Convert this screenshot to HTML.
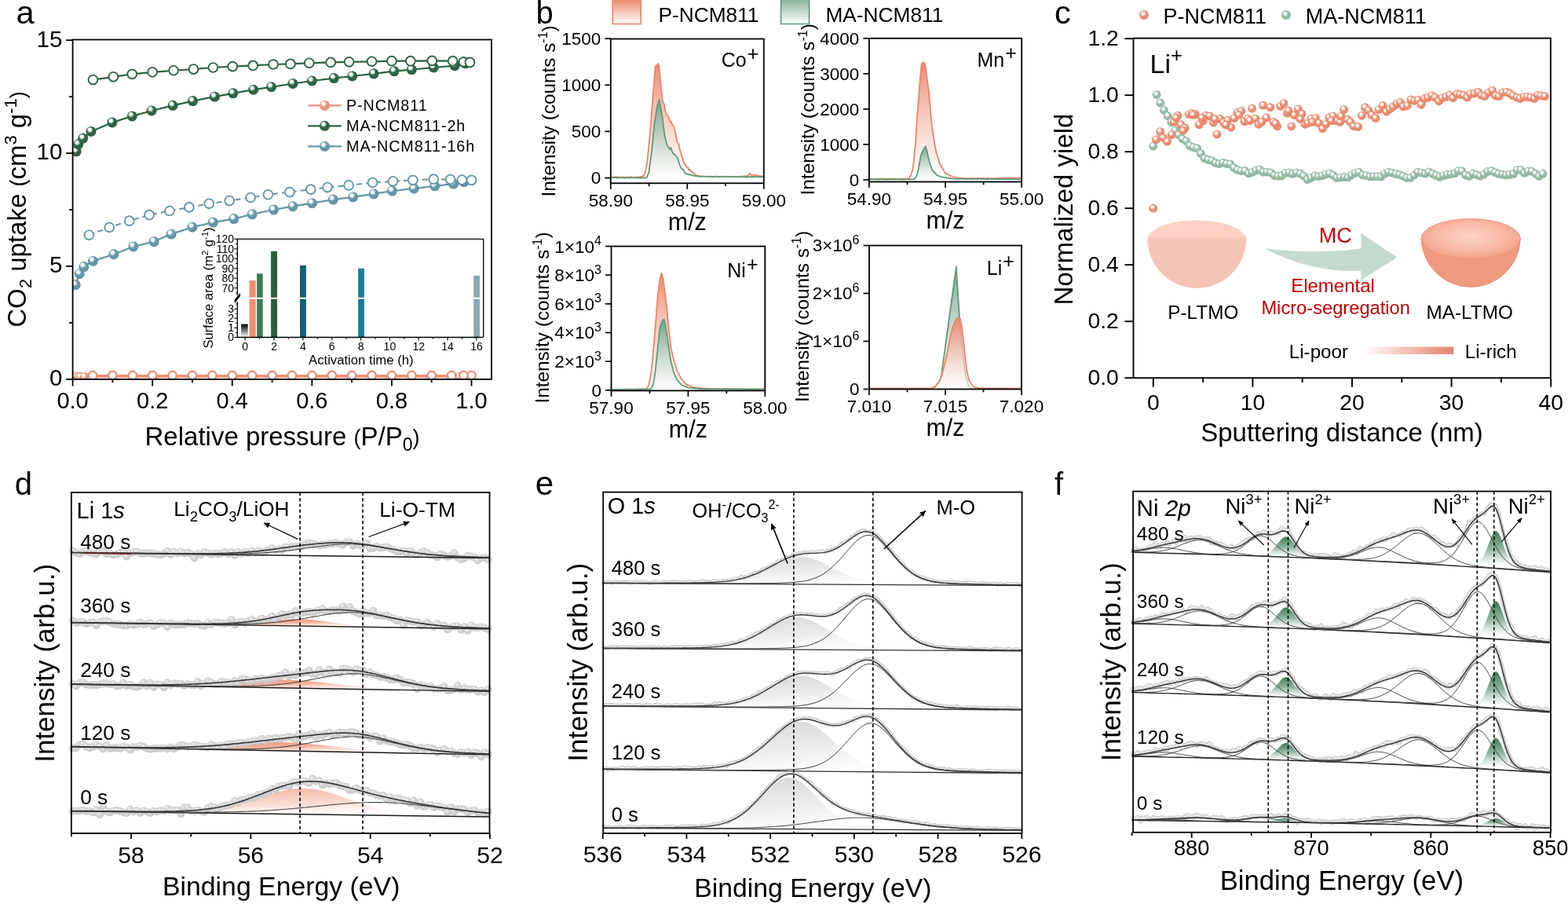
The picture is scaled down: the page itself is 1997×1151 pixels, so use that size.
<!DOCTYPE html>
<html><head><meta charset="utf-8"><title>Figure</title>
<style>html,body{margin:0;padding:0;background:#fff;}svg{display:block;}</style></head>
<body><svg width="1997" height="1151" viewBox="0 0 1997 1151" font-family="'Liberation Sans', Arial, sans-serif">
<defs><radialGradient id="bS" cx="0.42" cy="0.4" r="0.62" fx="0.36" fy="0.3"><stop offset="0" stop-color="#fff"/><stop offset="0.22" stop-color="#fff" stop-opacity="0.95"/><stop offset="0.5" stop-color="#EC9276"/><stop offset="0.85" stop-color="#EC9276"/><stop offset="1" stop-color="#E5866A"/></radialGradient><radialGradient id="bG" cx="0.42" cy="0.4" r="0.62" fx="0.36" fy="0.3"><stop offset="0" stop-color="#fff"/><stop offset="0.22" stop-color="#fff" stop-opacity="0.95"/><stop offset="0.5" stop-color="#2B6444"/><stop offset="0.85" stop-color="#2B6444"/><stop offset="1" stop-color="#265A3C"/></radialGradient><radialGradient id="bT" cx="0.42" cy="0.4" r="0.62" fx="0.36" fy="0.3"><stop offset="0" stop-color="#fff"/><stop offset="0.22" stop-color="#fff" stop-opacity="0.95"/><stop offset="0.5" stop-color="#6396A8"/><stop offset="0.85" stop-color="#6396A8"/><stop offset="1" stop-color="#5A8C9E"/></radialGradient><linearGradient id="gBlk" x1="0" y1="0" x2="0" y2="1"><stop offset="0" stop-color="#000"/><stop offset="1" stop-color="#fff"/></linearGradient><clipPath id="clipA"><rect x="92.6" y="50.5" width="533.40" height="432.40"/></clipPath><linearGradient id="gSal" x1="0" y1="0" x2="0" y2="1"><stop offset="0" stop-color="#EB8467" stop-opacity="0.95"/><stop offset="1" stop-color="#fff" stop-opacity="0.6"/></linearGradient><linearGradient id="gGrn" x1="0" y1="0" x2="0" y2="1"><stop offset="0" stop-color="#6FA286" stop-opacity="0.95"/><stop offset="1" stop-color="#fff" stop-opacity="0.6"/></linearGradient><linearGradient id="gSalL" x1="0" y1="0" x2="0" y2="1"><stop offset="0" stop-color="#EB8467"/><stop offset="1" stop-color="#fff"/></linearGradient><linearGradient id="gGrnL" x1="0" y1="0" x2="0" y2="1"><stop offset="0" stop-color="#86B096"/><stop offset="1" stop-color="#fff"/></linearGradient><radialGradient id="cS" cx="0.45" cy="0.42" r="0.6" fx="0.38" fy="0.32"><stop offset="0" stop-color="#fff"/><stop offset="0.2" stop-color="#fff" stop-opacity="0.9"/><stop offset="0.52" stop-color="#EC8D70"/><stop offset="1" stop-color="#E88469"/></radialGradient><radialGradient id="cG" cx="0.45" cy="0.42" r="0.6" fx="0.38" fy="0.32"><stop offset="0" stop-color="#fff"/><stop offset="0.2" stop-color="#fff" stop-opacity="0.9"/><stop offset="0.52" stop-color="#97BCA7"/><stop offset="1" stop-color="#8CB39D"/></radialGradient><radialGradient id="bowlTop" cx="0.5" cy="0.45" r="0.6"><stop offset="0" stop-color="#FDD3C6"/><stop offset="0.6" stop-color="#F8B8A4"/><stop offset="1" stop-color="#F39A80"/></radialGradient><linearGradient id="liGrad" x1="0" y1="0" x2="1" y2="0"><stop offset="0" stop-color="#fff"/><stop offset="1" stop-color="#E8826A"/></linearGradient><radialGradient id="gBall" cx="0.45" cy="0.42" r="0.6" fx="0.4" fy="0.35"><stop offset="0" stop-color="#f4f4f4"/><stop offset="0.45" stop-color="#d6d6d6"/><stop offset="1" stop-color="#c6c6c6"/></radialGradient><linearGradient id="dSal" x1="0.15" y1="0" x2="0.85" y2="0.9"><stop offset="0" stop-color="#EC876A"/><stop offset="0.45" stop-color="#F2A58E" stop-opacity="0.85"/><stop offset="1" stop-color="#fff" stop-opacity="0"/></linearGradient><linearGradient id="dSal0" x1="0.3" y1="0" x2="0.6" y2="1"><stop offset="0" stop-color="#F3B4A1"/><stop offset="0.6" stop-color="#F8D6CB" stop-opacity="0.8"/><stop offset="1" stop-color="#fff" stop-opacity="0"/></linearGradient><marker id="ah" viewBox="0 0 10 10" refX="9" refY="5" markerWidth="8" markerHeight="8" markerUnits="userSpaceOnUse" orient="auto"><path d="M0,0.5 L10,5 L0,9.5 Z" fill="#000"/></marker><linearGradient id="eGray" x1="0.2" y1="0" x2="0.75" y2="1"><stop offset="0" stop-color="#d6d6d6"/><stop offset="0.55" stop-color="#eeeeee"/><stop offset="1" stop-color="#fff" stop-opacity="0.3"/></linearGradient><marker id="ah2" viewBox="0 0 10 10" refX="9" refY="5" markerWidth="7" markerHeight="7" markerUnits="userSpaceOnUse" orient="auto"><path d="M0,1 L10,5 L0,9 Z" fill="#000"/></marker><linearGradient id="fGrn" x1="0" y1="0" x2="0" y2="1"><stop offset="0" stop-color="#3D7C59"/><stop offset="0.45" stop-color="#8FB7A0"/><stop offset="0.85" stop-color="#fff" stop-opacity="0.6"/><stop offset="1" stop-color="#fff" stop-opacity="0.3"/></linearGradient></defs>
<rect width="1997" height="1151" fill="#fff"/>
<g clip-path="url(#clipA)">
<path d="M95.1,480 97.7,480 100.2,480 102.8,480 107.8,480 118,480 143.4,480 168.8,480 194.2,480 219.6,480 245,480 270.4,480 295.8,480 321.2,480 346.5,480 371.9,480 397.3,480 422.7,480 448.1,480 473.5,480 498.9,480 524.3,480 549.7,480 575.1,480 585.3,480 592.9,480 598,480" fill="none" stroke="#EC9276" stroke-width="2.2" stroke-linejoin="round" />
<path d="M118,478 143.4,478 168.8,478 194.2,478 219.6,478 245,478 270.4,478 295.8,478 321.2,478 346.5,478 371.9,478 397.3,478 422.7,478 448.1,478 473.5,478 498.9,478 524.3,478 549.7,478 575.1,478 590.3,478 600.5,478" fill="none" stroke="#EC9276" stroke-width="2.2" stroke-linejoin="round" />
<circle cx="95.14" cy="480.02" r="6" fill="url(#bS)"/>
<circle cx="97.68" cy="480.02" r="6" fill="url(#bS)"/>
<circle cx="100.22" cy="480.02" r="6" fill="url(#bS)"/>
<circle cx="102.76" cy="480.02" r="6" fill="url(#bS)"/>
<circle cx="107.84" cy="480.02" r="6" fill="url(#bS)"/>
<circle cx="117.99" cy="480.02" r="6" fill="url(#bS)"/>
<circle cx="143.39" cy="480.02" r="6" fill="url(#bS)"/>
<circle cx="168.78" cy="480.02" r="6" fill="url(#bS)"/>
<circle cx="194.18" cy="480.02" r="6" fill="url(#bS)"/>
<circle cx="219.57" cy="480.02" r="6" fill="url(#bS)"/>
<circle cx="244.97" cy="480.02" r="6" fill="url(#bS)"/>
<circle cx="270.37" cy="480.02" r="6" fill="url(#bS)"/>
<circle cx="295.76" cy="480.02" r="6" fill="url(#bS)"/>
<circle cx="321.15" cy="480.02" r="6" fill="url(#bS)"/>
<circle cx="346.55" cy="480.02" r="6" fill="url(#bS)"/>
<circle cx="371.95" cy="480.02" r="6" fill="url(#bS)"/>
<circle cx="397.34" cy="480.02" r="6" fill="url(#bS)"/>
<circle cx="422.74" cy="480.02" r="6" fill="url(#bS)"/>
<circle cx="448.13" cy="480.02" r="6" fill="url(#bS)"/>
<circle cx="473.52" cy="480.02" r="6" fill="url(#bS)"/>
<circle cx="498.92" cy="480.02" r="6" fill="url(#bS)"/>
<circle cx="524.31" cy="480.02" r="6" fill="url(#bS)"/>
<circle cx="549.71" cy="480.02" r="6" fill="url(#bS)"/>
<circle cx="575.1" cy="480.02" r="6" fill="url(#bS)"/>
<circle cx="585.26" cy="480.02" r="6" fill="url(#bS)"/>
<circle cx="592.88" cy="480.02" r="6" fill="url(#bS)"/>
<circle cx="597.96" cy="480.02" r="6" fill="url(#bS)"/>
<circle cx="117.99" cy="478.01" r="5.2" fill="#fff" stroke="#EC9276" stroke-width="2.4"/>
<circle cx="143.39" cy="478.01" r="5.2" fill="#fff" stroke="#EC9276" stroke-width="2.4"/>
<circle cx="168.78" cy="478.01" r="5.2" fill="#fff" stroke="#EC9276" stroke-width="2.4"/>
<circle cx="194.18" cy="478.01" r="5.2" fill="#fff" stroke="#EC9276" stroke-width="2.4"/>
<circle cx="219.57" cy="478.01" r="5.2" fill="#fff" stroke="#EC9276" stroke-width="2.4"/>
<circle cx="244.97" cy="478.01" r="5.2" fill="#fff" stroke="#EC9276" stroke-width="2.4"/>
<circle cx="270.37" cy="478.01" r="5.2" fill="#fff" stroke="#EC9276" stroke-width="2.4"/>
<circle cx="295.76" cy="478.01" r="5.2" fill="#fff" stroke="#EC9276" stroke-width="2.4"/>
<circle cx="321.15" cy="478.01" r="5.2" fill="#fff" stroke="#EC9276" stroke-width="2.4"/>
<circle cx="346.55" cy="478.01" r="5.2" fill="#fff" stroke="#EC9276" stroke-width="2.4"/>
<circle cx="371.95" cy="478.01" r="5.2" fill="#fff" stroke="#EC9276" stroke-width="2.4"/>
<circle cx="397.34" cy="478.01" r="5.2" fill="#fff" stroke="#EC9276" stroke-width="2.4"/>
<circle cx="422.74" cy="478.01" r="5.2" fill="#fff" stroke="#EC9276" stroke-width="2.4"/>
<circle cx="448.13" cy="478.01" r="5.2" fill="#fff" stroke="#EC9276" stroke-width="2.4"/>
<circle cx="473.52" cy="478.01" r="5.2" fill="#fff" stroke="#EC9276" stroke-width="2.4"/>
<circle cx="498.92" cy="478.01" r="5.2" fill="#fff" stroke="#EC9276" stroke-width="2.4"/>
<circle cx="524.31" cy="478.01" r="5.2" fill="#fff" stroke="#EC9276" stroke-width="2.4"/>
<circle cx="549.71" cy="478.01" r="5.2" fill="#fff" stroke="#EC9276" stroke-width="2.4"/>
<circle cx="575.1" cy="478.01" r="5.2" fill="#fff" stroke="#EC9276" stroke-width="2.4"/>
<circle cx="590.34" cy="478.01" r="5.2" fill="#fff" stroke="#EC9276" stroke-width="2.4"/>
<circle cx="600.5" cy="478.01" r="5.2" fill="#fff" stroke="#EC9276" stroke-width="2.4"/>
<path d="M96.2,362.6 101.2,348.5 106.8,339.6 118.5,332.4 144.9,323.7 169.8,314 196.2,307.6 218.1,298.1 245,289.2 271.4,283.2 297.8,278.6 321.2,272.8 348.6,267 373,262.7 397.3,258.7 424.3,254.1 449.7,250.9 476.1,246.9 499.4,243.2 527.4,240 553.8,236.8 577.6,234.2 590.8,231.7 600.5,229.3" fill="none" stroke="#6396A8" stroke-width="2.2" stroke-linejoin="round" />
<circle cx="96.16" cy="362.6" r="6.5" fill="url(#bT)"/>
<circle cx="101.23" cy="348.5" r="6.5" fill="url(#bT)"/>
<circle cx="106.82" cy="339.58" r="6.5" fill="url(#bT)"/>
<circle cx="118.5" cy="332.38" r="6.5" fill="url(#bT)"/>
<circle cx="144.91" cy="323.75" r="6.5" fill="url(#bT)"/>
<circle cx="169.8" cy="313.96" r="6.5" fill="url(#bT)"/>
<circle cx="196.21" cy="307.63" r="6.5" fill="url(#bT)"/>
<circle cx="218.05" cy="298.13" r="6.5" fill="url(#bT)"/>
<circle cx="244.97" cy="289.21" r="6.5" fill="url(#bT)"/>
<circle cx="271.38" cy="283.17" r="6.5" fill="url(#bT)"/>
<circle cx="297.79" cy="278.56" r="6.5" fill="url(#bT)"/>
<circle cx="321.15" cy="272.81" r="6.5" fill="url(#bT)"/>
<circle cx="348.58" cy="267.05" r="6.5" fill="url(#bT)"/>
<circle cx="372.96" cy="262.73" r="6.5" fill="url(#bT)"/>
<circle cx="397.34" cy="258.7" r="6.5" fill="url(#bT)"/>
<circle cx="424.26" cy="254.1" r="6.5" fill="url(#bT)"/>
<circle cx="449.65" cy="250.93" r="6.5" fill="url(#bT)"/>
<circle cx="476.06" cy="246.9" r="6.5" fill="url(#bT)"/>
<circle cx="499.43" cy="243.16" r="6.5" fill="url(#bT)"/>
<circle cx="527.36" cy="240" r="6.5" fill="url(#bT)"/>
<circle cx="553.77" cy="236.83" r="6.5" fill="url(#bT)"/>
<circle cx="577.64" cy="234.24" r="6.5" fill="url(#bT)"/>
<circle cx="590.85" cy="231.65" r="6.5" fill="url(#bT)"/>
<circle cx="600.5" cy="229.35" r="6.5" fill="url(#bT)"/>
<path d="M113.4,299.3 139.3,289.5 164.7,281.2 190.1,273.7 216,268.5 240.9,263.9 266.3,259.3 292.2,255.5 319.1,251.5 341.5,247.8 368.9,244.6 395.8,241.1 417.1,238.6 444.1,236 474.5,232.5 500.4,230.8 525.8,229.3 552.2,228.2 573.6,228.5 588.3,229.1 600.5,229.3" fill="none" stroke="#6396A8" stroke-width="2.0" stroke-linejoin="round" stroke-dasharray="7 5"/>
<circle cx="113.42" cy="299.28" r="5.9" fill="#fff" stroke="#6396A8" stroke-width="1.9"/>
<circle cx="139.33" cy="289.5" r="5.9" fill="#fff" stroke="#6396A8" stroke-width="1.9"/>
<circle cx="164.72" cy="281.15" r="5.9" fill="#fff" stroke="#6396A8" stroke-width="1.9"/>
<circle cx="190.12" cy="273.67" r="5.9" fill="#fff" stroke="#6396A8" stroke-width="1.9"/>
<circle cx="216.02" cy="268.49" r="5.9" fill="#fff" stroke="#6396A8" stroke-width="1.9"/>
<circle cx="240.91" cy="263.88" r="5.9" fill="#fff" stroke="#6396A8" stroke-width="1.9"/>
<circle cx="266.3" cy="259.28" r="5.9" fill="#fff" stroke="#6396A8" stroke-width="1.9"/>
<circle cx="292.2" cy="255.54" r="5.9" fill="#fff" stroke="#6396A8" stroke-width="1.9"/>
<circle cx="319.12" cy="251.51" r="5.9" fill="#fff" stroke="#6396A8" stroke-width="1.9"/>
<circle cx="341.47" cy="247.77" r="5.9" fill="#fff" stroke="#6396A8" stroke-width="1.9"/>
<circle cx="368.9" cy="244.6" r="5.9" fill="#fff" stroke="#6396A8" stroke-width="1.9"/>
<circle cx="395.82" cy="241.15" r="5.9" fill="#fff" stroke="#6396A8" stroke-width="1.9"/>
<circle cx="417.15" cy="238.56" r="5.9" fill="#fff" stroke="#6396A8" stroke-width="1.9"/>
<circle cx="444.07" cy="235.97" r="5.9" fill="#fff" stroke="#6396A8" stroke-width="1.9"/>
<circle cx="474.54" cy="232.51" r="5.9" fill="#fff" stroke="#6396A8" stroke-width="1.9"/>
<circle cx="500.44" cy="230.79" r="5.9" fill="#fff" stroke="#6396A8" stroke-width="1.9"/>
<circle cx="525.84" cy="229.35" r="5.9" fill="#fff" stroke="#6396A8" stroke-width="1.9"/>
<circle cx="552.25" cy="228.2" r="5.9" fill="#fff" stroke="#6396A8" stroke-width="1.9"/>
<circle cx="573.58" cy="228.48" r="5.9" fill="#fff" stroke="#6396A8" stroke-width="1.9"/>
<circle cx="588.31" cy="229.06" r="5.9" fill="#fff" stroke="#6396A8" stroke-width="1.9"/>
<circle cx="600.5" cy="229.35" r="5.9" fill="#fff" stroke="#6396A8" stroke-width="1.9"/>
<path d="M97.2,192.8 99.7,183.6 105.8,176.1 116,167.5 142.9,156 168.3,147.9 193.2,141 220.1,134.4 245.5,128.6 273.4,123.1 296.8,118.8 322.7,114.2 345.5,110.8 373,106.5 397.3,103 425.3,99.6 448.6,97 476.1,93.8 502,90.6 524.3,88.6 552.2,86 579.2,83.7 592.9,80.8 598.5,79.4" fill="none" stroke="#2B6444" stroke-width="2.2" stroke-linejoin="round" />
<circle cx="97.17" cy="192.8" r="6.5" fill="url(#bG)"/>
<circle cx="99.71" cy="183.59" r="6.5" fill="url(#bG)"/>
<circle cx="105.81" cy="176.11" r="6.5" fill="url(#bG)"/>
<circle cx="115.96" cy="167.47" r="6.5" fill="url(#bG)"/>
<circle cx="142.88" cy="155.96" r="6.5" fill="url(#bG)"/>
<circle cx="168.28" cy="147.9" r="6.5" fill="url(#bG)"/>
<circle cx="193.16" cy="140.99" r="6.5" fill="url(#bG)"/>
<circle cx="220.08" cy="134.37" r="6.5" fill="url(#bG)"/>
<circle cx="245.48" cy="128.62" r="6.5" fill="url(#bG)"/>
<circle cx="273.41" cy="123.15" r="6.5" fill="url(#bG)"/>
<circle cx="296.78" cy="118.83" r="6.5" fill="url(#bG)"/>
<circle cx="322.68" cy="114.23" r="6.5" fill="url(#bG)"/>
<circle cx="345.53" cy="110.77" r="6.5" fill="url(#bG)"/>
<circle cx="372.96" cy="106.46" r="6.5" fill="url(#bG)"/>
<circle cx="397.34" cy="103" r="6.5" fill="url(#bG)"/>
<circle cx="425.27" cy="99.55" r="6.5" fill="url(#bG)"/>
<circle cx="448.64" cy="96.96" r="6.5" fill="url(#bG)"/>
<circle cx="476.06" cy="93.79" r="6.5" fill="url(#bG)"/>
<circle cx="501.97" cy="90.63" r="6.5" fill="url(#bG)"/>
<circle cx="524.31" cy="88.61" r="6.5" fill="url(#bG)"/>
<circle cx="552.25" cy="86.02" r="6.5" fill="url(#bG)"/>
<circle cx="579.17" cy="83.72" r="6.5" fill="url(#bG)"/>
<circle cx="592.88" cy="80.84" r="6.5" fill="url(#bG)"/>
<circle cx="598.47" cy="79.4" r="6.5" fill="url(#bG)"/>
<path d="M118.5,101.6 144.4,97.8 168.3,94.4 194.2,91.8 221.1,89.8 246.5,88 271.4,86 296.3,84.6 322.2,83.4 348.1,82 369.9,81.4 393.8,80.3 421.2,79.4 444.6,78.8 473.5,78.3 498.9,77.7 522.8,77.7 550.2,77.4 576.6,77.7 590.3,78.8 598.5,79.4" fill="none" stroke="#2B6444" stroke-width="2.2" stroke-linejoin="round" />
<circle cx="118.5" cy="101.56" r="5.9" fill="#fff" stroke="#2B6444" stroke-width="1.9"/>
<circle cx="144.41" cy="97.82" r="5.9" fill="#fff" stroke="#2B6444" stroke-width="1.9"/>
<circle cx="168.28" cy="94.37" r="5.9" fill="#fff" stroke="#2B6444" stroke-width="1.9"/>
<circle cx="194.18" cy="91.78" r="5.9" fill="#fff" stroke="#2B6444" stroke-width="1.9"/>
<circle cx="221.1" cy="89.77" r="5.9" fill="#fff" stroke="#2B6444" stroke-width="1.9"/>
<circle cx="246.49" cy="88.04" r="5.9" fill="#fff" stroke="#2B6444" stroke-width="1.9"/>
<circle cx="271.38" cy="86.02" r="5.9" fill="#fff" stroke="#2B6444" stroke-width="1.9"/>
<circle cx="296.27" cy="84.58" r="5.9" fill="#fff" stroke="#2B6444" stroke-width="1.9"/>
<circle cx="322.17" cy="83.43" r="5.9" fill="#fff" stroke="#2B6444" stroke-width="1.9"/>
<circle cx="348.07" cy="81.99" r="5.9" fill="#fff" stroke="#2B6444" stroke-width="1.9"/>
<circle cx="369.91" cy="81.42" r="5.9" fill="#fff" stroke="#2B6444" stroke-width="1.9"/>
<circle cx="393.78" cy="80.27" r="5.9" fill="#fff" stroke="#2B6444" stroke-width="1.9"/>
<circle cx="421.21" cy="79.4" r="5.9" fill="#fff" stroke="#2B6444" stroke-width="1.9"/>
<circle cx="444.57" cy="78.83" r="5.9" fill="#fff" stroke="#2B6444" stroke-width="1.9"/>
<circle cx="473.52" cy="78.25" r="5.9" fill="#fff" stroke="#2B6444" stroke-width="1.9"/>
<circle cx="498.92" cy="77.68" r="5.9" fill="#fff" stroke="#2B6444" stroke-width="1.9"/>
<circle cx="522.79" cy="77.68" r="5.9" fill="#fff" stroke="#2B6444" stroke-width="1.9"/>
<circle cx="550.22" cy="77.39" r="5.9" fill="#fff" stroke="#2B6444" stroke-width="1.9"/>
<circle cx="576.63" cy="77.68" r="5.9" fill="#fff" stroke="#2B6444" stroke-width="1.9"/>
<circle cx="590.34" cy="78.83" r="5.9" fill="#fff" stroke="#2B6444" stroke-width="1.9"/>
<circle cx="598.47" cy="79.4" r="5.9" fill="#fff" stroke="#2B6444" stroke-width="1.9"/>
</g>
<rect x="92.6" y="50.5" width="533.4" height="432.4" fill="none" stroke="#000" stroke-width="1.8"/>
<line x1="84.1" y1="482.9" x2="92.6" y2="482.9" stroke="#000" stroke-width="1.8" />
<text x="79.3" y="491.2" font-size="29.5" text-anchor="end" fill="#000" >0</text>
<line x1="84.1" y1="339" x2="92.6" y2="339" stroke="#000" stroke-width="1.8" />
<text x="79.3" y="347.3" font-size="29.5" text-anchor="end" fill="#000" >5</text>
<line x1="84.1" y1="195.1" x2="92.6" y2="195.1" stroke="#000" stroke-width="1.8" />
<text x="79.3" y="203.4" font-size="29.5" text-anchor="end" fill="#000" >10</text>
<line x1="84.1" y1="51.2" x2="92.6" y2="51.2" stroke="#000" stroke-width="1.8" />
<text x="79.3" y="59.5" font-size="29.5" text-anchor="end" fill="#000" >15</text>
<line x1="88.1" y1="410.95" x2="92.6" y2="410.95" stroke="#000" stroke-width="1.8" />
<line x1="88.1" y1="267.05" x2="92.6" y2="267.05" stroke="#000" stroke-width="1.8" />
<line x1="88.1" y1="123.15" x2="92.6" y2="123.15" stroke="#000" stroke-width="1.8" />
<line x1="92.6" y1="482.9" x2="92.6" y2="491.5" stroke="#000" stroke-width="1.8" />
<text x="92.6" y="520.2" font-size="29" text-anchor="middle" fill="#000" >0.0</text>
<line x1="143.39" y1="482.9" x2="143.39" y2="487.2" stroke="#000" stroke-width="1.8" />
<line x1="194.18" y1="482.9" x2="194.18" y2="491.5" stroke="#000" stroke-width="1.8" />
<text x="194.18" y="520.2" font-size="29" text-anchor="middle" fill="#000" >0.2</text>
<line x1="244.97" y1="482.9" x2="244.97" y2="487.2" stroke="#000" stroke-width="1.8" />
<line x1="295.76" y1="482.9" x2="295.76" y2="491.5" stroke="#000" stroke-width="1.8" />
<text x="295.76" y="520.2" font-size="29" text-anchor="middle" fill="#000" >0.4</text>
<line x1="346.55" y1="482.9" x2="346.55" y2="487.2" stroke="#000" stroke-width="1.8" />
<line x1="397.34" y1="482.9" x2="397.34" y2="491.5" stroke="#000" stroke-width="1.8" />
<text x="397.34" y="520.2" font-size="29" text-anchor="middle" fill="#000" >0.6</text>
<line x1="448.13" y1="482.9" x2="448.13" y2="487.2" stroke="#000" stroke-width="1.8" />
<line x1="498.92" y1="482.9" x2="498.92" y2="491.5" stroke="#000" stroke-width="1.8" />
<text x="498.92" y="520.2" font-size="29" text-anchor="middle" fill="#000" >0.8</text>
<line x1="549.71" y1="482.9" x2="549.71" y2="487.2" stroke="#000" stroke-width="1.8" />
<line x1="600.5" y1="482.9" x2="600.5" y2="491.5" stroke="#000" stroke-width="1.8" />
<text x="600.5" y="520.2" font-size="29" text-anchor="middle" fill="#000" >1.0</text>
<text x="359.5" y="567" font-size="33" text-anchor="middle">Relative pressure <tspan font-size="27" dy="-1.5">(</tspan><tspan dy="1.5">P/P</tspan><tspan font-size="23" dy="7">0</tspan><tspan font-size="27" dy="-8.5">)</tspan></text>
<text transform="translate(33,266.5) rotate(-90)" font-size="33" text-anchor="middle">CO<tspan font-size="22" dy="7">2</tspan><tspan dy="-7"> uptake </tspan><tspan font-size="27" dy="-1.5">(</tspan><tspan dy="1.5">cm</tspan><tspan font-size="22" dy="-12">3</tspan><tspan dy="12"> g</tspan><tspan font-size="22" dy="-12">-1</tspan><tspan font-size="27" dy="10.5">)</tspan></text>
<line x1="392.1" y1="134.3" x2="434.9" y2="134.3" stroke="#EC9276" stroke-width="2.3" />
<circle cx="413.5" cy="134.3" r="6.5" fill="url(#bS)"/>
<text x="441" y="141.3" font-size="19.8" text-anchor="start" fill="#000" letter-spacing="0.9">P-NCM811</text>
<line x1="392.1" y1="160.35" x2="434.9" y2="160.35" stroke="#2B6444" stroke-width="2.3" />
<circle cx="413.5" cy="160.35" r="6.5" fill="url(#bG)"/>
<text x="441" y="167.35" font-size="19.8" text-anchor="start" fill="#000" letter-spacing="0.9">MA-NCM811-2h</text>
<line x1="392.1" y1="186.4" x2="434.9" y2="186.4" stroke="#6396A8" stroke-width="2.3" />
<circle cx="413.5" cy="186.4" r="6.5" fill="url(#bT)"/>
<text x="441" y="193.4" font-size="19.8" text-anchor="start" fill="#000" letter-spacing="0.9">MA-NCM811-16h</text>
<rect x="307.1" y="412.7" width="8.6" height="16.8" fill="url(#gBlk)" stroke="none" stroke-width="1" />
<rect x="317.6" y="357.2" width="8.1" height="72.3" fill="#EE8F72" stroke="none" stroke-width="1" />
<rect x="327.1" y="348.4" width="7.6" height="81.1" fill="#3A7A55" stroke="none" stroke-width="1" />
<rect x="345.1" y="319.9" width="7.9" height="109.6" fill="#2A5E40" stroke="none" stroke-width="1" />
<rect x="382" y="338" width="7.9" height="91.5" fill="#1A5C73" stroke="none" stroke-width="1" />
<rect x="456.1" y="341.8" width="7.8" height="87.7" fill="#1B7C9C" stroke="none" stroke-width="1" />
<rect x="603.2" y="350.9" width="7.8" height="78.6" fill="#85ABB5" stroke="none" stroke-width="1" />
<line x1="302.3" y1="379.8" x2="615.7" y2="379.8" stroke="#fff" stroke-width="2" />
<path d="M302.3,429.5 V384 M302.3,376 V304.3 H615.7 V429.5" fill="none" stroke="#000" stroke-width="1.3"/>
<line x1="302.3" y1="429.5" x2="615.7" y2="429.5" stroke="#000" stroke-width="1.3" />
<line x1="298.8" y1="385" x2="305.8" y2="376" stroke="#000" stroke-width="1.6" />
<line x1="298.8" y1="383" x2="305.8" y2="374" stroke="#000" stroke-width="1.6" />
<line x1="298.3" y1="429.5" x2="302.3" y2="429.5" stroke="#000" stroke-width="1.1" />
<text x="298" y="434.4" font-size="14" text-anchor="end" fill="#000" >0</text>
<line x1="298.3" y1="417.4" x2="302.3" y2="417.4" stroke="#000" stroke-width="1.1" />
<text x="298" y="422.3" font-size="14" text-anchor="end" fill="#000" >1</text>
<line x1="298.3" y1="405.3" x2="302.3" y2="405.3" stroke="#000" stroke-width="1.1" />
<text x="298" y="410.2" font-size="14" text-anchor="end" fill="#000" >2</text>
<line x1="298.3" y1="393.2" x2="302.3" y2="393.2" stroke="#000" stroke-width="1.1" />
<text x="298" y="398.1" font-size="14" text-anchor="end" fill="#000" >3</text>
<line x1="300.1" y1="423.45" x2="302.3" y2="423.45" stroke="#000" stroke-width="1.0" />
<line x1="300.1" y1="411.35" x2="302.3" y2="411.35" stroke="#000" stroke-width="1.0" />
<line x1="300.1" y1="399.25" x2="302.3" y2="399.25" stroke="#000" stroke-width="1.0" />
<line x1="300.1" y1="387.15" x2="302.3" y2="387.15" stroke="#000" stroke-width="1.0" />
<line x1="298.3" y1="366.7" x2="302.3" y2="366.7" stroke="#000" stroke-width="1.1" />
<text x="298" y="371.6" font-size="14" text-anchor="end" fill="#000" >70</text>
<line x1="298.3" y1="354.22" x2="302.3" y2="354.22" stroke="#000" stroke-width="1.1" />
<text x="298" y="359.12" font-size="14" text-anchor="end" fill="#000" >80</text>
<line x1="298.3" y1="341.74" x2="302.3" y2="341.74" stroke="#000" stroke-width="1.1" />
<text x="298" y="346.64" font-size="14" text-anchor="end" fill="#000" >90</text>
<line x1="298.3" y1="329.26" x2="302.3" y2="329.26" stroke="#000" stroke-width="1.1" />
<text x="298" y="334.16" font-size="14" text-anchor="end" fill="#000" >100</text>
<line x1="298.3" y1="316.78" x2="302.3" y2="316.78" stroke="#000" stroke-width="1.1" />
<text x="298" y="321.68" font-size="14" text-anchor="end" fill="#000" >110</text>
<line x1="298.3" y1="304.3" x2="302.3" y2="304.3" stroke="#000" stroke-width="1.1" />
<text x="298" y="309.2" font-size="14" text-anchor="end" fill="#000" >120</text>
<line x1="300.1" y1="372.94" x2="302.3" y2="372.94" stroke="#000" stroke-width="1.0" />
<line x1="300.1" y1="360.46" x2="302.3" y2="360.46" stroke="#000" stroke-width="1.0" />
<line x1="300.1" y1="347.98" x2="302.3" y2="347.98" stroke="#000" stroke-width="1.0" />
<line x1="300.1" y1="335.5" x2="302.3" y2="335.5" stroke="#000" stroke-width="1.0" />
<line x1="300.1" y1="323.02" x2="302.3" y2="323.02" stroke="#000" stroke-width="1.0" />
<line x1="300.1" y1="310.54" x2="302.3" y2="310.54" stroke="#000" stroke-width="1.0" />
<line x1="312.2" y1="429.5" x2="312.2" y2="433.5" stroke="#000" stroke-width="1.1" />
<text x="312.2" y="446.3" font-size="14" text-anchor="middle" fill="#000" >0</text>
<line x1="330.62" y1="429.5" x2="330.62" y2="431.7" stroke="#000" stroke-width="1.1" />
<line x1="349.04" y1="429.5" x2="349.04" y2="433.5" stroke="#000" stroke-width="1.1" />
<text x="349.04" y="446.3" font-size="14" text-anchor="middle" fill="#000" >2</text>
<line x1="367.46" y1="429.5" x2="367.46" y2="431.7" stroke="#000" stroke-width="1.1" />
<line x1="385.88" y1="429.5" x2="385.88" y2="433.5" stroke="#000" stroke-width="1.1" />
<text x="385.88" y="446.3" font-size="14" text-anchor="middle" fill="#000" >4</text>
<line x1="404.3" y1="429.5" x2="404.3" y2="431.7" stroke="#000" stroke-width="1.1" />
<line x1="422.72" y1="429.5" x2="422.72" y2="433.5" stroke="#000" stroke-width="1.1" />
<text x="422.72" y="446.3" font-size="14" text-anchor="middle" fill="#000" >6</text>
<line x1="441.14" y1="429.5" x2="441.14" y2="431.7" stroke="#000" stroke-width="1.1" />
<line x1="459.56" y1="429.5" x2="459.56" y2="433.5" stroke="#000" stroke-width="1.1" />
<text x="459.56" y="446.3" font-size="14" text-anchor="middle" fill="#000" >8</text>
<line x1="477.98" y1="429.5" x2="477.98" y2="431.7" stroke="#000" stroke-width="1.1" />
<line x1="496.4" y1="429.5" x2="496.4" y2="433.5" stroke="#000" stroke-width="1.1" />
<text x="496.4" y="446.3" font-size="14" text-anchor="middle" fill="#000" >10</text>
<line x1="514.82" y1="429.5" x2="514.82" y2="431.7" stroke="#000" stroke-width="1.1" />
<line x1="533.24" y1="429.5" x2="533.24" y2="433.5" stroke="#000" stroke-width="1.1" />
<text x="533.24" y="446.3" font-size="14" text-anchor="middle" fill="#000" >12</text>
<line x1="551.66" y1="429.5" x2="551.66" y2="431.7" stroke="#000" stroke-width="1.1" />
<line x1="570.08" y1="429.5" x2="570.08" y2="433.5" stroke="#000" stroke-width="1.1" />
<text x="570.08" y="446.3" font-size="14" text-anchor="middle" fill="#000" >14</text>
<line x1="588.5" y1="429.5" x2="588.5" y2="431.7" stroke="#000" stroke-width="1.1" />
<line x1="606.92" y1="429.5" x2="606.92" y2="433.5" stroke="#000" stroke-width="1.1" />
<text x="606.92" y="446.3" font-size="14" text-anchor="middle" fill="#000" >16</text>
<text x="459.8" y="464.4" font-size="16.7" text-anchor="middle" fill="#000" >Activation time (h)</text>
<text transform="translate(271,366.5) rotate(-90)" font-size="16.5" text-anchor="middle">Surface area (m<tspan font-size="11.5" dy="-6.5">2</tspan><tspan dy="6.5"> g</tspan><tspan font-size="11.5" dy="-6.5">-1</tspan><tspan dy="6.5">)</tspan></text>
<text x="20.5" y="29.7" font-size="41.5" text-anchor="start" fill="#000" >a</text>
<rect x="780.2" y="-2" width="36" height="32.5" fill="url(#gSalL)" stroke="#EE8466" stroke-width="1.6" />
<text x="838.4" y="28.2" font-size="26.3" text-anchor="start" fill="#000" >P-NCM811</text>
<rect x="994.6" y="-2" width="36" height="32.5" fill="url(#gGrnL)" stroke="#5E9A7A" stroke-width="1.6" />
<text x="1051.4" y="28.2" font-size="26.3" text-anchor="start" fill="#000" >MA-NCM811</text>
<text x="682.5" y="29.7" font-size="40" text-anchor="start" fill="#000" >b</text>
<path d="M778.8,225.36 L779.81,225.64 L780.81,225.48 L781.82,225.69 L782.83,225.71 L783.83,225.2 L784.84,225.16 L785.85,225.91 L786.85,225.38 L787.86,225.36 L788.86,226.05 L789.87,225.57 L790.88,225.91 L791.88,225.58 L792.89,225.73 L793.9,225.28 L794.9,225.72 L795.91,225.93 L796.92,225.62 L797.92,225.82 L798.93,225.76 L799.94,225.2 L800.94,225.83 L801.95,225.68 L802.95,225.42 L803.96,225.17 L804.97,225.93 L805.97,225.58 L806.98,225.8 L807.99,225.94 L808.99,225.79 L810,225.98 L811.08,225.4 L812.15,225.67 L813.23,225.25 L814.3,225.6 L815.38,225.44 L816.45,224.63 L817.52,224.57 L818.6,224.54 L820.05,223.07 L821.5,220.33 L822.9,213.68 L824.3,205.68 L825.5,194.29 L826.7,182.04 L827.9,170.01 L829,156.25 L830.1,141.89 L831.2,128.35 L832.9,107.77 L834.4,85.42 L835.8,82.93 L837.2,84.18 L838.3,80.95 L839.4,84.92 L840.45,96.74 L841.5,107.01 L842.6,117.6 L843.7,127.48 L844.75,130.76 L845.8,132.35 L847.25,139.71 L848.7,144.79 L850.15,146.89 L851.6,149.16 L852.67,153.02 L853.75,155.17 L854.83,154.63 L855.9,158.28 L857.3,160.12 L858.7,162.29 L860.15,169.11 L861.6,176.8 L863.05,181.37 L864.5,183.51 L865.9,190.75 L867.3,195.02 L868.38,199.62 L869.45,201.46 L870.52,205.74 L871.6,208.85 L872.76,209.33 L873.92,212.34 L875.08,212.27 L876.24,213.38 L877.4,216.46 L878.43,215.81 L879.46,217.07 L880.49,218.45 L881.51,219.8 L882.54,219.45 L883.57,219.98 L884.6,222.33 L885.68,222.25 L886.76,223.26 L887.84,223.62 L888.92,223.57 L890,224.06 L891,224.21 L892,224.41 L893,224.46 L894,224.51 L895,224.66 L896,225.04 L897,224.74 L898,224.76 L899,225.11 L900,224.76 L901,224.82 L902,225.44 L903,225.03 L904,225.06 L905,224.58 L906,224.95 L907,225.11 L908,224.6 L909,225.15 L910,225.17 L911,224.65 L912,225.18 L913,225.03 L914,225.23 L915,224.94 L916,225.27 L917,225.3 L918,224.66 L919,224.7 L920,225.26 L921,225.53 L922,224.88 L923,225.08 L924,225.2 L925,224.96 L926,225.01 L927,224.96 L928,225.02 L929,225.23 L930,224.97 L931,225.04 L932,225.41 L933,224.73 L934,225.23 L935,225.39 L936,225.01 L937,224.93 L938,225.47 L939,224.96 L940,224.92 L941,225.04 L942,225.18 L943,224.54 L944,224.64 L945,224.55 L946,224.9 L947,224.44 L948,224.72 L949,224 L950,224.05 L951,224.24 L952,224.35 L953,223.12 L954,222.08 L955,220.51 L956,222.19 L957,222.55 L958,223.78 L959,223.56 L960,222.71 L961,222.55 L962,222.78 L963,223 L964,223.53 L965,223.48 L966,223.66 L967.16,223.91 L968.32,224.47 L969.48,224.09 L970.64,224.26 L971.8,224.5 L971.8,226.5 L778.8,226.5 Z" fill="url(#gSal)" stroke="none"/>
<path d="M778.8,225.4 779.8,225.6 780.8,225.5 781.8,225.7 782.8,225.7 783.8,225.2 784.8,225.2 785.8,225.9 786.9,225.4 787.9,225.4 788.9,226.1 789.9,225.6 790.9,225.9 791.9,225.6 792.9,225.7 793.9,225.3 794.9,225.7 795.9,225.9 796.9,225.6 797.9,225.8 798.9,225.8 799.9,225.2 800.9,225.8 801.9,225.7 803,225.4 804,225.2 805,225.9 806,225.6 807,225.8 808,225.9 809,225.8 810,226 811.1,225.4 812.1,225.7 813.2,225.2 814.3,225.6 815.4,225.4 816.5,224.6 817.5,224.6 818.6,224.5 820,223.1 821.5,220.3 822.9,213.7 824.3,205.7 825.5,194.3 826.7,182 827.9,170 829,156.3 830.1,141.9 831.2,128.4 832.9,107.8 834.4,85.4 835.8,82.9 837.2,84.2 838.3,80.9 839.4,84.9 840.5,96.7 841.5,107 842.6,117.6 843.7,127.5 844.8,130.8 845.8,132.3 847.2,139.7 848.7,144.8 850.2,146.9 851.6,149.2 852.7,153 853.8,155.2 854.8,154.6 855.9,158.3 857.3,160.1 858.7,162.3 860.2,169.1 861.6,176.8 863,181.4 864.5,183.5 865.9,190.7 867.3,195 868.4,199.6 869.5,201.5 870.5,205.7 871.6,208.8 872.8,209.3 873.9,212.3 875.1,212.3 876.2,213.4 877.4,216.5 878.4,215.8 879.5,217.1 880.5,218.4 881.5,219.8 882.5,219.4 883.6,220 884.6,222.3 885.7,222.3 886.8,223.3 887.8,223.6 888.9,223.6 890,224.1 891,224.2 892,224.4 893,224.5 894,224.5 895,224.7 896,225 897,224.7 898,224.8 899,225.1 900,224.8 901,224.8 902,225.4 903,225 904,225.1 905,224.6 906,225 907,225.1 908,224.6 909,225.2 910,225.2 911,224.7 912,225.2 913,225 914,225.2 915,224.9 916,225.3 917,225.3 918,224.7 919,224.7 920,225.3 921,225.5 922,224.9 923,225.1 924,225.2 925,225 926,225 927,225 928,225 929,225.2 930,225 931,225 932,225.4 933,224.7 934,225.2 935,225.4 936,225 937,224.9 938,225.5 939,225 940,224.9 941,225 942,225.2 943,224.5 944,224.6 945,224.5 946,224.9 947,224.4 948,224.7 949,224 950,224.1 951,224.2 952,224.4 953,223.1 954,222.1 955,220.5 956,222.2 957,222.6 958,223.8 959,223.6 960,222.7 961,222.5 962,222.8 963,223 964,223.5 965,223.5 966,223.7 967.2,223.9 968.3,224.5 969.5,224.1 970.6,224.3 971.8,224.5" fill="none" stroke="#EE8466" stroke-width="1.8" stroke-linejoin="round" />
<path d="M778.8,226.13 L779.82,226.05 L780.84,226.23 L781.85,226.08 L782.87,226.03 L783.89,226.24 L784.91,226.56 L785.93,226.49 L786.95,226.47 L787.96,226.12 L788.98,226.32 L790,226.16 L791.02,226.09 L792.04,226.05 L793.05,226.12 L794.07,226.57 L795.09,226.51 L796.11,226.49 L797.13,226.49 L798.15,226.11 L799.16,226.18 L800.18,226.38 L801.2,226.45 L802.22,226.52 L803.24,226.54 L804.25,226.04 L805.27,226.37 L806.29,226.41 L807.31,226.3 L808.33,226.1 L809.35,226.28 L810.36,226.04 L811.38,226.57 L812.4,226.53 L813.42,226.33 L814.44,226.17 L815.45,226.56 L816.47,226.35 L817.49,226.54 L818.51,226.52 L819.53,226.31 L820.55,226.25 L821.56,226.36 L822.58,226.26 L823.6,226.09 L825.05,222.58 L826.5,219.66 L827.7,209.21 L828.9,200.15 L830.1,192.13 L831.3,179.54 L832.5,168.03 L833.7,155.95 L834.75,148.57 L835.8,142.6 L836.9,136.1 L838,131.44 L839.4,126.76 L840.8,133.34 L842.25,141.3 L843.7,150.04 L845.15,162.19 L846.6,172.88 L847.77,177.61 L848.93,182.53 L850.1,185.38 L851.55,187.46 L853,189.91 L854.4,188.08 L855.85,192.11 L857.3,195.73 L858.75,196.6 L860.2,197.02 L861.6,199.68 L863,201.08 L864.08,205.13 L865.15,208.36 L866.22,211.34 L867.3,213.82 L868.46,215.65 L869.62,215.37 L870.78,217.28 L871.94,219.92 L873.1,221 L874.18,220.7 L875.25,222.02 L876.33,221.8 L877.4,222.52 L878.48,222.18 L879.55,222.48 L880.62,223 L881.7,223.17 L882.74,223.5 L883.78,224.04 L884.81,223.82 L885.85,223.79 L886.89,223.99 L887.92,224.24 L888.96,224.8 L890,224.71 L891.01,224.67 L892.02,224.56 L893.03,225.12 L894.04,224.77 L895.05,224.64 L896.06,224.55 L897.07,224.55 L898.08,224.63 L899.09,224.96 L900.1,224.63 L901.11,224.57 L902.12,224.85 L903.13,224.71 L904.14,225.18 L905.15,224.64 L906.16,224.9 L907.17,225.06 L908.18,224.83 L909.19,225.2 L910.2,224.88 L911.21,224.74 L912.22,224.85 L913.23,224.62 L914.24,224.87 L915.25,224.77 L916.26,225.17 L917.27,225.14 L918.28,224.94 L919.29,224.65 L920.3,224.79 L921.31,224.79 L922.32,224.77 L923.33,224.79 L924.34,225.2 L925.35,224.75 L926.36,224.7 L927.37,225.25 L928.38,225.03 L929.39,225.3 L930.4,224.94 L931.4,225.26 L932.41,225.1 L933.42,225.2 L934.43,225.17 L935.44,225.02 L936.45,224.77 L937.46,224.85 L938.47,225.27 L939.48,225.29 L940.49,225.31 L941.5,224.95 L942.51,225.16 L943.52,225.25 L944.53,225.16 L945.54,225.27 L946.55,225.09 L947.56,225.18 L948.57,225.2 L949.58,224.95 L950.59,225.36 L951.6,225.39 L952.61,224.84 L953.62,225.41 L954.63,225.41 L955.64,225.23 L956.65,224.84 L957.66,225.38 L958.67,224.9 L959.68,225.44 L960.69,225.25 L961.7,224.87 L962.71,224.95 L963.72,225.25 L964.73,225.21 L965.74,225.33 L966.75,225.44 L967.76,225 L968.77,224.87 L969.78,225.46 L970.79,224.89 L971.8,225.2 L971.8,226.8 L778.8,226.8 Z" fill="url(#gGrn)" stroke="none"/>
<path d="M778.8,226.1 779.8,226 780.8,226.2 781.9,226.1 782.9,226 783.9,226.2 784.9,226.6 785.9,226.5 786.9,226.5 788,226.1 789,226.3 790,226.2 791,226.1 792,226.1 793.1,226.1 794.1,226.6 795.1,226.5 796.1,226.5 797.1,226.5 798.1,226.1 799.2,226.2 800.2,226.4 801.2,226.4 802.2,226.5 803.2,226.5 804.3,226 805.3,226.4 806.3,226.4 807.3,226.3 808.3,226.1 809.3,226.3 810.4,226 811.4,226.6 812.4,226.5 813.4,226.3 814.4,226.2 815.5,226.6 816.5,226.3 817.5,226.5 818.5,226.5 819.5,226.3 820.5,226.2 821.6,226.4 822.6,226.3 823.6,226.1 825,222.6 826.5,219.7 827.7,209.2 828.9,200.2 830.1,192.1 831.3,179.5 832.5,168 833.7,155.9 834.8,148.6 835.8,142.6 836.9,136.1 838,131.4 839.4,126.8 840.8,133.3 842.2,141.3 843.7,150 845.2,162.2 846.6,172.9 847.8,177.6 848.9,182.5 850.1,185.4 851.5,187.5 853,189.9 854.4,188.1 855.8,192.1 857.3,195.7 858.8,196.6 860.2,197 861.6,199.7 863,201.1 864.1,205.1 865.1,208.4 866.2,211.3 867.3,213.8 868.5,215.6 869.6,215.4 870.8,217.3 871.9,219.9 873.1,221 874.2,220.7 875.2,222 876.3,221.8 877.4,222.5 878.5,222.2 879.6,222.5 880.6,223 881.7,223.2 882.7,223.5 883.8,224 884.8,223.8 885.9,223.8 886.9,224 887.9,224.2 889,224.8 890,224.7 891,224.7 892,224.6 893,225.1 894,224.8 895,224.6 896.1,224.6 897.1,224.6 898.1,224.6 899.1,225 900.1,224.6 901.1,224.6 902.1,224.9 903.1,224.7 904.1,225.2 905.1,224.6 906.2,224.9 907.2,225.1 908.2,224.8 909.2,225.2 910.2,224.9 911.2,224.7 912.2,224.9 913.2,224.6 914.2,224.9 915.2,224.8 916.3,225.2 917.3,225.1 918.3,224.9 919.3,224.6 920.3,224.8 921.3,224.8 922.3,224.8 923.3,224.8 924.3,225.2 925.3,224.7 926.4,224.7 927.4,225.3 928.4,225 929.4,225.3 930.4,224.9 931.4,225.3 932.4,225.1 933.4,225.2 934.4,225.2 935.4,225 936.5,224.8 937.5,224.8 938.5,225.3 939.5,225.3 940.5,225.3 941.5,224.9 942.5,225.2 943.5,225.3 944.5,225.2 945.5,225.3 946.6,225.1 947.6,225.2 948.6,225.2 949.6,224.9 950.6,225.4 951.6,225.4 952.6,224.8 953.6,225.4 954.6,225.4 955.6,225.2 956.7,224.8 957.7,225.4 958.7,224.9 959.7,225.4 960.7,225.3 961.7,224.9 962.7,224.9 963.7,225.2 964.7,225.2 965.7,225.3 966.8,225.4 967.8,225 968.8,224.9 969.8,225.5 970.8,224.9 971.8,225.2" fill="none" stroke="#5E9A7A" stroke-width="1.8" stroke-linejoin="round" />
<rect x="777.8" y="49.5" width="195" height="183.8" fill="none" stroke="#000" stroke-width="1.8"/>
<line x1="770.3" y1="226.5" x2="777.8" y2="226.5" stroke="#000" stroke-width="1.7" />
<text x="765.2" y="234.4" font-size="22.5" text-anchor="end">0</text>
<line x1="770.3" y1="167.4" x2="777.8" y2="167.4" stroke="#000" stroke-width="1.7" />
<text x="765.2" y="175.3" font-size="22.5" text-anchor="end">500</text>
<line x1="770.3" y1="108.3" x2="777.8" y2="108.3" stroke="#000" stroke-width="1.7" />
<text x="765.2" y="116.2" font-size="22.5" text-anchor="end">1000</text>
<line x1="770.3" y1="49.2" x2="777.8" y2="49.2" stroke="#000" stroke-width="1.7" />
<text x="765.2" y="57.1" font-size="22.5" text-anchor="end">1500</text>
<line x1="777.8" y1="233.3" x2="777.8" y2="240.8" stroke="#000" stroke-width="1.7" />
<text x="777.8" y="263.1" font-size="22.5" text-anchor="middle" fill="#000" >58.90</text>
<line x1="875.3" y1="233.3" x2="875.3" y2="240.8" stroke="#000" stroke-width="1.7" />
<text x="875.3" y="263.1" font-size="22.5" text-anchor="middle" fill="#000" >58.95</text>
<line x1="972.8" y1="233.3" x2="972.8" y2="240.8" stroke="#000" stroke-width="1.7" />
<text x="972.8" y="263.1" font-size="22.5" text-anchor="middle" fill="#000" >59.00</text>
<line x1="826.55" y1="233.3" x2="826.55" y2="237.1" stroke="#000" stroke-width="1.7" />
<line x1="924.05" y1="233.3" x2="924.05" y2="237.1" stroke="#000" stroke-width="1.7" />
<text x="918.8" y="85.3" font-size="25">Co<tspan dx="1" dy="-8.6">+</tspan></text>
<text x="875.3" y="292.5" font-size="30.5" text-anchor="middle" fill="#000" >m/z</text>
<text transform="translate(706.8,141.4) rotate(-90)" font-size="24.3" text-anchor="middle">Intensity <tspan font-size="24.3">(</tspan>counts s<tspan font-size="16" dy="-9.5">-1</tspan><tspan font-size="24.3" dy="9.5">)</tspan></text>
<path d="M1107.9,227.74 L1108.91,227.78 L1109.91,227.8 L1110.92,227.85 L1111.92,227.78 L1112.93,227.85 L1113.94,227.54 L1114.94,227.69 L1115.95,227.86 L1116.96,227.75 L1117.96,227.84 L1118.97,227.56 L1119.97,227.69 L1120.98,227.61 L1121.99,227.72 L1122.99,227.73 L1124,227.53 L1125,227.6 L1126.01,227.62 L1127.02,227.85 L1128.02,227.79 L1129.03,227.58 L1130.03,227.8 L1131.04,227.57 L1132.05,227.74 L1133.05,227.57 L1134.06,227.53 L1135.07,227.83 L1136.07,227.6 L1137.08,227.6 L1138.08,227.87 L1139.09,227.83 L1140.1,227.63 L1141.1,227.86 L1142.11,227.71 L1143.11,227.76 L1144.12,227.6 L1145.13,227.85 L1146.13,227.77 L1147.14,227.86 L1148.14,227.84 L1149.15,227.63 L1150.16,227.65 L1151.16,227.58 L1152.17,227.58 L1153.18,227.55 L1154.18,227.63 L1155.19,227.74 L1156.19,227.53 L1157.2,227.76 L1158.6,225.49 L1160,223.21 L1161.45,218.72 L1162.9,213.38 L1164.35,198.87 L1165.8,184.68 L1167.2,163.4 L1168.6,141.26 L1170.05,124.23 L1171.5,105.32 L1172.6,93.9 L1173.7,81.84 L1175,79.32 L1176.5,79.59 L1177.6,80.87 L1178.7,84.38 L1179.75,92.41 L1180.8,101.05 L1181.9,109.08 L1183,117.76 L1184.05,129.2 L1185.1,141.96 L1186.2,152.88 L1187.3,163.64 L1188.7,172.34 L1190.1,181.65 L1191.55,189.02 L1193,196.48 L1194.08,199.03 L1195.15,202.9 L1196.22,206.17 L1197.3,209.46 L1198.44,210.64 L1199.58,213.55 L1200.72,214.69 L1201.86,216.94 L1203,219.21 L1204.03,220.23 L1205.06,220.37 L1206.09,221.67 L1207.11,222 L1208.14,222.48 L1209.17,223.2 L1210.2,223.99 L1211.28,224.23 L1212.35,224.53 L1213.42,224.99 L1214.5,225.37 L1215.58,225.36 L1216.65,225.59 L1217.72,226.2 L1218.8,226.31 L1219.82,226.35 L1220.84,226.37 L1221.85,226.58 L1222.87,226.74 L1223.89,226.69 L1224.91,226.76 L1225.93,226.72 L1226.95,227.1 L1227.96,226.87 L1228.98,227.12 L1230,227.32 L1231,227.07 L1232,227.27 L1233,227.34 L1234,227.23 L1235,227.28 L1236,227.03 L1237,227.14 L1238,227.04 L1239,227.28 L1240,227.08 L1241,227.13 L1242,227.31 L1243,227.26 L1244,227.3 L1245,227.11 L1246,227.12 L1247,227.2 L1248,227.1 L1249,227.03 L1250,227.07 L1251,226.97 L1252,227.05 L1253,227.26 L1254,227.24 L1255,227.12 L1256,227.07 L1257,227.01 L1258,226.92 L1259,226.98 L1260,227.15 L1261,227.17 L1262,226.99 L1263,227.14 L1264,227.13 L1265,227.09 L1266,227.08 L1267,227.11 L1268,226.96 L1269,227.08 L1270,226.92 L1271.01,226.97 L1272.01,227.05 L1273.02,227 L1274.03,226.83 L1275.03,227.04 L1276.04,226.91 L1277.05,226.86 L1278.05,226.64 L1279.06,226.81 L1280.07,226.68 L1281.07,226.8 L1282.08,226.71 L1283.09,226.81 L1284.09,226.72 L1285.1,226.75 L1286.11,226.57 L1287.11,226.65 L1288.12,226.66 L1289.13,226.67 L1290.13,226.48 L1291.14,226.63 L1292.15,226.62 L1293.15,226.53 L1294.16,226.61 L1295.17,226.58 L1296.17,226.4 L1297.18,226.38 L1298.19,226.23 L1299.19,226.44 L1300.2,226.3 L1300.2,228.5 L1107.9,228.5 Z" fill="url(#gSal)" stroke="none"/>
<path d="M1107.9,227.7 1108.9,227.8 1109.9,227.8 1110.9,227.9 1111.9,227.8 1112.9,227.8 1113.9,227.5 1114.9,227.7 1115.9,227.9 1117,227.8 1118,227.8 1119,227.6 1120,227.7 1121,227.6 1122,227.7 1123,227.7 1124,227.5 1125,227.6 1126,227.6 1127,227.8 1128,227.8 1129,227.6 1130,227.8 1131,227.6 1132,227.7 1133.1,227.6 1134.1,227.5 1135.1,227.8 1136.1,227.6 1137.1,227.6 1138.1,227.9 1139.1,227.8 1140.1,227.6 1141.1,227.9 1142.1,227.7 1143.1,227.8 1144.1,227.6 1145.1,227.9 1146.1,227.8 1147.1,227.9 1148.1,227.8 1149.2,227.6 1150.2,227.7 1151.2,227.6 1152.2,227.6 1153.2,227.5 1154.2,227.6 1155.2,227.7 1156.2,227.5 1157.2,227.8 1158.6,225.5 1160,223.2 1161.5,218.7 1162.9,213.4 1164.3,198.9 1165.8,184.7 1167.2,163.4 1168.6,141.3 1170,124.2 1171.5,105.3 1172.6,93.9 1173.7,81.8 1175,79.3 1176.5,79.6 1177.6,80.9 1178.7,84.4 1179.8,92.4 1180.8,101 1181.9,109.1 1183,117.8 1184,129.2 1185.1,142 1186.2,152.9 1187.3,163.6 1188.7,172.3 1190.1,181.7 1191.5,189 1193,196.5 1194.1,199 1195.2,202.9 1196.2,206.2 1197.3,209.5 1198.4,210.6 1199.6,213.5 1200.7,214.7 1201.9,216.9 1203,219.2 1204,220.2 1205.1,220.4 1206.1,221.7 1207.1,222 1208.1,222.5 1209.2,223.2 1210.2,224 1211.3,224.2 1212.3,224.5 1213.4,225 1214.5,225.4 1215.6,225.4 1216.7,225.6 1217.7,226.2 1218.8,226.3 1219.8,226.3 1220.8,226.4 1221.9,226.6 1222.9,226.7 1223.9,226.7 1224.9,226.8 1225.9,226.7 1226.9,227.1 1228,226.9 1229,227.1 1230,227.3 1231,227.1 1232,227.3 1233,227.3 1234,227.2 1235,227.3 1236,227 1237,227.1 1238,227 1239,227.3 1240,227.1 1241,227.1 1242,227.3 1243,227.3 1244,227.3 1245,227.1 1246,227.1 1247,227.2 1248,227.1 1249,227 1250,227.1 1251,227 1252,227 1253,227.3 1254,227.2 1255,227.1 1256,227.1 1257,227 1258,226.9 1259,227 1260,227.1 1261,227.2 1262,227 1263,227.1 1264,227.1 1265,227.1 1266,227.1 1267,227.1 1268,227 1269,227.1 1270,226.9 1271,227 1272,227 1273,227 1274,226.8 1275,227 1276,226.9 1277,226.9 1278.1,226.6 1279.1,226.8 1280.1,226.7 1281.1,226.8 1282.1,226.7 1283.1,226.8 1284.1,226.7 1285.1,226.8 1286.1,226.6 1287.1,226.7 1288.1,226.7 1289.1,226.7 1290.1,226.5 1291.1,226.6 1292.1,226.6 1293.2,226.5 1294.2,226.6 1295.2,226.6 1296.2,226.4 1297.2,226.4 1298.2,226.2 1299.2,226.4 1300.2,226.3" fill="none" stroke="#EE8466" stroke-width="1.8" stroke-linejoin="round" />
<path d="M1107.9,228.48 L1108.91,228.49 L1109.91,228.4 L1110.92,228.33 L1111.93,228.26 L1112.94,228.45 L1113.94,228.39 L1114.95,228.47 L1115.96,228.36 L1116.96,228.48 L1117.97,228.34 L1118.98,228.48 L1119.99,228.46 L1120.99,228.38 L1122,228.41 L1123.01,228.45 L1124.01,228.31 L1125.02,228.42 L1126.03,228.49 L1127.04,228.33 L1128.04,228.48 L1129.05,228.45 L1130.06,228.5 L1131.06,228.35 L1132.07,228.29 L1133.08,228.48 L1134.09,228.49 L1135.09,228.38 L1136.1,228.29 L1137.11,228.32 L1138.11,228.44 L1139.12,228.34 L1140.13,228.53 L1141.14,228.42 L1142.14,228.32 L1143.15,228.44 L1144.16,228.36 L1145.16,228.52 L1146.17,228.51 L1147.18,228.4 L1148.19,228.44 L1149.19,228.46 L1150.2,228.49 L1151.21,228.53 L1152.21,228.27 L1153.22,228.36 L1154.23,228.43 L1155.24,228.35 L1156.24,228.42 L1157.25,228.29 L1158.26,228.51 L1159.26,228.41 L1160.27,228.29 L1161.28,228.45 L1162.29,228.35 L1163.29,228.31 L1164.3,228.4 L1165.75,226.5 L1167.2,224.72 L1168.65,219.39 L1170.1,213.56 L1171.5,205.11 L1172.9,197.82 L1174.35,193.96 L1175.8,190.97 L1177.25,188.92 L1178.7,186.2 L1179.75,189.54 L1180.8,193.2 L1182.25,199.66 L1183.7,205.9 L1184.9,209.93 L1186.1,212.51 L1187.3,216.14 L1188.44,217.7 L1189.58,218.72 L1190.72,220.48 L1191.86,221.2 L1193,223.08 L1194.03,223.43 L1195.06,223.66 L1196.09,224.25 L1197.11,224.31 L1198.14,224.86 L1199.17,225.27 L1200.2,225.6 L1201.22,225.74 L1202.24,225.96 L1203.26,226.02 L1204.29,226.08 L1205.31,226.42 L1206.33,226.43 L1207.35,226.65 L1208.37,226.88 L1209.39,226.86 L1210.41,226.97 L1211.44,227.14 L1212.46,227.43 L1213.48,227.51 L1214.5,227.63 L1215.51,227.69 L1216.52,227.83 L1217.52,227.65 L1218.53,227.7 L1219.54,227.84 L1220.55,227.77 L1221.56,227.68 L1222.57,227.74 L1223.57,227.75 L1224.58,227.66 L1225.59,227.73 L1226.6,227.72 L1227.61,227.86 L1228.62,227.73 L1229.62,227.83 L1230.63,227.93 L1231.64,227.92 L1232.65,227.77 L1233.66,227.84 L1234.66,227.77 L1235.67,227.8 L1236.68,227.83 L1237.69,227.92 L1238.7,227.96 L1239.71,227.79 L1240.71,227.71 L1241.72,227.84 L1242.73,227.74 L1243.74,227.74 L1244.75,227.95 L1245.76,227.77 L1246.76,227.95 L1247.77,227.86 L1248.78,228.02 L1249.79,228 L1250.8,227.79 L1251.8,227.83 L1252.81,228.05 L1253.82,227.96 L1254.83,227.91 L1255.84,228.02 L1256.85,228.03 L1257.85,227.95 L1258.86,227.95 L1259.87,227.85 L1260.88,227.93 L1261.89,227.88 L1262.9,228.02 L1263.9,228.02 L1264.91,227.89 L1265.92,228.04 L1266.93,227.89 L1267.94,227.9 L1268.94,228.06 L1269.95,228.01 L1270.96,228.14 L1271.97,228.07 L1272.98,228.1 L1273.99,227.94 L1274.99,228.15 L1276,227.94 L1277.01,228.1 L1278.02,228.19 L1279.03,228.19 L1280.04,228.19 L1281.04,228.07 L1282.05,228.15 L1283.06,228.18 L1284.07,228 L1285.08,228.24 L1286.08,228.23 L1287.09,228.11 L1288.1,228.21 L1289.11,228.12 L1290.12,228.08 L1291.13,228.21 L1292.13,228.03 L1293.14,228.24 L1294.15,228.3 L1295.16,228.11 L1296.17,228.3 L1297.18,228.07 L1298.18,228.29 L1299.19,228.13 L1300.2,228.2 L1300.2,228.6 L1107.9,228.6 Z" fill="url(#gGrn)" stroke="none"/>
<path d="M1107.9,228.5 1108.9,228.5 1109.9,228.4 1110.9,228.3 1111.9,228.3 1112.9,228.4 1113.9,228.4 1115,228.5 1116,228.4 1117,228.5 1118,228.3 1119,228.5 1120,228.5 1121,228.4 1122,228.4 1123,228.5 1124,228.3 1125,228.4 1126,228.5 1127,228.3 1128,228.5 1129,228.5 1130.1,228.5 1131.1,228.4 1132.1,228.3 1133.1,228.5 1134.1,228.5 1135.1,228.4 1136.1,228.3 1137.1,228.3 1138.1,228.4 1139.1,228.3 1140.1,228.5 1141.1,228.4 1142.1,228.3 1143.2,228.4 1144.2,228.4 1145.2,228.5 1146.2,228.5 1147.2,228.4 1148.2,228.4 1149.2,228.5 1150.2,228.5 1151.2,228.5 1152.2,228.3 1153.2,228.4 1154.2,228.4 1155.2,228.3 1156.2,228.4 1157.2,228.3 1158.3,228.5 1159.3,228.4 1160.3,228.3 1161.3,228.4 1162.3,228.3 1163.3,228.3 1164.3,228.4 1165.8,226.5 1167.2,224.7 1168.7,219.4 1170.1,213.6 1171.5,205.1 1172.9,197.8 1174.3,194 1175.8,191 1177.2,188.9 1178.7,186.2 1179.8,189.5 1180.8,193.2 1182.2,199.7 1183.7,205.9 1184.9,209.9 1186.1,212.5 1187.3,216.1 1188.4,217.7 1189.6,218.7 1190.7,220.5 1191.9,221.2 1193,223.1 1194,223.4 1195.1,223.7 1196.1,224.3 1197.1,224.3 1198.1,224.9 1199.2,225.3 1200.2,225.6 1201.2,225.7 1202.2,226 1203.3,226 1204.3,226.1 1205.3,226.4 1206.3,226.4 1207.3,226.6 1208.4,226.9 1209.4,226.9 1210.4,227 1211.4,227.1 1212.5,227.4 1213.5,227.5 1214.5,227.6 1215.5,227.7 1216.5,227.8 1217.5,227.6 1218.5,227.7 1219.5,227.8 1220.5,227.8 1221.6,227.7 1222.6,227.7 1223.6,227.7 1224.6,227.7 1225.6,227.7 1226.6,227.7 1227.6,227.9 1228.6,227.7 1229.6,227.8 1230.6,227.9 1231.6,227.9 1232.6,227.8 1233.7,227.8 1234.7,227.8 1235.7,227.8 1236.7,227.8 1237.7,227.9 1238.7,228 1239.7,227.8 1240.7,227.7 1241.7,227.8 1242.7,227.7 1243.7,227.7 1244.7,228 1245.8,227.8 1246.8,227.9 1247.8,227.9 1248.8,228 1249.8,228 1250.8,227.8 1251.8,227.8 1252.8,228 1253.8,228 1254.8,227.9 1255.8,228 1256.8,228 1257.9,228 1258.9,228 1259.9,227.9 1260.9,227.9 1261.9,227.9 1262.9,228 1263.9,228 1264.9,227.9 1265.9,228 1266.9,227.9 1267.9,227.9 1268.9,228.1 1270,228 1271,228.1 1272,228.1 1273,228.1 1274,227.9 1275,228.1 1276,227.9 1277,228.1 1278,228.2 1279,228.2 1280,228.2 1281,228.1 1282.1,228.1 1283.1,228.2 1284.1,228 1285.1,228.2 1286.1,228.2 1287.1,228.1 1288.1,228.2 1289.1,228.1 1290.1,228.1 1291.1,228.2 1292.1,228 1293.1,228.2 1294.2,228.3 1295.2,228.1 1296.2,228.3 1297.2,228.1 1298.2,228.3 1299.2,228.1 1300.2,228.2" fill="none" stroke="#5E9A7A" stroke-width="1.8" stroke-linejoin="round" />
<rect x="1106.9" y="48.8" width="194.3" height="182.7" fill="none" stroke="#000" stroke-width="1.8"/>
<line x1="1099.4" y1="228.9" x2="1106.9" y2="228.9" stroke="#000" stroke-width="1.7" />
<text x="1094.3" y="236.8" font-size="22.5" text-anchor="end">0</text>
<line x1="1099.4" y1="183.88" x2="1106.9" y2="183.88" stroke="#000" stroke-width="1.7" />
<text x="1094.3" y="191.78" font-size="22.5" text-anchor="end">1000</text>
<line x1="1099.4" y1="138.86" x2="1106.9" y2="138.86" stroke="#000" stroke-width="1.7" />
<text x="1094.3" y="146.76" font-size="22.5" text-anchor="end">2000</text>
<line x1="1099.4" y1="93.84" x2="1106.9" y2="93.84" stroke="#000" stroke-width="1.7" />
<text x="1094.3" y="101.74" font-size="22.5" text-anchor="end">3000</text>
<line x1="1099.4" y1="48.82" x2="1106.9" y2="48.82" stroke="#000" stroke-width="1.7" />
<text x="1094.3" y="56.72" font-size="22.5" text-anchor="end">4000</text>
<line x1="1106.9" y1="231.5" x2="1106.9" y2="239" stroke="#000" stroke-width="1.7" />
<text x="1106.9" y="261.3" font-size="22.5" text-anchor="middle" fill="#000" >54.90</text>
<line x1="1204.05" y1="231.5" x2="1204.05" y2="239" stroke="#000" stroke-width="1.7" />
<text x="1204.05" y="261.3" font-size="22.5" text-anchor="middle" fill="#000" >54.95</text>
<line x1="1301.2" y1="231.5" x2="1301.2" y2="239" stroke="#000" stroke-width="1.7" />
<text x="1301.2" y="261.3" font-size="22.5" text-anchor="middle" fill="#000" >55.00</text>
<line x1="1155.48" y1="231.5" x2="1155.48" y2="235.3" stroke="#000" stroke-width="1.7" />
<line x1="1252.62" y1="231.5" x2="1252.62" y2="235.3" stroke="#000" stroke-width="1.7" />
<text x="1244.5" y="84.8" font-size="25">Mn<tspan dx="1" dy="-8.6">+</tspan></text>
<text x="1204.05" y="290.7" font-size="30.5" text-anchor="middle" fill="#000" >m/z</text>
<text transform="translate(1037.2,139.3) rotate(-90)" font-size="24.3" text-anchor="middle">Intensity <tspan font-size="24.3">(</tspan>counts s<tspan font-size="16" dy="-9.5">-1</tspan><tspan font-size="24.3" dy="9.5">)</tspan></text>
<path d="M779.5,495.98 L780.51,495.95 L781.53,496.02 L782.54,495.94 L783.56,496.01 L784.57,495.98 L785.59,495.94 L786.6,496 L787.61,495.94 L788.63,495.99 L789.64,495.94 L790.66,495.94 L791.67,495.99 L792.69,496.05 L793.7,495.95 L794.71,495.96 L795.73,496.02 L796.74,496.06 L797.76,496.01 L798.77,495.99 L799.79,496.07 L800.8,495.94 L801.81,496.05 L802.83,495.97 L803.84,495.95 L804.86,495.95 L805.87,495.97 L806.89,496.04 L807.9,495.96 L808.91,496.01 L809.93,496.02 L810.94,495.98 L811.96,496.01 L812.97,495.94 L813.99,495.94 L815,495.96 L816.01,495.94 L817.02,495.81 L818.04,495.71 L819.05,495.66 L820.06,495.56 L821.08,495.45 L822.09,495.43 L823.1,495.33 L824.1,493.8 L825.1,492.38 L826.1,490.91 L827.55,484.4 L829,477.69 L830,467.68 L831,458.13 L832,447.95 L833.45,430.37 L834.9,412.8 L835.9,399.76 L836.9,387.1 L837.9,374.12 L839.35,364.02 L840.8,353.71 L842.6,347.73 L844.5,355.25 L845.6,363.13 L846.7,371.38 L847.7,379.7 L848.7,388.07 L849.7,396.38 L850.8,409.09 L851.9,421.68 L852.9,429.36 L853.9,437.3 L854.9,444.92 L856.35,451.08 L857.8,456.96 L858.9,460.8 L860,464.43 L861.1,467.91 L862.2,471.65 L863.38,474.13 L864.56,476.23 L865.74,478.76 L866.92,481.01 L868.1,483.35 L869.28,484.5 L870.46,485.97 L871.64,486.89 L872.82,488.12 L874,489.36 L875.11,490.01 L876.23,490.16 L877.34,490.77 L878.45,491.27 L879.56,491.87 L880.67,492.22 L881.79,492.69 L882.9,493.07 L883.91,493.21 L884.92,493.33 L885.92,493.53 L886.93,493.66 L887.94,493.68 L888.95,493.8 L889.96,493.94 L890.97,494.06 L891.98,494.22 L892.98,494.36 L893.99,494.44 L895,494.53 L896,494.61 L897,494.62 L898,494.66 L899,494.73 L900,494.71 L901,494.71 L902,494.74 L903,494.76 L904,494.69 L905,494.83 L906,494.83 L907,494.86 L908,494.86 L909,494.82 L910,494.84 L911,494.82 L912,494.91 L913,494.85 L914,494.87 L915,494.9 L916,494.91 L917,494.95 L918,494.93 L919,494.94 L920,494.98 L921,494.99 L922,495.04 L923,495.01 L924,495.15 L925,495.13 L926,495.08 L927,495.11 L928,495.14 L929,495.16 L930,495.15 L931.01,495.25 L932.01,495.28 L933.02,495.21 L934.03,495.22 L935.03,495.17 L936.04,495.17 L937.05,495.21 L938.06,495.2 L939.06,495.29 L940.07,495.2 L941.08,495.18 L942.08,495.32 L943.09,495.26 L944.1,495.22 L945.1,495.28 L946.11,495.21 L947.12,495.28 L948.13,495.35 L949.13,495.34 L950.14,495.32 L951.15,495.26 L952.15,495.28 L953.16,495.26 L954.17,495.35 L955.17,495.32 L956.18,495.36 L957.19,495.3 L958.2,495.29 L959.2,495.38 L960.21,495.41 L961.22,495.39 L962.22,495.39 L963.23,495.4 L964.24,495.39 L965.24,495.32 L966.25,495.37 L967.26,495.35 L968.27,495.31 L969.27,495.32 L970.28,495.36 L971.29,495.36 L972.29,495.42 L973.3,495.4 L973.3,496 L779.5,496 Z" fill="url(#gSal)" stroke="none"/>
<path d="M779.5,496 780.5,496 781.5,496 782.5,495.9 783.6,496 784.6,496 785.6,495.9 786.6,496 787.6,495.9 788.6,496 789.6,495.9 790.7,495.9 791.7,496 792.7,496 793.7,495.9 794.7,496 795.7,496 796.7,496.1 797.8,496 798.8,496 799.8,496.1 800.8,495.9 801.8,496.1 802.8,496 803.8,496 804.9,495.9 805.9,496 806.9,496 807.9,496 808.9,496 809.9,496 810.9,496 812,496 813,495.9 814,495.9 815,496 816,495.9 817,495.8 818,495.7 819,495.7 820.1,495.6 821.1,495.4 822.1,495.4 823.1,495.3 824.1,493.8 825.1,492.4 826.1,490.9 827.5,484.4 829,477.7 830,467.7 831,458.1 832,447.9 833.5,430.4 834.9,412.8 835.9,399.8 836.9,387.1 837.9,374.1 839.3,364 840.8,353.7 842.6,347.7 844.5,355.3 845.6,363.1 846.7,371.4 847.7,379.7 848.7,388.1 849.7,396.4 850.8,409.1 851.9,421.7 852.9,429.4 853.9,437.3 854.9,444.9 856.3,451.1 857.8,457 858.9,460.8 860,464.4 861.1,467.9 862.2,471.7 863.4,474.1 864.6,476.2 865.7,478.8 866.9,481 868.1,483.3 869.3,484.5 870.5,486 871.6,486.9 872.8,488.1 874,489.4 875.1,490 876.2,490.2 877.3,490.8 878.5,491.3 879.6,491.9 880.7,492.2 881.8,492.7 882.9,493.1 883.9,493.2 884.9,493.3 885.9,493.5 886.9,493.7 887.9,493.7 889,493.8 890,493.9 891,494.1 892,494.2 893,494.4 894,494.4 895,494.5 896,494.6 897,494.6 898,494.7 899,494.7 900,494.7 901,494.7 902,494.7 903,494.8 904,494.7 905,494.8 906,494.8 907,494.9 908,494.9 909,494.8 910,494.8 911,494.8 912,494.9 913,494.8 914,494.9 915,494.9 916,494.9 917,495 918,494.9 919,494.9 920,495 921,495 922,495 923,495 924,495.1 925,495.1 926,495.1 927,495.1 928,495.1 929,495.2 930,495.1 931,495.3 932,495.3 933,495.2 934,495.2 935,495.2 936,495.2 937,495.2 938.1,495.2 939.1,495.3 940.1,495.2 941.1,495.2 942.1,495.3 943.1,495.3 944.1,495.2 945.1,495.3 946.1,495.2 947.1,495.3 948.1,495.4 949.1,495.3 950.1,495.3 951.1,495.3 952.2,495.3 953.2,495.3 954.2,495.3 955.2,495.3 956.2,495.4 957.2,495.3 958.2,495.3 959.2,495.4 960.2,495.4 961.2,495.4 962.2,495.4 963.2,495.4 964.2,495.4 965.2,495.3 966.3,495.4 967.3,495.4 968.3,495.3 969.3,495.3 970.3,495.4 971.3,495.4 972.3,495.4 973.3,495.4" fill="none" stroke="#EE8466" stroke-width="1.8" stroke-linejoin="round" />
<path d="M779.5,495.96 L780.51,496.05 L781.52,495.92 L782.53,495.99 L783.54,495.88 L784.55,495.89 L785.56,495.98 L786.57,495.86 L787.58,495.91 L788.59,495.87 L789.6,495.85 L790.61,495.84 L791.62,495.79 L792.63,495.86 L793.64,495.74 L794.65,495.75 L795.66,495.7 L796.67,495.72 L797.68,495.73 L798.69,495.78 L799.7,495.7 L800.71,495.65 L801.72,495.65 L802.73,495.74 L803.74,495.6 L804.76,495.66 L805.77,495.61 L806.78,495.64 L807.79,495.58 L808.8,495.61 L809.81,495.57 L810.82,495.58 L811.83,495.6 L812.84,495.54 L813.85,495.46 L814.86,495.44 L815.87,495.55 L816.88,495.47 L817.89,495.41 L818.9,495.51 L819.91,495.44 L820.92,495.45 L821.93,495.45 L822.94,495.36 L823.95,495.35 L824.96,495.41 L825.97,495.29 L826.98,495.37 L827.99,495.26 L829,495.33 L830,493.36 L831,491.55 L832,489.54 L833.45,479.8 L834.9,470.08 L835.9,460.23 L836.9,450.54 L837.9,440.7 L839.35,427.98 L840.8,415.76 L841.8,413.14 L842.8,410.75 L843.8,408.09 L845.7,406.7 L846.95,412.5 L848.2,418.54 L849.2,425.37 L850.2,432.3 L851.2,439.15 L852.65,448.93 L854.1,458.56 L855.33,463.2 L856.57,468.23 L857.8,473.07 L858.9,475.84 L860,478.54 L861.1,480.81 L862.2,483.61 L863.38,484.74 L864.56,485.95 L865.74,487.57 L866.92,488.72 L868.1,489.97 L869.21,490.54 L870.33,490.92 L871.44,491.45 L872.55,491.93 L873.66,492.4 L874.77,492.89 L875.89,493.31 L877,493.74 L878,493.83 L879,493.91 L880,494.05 L881,494.11 L882,494.26 L883,494.3 L884,494.41 L885,494.53 L886,494.49 L887,494.57 L888,494.67 L889,494.78 L890,494.89 L891,495 L892,495.03 L893,495.2 L894,495.15 L895,495.35 L896,495.26 L897.01,495.36 L898.01,495.25 L899.02,495.38 L900.02,495.36 L901.02,495.39 L902.03,495.34 L903.03,495.29 L904.03,495.4 L905.04,495.33 L906.04,495.28 L907.05,495.36 L908.05,495.35 L909.05,495.35 L910.06,495.31 L911.06,495.31 L912.07,495.38 L913.07,495.36 L914.07,495.32 L915.08,495.37 L916.08,495.41 L917.08,495.41 L918.09,495.38 L919.09,495.38 L920.1,495.38 L921.1,495.36 L922.1,495.36 L923.11,495.4 L924.11,495.36 L925.12,495.45 L926.12,495.45 L927.12,495.44 L928.13,495.36 L929.13,495.41 L930.13,495.43 L931.14,495.38 L932.14,495.51 L933.15,495.48 L934.15,495.45 L935.15,495.48 L936.16,495.42 L937.16,495.42 L938.17,495.47 L939.17,495.5 L940.17,495.49 L941.18,495.41 L942.18,495.5 L943.18,495.54 L944.19,495.52 L945.19,495.55 L946.2,495.56 L947.2,495.46 L948.2,495.48 L949.21,495.51 L950.21,495.58 L951.22,495.5 L952.22,495.58 L953.22,495.57 L954.23,495.53 L955.23,495.55 L956.23,495.6 L957.24,495.58 L958.24,495.51 L959.25,495.59 L960.25,495.51 L961.25,495.54 L962.26,495.62 L963.26,495.61 L964.27,495.54 L965.27,495.54 L966.27,495.59 L967.28,495.62 L968.28,495.61 L969.28,495.65 L970.29,495.62 L971.29,495.64 L972.3,495.61 L973.3,495.6 L973.3,496 L779.5,496 Z" fill="url(#gGrn)" stroke="none"/>
<path d="M779.5,496 780.5,496.1 781.5,495.9 782.5,496 783.5,495.9 784.6,495.9 785.6,496 786.6,495.9 787.6,495.9 788.6,495.9 789.6,495.9 790.6,495.8 791.6,495.8 792.6,495.9 793.6,495.7 794.7,495.7 795.7,495.7 796.7,495.7 797.7,495.7 798.7,495.8 799.7,495.7 800.7,495.6 801.7,495.7 802.7,495.7 803.7,495.6 804.8,495.7 805.8,495.6 806.8,495.6 807.8,495.6 808.8,495.6 809.8,495.6 810.8,495.6 811.8,495.6 812.8,495.5 813.8,495.5 814.9,495.4 815.9,495.5 816.9,495.5 817.9,495.4 818.9,495.5 819.9,495.4 820.9,495.4 821.9,495.5 822.9,495.4 823.9,495.4 825,495.4 826,495.3 827,495.4 828,495.3 829,495.3 830,493.4 831,491.5 832,489.5 833.5,479.8 834.9,470.1 835.9,460.2 836.9,450.5 837.9,440.7 839.3,428 840.8,415.8 841.8,413.1 842.8,410.7 843.8,408.1 845.7,406.7 847,412.5 848.2,418.5 849.2,425.4 850.2,432.3 851.2,439.2 852.7,448.9 854.1,458.6 855.3,463.2 856.6,468.2 857.8,473.1 858.9,475.8 860,478.5 861.1,480.8 862.2,483.6 863.4,484.7 864.6,485.9 865.7,487.6 866.9,488.7 868.1,490 869.2,490.5 870.3,490.9 871.4,491.5 872.5,491.9 873.7,492.4 874.8,492.9 875.9,493.3 877,493.7 878,493.8 879,493.9 880,494.1 881,494.1 882,494.3 883,494.3 884,494.4 885,494.5 886,494.5 887,494.6 888,494.7 889,494.8 890,494.9 891,495 892,495 893,495.2 894,495.1 895,495.3 896,495.3 897,495.4 898,495.2 899,495.4 900,495.4 901,495.4 902,495.3 903,495.3 904,495.4 905,495.3 906,495.3 907,495.4 908,495.3 909.1,495.4 910.1,495.3 911.1,495.3 912.1,495.4 913.1,495.4 914.1,495.3 915.1,495.4 916.1,495.4 917.1,495.4 918.1,495.4 919.1,495.4 920.1,495.4 921.1,495.4 922.1,495.4 923.1,495.4 924.1,495.4 925.1,495.4 926.1,495.4 927.1,495.4 928.1,495.4 929.1,495.4 930.1,495.4 931.1,495.4 932.1,495.5 933.1,495.5 934.1,495.5 935.2,495.5 936.2,495.4 937.2,495.4 938.2,495.5 939.2,495.5 940.2,495.5 941.2,495.4 942.2,495.5 943.2,495.5 944.2,495.5 945.2,495.6 946.2,495.6 947.2,495.5 948.2,495.5 949.2,495.5 950.2,495.6 951.2,495.5 952.2,495.6 953.2,495.6 954.2,495.5 955.2,495.5 956.2,495.6 957.2,495.6 958.2,495.5 959.2,495.6 960.2,495.5 961.3,495.5 962.3,495.6 963.3,495.6 964.3,495.5 965.3,495.5 966.3,495.6 967.3,495.6 968.3,495.6 969.3,495.6 970.3,495.6 971.3,495.6 972.3,495.6 973.3,495.6" fill="none" stroke="#5E9A7A" stroke-width="1.8" stroke-linejoin="round" />
<rect x="778.5" y="313.6" width="195.8" height="183.8" fill="none" stroke="#000" stroke-width="1.8"/>
<line x1="771" y1="496.8" x2="778.5" y2="496.8" stroke="#000" stroke-width="1.7" />
<text x="765.9" y="504.7" font-size="22.5" text-anchor="end">0</text>
<line x1="771" y1="460.16" x2="778.5" y2="460.16" stroke="#000" stroke-width="1.7" />
<text x="765.9" y="468.06" font-size="22.5" text-anchor="end">2×10<tspan font-size="16" dy="-9.5">3</tspan></text>
<line x1="771" y1="423.52" x2="778.5" y2="423.52" stroke="#000" stroke-width="1.7" />
<text x="765.9" y="431.42" font-size="22.5" text-anchor="end">4×10<tspan font-size="16" dy="-9.5">3</tspan></text>
<line x1="771" y1="386.88" x2="778.5" y2="386.88" stroke="#000" stroke-width="1.7" />
<text x="765.9" y="394.78" font-size="22.5" text-anchor="end">6×10<tspan font-size="16" dy="-9.5">3</tspan></text>
<line x1="771" y1="350.24" x2="778.5" y2="350.24" stroke="#000" stroke-width="1.7" />
<text x="765.9" y="358.14" font-size="22.5" text-anchor="end">8×10<tspan font-size="16" dy="-9.5">3</tspan></text>
<line x1="771" y1="313.6" x2="778.5" y2="313.6" stroke="#000" stroke-width="1.7" />
<text x="765.9" y="321.5" font-size="22.5" text-anchor="end">1×10<tspan font-size="16" dy="-9.5">4</tspan></text>
<line x1="778.5" y1="497.4" x2="778.5" y2="504.9" stroke="#000" stroke-width="1.7" />
<text x="778.5" y="527.2" font-size="22.5" text-anchor="middle" fill="#000" >57.90</text>
<line x1="876.4" y1="497.4" x2="876.4" y2="504.9" stroke="#000" stroke-width="1.7" />
<text x="876.4" y="527.2" font-size="22.5" text-anchor="middle" fill="#000" >57.95</text>
<line x1="974.3" y1="497.4" x2="974.3" y2="504.9" stroke="#000" stroke-width="1.7" />
<text x="974.3" y="527.2" font-size="22.5" text-anchor="middle" fill="#000" >58.00</text>
<line x1="827.45" y1="497.4" x2="827.45" y2="501.2" stroke="#000" stroke-width="1.7" />
<line x1="925.35" y1="497.4" x2="925.35" y2="501.2" stroke="#000" stroke-width="1.7" />
<text x="926.3" y="353.2" font-size="25">Ni<tspan dx="1" dy="-8.6">+</tspan></text>
<text x="876.4" y="556.6" font-size="30.5" text-anchor="middle" fill="#000" >m/z</text>
<text transform="translate(699.3,404.5) rotate(-90)" font-size="24.3" text-anchor="middle">Intensity <tspan font-size="24.3">(</tspan>counts s<tspan font-size="16" dy="-9.5">-1</tspan><tspan font-size="24.3" dy="9.5">)</tspan></text>
<path d="M1108,494.7 L1109,494.7 L1110,494.7 L1111,494.7 L1112,494.7 L1113,494.7 L1114,494.7 L1115,494.7 L1116,494.7 L1117,494.7 L1118,494.7 L1119,494.7 L1120,494.7 L1121,494.7 L1122,494.7 L1123,494.7 L1124,494.7 L1125,494.7 L1126,494.7 L1127,494.7 L1128,494.7 L1129,494.7 L1130,494.7 L1131,494.7 L1132,494.7 L1133,494.7 L1134,494.7 L1135,494.7 L1136,494.7 L1137,494.7 L1138,494.7 L1139,494.7 L1140,494.7 L1141,494.7 L1142,494.7 L1143,494.7 L1144,494.7 L1145,494.7 L1146,494.7 L1147,494.7 L1148,494.7 L1149,494.7 L1150,494.7 L1151,494.7 L1152,494.7 L1153,494.7 L1154,494.7 L1155,494.7 L1156,494.7 L1157,494.7 L1158,494.7 L1159,494.7 L1160,494.7 L1161,494.7 L1162,494.7 L1163,494.7 L1164,494.7 L1165,494.7 L1166,494.7 L1167,494.7 L1168,494.7 L1169,494.7 L1170,494.7 L1171,494.7 L1172,494.7 L1173,494.7 L1174,494.7 L1175,494.7 L1176,494.7 L1177,494.7 L1178,494.7 L1179,494.7 L1180,494.7 L1181,494.7 L1182,494.7 L1183,494.7 L1184,494.7 L1185,494.7 L1186.18,494.26 L1187.36,493.82 L1188.54,493.38 L1189.72,492.94 L1190.9,492.5 L1192.08,491.02 L1193.26,489.54 L1194.44,488.06 L1195.62,486.58 L1196.8,485.1 L1197.9,481.4 L1199,477.7 L1200.04,470.03 L1201.09,462.36 L1202.13,454.68 L1203.18,447.01 L1204.22,439.34 L1205.27,431.67 L1206.31,423.99 L1207.36,416.32 L1208.4,408.65 L1209.44,400.98 L1210.49,393.31 L1211.53,385.63 L1212.58,377.96 L1213.62,370.29 L1214.67,362.62 L1215.71,354.94 L1216.76,347.27 L1217.8,339.6 L1218.83,355.65 L1219.85,371.7 L1220.88,387.75 L1221.9,403.8 L1223.5,420 L1224.75,435 L1226,450 L1227.1,458.67 L1228.2,467.33 L1229.3,476 L1230.53,480.67 L1231.77,485.33 L1233,490 L1234,491.3 L1235,492.6 L1236,493.9 L1237,495.2 L1238,495.2 L1239,495.2 L1240,495.2 L1241,495.2 L1242,495.2 L1243,495.2 L1244,495.2 L1245,495.2 L1246,495.2 L1247,495.2 L1248,495.2 L1249,495.2 L1250,495.2 L1251,495.2 L1252,495.2 L1253,495.2 L1254,495.2 L1255,495.2 L1256,495.2 L1257,495.2 L1258,495.2 L1259,495.2 L1260,495.2 L1261,495.2 L1262,495.2 L1263,495.2 L1264,495.2 L1265,495.2 L1266,495.2 L1267,495.2 L1268,495.2 L1269,495.2 L1270,495.2 L1271,495.2 L1272,495.2 L1273,495.2 L1274,495.2 L1275,495.2 L1276,495.2 L1277,495.2 L1278,495.2 L1279,495.2 L1280,495.2 L1281,495.2 L1282,495.2 L1283,495.2 L1284,495.2 L1285,495.2 L1286,495.2 L1287,495.2 L1288,495.2 L1289,495.2 L1290,495.2 L1291,495.2 L1292,495.2 L1293,495.2 L1294,495.2 L1295,495.2 L1296,495.2 L1297,495.2 L1298,495.2 L1299,495.2 L1300,495.2 L1300,494.7 L1108,494.7 Z" fill="url(#gGrn)" stroke="none"/>
<path d="M1108,494.7 1109,494.7 1110,494.7 1111,494.7 1112,494.7 1113,494.7 1114,494.7 1115,494.7 1116,494.7 1117,494.7 1118,494.7 1119,494.7 1120,494.7 1121,494.7 1122,494.7 1123,494.7 1124,494.7 1125,494.7 1126,494.7 1127,494.7 1128,494.7 1129,494.7 1130,494.7 1131,494.7 1132,494.7 1133,494.7 1134,494.7 1135,494.7 1136,494.7 1137,494.7 1138,494.7 1139,494.7 1140,494.7 1141,494.7 1142,494.7 1143,494.7 1144,494.7 1145,494.7 1146,494.7 1147,494.7 1148,494.7 1149,494.7 1150,494.7 1151,494.7 1152,494.7 1153,494.7 1154,494.7 1155,494.7 1156,494.7 1157,494.7 1158,494.7 1159,494.7 1160,494.7 1161,494.7 1162,494.7 1163,494.7 1164,494.7 1165,494.7 1166,494.7 1167,494.7 1168,494.7 1169,494.7 1170,494.7 1171,494.7 1172,494.7 1173,494.7 1174,494.7 1175,494.7 1176,494.7 1177,494.7 1178,494.7 1179,494.7 1180,494.7 1181,494.7 1182,494.7 1183,494.7 1184,494.7 1185,494.7 1186.2,494.3 1187.4,493.8 1188.5,493.4 1189.7,492.9 1190.9,492.5 1192.1,491 1193.3,489.5 1194.4,488.1 1195.6,486.6 1196.8,485.1 1197.9,481.4 1199,477.7 1200,470 1201.1,462.4 1202.1,454.7 1203.2,447 1204.2,439.3 1205.3,431.7 1206.3,424 1207.4,416.3 1208.4,408.6 1209.4,401 1210.5,393.3 1211.5,385.6 1212.6,378 1213.6,370.3 1214.7,362.6 1215.7,354.9 1216.8,347.3 1217.8,339.6 1218.8,355.7 1219.8,371.7 1220.9,387.8 1221.9,403.8 1223.5,420 1224.8,435 1226,450 1227.1,458.7 1228.2,467.3 1229.3,476 1230.5,480.7 1231.8,485.3 1233,490 1234,491.3 1235,492.6 1236,493.9 1237,495.2 1238,495.2 1239,495.2 1240,495.2 1241,495.2 1242,495.2 1243,495.2 1244,495.2 1245,495.2 1246,495.2 1247,495.2 1248,495.2 1249,495.2 1250,495.2 1251,495.2 1252,495.2 1253,495.2 1254,495.2 1255,495.2 1256,495.2 1257,495.2 1258,495.2 1259,495.2 1260,495.2 1261,495.2 1262,495.2 1263,495.2 1264,495.2 1265,495.2 1266,495.2 1267,495.2 1268,495.2 1269,495.2 1270,495.2 1271,495.2 1272,495.2 1273,495.2 1274,495.2 1275,495.2 1276,495.2 1277,495.2 1278,495.2 1279,495.2 1280,495.2 1281,495.2 1282,495.2 1283,495.2 1284,495.2 1285,495.2 1286,495.2 1287,495.2 1288,495.2 1289,495.2 1290,495.2 1291,495.2 1292,495.2 1293,495.2 1294,495.2 1295,495.2 1296,495.2 1297,495.2 1298,495.2 1299,495.2 1300,495.2" fill="none" stroke="#5E9A7A" stroke-width="1.8" stroke-linejoin="round" />
<path d="M1108,494.7 L1109,494.7 L1110,494.7 L1111,494.7 L1112,494.7 L1113,494.7 L1114,494.7 L1115,494.7 L1116,494.7 L1117,494.7 L1118,494.7 L1119,494.7 L1120,494.7 L1121,494.7 L1122,494.7 L1123,494.7 L1124,494.7 L1125,494.7 L1126,494.7 L1127,494.7 L1128,494.7 L1129,494.7 L1130,494.7 L1131,494.7 L1132,494.7 L1133,494.7 L1134,494.7 L1135,494.7 L1136,494.7 L1137,494.7 L1138,494.7 L1139,494.7 L1140,494.7 L1141,494.7 L1142,494.7 L1143,494.7 L1144,494.7 L1145,494.7 L1146,494.7 L1147,494.7 L1148,494.7 L1149,494.7 L1150,494.7 L1151,494.7 L1152,494.7 L1153,494.7 L1154,494.7 L1155,494.7 L1156,494.7 L1157,494.7 L1158,494.7 L1159,494.7 L1160,494.7 L1161,494.7 L1162,494.7 L1163,494.7 L1164,494.7 L1165,494.7 L1166,494.7 L1167,494.7 L1168,494.7 L1169,494.7 L1170,494.7 L1171,494.7 L1172,494.7 L1173,494.7 L1174,494.7 L1175,494.7 L1176,494.7 L1177,494.7 L1178,494.7 L1179,494.7 L1180,494.7 L1181,494.7 L1182,494.7 L1183,494.7 L1184,494.7 L1185,494.7 L1186.18,494.26 L1187.36,493.82 L1188.54,493.38 L1189.72,492.94 L1190.9,492.5 L1192.08,491.02 L1193.26,489.54 L1194.44,488.06 L1195.62,486.58 L1196.8,485.1 L1197.9,481.78 L1199,478.45 L1200.1,475.12 L1201.2,471.8 L1202.33,467 L1203.45,462.2 L1204.58,457.4 L1205.7,452.6 L1206.93,446.2 L1208.17,439.8 L1209.4,433.4 L1210.63,427.97 L1211.87,422.53 L1213.1,417.1 L1214.33,414.17 L1215.57,411.23 L1216.8,408.3 L1218.25,406.45 L1219.7,404.6 L1220.7,404.83 L1221.7,405.07 L1222.7,405.3 L1223.8,410.5 L1224.9,415.7 L1226,424.55 L1227.1,433.4 L1228.2,444.45 L1229.3,455.5 L1230.4,464.4 L1231.5,473.3 L1232.5,477.23 L1233.5,481.17 L1234.5,485.1 L1235.52,486.58 L1236.54,488.06 L1237.56,489.54 L1238.58,491.02 L1239.6,492.5 L1240.66,492.74 L1241.71,492.99 L1242.77,493.23 L1243.83,493.47 L1244.89,493.71 L1245.94,493.96 L1247,494.2 L1248,494.21 L1249,494.22 L1250,494.23 L1251,494.24 L1252,494.25 L1253,494.26 L1254,494.27 L1255,494.28 L1256,494.28 L1257,494.29 L1258,494.3 L1259,494.31 L1260,494.32 L1261,494.33 L1262,494.34 L1263,494.35 L1264,494.36 L1265,494.37 L1266,494.38 L1267,494.39 L1268,494.4 L1269,494.41 L1270,494.42 L1271,494.43 L1272,494.44 L1273,494.45 L1274,494.45 L1275,494.46 L1276,494.47 L1277,494.48 L1278,494.49 L1279,494.5 L1280,494.51 L1281,494.52 L1282,494.53 L1283,494.54 L1284,494.55 L1285,494.56 L1286,494.57 L1287,494.58 L1288,494.59 L1289,494.6 L1290,494.61 L1291,494.62 L1292,494.62 L1293,494.63 L1294,494.64 L1295,494.65 L1296,494.66 L1297,494.67 L1298,494.68 L1299,494.69 L1300,494.7 L1300,494.7 L1108,494.7 Z" fill="url(#gSal)" stroke="none"/>
<path d="M1108,494.7 1109,494.7 1110,494.7 1111,494.7 1112,494.7 1113,494.7 1114,494.7 1115,494.7 1116,494.7 1117,494.7 1118,494.7 1119,494.7 1120,494.7 1121,494.7 1122,494.7 1123,494.7 1124,494.7 1125,494.7 1126,494.7 1127,494.7 1128,494.7 1129,494.7 1130,494.7 1131,494.7 1132,494.7 1133,494.7 1134,494.7 1135,494.7 1136,494.7 1137,494.7 1138,494.7 1139,494.7 1140,494.7 1141,494.7 1142,494.7 1143,494.7 1144,494.7 1145,494.7 1146,494.7 1147,494.7 1148,494.7 1149,494.7 1150,494.7 1151,494.7 1152,494.7 1153,494.7 1154,494.7 1155,494.7 1156,494.7 1157,494.7 1158,494.7 1159,494.7 1160,494.7 1161,494.7 1162,494.7 1163,494.7 1164,494.7 1165,494.7 1166,494.7 1167,494.7 1168,494.7 1169,494.7 1170,494.7 1171,494.7 1172,494.7 1173,494.7 1174,494.7 1175,494.7 1176,494.7 1177,494.7 1178,494.7 1179,494.7 1180,494.7 1181,494.7 1182,494.7 1183,494.7 1184,494.7 1185,494.7 1186.2,494.3 1187.4,493.8 1188.5,493.4 1189.7,492.9 1190.9,492.5 1192.1,491 1193.3,489.5 1194.4,488.1 1195.6,486.6 1196.8,485.1 1197.9,481.8 1199,478.5 1200.1,475.1 1201.2,471.8 1202.3,467 1203.5,462.2 1204.6,457.4 1205.7,452.6 1206.9,446.2 1208.2,439.8 1209.4,433.4 1210.6,428 1211.9,422.5 1213.1,417.1 1214.3,414.2 1215.6,411.2 1216.8,408.3 1218.2,406.5 1219.7,404.6 1220.7,404.8 1221.7,405.1 1222.7,405.3 1223.8,410.5 1224.9,415.7 1226,424.5 1227.1,433.4 1228.2,444.4 1229.3,455.5 1230.4,464.4 1231.5,473.3 1232.5,477.2 1233.5,481.2 1234.5,485.1 1235.5,486.6 1236.5,488.1 1237.6,489.5 1238.6,491 1239.6,492.5 1240.7,492.7 1241.7,493 1242.8,493.2 1243.8,493.5 1244.9,493.7 1245.9,494 1247,494.2 1248,494.2 1249,494.2 1250,494.2 1251,494.2 1252,494.2 1253,494.3 1254,494.3 1255,494.3 1256,494.3 1257,494.3 1258,494.3 1259,494.3 1260,494.3 1261,494.3 1262,494.3 1263,494.4 1264,494.4 1265,494.4 1266,494.4 1267,494.4 1268,494.4 1269,494.4 1270,494.4 1271,494.4 1272,494.4 1273,494.4 1274,494.5 1275,494.5 1276,494.5 1277,494.5 1278,494.5 1279,494.5 1280,494.5 1281,494.5 1282,494.5 1283,494.5 1284,494.5 1285,494.6 1286,494.6 1287,494.6 1288,494.6 1289,494.6 1290,494.6 1291,494.6 1292,494.6 1293,494.6 1294,494.6 1295,494.7 1296,494.7 1297,494.7 1298,494.7 1299,494.7 1300,494.7" fill="none" stroke="#EE8466" stroke-width="1.8" stroke-linejoin="round" />
<rect x="1107" y="312.6" width="194" height="182.9" fill="none" stroke="#000" stroke-width="1.8"/>
<line x1="1099.5" y1="495.5" x2="1107" y2="495.5" stroke="#000" stroke-width="1.7" />
<text x="1094.4" y="503.4" font-size="22.5" text-anchor="end">0</text>
<line x1="1099.5" y1="434.53" x2="1107" y2="434.53" stroke="#000" stroke-width="1.7" />
<text x="1094.4" y="442.43" font-size="22.5" text-anchor="end">1×10<tspan font-size="16" dy="-9.5">6</tspan></text>
<line x1="1099.5" y1="373.56" x2="1107" y2="373.56" stroke="#000" stroke-width="1.7" />
<text x="1094.4" y="381.46" font-size="22.5" text-anchor="end">2×10<tspan font-size="16" dy="-9.5">6</tspan></text>
<line x1="1099.5" y1="312.59" x2="1107" y2="312.59" stroke="#000" stroke-width="1.7" />
<text x="1094.4" y="320.49" font-size="22.5" text-anchor="end">3×10<tspan font-size="16" dy="-9.5">6</tspan></text>
<line x1="1107" y1="495.5" x2="1107" y2="503" stroke="#000" stroke-width="1.7" />
<text x="1107" y="525.3" font-size="22.5" text-anchor="middle" fill="#000" >7.010</text>
<line x1="1204" y1="495.5" x2="1204" y2="503" stroke="#000" stroke-width="1.7" />
<text x="1204" y="525.3" font-size="22.5" text-anchor="middle" fill="#000" >7.015</text>
<line x1="1301" y1="495.5" x2="1301" y2="503" stroke="#000" stroke-width="1.7" />
<text x="1301" y="525.3" font-size="22.5" text-anchor="middle" fill="#000" >7.020</text>
<line x1="1155.5" y1="495.5" x2="1155.5" y2="499.3" stroke="#000" stroke-width="1.7" />
<line x1="1252.5" y1="495.5" x2="1252.5" y2="499.3" stroke="#000" stroke-width="1.7" />
<text x="1256.8" y="350" font-size="25">Li<tspan dx="1" dy="-8.6">+</tspan></text>
<text x="1204" y="554.7" font-size="30.5" text-anchor="middle" fill="#000" >m/z</text>
<text transform="translate(1029.9,402.9) rotate(-90)" font-size="24.3" text-anchor="middle">Intensity <tspan font-size="24.3">(</tspan>counts s<tspan font-size="16" dy="-9.5">-1</tspan><tspan font-size="24.3" dy="9.5">)</tspan></text>
<path d="M1461.2,302.9 A63,64 0 0 0 1587.3,302.9 Z" fill="#F6C4B7"/>
<path d="M1461.2,302.9 C1466,290 1490,280.5 1524.3,280.5 C1558,280.5 1582,290 1587.3,302.9 Z" fill="#FDD1C5"/>
<path d="M1461.2,302.9 L1587.3,301.5" stroke="#F9CABD" stroke-width="1"/>
<path d="M1610.7,316.2 C1650,322 1700,321 1733.4,316.6 L1733.4,297.1 L1779.6,327.4 L1733.4,356.7 L1733.4,345 C1690,346 1650,337 1610.7,316.2 Z" fill="#C4DACD"/>
<path d="M1810,304 A63.2,64 0 0 0 1936.3,304 Z" fill="#EF9A80" stroke="#F08C72" stroke-width="1"/>
<ellipse cx="1873.1" cy="304" rx="63.2" ry="25.4" fill="url(#bowlTop)" stroke="#F3937A" stroke-width="1"/>
<text x="1700.8" y="308.8" font-size="27" text-anchor="middle" fill="#C00000" >MC</text>
<text x="1697.5" y="372" font-size="24" text-anchor="middle" fill="#C00000" >Elemental</text>
<text x="1701.2" y="400" font-size="23.7" text-anchor="middle" fill="#C00000" >Micro-segregation</text>
<text x="1532.3" y="405.8" font-size="24.3" text-anchor="middle" fill="#000" >P-LTMO</text>
<text x="1871.7" y="406" font-size="24.3" text-anchor="middle" fill="#000" >MA-LTMO</text>
<text x="1679.4" y="455.8" font-size="24.2" text-anchor="middle" fill="#000" >Li-poor</text>
<rect x="1734.7" y="441.6" width="116.6" height="9.4" fill="url(#liGrad)" stroke="none" stroke-width="1" />
<text x="1865.8" y="455.8" font-size="24.2" text-anchor="start" fill="#000" >Li-rich</text>
<circle cx="1468.8" cy="186" r="5.4" fill="url(#cG)"/>
<circle cx="1473.1" cy="120.48" r="5.4" fill="url(#cG)"/>
<circle cx="1477.79" cy="130.95" r="5.4" fill="url(#cG)"/>
<circle cx="1482.47" cy="140.38" r="5.4" fill="url(#cG)"/>
<circle cx="1487.16" cy="147.53" r="5.4" fill="url(#cG)"/>
<circle cx="1491.84" cy="155.77" r="5.4" fill="url(#cG)"/>
<circle cx="1496.53" cy="166.19" r="5.4" fill="url(#cG)"/>
<circle cx="1501.21" cy="171.64" r="5.4" fill="url(#cG)"/>
<circle cx="1505.89" cy="176.68" r="5.4" fill="url(#cG)"/>
<circle cx="1510.58" cy="179.61" r="5.4" fill="url(#cG)"/>
<circle cx="1515.26" cy="185.58" r="5.4" fill="url(#cG)"/>
<circle cx="1519.95" cy="187.6" r="5.4" fill="url(#cG)"/>
<circle cx="1524.63" cy="188.76" r="5.4" fill="url(#cG)"/>
<circle cx="1529.31" cy="195.43" r="5.4" fill="url(#cG)"/>
<circle cx="1534" cy="201.54" r="5.4" fill="url(#cG)"/>
<circle cx="1538.68" cy="203.44" r="5.4" fill="url(#cG)"/>
<circle cx="1543.37" cy="204.5" r="5.4" fill="url(#cG)"/>
<circle cx="1548.05" cy="207.52" r="5.4" fill="url(#cG)"/>
<circle cx="1552.74" cy="208.6" r="5.4" fill="url(#cG)"/>
<circle cx="1557.42" cy="207.18" r="5.4" fill="url(#cG)"/>
<circle cx="1562.1" cy="208.42" r="5.4" fill="url(#cG)"/>
<circle cx="1566.79" cy="208.88" r="5.4" fill="url(#cG)"/>
<circle cx="1571.47" cy="213.62" r="5.4" fill="url(#cG)"/>
<circle cx="1576.16" cy="216.46" r="5.4" fill="url(#cG)"/>
<circle cx="1580.84" cy="217.54" r="5.4" fill="url(#cG)"/>
<circle cx="1585.53" cy="217.48" r="5.4" fill="url(#cG)"/>
<circle cx="1590.21" cy="220.82" r="5.4" fill="url(#cG)"/>
<circle cx="1594.89" cy="219.4" r="5.4" fill="url(#cG)"/>
<circle cx="1599.58" cy="216.83" r="5.4" fill="url(#cG)"/>
<circle cx="1604.26" cy="215.8" r="5.4" fill="url(#cG)"/>
<circle cx="1608.95" cy="219.09" r="5.4" fill="url(#cG)"/>
<circle cx="1613.63" cy="219.09" r="5.4" fill="url(#cG)"/>
<circle cx="1618.31" cy="219.93" r="5.4" fill="url(#cG)"/>
<circle cx="1623" cy="223.48" r="5.4" fill="url(#cG)"/>
<circle cx="1627.68" cy="224.19" r="5.4" fill="url(#cG)"/>
<circle cx="1632.37" cy="223.74" r="5.4" fill="url(#cG)"/>
<circle cx="1637.05" cy="220.41" r="5.4" fill="url(#cG)"/>
<circle cx="1641.74" cy="219.83" r="5.4" fill="url(#cG)"/>
<circle cx="1646.42" cy="221.37" r="5.4" fill="url(#cG)"/>
<circle cx="1651.1" cy="219.84" r="5.4" fill="url(#cG)"/>
<circle cx="1655.79" cy="221.01" r="5.4" fill="url(#cG)"/>
<circle cx="1660.47" cy="224.11" r="5.4" fill="url(#cG)"/>
<circle cx="1665.16" cy="228.48" r="5.4" fill="url(#cG)"/>
<circle cx="1669.84" cy="226.39" r="5.4" fill="url(#cG)"/>
<circle cx="1674.52" cy="223.99" r="5.4" fill="url(#cG)"/>
<circle cx="1679.21" cy="224.64" r="5.4" fill="url(#cG)"/>
<circle cx="1683.89" cy="223.81" r="5.4" fill="url(#cG)"/>
<circle cx="1688.58" cy="221.84" r="5.4" fill="url(#cG)"/>
<circle cx="1693.26" cy="220.89" r="5.4" fill="url(#cG)"/>
<circle cx="1697.95" cy="223.16" r="5.4" fill="url(#cG)"/>
<circle cx="1702.63" cy="226.59" r="5.4" fill="url(#cG)"/>
<circle cx="1707.31" cy="225.81" r="5.4" fill="url(#cG)"/>
<circle cx="1712" cy="225.33" r="5.4" fill="url(#cG)"/>
<circle cx="1716.68" cy="225.86" r="5.4" fill="url(#cG)"/>
<circle cx="1721.37" cy="222.98" r="5.4" fill="url(#cG)"/>
<circle cx="1726.05" cy="220.39" r="5.4" fill="url(#cG)"/>
<circle cx="1730.74" cy="219.2" r="5.4" fill="url(#cG)"/>
<circle cx="1735.42" cy="223.01" r="5.4" fill="url(#cG)"/>
<circle cx="1740.1" cy="223.55" r="5.4" fill="url(#cG)"/>
<circle cx="1744.79" cy="224.85" r="5.4" fill="url(#cG)"/>
<circle cx="1749.47" cy="224.64" r="5.4" fill="url(#cG)"/>
<circle cx="1754.16" cy="224.7" r="5.4" fill="url(#cG)"/>
<circle cx="1758.84" cy="224.93" r="5.4" fill="url(#cG)"/>
<circle cx="1763.52" cy="221.38" r="5.4" fill="url(#cG)"/>
<circle cx="1768.21" cy="219.1" r="5.4" fill="url(#cG)"/>
<circle cx="1772.89" cy="220.14" r="5.4" fill="url(#cG)"/>
<circle cx="1777.58" cy="221.33" r="5.4" fill="url(#cG)"/>
<circle cx="1782.26" cy="222.38" r="5.4" fill="url(#cG)"/>
<circle cx="1786.95" cy="224.3" r="5.4" fill="url(#cG)"/>
<circle cx="1791.63" cy="226.43" r="5.4" fill="url(#cG)"/>
<circle cx="1796.31" cy="226.48" r="5.4" fill="url(#cG)"/>
<circle cx="1801" cy="223.26" r="5.4" fill="url(#cG)"/>
<circle cx="1805.68" cy="219.26" r="5.4" fill="url(#cG)"/>
<circle cx="1810.37" cy="220.05" r="5.4" fill="url(#cG)"/>
<circle cx="1815.05" cy="221.21" r="5.4" fill="url(#cG)"/>
<circle cx="1819.74" cy="218.9" r="5.4" fill="url(#cG)"/>
<circle cx="1824.42" cy="221.26" r="5.4" fill="url(#cG)"/>
<circle cx="1829.1" cy="223.39" r="5.4" fill="url(#cG)"/>
<circle cx="1833.79" cy="225.37" r="5.4" fill="url(#cG)"/>
<circle cx="1838.47" cy="223.55" r="5.4" fill="url(#cG)"/>
<circle cx="1843.16" cy="222.46" r="5.4" fill="url(#cG)"/>
<circle cx="1847.84" cy="221.78" r="5.4" fill="url(#cG)"/>
<circle cx="1852.52" cy="220.89" r="5.4" fill="url(#cG)"/>
<circle cx="1857.21" cy="217.56" r="5.4" fill="url(#cG)"/>
<circle cx="1861.89" cy="217.86" r="5.4" fill="url(#cG)"/>
<circle cx="1866.58" cy="222.85" r="5.4" fill="url(#cG)"/>
<circle cx="1871.26" cy="224.42" r="5.4" fill="url(#cG)"/>
<circle cx="1875.95" cy="220.96" r="5.4" fill="url(#cG)"/>
<circle cx="1880.63" cy="222.53" r="5.4" fill="url(#cG)"/>
<circle cx="1885.31" cy="224.26" r="5.4" fill="url(#cG)"/>
<circle cx="1890" cy="221.92" r="5.4" fill="url(#cG)"/>
<circle cx="1894.68" cy="218.44" r="5.4" fill="url(#cG)"/>
<circle cx="1899.37" cy="217.36" r="5.4" fill="url(#cG)"/>
<circle cx="1904.05" cy="219.65" r="5.4" fill="url(#cG)"/>
<circle cx="1908.74" cy="221.49" r="5.4" fill="url(#cG)"/>
<circle cx="1913.42" cy="222.16" r="5.4" fill="url(#cG)"/>
<circle cx="1918.1" cy="222.83" r="5.4" fill="url(#cG)"/>
<circle cx="1922.79" cy="222.41" r="5.4" fill="url(#cG)"/>
<circle cx="1927.47" cy="221.31" r="5.4" fill="url(#cG)"/>
<circle cx="1932.16" cy="216.43" r="5.4" fill="url(#cG)"/>
<circle cx="1936.84" cy="216.46" r="5.4" fill="url(#cG)"/>
<circle cx="1941.52" cy="220.43" r="5.4" fill="url(#cG)"/>
<circle cx="1946.21" cy="218.2" r="5.4" fill="url(#cG)"/>
<circle cx="1950.89" cy="218.2" r="5.4" fill="url(#cG)"/>
<circle cx="1955.58" cy="221.27" r="5.4" fill="url(#cG)"/>
<circle cx="1960.26" cy="224.34" r="5.4" fill="url(#cG)"/>
<circle cx="1964.95" cy="221.46" r="5.4" fill="url(#cG)"/>
<circle cx="1468.8" cy="265.2" r="5.4" fill="url(#cS)"/>
<circle cx="1472.34" cy="177.72" r="5.4" fill="url(#cS)"/>
<circle cx="1477.66" cy="167.64" r="5.4" fill="url(#cS)"/>
<circle cx="1481.33" cy="175.2" r="5.4" fill="url(#cS)"/>
<circle cx="1486.52" cy="180.24" r="5.4" fill="url(#cS)"/>
<circle cx="1492.22" cy="171.6" r="5.4" fill="url(#cS)"/>
<circle cx="1495.39" cy="155.4" r="5.4" fill="url(#cS)"/>
<circle cx="1500.2" cy="147.12" r="5.4" fill="url(#cS)"/>
<circle cx="1504.25" cy="159" r="5.4" fill="url(#cS)"/>
<circle cx="1509.19" cy="162.96" r="5.4" fill="url(#cS)"/>
<circle cx="1514.12" cy="145.32" r="5.4" fill="url(#cS)"/>
<circle cx="1518.17" cy="144.6" r="5.4" fill="url(#cS)"/>
<circle cx="1522.35" cy="145.68" r="5.4" fill="url(#cS)"/>
<circle cx="1527.29" cy="158.64" r="5.4" fill="url(#cS)"/>
<circle cx="1532.1" cy="153.96" r="5.4" fill="url(#cS)"/>
<circle cx="1535.64" cy="147.12" r="5.4" fill="url(#cS)"/>
<circle cx="1540.46" cy="147.84" r="5.4" fill="url(#cS)"/>
<circle cx="1545.39" cy="156.12" r="5.4" fill="url(#cS)"/>
<circle cx="1549.95" cy="170.88" r="5.4" fill="url(#cS)"/>
<circle cx="1553.75" cy="151.08" r="5.4" fill="url(#cS)"/>
<circle cx="1558.56" cy="156.12" r="5.4" fill="url(#cS)"/>
<circle cx="1563.5" cy="153.24" r="5.4" fill="url(#cS)"/>
<circle cx="1567.67" cy="162.24" r="5.4" fill="url(#cS)"/>
<circle cx="1571.85" cy="150.36" r="5.4" fill="url(#cS)"/>
<circle cx="1576.03" cy="143.52" r="5.4" fill="url(#cS)"/>
<circle cx="1580.84" cy="141.36" r="5.4" fill="url(#cS)"/>
<circle cx="1585.02" cy="154.68" r="5.4" fill="url(#cS)"/>
<circle cx="1589.2" cy="151.08" r="5.4" fill="url(#cS)"/>
<circle cx="1594.77" cy="138.12" r="5.4" fill="url(#cS)"/>
<circle cx="1598.94" cy="151.08" r="5.4" fill="url(#cS)"/>
<circle cx="1603.12" cy="158.28" r="5.4" fill="url(#cS)"/>
<circle cx="1608.69" cy="134.16" r="5.4" fill="url(#cS)"/>
<circle cx="1612.74" cy="150" r="5.4" fill="url(#cS)"/>
<circle cx="1617.68" cy="136.68" r="5.4" fill="url(#cS)"/>
<circle cx="1621.86" cy="155.4" r="5.4" fill="url(#cS)"/>
<circle cx="1626.67" cy="160.8" r="5.4" fill="url(#cS)"/>
<circle cx="1630.85" cy="135.24" r="5.4" fill="url(#cS)"/>
<circle cx="1635.03" cy="131.64" r="5.4" fill="url(#cS)"/>
<circle cx="1639.33" cy="144.24" r="5.4" fill="url(#cS)"/>
<circle cx="1644.77" cy="160.8" r="5.4" fill="url(#cS)"/>
<circle cx="1648.32" cy="146.76" r="5.4" fill="url(#cS)"/>
<circle cx="1653.26" cy="138.84" r="5.4" fill="url(#cS)"/>
<circle cx="1658.07" cy="144.96" r="5.4" fill="url(#cS)"/>
<circle cx="1662.24" cy="158.28" r="5.4" fill="url(#cS)"/>
<circle cx="1665.66" cy="156.84" r="5.4" fill="url(#cS)"/>
<circle cx="1669.84" cy="151.08" r="5.4" fill="url(#cS)"/>
<circle cx="1675.41" cy="150.36" r="5.4" fill="url(#cS)"/>
<circle cx="1679.59" cy="156.84" r="5.4" fill="url(#cS)"/>
<circle cx="1684.4" cy="163.68" r="5.4" fill="url(#cS)"/>
<circle cx="1688.58" cy="158.28" r="5.4" fill="url(#cS)"/>
<circle cx="1692.76" cy="149.64" r="5.4" fill="url(#cS)"/>
<circle cx="1697.69" cy="147.84" r="5.4" fill="url(#cS)"/>
<circle cx="1701.74" cy="153.96" r="5.4" fill="url(#cS)"/>
<circle cx="1706.68" cy="155.4" r="5.4" fill="url(#cS)"/>
<circle cx="1711.62" cy="139.56" r="5.4" fill="url(#cS)"/>
<circle cx="1715.67" cy="151.8" r="5.4" fill="url(#cS)"/>
<circle cx="1719.85" cy="155.4" r="5.4" fill="url(#cS)"/>
<circle cx="1724.03" cy="160.8" r="5.4" fill="url(#cS)"/>
<circle cx="1729.6" cy="161.52" r="5.4" fill="url(#cS)"/>
<circle cx="1734.41" cy="147.12" r="5.4" fill="url(#cS)"/>
<circle cx="1738.58" cy="136.68" r="5.4" fill="url(#cS)"/>
<circle cx="1742.89" cy="140.64" r="5.4" fill="url(#cS)"/>
<circle cx="1747.07" cy="146.4" r="5.4" fill="url(#cS)"/>
<circle cx="1751.88" cy="150.36" r="5.4" fill="url(#cS)"/>
<circle cx="1756.06" cy="139.56" r="5.4" fill="url(#cS)"/>
<circle cx="1760.99" cy="134.52" r="5.4" fill="url(#cS)"/>
<circle cx="1765.8" cy="142.08" r="5.4" fill="url(#cS)"/>
<circle cx="1769.98" cy="138.84" r="5.4" fill="url(#cS)"/>
<circle cx="1774.16" cy="135.96" r="5.4" fill="url(#cS)"/>
<circle cx="1778.97" cy="132.36" r="5.4" fill="url(#cS)"/>
<circle cx="1783.15" cy="130.2" r="5.4" fill="url(#cS)"/>
<circle cx="1787.33" cy="135.96" r="5.4" fill="url(#cS)"/>
<circle cx="1792.26" cy="134.52" r="5.4" fill="url(#cS)"/>
<circle cx="1797.07" cy="126.96" r="5.4" fill="url(#cS)"/>
<circle cx="1801.25" cy="128.4" r="5.4" fill="url(#cS)"/>
<circle cx="1806.06" cy="127.32" r="5.4" fill="url(#cS)"/>
<circle cx="1810.24" cy="133.08" r="5.4" fill="url(#cS)"/>
<circle cx="1814.42" cy="125.52" r="5.4" fill="url(#cS)"/>
<circle cx="1818.6" cy="124.08" r="5.4" fill="url(#cS)"/>
<circle cx="1823.53" cy="121.56" r="5.4" fill="url(#cS)"/>
<circle cx="1827.58" cy="124.08" r="5.4" fill="url(#cS)"/>
<circle cx="1832.52" cy="128.76" r="5.4" fill="url(#cS)"/>
<circle cx="1836.7" cy="124.8" r="5.4" fill="url(#cS)"/>
<circle cx="1841.51" cy="123.36" r="5.4" fill="url(#cS)"/>
<circle cx="1846.32" cy="121.2" r="5.4" fill="url(#cS)"/>
<circle cx="1850.63" cy="124.8" r="5.4" fill="url(#cS)"/>
<circle cx="1855.44" cy="119.76" r="5.4" fill="url(#cS)"/>
<circle cx="1859.61" cy="120.48" r="5.4" fill="url(#cS)"/>
<circle cx="1863.79" cy="121.2" r="5.4" fill="url(#cS)"/>
<circle cx="1868.6" cy="124.08" r="5.4" fill="url(#cS)"/>
<circle cx="1872.78" cy="119.76" r="5.4" fill="url(#cS)"/>
<circle cx="1877.72" cy="119.04" r="5.4" fill="url(#cS)"/>
<circle cx="1882.53" cy="117.24" r="5.4" fill="url(#cS)"/>
<circle cx="1886.71" cy="121.2" r="5.4" fill="url(#cS)"/>
<circle cx="1890.88" cy="122.64" r="5.4" fill="url(#cS)"/>
<circle cx="1895.82" cy="117.96" r="5.4" fill="url(#cS)"/>
<circle cx="1900.63" cy="115.08" r="5.4" fill="url(#cS)"/>
<circle cx="1904.81" cy="121.92" r="5.4" fill="url(#cS)"/>
<circle cx="1908.99" cy="122.64" r="5.4" fill="url(#cS)"/>
<circle cx="1913.8" cy="117.96" r="5.4" fill="url(#cS)"/>
<circle cx="1918.74" cy="117.24" r="5.4" fill="url(#cS)"/>
<circle cx="1922.91" cy="119.04" r="5.4" fill="url(#cS)"/>
<circle cx="1926.97" cy="121.92" r="5.4" fill="url(#cS)"/>
<circle cx="1931.9" cy="124.08" r="5.4" fill="url(#cS)"/>
<circle cx="1936.08" cy="125.52" r="5.4" fill="url(#cS)"/>
<circle cx="1941.02" cy="123.36" r="5.4" fill="url(#cS)"/>
<circle cx="1945.2" cy="123.36" r="5.4" fill="url(#cS)"/>
<circle cx="1949.25" cy="124.08" r="5.4" fill="url(#cS)"/>
<circle cx="1954.18" cy="125.52" r="5.4" fill="url(#cS)"/>
<circle cx="1958.36" cy="121.2" r="5.4" fill="url(#cS)"/>
<circle cx="1962.54" cy="121.92" r="5.4" fill="url(#cS)"/>
<circle cx="1967.35" cy="122.64" r="5.4" fill="url(#cS)"/>
<circle cx="1497.92" cy="150" r="5.4" fill="url(#cS)"/>
<circle cx="1506.78" cy="166.2" r="5.4" fill="url(#cS)"/>
<circle cx="1519.44" cy="146.4" r="5.4" fill="url(#cS)"/>
<circle cx="1530.83" cy="150" r="5.4" fill="url(#cS)"/>
<circle cx="1547.29" cy="151.8" r="5.4" fill="url(#cS)"/>
<circle cx="1561.22" cy="159" r="5.4" fill="url(#cS)"/>
<circle cx="1577.68" cy="146.4" r="5.4" fill="url(#cS)"/>
<circle cx="1591.6" cy="153.6" r="5.4" fill="url(#cS)"/>
<circle cx="1606.79" cy="155.4" r="5.4" fill="url(#cS)"/>
<circle cx="1624.52" cy="157.2" r="5.4" fill="url(#cS)"/>
<circle cx="1640.98" cy="141" r="5.4" fill="url(#cS)"/>
<circle cx="1656.17" cy="151.8" r="5.4" fill="url(#cS)"/>
<circle cx="1671.36" cy="155.4" r="5.4" fill="url(#cS)"/>
<circle cx="1695.41" cy="153.6" r="5.4" fill="url(#cS)"/>
<circle cx="1708.07" cy="148.2" r="5.4" fill="url(#cS)"/>
<rect x="1443.5" y="48.7" width="531.4" height="432.5" fill="none" stroke="#000" stroke-width="1.9"/>
<line x1="1432.5" y1="481.2" x2="1443.5" y2="481.2" stroke="#000" stroke-width="1.9" />
<text x="1424.8" y="489.7" font-size="28.3" text-anchor="end" fill="#000" >0.0</text>
<line x1="1432.5" y1="409.2" x2="1443.5" y2="409.2" stroke="#000" stroke-width="1.9" />
<text x="1424.8" y="417.7" font-size="28.3" text-anchor="end" fill="#000" >0.2</text>
<line x1="1432.5" y1="337.2" x2="1443.5" y2="337.2" stroke="#000" stroke-width="1.9" />
<text x="1424.8" y="345.7" font-size="28.3" text-anchor="end" fill="#000" >0.4</text>
<line x1="1432.5" y1="265.2" x2="1443.5" y2="265.2" stroke="#000" stroke-width="1.9" />
<text x="1424.8" y="273.7" font-size="28.3" text-anchor="end" fill="#000" >0.6</text>
<line x1="1432.5" y1="193.2" x2="1443.5" y2="193.2" stroke="#000" stroke-width="1.9" />
<text x="1424.8" y="201.7" font-size="28.3" text-anchor="end" fill="#000" >0.8</text>
<line x1="1432.5" y1="121.2" x2="1443.5" y2="121.2" stroke="#000" stroke-width="1.9" />
<text x="1424.8" y="129.7" font-size="28.3" text-anchor="end" fill="#000" >1.0</text>
<line x1="1432.5" y1="49.2" x2="1443.5" y2="49.2" stroke="#000" stroke-width="1.9" />
<text x="1424.8" y="57.7" font-size="28.3" text-anchor="end" fill="#000" >1.2</text>
<line x1="1468.8" y1="481.2" x2="1468.8" y2="492.7" stroke="#000" stroke-width="1.9" />
<text x="1468.8" y="522" font-size="28.3" text-anchor="middle" fill="#000" >0</text>
<line x1="1595.4" y1="481.2" x2="1595.4" y2="492.7" stroke="#000" stroke-width="1.9" />
<text x="1595.4" y="522" font-size="28.3" text-anchor="middle" fill="#000" >10</text>
<line x1="1722" y1="481.2" x2="1722" y2="492.7" stroke="#000" stroke-width="1.9" />
<text x="1722" y="522" font-size="28.3" text-anchor="middle" fill="#000" >20</text>
<line x1="1848.6" y1="481.2" x2="1848.6" y2="492.7" stroke="#000" stroke-width="1.9" />
<text x="1848.6" y="522" font-size="28.3" text-anchor="middle" fill="#000" >30</text>
<line x1="1975.2" y1="481.2" x2="1975.2" y2="492.7" stroke="#000" stroke-width="1.9" />
<text x="1975.2" y="522" font-size="28.3" text-anchor="middle" fill="#000" >40</text>
<line x1="1532.1" y1="481.2" x2="1532.1" y2="487" stroke="#000" stroke-width="1.9" />
<line x1="1658.7" y1="481.2" x2="1658.7" y2="487" stroke="#000" stroke-width="1.9" />
<line x1="1785.3" y1="481.2" x2="1785.3" y2="487" stroke="#000" stroke-width="1.9" />
<line x1="1911.9" y1="481.2" x2="1911.9" y2="487" stroke="#000" stroke-width="1.9" />
<text x="1709" y="561.6" font-size="33" text-anchor="middle" fill="#000" >Sputtering distance (nm)</text>
<text transform="translate(1366,266.6) rotate(-90)" font-size="33" text-anchor="middle">Normalized yield</text>
<text x="1464.5" y="93" font-size="34">Li<tspan font-size="25.8" dy="-14.5">+</tspan></text>
<circle cx="1457" cy="19" r="5.9" fill="url(#cS)"/>
<text x="1481.5" y="29.6" font-size="27" text-anchor="start" fill="#000" >P-NCM811</text>
<circle cx="1638" cy="19" r="5.9" fill="url(#cG)"/>
<text x="1662.8" y="29.6" font-size="27" text-anchor="start" fill="#000" >MA-NCM811</text>
<text x="1343" y="30.2" font-size="41.5" text-anchor="start" fill="#000" >c</text>
<circle cx="92.62" cy="701.35" r="4.9" fill="url(#gBall)"/><circle cx="96.92" cy="704.12" r="4.9" fill="url(#gBall)"/><circle cx="101.22" cy="705.22" r="4.9" fill="url(#gBall)"/><circle cx="105.52" cy="702.71" r="4.9" fill="url(#gBall)"/><circle cx="109.82" cy="701.37" r="4.9" fill="url(#gBall)"/><circle cx="114.12" cy="703.57" r="4.9" fill="url(#gBall)"/><circle cx="118.42" cy="704.55" r="4.9" fill="url(#gBall)"/><circle cx="122.72" cy="705.65" r="4.9" fill="url(#gBall)"/><circle cx="127.02" cy="701.77" r="4.9" fill="url(#gBall)"/><circle cx="131.32" cy="701.68" r="4.9" fill="url(#gBall)"/><circle cx="135.62" cy="705.13" r="4.9" fill="url(#gBall)"/><circle cx="139.92" cy="704.79" r="4.9" fill="url(#gBall)"/><circle cx="144.22" cy="706.64" r="4.9" fill="url(#gBall)"/><circle cx="148.52" cy="705.75" r="4.9" fill="url(#gBall)"/><circle cx="152.82" cy="703.95" r="4.9" fill="url(#gBall)"/><circle cx="157.12" cy="703.7" r="4.9" fill="url(#gBall)"/><circle cx="161.42" cy="708.59" r="4.9" fill="url(#gBall)"/><circle cx="165.72" cy="703.77" r="4.9" fill="url(#gBall)"/><circle cx="170.02" cy="702.98" r="4.9" fill="url(#gBall)"/><circle cx="174.32" cy="702.42" r="4.9" fill="url(#gBall)"/><circle cx="178.62" cy="704.56" r="4.9" fill="url(#gBall)"/><circle cx="182.92" cy="704.69" r="4.9" fill="url(#gBall)"/><circle cx="187.22" cy="703.9" r="4.9" fill="url(#gBall)"/><circle cx="191.52" cy="704.43" r="4.9" fill="url(#gBall)"/><circle cx="195.82" cy="705.04" r="4.9" fill="url(#gBall)"/><circle cx="200.12" cy="705.79" r="4.9" fill="url(#gBall)"/><circle cx="204.42" cy="706.52" r="4.9" fill="url(#gBall)"/><circle cx="208.72" cy="705.05" r="4.9" fill="url(#gBall)"/><circle cx="213.02" cy="701.69" r="4.9" fill="url(#gBall)"/><circle cx="217.32" cy="705.96" r="4.9" fill="url(#gBall)"/><circle cx="221.62" cy="702.39" r="4.9" fill="url(#gBall)"/><circle cx="225.92" cy="704.54" r="4.9" fill="url(#gBall)"/><circle cx="230.22" cy="702.36" r="4.9" fill="url(#gBall)"/><circle cx="234.52" cy="704.89" r="4.9" fill="url(#gBall)"/><circle cx="238.82" cy="703.58" r="4.9" fill="url(#gBall)"/><circle cx="243.12" cy="705.29" r="4.9" fill="url(#gBall)"/><circle cx="247.42" cy="710.54" r="4.9" fill="url(#gBall)"/><circle cx="251.72" cy="704.85" r="4.9" fill="url(#gBall)"/><circle cx="256.02" cy="706.36" r="4.9" fill="url(#gBall)"/><circle cx="260.32" cy="702.66" r="4.9" fill="url(#gBall)"/><circle cx="264.62" cy="704.4" r="4.9" fill="url(#gBall)"/><circle cx="268.92" cy="705.97" r="4.9" fill="url(#gBall)"/><circle cx="273.22" cy="704.63" r="4.9" fill="url(#gBall)"/><circle cx="277.52" cy="705.34" r="4.9" fill="url(#gBall)"/><circle cx="281.82" cy="704.79" r="4.9" fill="url(#gBall)"/><circle cx="286.12" cy="702.79" r="4.9" fill="url(#gBall)"/><circle cx="290.42" cy="705.31" r="4.9" fill="url(#gBall)"/><circle cx="294.72" cy="702.8" r="4.9" fill="url(#gBall)"/><circle cx="299.02" cy="707.16" r="4.9" fill="url(#gBall)"/><circle cx="303.32" cy="702.89" r="4.9" fill="url(#gBall)"/><circle cx="307.62" cy="704.65" r="4.9" fill="url(#gBall)"/><circle cx="311.92" cy="703.18" r="4.9" fill="url(#gBall)"/><circle cx="316.22" cy="704.46" r="4.9" fill="url(#gBall)"/><circle cx="320.52" cy="701.44" r="4.9" fill="url(#gBall)"/><circle cx="324.82" cy="703.75" r="4.9" fill="url(#gBall)"/><circle cx="329.12" cy="701.4" r="4.9" fill="url(#gBall)"/><circle cx="333.42" cy="703.28" r="4.9" fill="url(#gBall)"/><circle cx="337.72" cy="701.68" r="4.9" fill="url(#gBall)"/><circle cx="342.02" cy="700.32" r="4.9" fill="url(#gBall)"/><circle cx="346.32" cy="698.18" r="4.9" fill="url(#gBall)"/><circle cx="350.62" cy="700.23" r="4.9" fill="url(#gBall)"/><circle cx="354.92" cy="699.12" r="4.9" fill="url(#gBall)"/><circle cx="359.22" cy="700.51" r="4.9" fill="url(#gBall)"/><circle cx="363.52" cy="696.47" r="4.9" fill="url(#gBall)"/><circle cx="367.82" cy="697.45" r="4.9" fill="url(#gBall)"/><circle cx="372.12" cy="696.77" r="4.9" fill="url(#gBall)"/><circle cx="376.42" cy="695.81" r="4.9" fill="url(#gBall)"/><circle cx="380.72" cy="695.13" r="4.9" fill="url(#gBall)"/><circle cx="385.02" cy="694.55" r="4.9" fill="url(#gBall)"/><circle cx="389.32" cy="692.71" r="4.9" fill="url(#gBall)"/><circle cx="393.62" cy="691.53" r="4.9" fill="url(#gBall)"/><circle cx="397.92" cy="692.13" r="4.9" fill="url(#gBall)"/><circle cx="402.22" cy="693.4" r="4.9" fill="url(#gBall)"/><circle cx="406.52" cy="694.59" r="4.9" fill="url(#gBall)"/><circle cx="410.82" cy="693.34" r="4.9" fill="url(#gBall)"/><circle cx="415.12" cy="693.19" r="4.9" fill="url(#gBall)"/><circle cx="419.42" cy="692.48" r="4.9" fill="url(#gBall)"/><circle cx="423.72" cy="692.17" r="4.9" fill="url(#gBall)"/><circle cx="428.02" cy="691.19" r="4.9" fill="url(#gBall)"/><circle cx="432.32" cy="692.15" r="4.9" fill="url(#gBall)"/><circle cx="436.62" cy="693.9" r="4.9" fill="url(#gBall)"/><circle cx="440.92" cy="690.45" r="4.9" fill="url(#gBall)"/><circle cx="445.22" cy="690.03" r="4.9" fill="url(#gBall)"/><circle cx="449.52" cy="694.84" r="4.9" fill="url(#gBall)"/><circle cx="453.82" cy="692.3" r="4.9" fill="url(#gBall)"/><circle cx="458.12" cy="693.99" r="4.9" fill="url(#gBall)"/><circle cx="462.42" cy="694.35" r="4.9" fill="url(#gBall)"/><circle cx="466.72" cy="691.53" r="4.9" fill="url(#gBall)"/><circle cx="471.02" cy="698.24" r="4.9" fill="url(#gBall)"/><circle cx="475.32" cy="697.81" r="4.9" fill="url(#gBall)"/><circle cx="479.62" cy="695.81" r="4.9" fill="url(#gBall)"/><circle cx="483.92" cy="697.54" r="4.9" fill="url(#gBall)"/><circle cx="488.22" cy="697.24" r="4.9" fill="url(#gBall)"/><circle cx="492.52" cy="696.3" r="4.9" fill="url(#gBall)"/><circle cx="496.82" cy="698.38" r="4.9" fill="url(#gBall)"/><circle cx="501.12" cy="699.97" r="4.9" fill="url(#gBall)"/><circle cx="505.42" cy="701.98" r="4.9" fill="url(#gBall)"/><circle cx="509.72" cy="702.02" r="4.9" fill="url(#gBall)"/><circle cx="514.02" cy="701.62" r="4.9" fill="url(#gBall)"/><circle cx="518.32" cy="704.51" r="4.9" fill="url(#gBall)"/><circle cx="522.62" cy="701.56" r="4.9" fill="url(#gBall)"/><circle cx="526.92" cy="704.82" r="4.9" fill="url(#gBall)"/><circle cx="531.22" cy="705.95" r="4.9" fill="url(#gBall)"/><circle cx="535.52" cy="704.11" r="4.9" fill="url(#gBall)"/><circle cx="539.82" cy="702.07" r="4.9" fill="url(#gBall)"/><circle cx="544.12" cy="704.05" r="4.9" fill="url(#gBall)"/><circle cx="548.42" cy="706.44" r="4.9" fill="url(#gBall)"/><circle cx="552.72" cy="707.34" r="4.9" fill="url(#gBall)"/><circle cx="557.02" cy="709.45" r="4.9" fill="url(#gBall)"/><circle cx="561.32" cy="705.45" r="4.9" fill="url(#gBall)"/><circle cx="565.62" cy="707.48" r="4.9" fill="url(#gBall)"/><circle cx="569.92" cy="708.86" r="4.9" fill="url(#gBall)"/><circle cx="574.22" cy="707.75" r="4.9" fill="url(#gBall)"/><circle cx="578.52" cy="704.23" r="4.9" fill="url(#gBall)"/><circle cx="582.82" cy="709.84" r="4.9" fill="url(#gBall)"/><circle cx="587.12" cy="712.6" r="4.9" fill="url(#gBall)"/><circle cx="591.42" cy="710.55" r="4.9" fill="url(#gBall)"/><circle cx="595.72" cy="707.45" r="4.9" fill="url(#gBall)"/><circle cx="600.02" cy="708.46" r="4.9" fill="url(#gBall)"/><circle cx="604.32" cy="709.68" r="4.9" fill="url(#gBall)"/><circle cx="608.62" cy="713.66" r="4.9" fill="url(#gBall)"/><circle cx="612.92" cy="710.6" r="4.9" fill="url(#gBall)"/><circle cx="617.22" cy="709.85" r="4.9" fill="url(#gBall)"/><circle cx="621.52" cy="712.41" r="4.9" fill="url(#gBall)"/>
<path d="M90.9,703.6 624,710.5" fill="none" stroke="#1a1a1a" stroke-width="1.4" stroke-linejoin="round" />
<path d="M165,704.3 167.1,704.3 169.1,704.4 171.1,704.4 173.1,704.4 175.1,704.4 177.1,704.4 179.1,704.5 181.1,704.5 183.1,704.5 185.1,704.5 187.1,704.6 189.1,704.6 191.1,704.6 193.1,704.6 195.1,704.6 197.1,704.7 199.1,704.7 201.1,704.7 203.1,704.7 205.1,704.7 207.1,704.8 209.1,704.8 211.1,704.8 213.1,704.8 215.1,704.8 217.1,704.9 219.2,704.9 221.2,704.9 223.2,704.9 225.2,704.9 227.2,705 229.2,705 231.2,705 233.2,705 235.2,705 237.2,705 239.2,705.1 241.2,705.1 243.2,705.1 245.2,705.1 247.2,705.1 249.2,705.1 251.2,705.2 253.2,705.2 255.2,705.2 257.2,705.2 259.2,705.2 261.2,705.2 263.2,705.2 265.2,705.2 267.2,705.2 269.3,705.2 271.3,705.2 273.3,705.2 275.3,705.2 277.3,705.2 279.3,705.2 281.3,705.2 283.3,705.2 285.3,705.2 287.3,705.2 289.3,705.2 291.3,705.2 293.3,705.2 295.3,705.1 297.3,705.1 299.3,705.1 301.3,705.1 303.3,705 305.3,705 307.3,705 309.3,704.9 311.3,704.9 313.3,704.8 315.3,704.7 317.3,704.7 319.4,704.6 321.4,704.5 323.4,704.5 325.4,704.4 327.4,704.3 329.4,704.2 331.4,704.1 333.4,704 335.4,703.8 337.4,703.7 339.4,703.6 341.4,703.5 343.4,703.3 345.4,703.2 347.4,703 349.4,702.8 351.4,702.6 353.4,702.5 355.4,702.3 357.4,702.1 359.4,701.9 361.4,701.6 363.4,701.4 365.4,701.2 367.4,701 369.4,700.7 371.5,700.5 373.5,700.2 375.5,700 377.5,699.7 379.5,699.4 381.5,699.1 383.5,698.9 385.5,698.6 387.5,698.3 389.5,698 391.5,697.7 393.5,697.4 395.5,697.1 397.5,696.9 399.5,696.6 401.5,696.3 403.5,696 405.5,695.7 407.5,695.5 409.5,695.2 411.5,694.9 413.5,694.7 415.5,694.4 417.5,694.2 419.5,694 421.6,693.8 423.6,693.6 425.6,693.4 427.6,693.3 429.6,693.1 431.6,693 433.6,692.9 435.6,692.8 437.6,692.7 439.6,692.7 441.6,692.7 443.6,692.7 445.6,692.7 447.6,692.7 449.6,692.8 451.6,692.9 453.6,693 455.6,693.1 457.6,693.3 459.6,693.4 461.6,693.6 463.6,693.8 465.6,694.1 467.6,694.3 469.6,694.5 471.7,694.8 473.7,695.1 475.7,695.4 477.7,695.7 479.7,696 481.7,696.3 483.7,696.6 485.7,696.9 487.7,697.3 489.7,697.6 491.7,697.9 493.7,698.3 495.7,698.6 497.7,699 499.7,699.3 501.7,699.7 503.7,700 505.7,700.3 507.7,700.7 509.7,701 511.7,701.3 513.7,701.6 515.7,701.9 517.7,702.3 519.7,702.6 521.7,702.9 523.8,703.1 525.8,703.4 527.8,703.7 529.8,704 531.8,704.2 533.8,704.5 535.8,704.7 537.8,705 539.8,705.2 541.8,705.4 543.8,705.6 545.8,705.9 547.8,706.1 549.8,706.2 551.8,706.4 553.8,706.6 555.8,706.8 557.8,707 559.8,707.1 561.8,707.3 563.8,707.4 565.8,707.6 567.8,707.7 569.8,707.8 571.8,707.9 573.9,708.1 575.9,708.2 577.9,708.3 579.9,708.4 581.9,708.5 583.9,708.6 585.9,708.7 587.9,708.8 589.9,708.8 591.9,708.9 593.9,709 595.9,709.1 597.9,709.1 599.9,709.2 601.9,709.3 603.9,709.3 605.9,709.4 607.9,709.5 609.9,709.5 611.9,709.6 613.9,709.6 615.9,709.7 617.9,709.7 619.9,709.8 621.9,709.8 624,709.9" fill="none" stroke="#4a4a4a" stroke-width="1.1" stroke-linejoin="round" />
<path d="M90.9,703.4 92.9,703.4 94.9,703.5 96.9,703.5 98.9,703.5 100.9,703.5 102.9,703.6 104.9,703.6 106.9,703.6 108.9,703.6 110.9,703.6 112.9,703.7 114.9,703.7 117,703.7 119,703.7 121,703.8 123,703.8 125,703.8 127,703.8 129,703.9 131,703.9 133,703.9 135,703.9 137,703.9 139,704 141,704 143,704 145,704 147,704.1 149,704.1 151,704.1 153,704.1 155,704.1 157,704.2 159,704.2 161,704.2 163,704.2 165,704.3 167.1,704.3 169.1,704.3 171.1,704.3 173.1,704.3 175.1,704.4 177.1,704.4 179.1,704.4 181.1,704.4 183.1,704.4 185.1,704.5 187.1,704.5 189.1,704.5 191.1,704.5 193.1,704.5 195.1,704.6 197.1,704.6 199.1,704.6 201.1,704.6 203.1,704.6 205.1,704.7 207.1,704.7 209.1,704.7 211.1,704.7 213.1,704.7 215.1,704.8 217.1,704.8 219.2,704.8 221.2,704.8 223.2,704.8 225.2,704.8 227.2,704.8 229.2,704.9 231.2,704.9 233.2,704.9 235.2,704.9 237.2,704.9 239.2,704.9 241.2,704.9 243.2,704.9 245.2,704.9 247.2,704.9 249.2,704.9 251.2,704.9 253.2,704.9 255.2,704.9 257.2,704.9 259.2,704.9 261.2,704.9 263.2,704.9 265.2,704.9 267.2,704.9 269.3,704.8 271.3,704.8 273.3,704.8 275.3,704.8 277.3,704.7 279.3,704.7 281.3,704.6 283.3,704.6 285.3,704.5 287.3,704.5 289.3,704.4 291.3,704.3 293.3,704.2 295.3,704.2 297.3,704.1 299.3,704 301.3,703.9 303.3,703.7 305.3,703.6 307.3,703.5 309.3,703.4 311.3,703.2 313.3,703.1 315.3,702.9 317.3,702.7 319.4,702.6 321.4,702.4 323.4,702.2 325.4,702 327.4,701.8 329.4,701.6 331.4,701.4 333.4,701.1 335.4,700.9 337.4,700.7 339.4,700.4 341.4,700.2 343.4,699.9 345.4,699.6 347.4,699.4 349.4,699.1 351.4,698.8 353.4,698.5 355.4,698.3 357.4,698 359.4,697.7 361.4,697.4 363.4,697.1 365.4,696.8 367.4,696.6 369.4,696.3 371.5,696 373.5,695.7 375.5,695.5 377.5,695.2 379.5,694.9 381.5,694.7 383.5,694.4 385.5,694.2 387.5,693.9 389.5,693.7 391.5,693.5 393.5,693.3 395.5,693.1 397.5,692.8 399.5,692.6 401.5,692.5 403.5,692.3 405.5,692.1 407.5,691.9 409.5,691.8 411.5,691.6 413.5,691.5 415.5,691.4 417.5,691.3 419.5,691.2 421.6,691.1 423.6,691 425.6,690.9 427.6,690.9 429.6,690.9 431.6,690.8 433.6,690.8 435.6,690.9 437.6,690.9 439.6,691 441.6,691 443.6,691.1 445.6,691.2 447.6,691.4 449.6,691.5 451.6,691.7 453.6,691.9 455.6,692.1 457.6,692.3 459.6,692.5 461.6,692.8 463.6,693 465.6,693.3 467.6,693.6 469.6,693.9 471.7,694.2 473.7,694.5 475.7,694.8 477.7,695.2 479.7,695.5 481.7,695.9 483.7,696.2 485.7,696.6 487.7,696.9 489.7,697.3 491.7,697.6 493.7,698 495.7,698.4 497.7,698.7 499.7,699.1 501.7,699.4 503.7,699.8 505.7,700.1 507.7,700.5 509.7,700.8 511.7,701.1 513.7,701.5 515.7,701.8 517.7,702.1 519.7,702.4 521.7,702.7 523.8,703 525.8,703.3 527.8,703.6 529.8,703.9 531.8,704.1 533.8,704.4 535.8,704.6 537.8,704.9 539.8,705.1 541.8,705.3 543.8,705.6 545.8,705.8 547.8,706 549.8,706.2 551.8,706.4 553.8,706.5 555.8,706.7 557.8,706.9 559.8,707 561.8,707.2 563.8,707.3 565.8,707.5 567.8,707.6 569.8,707.8 571.8,707.9 573.9,708 575.9,708.1 577.9,708.2 579.9,708.3 581.9,708.4 583.9,708.5 585.9,708.6 587.9,708.7 589.9,708.8 591.9,708.9 593.9,708.9 595.9,709 597.9,709.1 599.9,709.2 601.9,709.2 603.9,709.3 605.9,709.3 607.9,709.4 609.9,709.5 611.9,709.5 613.9,709.6 615.9,709.6 617.9,709.7 619.9,709.7 621.9,709.8 624,709.8" fill="none" stroke="#3a3a3a" stroke-width="1.7" stroke-linejoin="round" />
<text x="102.2" y="699.4" font-size="26.2" text-anchor="start" fill="#000" >480 s</text>
<path d="M185.1,794 187.1,794 189.1,794.1 191.1,794.1 193.1,794.1 195.1,794.2 197.1,794.2 199.1,794.2 201.1,794.2 203.1,794.3 205.1,794.3 207.1,794.3 209.1,794.3 211.1,794.4 213.1,794.4 215.1,794.4 217.1,794.5 219.2,794.5 221.2,794.5 223.2,794.5 225.2,794.6 227.2,794.6 229.2,794.6 231.2,794.6 233.2,794.7 235.2,794.7 237.2,794.7 239.2,794.7 241.2,794.7 243.2,794.8 245.2,794.8 247.2,794.8 249.2,794.8 251.2,794.8 253.2,794.9 255.2,794.9 257.2,794.9 259.2,794.9 261.2,794.9 263.2,794.9 265.2,794.9 267.2,794.9 269.3,794.9 271.3,794.9 273.3,794.9 275.3,794.9 277.3,794.9 279.3,794.9 281.3,794.9 283.3,794.8 285.3,794.8 287.3,794.8 289.3,794.7 291.3,794.7 293.3,794.6 295.3,794.5 297.3,794.5 299.3,794.4 301.3,794.3 303.3,794.2 305.3,794.1 307.3,794 309.3,793.9 311.3,793.7 313.3,793.6 315.3,793.5 317.3,793.3 319.4,793.1 321.4,793 323.4,792.8 325.4,792.6 327.4,792.4 329.4,792.2 331.4,792 333.4,791.8 335.4,791.5 337.4,791.3 339.4,791.1 341.4,790.8 343.4,790.6 345.4,790.4 347.4,790.2 349.4,789.9 351.4,789.7 353.4,789.5 355.4,789.3 357.4,789.1 359.4,788.9 361.4,788.7 363.4,788.6 365.4,788.4 367.4,788.3 369.4,788.2 371.5,788.1 373.5,788.1 375.5,788 377.5,788 379.5,788 381.5,788.1 383.5,788.1 385.5,788.2 387.5,788.3 389.5,788.4 391.5,788.6 393.5,788.7 395.5,788.9 397.5,789.1 399.5,789.4 401.5,789.6 403.5,789.8 405.5,790.1 407.5,790.4 409.5,790.6 411.5,790.9 413.5,791.2 415.5,791.5 417.5,791.8 419.5,792.1 421.6,792.4 423.6,792.6 425.6,792.9 427.6,793.2 429.6,793.5 431.6,793.8 433.6,794 435.6,794.3 437.6,794.5 439.6,794.8 441.6,795 443.6,795.2 445.6,795.4 447.6,795.7 449.6,795.9 451.6,796 453.6,796.2 455.6,796.4 457.6,796.6 459.6,796.7 461.6,796.9 463.6,797 465.6,797.1 467.6,797.2 469.6,797.4 471.7,797.5 473.7,797.6 475.7,797.7 477.7,797.8 479.7,797.8 481.7,797.9 483.7,798 485.7,798.1 487.7,798.1 489.7,798.2 491.7,798.3 493.7,798.3 495.7,798.4 497.7,798.4 499.7,798.5 501.7,798.5 503.7,798.6 505.7,798.6 507.7,798.7 509.7,798.7 511.7,798.8 513.7,798.8 515.7,798.9 517.7,798.9 519.7,798.9 521.7,799 523.8,799 525.8,799 527.8,799.1 529.8,799.1 531.8,799.1 533.8,799.2 535.8,799.2 537.8,799.3 539.8,799.3 541.8,799.3 543.8,799.4 545.8,799.4 547.8,799.4 549.8,799.5 551.8,799.5 553.8,799.5 555.8,799.6 557.8,799.6 559.8,799.6 561.8,799.7 563.8,799.7 565.8,799.7 567.8,799.7 569.8,799.8 571.8,799.8 573.9,799.8 575.9,799.9 575.9,800 185.1,794.1Z" fill="url(#dSal)"/>
<circle cx="92.62" cy="790.04" r="4.9" fill="url(#gBall)"/><circle cx="96.92" cy="792.96" r="4.9" fill="url(#gBall)"/><circle cx="101.22" cy="792.15" r="4.9" fill="url(#gBall)"/><circle cx="105.52" cy="791.86" r="4.9" fill="url(#gBall)"/><circle cx="109.82" cy="794.38" r="4.9" fill="url(#gBall)"/><circle cx="114.12" cy="792.91" r="4.9" fill="url(#gBall)"/><circle cx="118.42" cy="792.38" r="4.9" fill="url(#gBall)"/><circle cx="122.72" cy="795.97" r="4.9" fill="url(#gBall)"/><circle cx="127.02" cy="792.13" r="4.9" fill="url(#gBall)"/><circle cx="131.32" cy="790.88" r="4.9" fill="url(#gBall)"/><circle cx="135.62" cy="790.74" r="4.9" fill="url(#gBall)"/><circle cx="139.92" cy="792.24" r="4.9" fill="url(#gBall)"/><circle cx="144.22" cy="794.31" r="4.9" fill="url(#gBall)"/><circle cx="148.52" cy="794.7" r="4.9" fill="url(#gBall)"/><circle cx="152.82" cy="795.24" r="4.9" fill="url(#gBall)"/><circle cx="157.12" cy="796.51" r="4.9" fill="url(#gBall)"/><circle cx="161.42" cy="796.34" r="4.9" fill="url(#gBall)"/><circle cx="165.72" cy="794.6" r="4.9" fill="url(#gBall)"/><circle cx="170.02" cy="795.83" r="4.9" fill="url(#gBall)"/><circle cx="174.32" cy="794.74" r="4.9" fill="url(#gBall)"/><circle cx="178.62" cy="792.72" r="4.9" fill="url(#gBall)"/><circle cx="182.92" cy="795.15" r="4.9" fill="url(#gBall)"/><circle cx="187.22" cy="793.9" r="4.9" fill="url(#gBall)"/><circle cx="191.52" cy="793.5" r="4.9" fill="url(#gBall)"/><circle cx="195.82" cy="797.33" r="4.9" fill="url(#gBall)"/><circle cx="200.12" cy="795.28" r="4.9" fill="url(#gBall)"/><circle cx="204.42" cy="793.18" r="4.9" fill="url(#gBall)"/><circle cx="208.72" cy="793.92" r="4.9" fill="url(#gBall)"/><circle cx="213.02" cy="798.11" r="4.9" fill="url(#gBall)"/><circle cx="217.32" cy="793.72" r="4.9" fill="url(#gBall)"/><circle cx="221.62" cy="795.45" r="4.9" fill="url(#gBall)"/><circle cx="225.92" cy="795.29" r="4.9" fill="url(#gBall)"/><circle cx="230.22" cy="795.14" r="4.9" fill="url(#gBall)"/><circle cx="234.52" cy="795.31" r="4.9" fill="url(#gBall)"/><circle cx="238.82" cy="793.5" r="4.9" fill="url(#gBall)"/><circle cx="243.12" cy="793.56" r="4.9" fill="url(#gBall)"/><circle cx="247.42" cy="794.1" r="4.9" fill="url(#gBall)"/><circle cx="251.72" cy="793.77" r="4.9" fill="url(#gBall)"/><circle cx="256.02" cy="795.78" r="4.9" fill="url(#gBall)"/><circle cx="260.32" cy="797.04" r="4.9" fill="url(#gBall)"/><circle cx="264.62" cy="792.84" r="4.9" fill="url(#gBall)"/><circle cx="268.92" cy="795.27" r="4.9" fill="url(#gBall)"/><circle cx="273.22" cy="792.59" r="4.9" fill="url(#gBall)"/><circle cx="277.52" cy="793.01" r="4.9" fill="url(#gBall)"/><circle cx="281.82" cy="793.69" r="4.9" fill="url(#gBall)"/><circle cx="286.12" cy="794.15" r="4.9" fill="url(#gBall)"/><circle cx="290.42" cy="793.04" r="4.9" fill="url(#gBall)"/><circle cx="294.72" cy="789.08" r="4.9" fill="url(#gBall)"/><circle cx="299.02" cy="795.71" r="4.9" fill="url(#gBall)"/><circle cx="303.32" cy="792.54" r="4.9" fill="url(#gBall)"/><circle cx="307.62" cy="791.54" r="4.9" fill="url(#gBall)"/><circle cx="311.92" cy="793.38" r="4.9" fill="url(#gBall)"/><circle cx="316.22" cy="790.69" r="4.9" fill="url(#gBall)"/><circle cx="320.52" cy="788.7" r="4.9" fill="url(#gBall)"/><circle cx="324.82" cy="791.38" r="4.9" fill="url(#gBall)"/><circle cx="329.12" cy="790.57" r="4.9" fill="url(#gBall)"/><circle cx="333.42" cy="787.67" r="4.9" fill="url(#gBall)"/><circle cx="337.72" cy="789.74" r="4.9" fill="url(#gBall)"/><circle cx="342.02" cy="788.08" r="4.9" fill="url(#gBall)"/><circle cx="346.32" cy="784.58" r="4.9" fill="url(#gBall)"/><circle cx="350.62" cy="788.63" r="4.9" fill="url(#gBall)"/><circle cx="354.92" cy="785.13" r="4.9" fill="url(#gBall)"/><circle cx="359.22" cy="781.77" r="4.9" fill="url(#gBall)"/><circle cx="363.52" cy="783.57" r="4.9" fill="url(#gBall)"/><circle cx="367.82" cy="782.11" r="4.9" fill="url(#gBall)"/><circle cx="372.12" cy="782.72" r="4.9" fill="url(#gBall)"/><circle cx="376.42" cy="777.93" r="4.9" fill="url(#gBall)"/><circle cx="380.72" cy="781.34" r="4.9" fill="url(#gBall)"/><circle cx="385.02" cy="780.53" r="4.9" fill="url(#gBall)"/><circle cx="389.32" cy="779.55" r="4.9" fill="url(#gBall)"/><circle cx="393.62" cy="778.92" r="4.9" fill="url(#gBall)"/><circle cx="397.92" cy="779.74" r="4.9" fill="url(#gBall)"/><circle cx="402.22" cy="778.38" r="4.9" fill="url(#gBall)"/><circle cx="406.52" cy="777.09" r="4.9" fill="url(#gBall)"/><circle cx="410.82" cy="775.21" r="4.9" fill="url(#gBall)"/><circle cx="415.12" cy="778.42" r="4.9" fill="url(#gBall)"/><circle cx="419.42" cy="778.1" r="4.9" fill="url(#gBall)"/><circle cx="423.72" cy="776.87" r="4.9" fill="url(#gBall)"/><circle cx="428.02" cy="776.64" r="4.9" fill="url(#gBall)"/><circle cx="432.32" cy="777.7" r="4.9" fill="url(#gBall)"/><circle cx="436.62" cy="772.27" r="4.9" fill="url(#gBall)"/><circle cx="440.92" cy="777.38" r="4.9" fill="url(#gBall)"/><circle cx="445.22" cy="772.84" r="4.9" fill="url(#gBall)"/><circle cx="449.52" cy="777.95" r="4.9" fill="url(#gBall)"/><circle cx="453.82" cy="779.84" r="4.9" fill="url(#gBall)"/><circle cx="458.12" cy="781.85" r="4.9" fill="url(#gBall)"/><circle cx="462.42" cy="778.41" r="4.9" fill="url(#gBall)"/><circle cx="466.72" cy="780.68" r="4.9" fill="url(#gBall)"/><circle cx="471.02" cy="780.59" r="4.9" fill="url(#gBall)"/><circle cx="475.32" cy="777.71" r="4.9" fill="url(#gBall)"/><circle cx="479.62" cy="783.68" r="4.9" fill="url(#gBall)"/><circle cx="483.92" cy="783.3" r="4.9" fill="url(#gBall)"/><circle cx="488.22" cy="784.38" r="4.9" fill="url(#gBall)"/><circle cx="492.52" cy="783.58" r="4.9" fill="url(#gBall)"/><circle cx="496.82" cy="786.08" r="4.9" fill="url(#gBall)"/><circle cx="501.12" cy="787.23" r="4.9" fill="url(#gBall)"/><circle cx="505.42" cy="790.22" r="4.9" fill="url(#gBall)"/><circle cx="509.72" cy="789.42" r="4.9" fill="url(#gBall)"/><circle cx="514.02" cy="795.8" r="4.9" fill="url(#gBall)"/><circle cx="518.32" cy="789.93" r="4.9" fill="url(#gBall)"/><circle cx="522.62" cy="790.98" r="4.9" fill="url(#gBall)"/><circle cx="526.92" cy="792.11" r="4.9" fill="url(#gBall)"/><circle cx="531.22" cy="791.53" r="4.9" fill="url(#gBall)"/><circle cx="535.52" cy="796.21" r="4.9" fill="url(#gBall)"/><circle cx="539.82" cy="795.36" r="4.9" fill="url(#gBall)"/><circle cx="544.12" cy="792.64" r="4.9" fill="url(#gBall)"/><circle cx="548.42" cy="795.57" r="4.9" fill="url(#gBall)"/><circle cx="552.72" cy="797.87" r="4.9" fill="url(#gBall)"/><circle cx="557.02" cy="793.9" r="4.9" fill="url(#gBall)"/><circle cx="561.32" cy="797.02" r="4.9" fill="url(#gBall)"/><circle cx="565.62" cy="796.74" r="4.9" fill="url(#gBall)"/><circle cx="569.92" cy="801.52" r="4.9" fill="url(#gBall)"/><circle cx="574.22" cy="798.53" r="4.9" fill="url(#gBall)"/><circle cx="578.52" cy="797.4" r="4.9" fill="url(#gBall)"/><circle cx="582.82" cy="797.4" r="4.9" fill="url(#gBall)"/><circle cx="587.12" cy="801.86" r="4.9" fill="url(#gBall)"/><circle cx="591.42" cy="798.01" r="4.9" fill="url(#gBall)"/><circle cx="595.72" cy="802.95" r="4.9" fill="url(#gBall)"/><circle cx="600.02" cy="796.5" r="4.9" fill="url(#gBall)"/><circle cx="604.32" cy="799.03" r="4.9" fill="url(#gBall)"/><circle cx="608.62" cy="799.1" r="4.9" fill="url(#gBall)"/><circle cx="612.92" cy="798.44" r="4.9" fill="url(#gBall)"/><circle cx="617.22" cy="799.42" r="4.9" fill="url(#gBall)"/><circle cx="621.52" cy="801.1" r="4.9" fill="url(#gBall)"/>
<path d="M90.9,792.7 624,800.7" fill="none" stroke="#1a1a1a" stroke-width="1.4" stroke-linejoin="round" />
<path d="M151,793.4 153,793.4 155,793.4 157,793.4 159,793.5 161,793.5 163,793.5 165,793.5 167.1,793.6 169.1,793.6 171.1,793.6 173.1,793.6 175.1,793.7 177.1,793.7 179.1,793.7 181.1,793.7 183.1,793.8 185.1,793.8 187.1,793.8 189.1,793.9 191.1,793.9 193.1,793.9 195.1,793.9 197.1,794 199.1,794 201.1,794 203.1,794 205.1,794 207.1,794.1 209.1,794.1 211.1,794.1 213.1,794.1 215.1,794.2 217.1,794.2 219.2,794.2 221.2,794.2 223.2,794.3 225.2,794.3 227.2,794.3 229.2,794.3 231.2,794.4 233.2,794.4 235.2,794.4 237.2,794.4 239.2,794.4 241.2,794.5 243.2,794.5 245.2,794.5 247.2,794.5 249.2,794.5 251.2,794.6 253.2,794.6 255.2,794.6 257.2,794.6 259.2,794.6 261.2,794.6 263.2,794.6 265.2,794.7 267.2,794.7 269.3,794.7 271.3,794.7 273.3,794.7 275.3,794.7 277.3,794.7 279.3,794.7 281.3,794.7 283.3,794.7 285.3,794.7 287.3,794.7 289.3,794.7 291.3,794.7 293.3,794.7 295.3,794.7 297.3,794.7 299.3,794.6 301.3,794.6 303.3,794.6 305.3,794.6 307.3,794.5 309.3,794.5 311.3,794.4 313.3,794.4 315.3,794.3 317.3,794.3 319.4,794.2 321.4,794.2 323.4,794.1 325.4,794 327.4,793.9 329.4,793.8 331.4,793.7 333.4,793.6 335.4,793.5 337.4,793.4 339.4,793.2 341.4,793.1 343.4,792.9 345.4,792.8 347.4,792.6 349.4,792.4 351.4,792.2 353.4,792 355.4,791.8 357.4,791.6 359.4,791.4 361.4,791.2 363.4,790.9 365.4,790.7 367.4,790.4 369.4,790.1 371.5,789.9 373.5,789.6 375.5,789.3 377.5,789 379.5,788.6 381.5,788.3 383.5,788 385.5,787.7 387.5,787.3 389.5,787 391.5,786.6 393.5,786.3 395.5,785.9 397.5,785.6 399.5,785.2 401.5,784.9 403.5,784.5 405.5,784.2 407.5,783.8 409.5,783.5 411.5,783.1 413.5,782.8 415.5,782.5 417.5,782.2 419.5,781.9 421.6,781.6 423.6,781.3 425.6,781.1 427.6,780.8 429.6,780.6 431.6,780.4 433.6,780.2 435.6,780.1 437.6,779.9 439.6,779.8 441.6,779.7 443.6,779.7 445.6,779.7 447.6,779.7 449.6,779.7 451.6,779.7 453.6,779.8 455.6,779.9 457.6,780.1 459.6,780.2 461.6,780.4 463.6,780.6 465.6,780.9 467.6,781.1 469.6,781.4 471.7,781.7 473.7,782 475.7,782.3 477.7,782.7 479.7,783 481.7,783.4 483.7,783.8 485.7,784.2 487.7,784.6 489.7,785 491.7,785.4 493.7,785.8 495.7,786.2 497.7,786.6 499.7,787 501.7,787.4 503.7,787.9 505.7,788.3 507.7,788.7 509.7,789.1 511.7,789.5 513.7,789.9 515.7,790.3 517.7,790.7 519.7,791 521.7,791.4 523.8,791.8 525.8,792.1 527.8,792.4 529.8,792.8 531.8,793.1 533.8,793.4 535.8,793.7 537.8,794 539.8,794.3 541.8,794.6 543.8,794.9 545.8,795.1 547.8,795.4 549.8,795.6 551.8,795.8 553.8,796 555.8,796.3 557.8,796.5 559.8,796.7 561.8,796.8 563.8,797 565.8,797.2 567.8,797.4 569.8,797.5 571.8,797.7 573.9,797.8 575.9,797.9 577.9,798.1 579.9,798.2 581.9,798.3 583.9,798.4 585.9,798.5 587.9,798.7 589.9,798.8 591.9,798.8 593.9,798.9 595.9,799 597.9,799.1 599.9,799.2 601.9,799.3 603.9,799.3 605.9,799.4 607.9,799.5 609.9,799.5 611.9,799.6 613.9,799.7 615.9,799.7 617.9,799.8 619.9,799.8 621.9,799.9 624,800" fill="none" stroke="#4a4a4a" stroke-width="1.1" stroke-linejoin="round" />
<path d="M90.9,792.5 92.9,792.5 94.9,792.5 96.9,792.6 98.9,792.6 100.9,792.6 102.9,792.6 104.9,792.7 106.9,792.7 108.9,792.7 110.9,792.8 112.9,792.8 114.9,792.8 117,792.8 119,792.9 121,792.9 123,792.9 125,792.9 127,793 129,793 131,793 133,793 135,793.1 137,793.1 139,793.1 141,793.1 143,793.2 145,793.2 147,793.2 149,793.3 151,793.3 153,793.3 155,793.3 157,793.4 159,793.4 161,793.4 163,793.4 165,793.5 167.1,793.5 169.1,793.5 171.1,793.5 173.1,793.6 175.1,793.6 177.1,793.6 179.1,793.6 181.1,793.7 183.1,793.7 185.1,793.7 187.1,793.7 189.1,793.7 191.1,793.8 193.1,793.8 195.1,793.8 197.1,793.8 199.1,793.9 201.1,793.9 203.1,793.9 205.1,793.9 207.1,793.9 209.1,794 211.1,794 213.1,794 215.1,794 217.1,794 219.2,794.1 221.2,794.1 223.2,794.1 225.2,794.1 227.2,794.1 229.2,794.2 231.2,794.2 233.2,794.2 235.2,794.2 237.2,794.2 239.2,794.2 241.2,794.2 243.2,794.3 245.2,794.3 247.2,794.3 249.2,794.3 251.2,794.3 253.2,794.3 255.2,794.3 257.2,794.3 259.2,794.3 261.2,794.3 263.2,794.3 265.2,794.3 267.2,794.3 269.3,794.2 271.3,794.2 273.3,794.2 275.3,794.2 277.3,794.1 279.3,794.1 281.3,794 283.3,794 285.3,793.9 287.3,793.8 289.3,793.7 291.3,793.7 293.3,793.6 295.3,793.5 297.3,793.3 299.3,793.2 301.3,793.1 303.3,792.9 305.3,792.7 307.3,792.6 309.3,792.4 311.3,792.2 313.3,792 315.3,791.7 317.3,791.5 319.4,791.2 321.4,791 323.4,790.7 325.4,790.4 327.4,790 329.4,789.7 331.4,789.4 333.4,789 335.4,788.6 337.4,788.3 339.4,787.9 341.4,787.5 343.4,787.1 345.4,786.6 347.4,786.2 349.4,785.8 351.4,785.3 353.4,784.9 355.4,784.5 357.4,784 359.4,783.6 361.4,783.1 363.4,782.7 365.4,782.3 367.4,781.9 369.4,781.5 371.5,781.1 373.5,780.7 375.5,780.3 377.5,780 379.5,779.6 381.5,779.3 383.5,779 385.5,778.7 387.5,778.5 389.5,778.2 391.5,778 393.5,777.8 395.5,777.6 397.5,777.4 399.5,777.2 401.5,777.1 403.5,777 405.5,776.8 407.5,776.7 409.5,776.6 411.5,776.5 413.5,776.5 415.5,776.4 417.5,776.3 419.5,776.3 421.6,776.3 423.6,776.3 425.6,776.3 427.6,776.3 429.6,776.3 431.6,776.3 433.6,776.4 435.6,776.5 437.6,776.6 439.6,776.7 441.6,776.8 443.6,776.9 445.6,777.1 447.6,777.3 449.6,777.5 451.6,777.7 453.6,777.9 455.6,778.2 457.6,778.4 459.6,778.7 461.6,779 463.6,779.3 465.6,779.7 467.6,780 469.6,780.4 471.7,780.7 473.7,781.1 475.7,781.5 477.7,781.9 479.7,782.3 481.7,782.8 483.7,783.2 485.7,783.6 487.7,784.1 489.7,784.5 491.7,784.9 493.7,785.4 495.7,785.8 497.7,786.3 499.7,786.7 501.7,787.1 503.7,787.6 505.7,788 507.7,788.4 509.7,788.8 511.7,789.2 513.7,789.6 515.7,790 517.7,790.4 519.7,790.8 521.7,791.2 523.8,791.6 525.8,791.9 527.8,792.3 529.8,792.6 531.8,792.9 533.8,793.3 535.8,793.6 537.8,793.9 539.8,794.2 541.8,794.4 543.8,794.7 545.8,795 547.8,795.2 549.8,795.5 551.8,795.7 553.8,795.9 555.8,796.1 557.8,796.3 559.8,796.5 561.8,796.7 563.8,796.9 565.8,797.1 567.8,797.3 569.8,797.4 571.8,797.6 573.9,797.7 575.9,797.8 577.9,798 579.9,798.1 581.9,798.2 583.9,798.3 585.9,798.5 587.9,798.6 589.9,798.7 591.9,798.8 593.9,798.9 595.9,798.9 597.9,799 599.9,799.1 601.9,799.2 603.9,799.3 605.9,799.3 607.9,799.4 609.9,799.5 611.9,799.5 613.9,799.6 615.9,799.7 617.9,799.7 619.9,799.8 621.9,799.8 624,799.9" fill="none" stroke="#3a3a3a" stroke-width="1.7" stroke-linejoin="round" />
<text x="102.2" y="780" font-size="26.2" text-anchor="start" fill="#000" >360 s</text>
<path d="M90.9,871 92.9,871.1 94.9,871.1 96.9,871.1 98.9,871.2 100.9,871.2 102.9,871.2 104.9,871.3 106.9,871.3 108.9,871.3 110.9,871.4 112.9,871.4 114.9,871.4 117,871.5 119,871.5 121,871.5 123,871.5 125,871.6 127,871.6 129,871.6 131,871.7 133,871.7 135,871.7 137,871.8 139,871.8 141,871.8 143,871.8 145,871.9 147,871.9 149,871.9 151,872 153,872 155,872 157,872 159,872.1 161,872.1 163,872.1 165,872.1 167.1,872.1 169.1,872.2 171.1,872.2 173.1,872.2 175.1,872.2 177.1,872.2 179.1,872.3 181.1,872.3 183.1,872.3 185.1,872.3 187.1,872.3 189.1,872.3 191.1,872.3 193.1,872.3 195.1,872.3 197.1,872.3 199.1,872.3 201.1,872.3 203.1,872.3 205.1,872.3 207.1,872.3 209.1,872.3 211.1,872.3 213.1,872.3 215.1,872.2 217.1,872.2 219.2,872.2 221.2,872.2 223.2,872.1 225.2,872.1 227.2,872.1 229.2,872 231.2,872 233.2,871.9 235.2,871.9 237.2,871.8 239.2,871.8 241.2,871.7 243.2,871.6 245.2,871.6 247.2,871.5 249.2,871.4 251.2,871.3 253.2,871.2 255.2,871.1 257.2,871 259.2,870.9 261.2,870.8 263.2,870.7 265.2,870.6 267.2,870.5 269.3,870.4 271.3,870.2 273.3,870.1 275.3,870 277.3,869.9 279.3,869.7 281.3,869.6 283.3,869.4 285.3,869.3 287.3,869.1 289.3,869 291.3,868.8 293.3,868.7 295.3,868.5 297.3,868.4 299.3,868.2 301.3,868.1 303.3,867.9 305.3,867.8 307.3,867.6 309.3,867.4 311.3,867.3 313.3,867.1 315.3,867 317.3,866.9 319.4,866.7 321.4,866.6 323.4,866.5 325.4,866.3 327.4,866.2 329.4,866.1 331.4,866 333.4,865.9 335.4,865.8 337.4,865.7 339.4,865.6 341.4,865.5 343.4,865.5 345.4,865.4 347.4,865.4 349.4,865.4 351.4,865.3 353.4,865.3 355.4,865.3 357.4,865.3 359.4,865.3 361.4,865.4 363.4,865.4 365.4,865.5 367.4,865.5 369.4,865.6 371.5,865.7 373.5,865.8 375.5,865.9 377.5,866 379.5,866.1 381.5,866.3 383.5,866.4 385.5,866.5 387.5,866.7 389.5,866.9 391.5,867 393.5,867.2 395.5,867.4 397.5,867.6 399.5,867.8 401.5,868 403.5,868.2 405.5,868.4 407.5,868.6 409.5,868.8 411.5,869.1 413.5,869.3 415.5,869.5 417.5,869.7 419.5,870 421.6,870.2 423.6,870.4 425.6,870.6 427.6,870.9 429.6,871.1 431.6,871.3 433.6,871.5 435.6,871.7 437.6,872 439.6,872.2 441.6,872.4 443.6,872.6 445.6,872.8 447.6,873 449.6,873.2 451.6,873.4 453.6,873.6 455.6,873.8 457.6,874 459.6,874.1 461.6,874.3 463.6,874.5 465.6,874.7 467.6,874.8 469.6,875 471.7,875.1 473.7,875.3 475.7,875.4 477.7,875.6 479.7,875.7 481.7,875.9 483.7,876 485.7,876.1 487.7,876.2 489.7,876.4 491.7,876.5 493.7,876.6 495.7,876.7 497.7,876.8 499.7,876.9 501.7,877 503.7,877.1 505.7,877.2 507.7,877.3 509.7,877.4 511.7,877.5 513.7,877.6 515.7,877.6 517.7,877.7 519.7,877.8 521.7,877.9 523.8,877.9 525.8,878 527.8,878.1 529.8,878.1 531.8,878.2 533.8,878.3 535.8,878.3 537.8,878.4 539.8,878.4 541.8,878.5 543.8,878.5 545.8,878.6 547.8,878.7 549.8,878.7 551.8,878.8 553.8,878.8 555.8,878.9 557.8,878.9 559.8,878.9 561.8,879 563.8,879 565.8,879.1 567.8,879.1 569.8,879.2 571.8,879.2 573.9,879.3 575.9,879.3 577.9,879.3 579.9,879.4 581.9,879.4 583.9,879.5 585.9,879.5 587.9,879.5 589.9,879.6 591.9,879.6 593.9,879.7 595.9,879.7 597.9,879.7 599.9,879.8 601.9,879.8 603.9,879.9 605.9,879.9 607.9,879.9 609.9,880 611.9,880 613.9,880 615.9,880.1 617.9,880.1 619.9,880.2 621.9,880.2 624,880.2 624,880.4 90.9,871.2Z" fill="url(#dSal)"/>
<circle cx="92.62" cy="870.75" r="4.9" fill="url(#gBall)"/><circle cx="96.92" cy="873.54" r="4.9" fill="url(#gBall)"/><circle cx="101.22" cy="869.7" r="4.9" fill="url(#gBall)"/><circle cx="105.52" cy="868.06" r="4.9" fill="url(#gBall)"/><circle cx="109.82" cy="871.64" r="4.9" fill="url(#gBall)"/><circle cx="114.12" cy="872.35" r="4.9" fill="url(#gBall)"/><circle cx="118.42" cy="872.01" r="4.9" fill="url(#gBall)"/><circle cx="122.72" cy="872.31" r="4.9" fill="url(#gBall)"/><circle cx="127.02" cy="871.31" r="4.9" fill="url(#gBall)"/><circle cx="131.32" cy="870.56" r="4.9" fill="url(#gBall)"/><circle cx="135.62" cy="870.36" r="4.9" fill="url(#gBall)"/><circle cx="139.92" cy="871.34" r="4.9" fill="url(#gBall)"/><circle cx="144.22" cy="871.13" r="4.9" fill="url(#gBall)"/><circle cx="148.52" cy="873.41" r="4.9" fill="url(#gBall)"/><circle cx="152.82" cy="872.95" r="4.9" fill="url(#gBall)"/><circle cx="157.12" cy="869.79" r="4.9" fill="url(#gBall)"/><circle cx="161.42" cy="873.18" r="4.9" fill="url(#gBall)"/><circle cx="165.72" cy="871.98" r="4.9" fill="url(#gBall)"/><circle cx="170.02" cy="873.98" r="4.9" fill="url(#gBall)"/><circle cx="174.32" cy="874.67" r="4.9" fill="url(#gBall)"/><circle cx="178.62" cy="873.08" r="4.9" fill="url(#gBall)"/><circle cx="182.92" cy="869.11" r="4.9" fill="url(#gBall)"/><circle cx="187.22" cy="873.28" r="4.9" fill="url(#gBall)"/><circle cx="191.52" cy="869.5" r="4.9" fill="url(#gBall)"/><circle cx="195.82" cy="874.86" r="4.9" fill="url(#gBall)"/><circle cx="200.12" cy="871.04" r="4.9" fill="url(#gBall)"/><circle cx="204.42" cy="871.82" r="4.9" fill="url(#gBall)"/><circle cx="208.72" cy="875.24" r="4.9" fill="url(#gBall)"/><circle cx="213.02" cy="869.04" r="4.9" fill="url(#gBall)"/><circle cx="217.32" cy="872.06" r="4.9" fill="url(#gBall)"/><circle cx="221.62" cy="870.09" r="4.9" fill="url(#gBall)"/><circle cx="225.92" cy="870.96" r="4.9" fill="url(#gBall)"/><circle cx="230.22" cy="870.37" r="4.9" fill="url(#gBall)"/><circle cx="234.52" cy="872.79" r="4.9" fill="url(#gBall)"/><circle cx="238.82" cy="870.96" r="4.9" fill="url(#gBall)"/><circle cx="243.12" cy="871.92" r="4.9" fill="url(#gBall)"/><circle cx="247.42" cy="872.24" r="4.9" fill="url(#gBall)"/><circle cx="251.72" cy="868" r="4.9" fill="url(#gBall)"/><circle cx="256.02" cy="873.13" r="4.9" fill="url(#gBall)"/><circle cx="260.32" cy="870.05" r="4.9" fill="url(#gBall)"/><circle cx="264.62" cy="867.36" r="4.9" fill="url(#gBall)"/><circle cx="268.92" cy="868.79" r="4.9" fill="url(#gBall)"/><circle cx="273.22" cy="871.12" r="4.9" fill="url(#gBall)"/><circle cx="277.52" cy="871.02" r="4.9" fill="url(#gBall)"/><circle cx="281.82" cy="867.76" r="4.9" fill="url(#gBall)"/><circle cx="286.12" cy="868.76" r="4.9" fill="url(#gBall)"/><circle cx="290.42" cy="868.61" r="4.9" fill="url(#gBall)"/><circle cx="294.72" cy="869.58" r="4.9" fill="url(#gBall)"/><circle cx="299.02" cy="867.14" r="4.9" fill="url(#gBall)"/><circle cx="303.32" cy="868.64" r="4.9" fill="url(#gBall)"/><circle cx="307.62" cy="864.96" r="4.9" fill="url(#gBall)"/><circle cx="311.92" cy="864.8" r="4.9" fill="url(#gBall)"/><circle cx="316.22" cy="866.73" r="4.9" fill="url(#gBall)"/><circle cx="320.52" cy="866.36" r="4.9" fill="url(#gBall)"/><circle cx="324.82" cy="864.55" r="4.9" fill="url(#gBall)"/><circle cx="329.12" cy="865.19" r="4.9" fill="url(#gBall)"/><circle cx="333.42" cy="864.02" r="4.9" fill="url(#gBall)"/><circle cx="337.72" cy="864.5" r="4.9" fill="url(#gBall)"/><circle cx="342.02" cy="864.7" r="4.9" fill="url(#gBall)"/><circle cx="346.32" cy="863.09" r="4.9" fill="url(#gBall)"/><circle cx="350.62" cy="863.13" r="4.9" fill="url(#gBall)"/><circle cx="354.92" cy="860.54" r="4.9" fill="url(#gBall)"/><circle cx="359.22" cy="859.77" r="4.9" fill="url(#gBall)"/><circle cx="363.52" cy="856.18" r="4.9" fill="url(#gBall)"/><circle cx="367.82" cy="860.48" r="4.9" fill="url(#gBall)"/><circle cx="372.12" cy="859.34" r="4.9" fill="url(#gBall)"/><circle cx="376.42" cy="859.73" r="4.9" fill="url(#gBall)"/><circle cx="380.72" cy="855.08" r="4.9" fill="url(#gBall)"/><circle cx="385.02" cy="856.99" r="4.9" fill="url(#gBall)"/><circle cx="389.32" cy="856.38" r="4.9" fill="url(#gBall)"/><circle cx="393.62" cy="853.74" r="4.9" fill="url(#gBall)"/><circle cx="397.92" cy="857.95" r="4.9" fill="url(#gBall)"/><circle cx="402.22" cy="858.03" r="4.9" fill="url(#gBall)"/><circle cx="406.52" cy="853.24" r="4.9" fill="url(#gBall)"/><circle cx="410.82" cy="855.78" r="4.9" fill="url(#gBall)"/><circle cx="415.12" cy="857.59" r="4.9" fill="url(#gBall)"/><circle cx="419.42" cy="852.13" r="4.9" fill="url(#gBall)"/><circle cx="423.72" cy="855.63" r="4.9" fill="url(#gBall)"/><circle cx="428.02" cy="856.42" r="4.9" fill="url(#gBall)"/><circle cx="432.32" cy="856.73" r="4.9" fill="url(#gBall)"/><circle cx="436.62" cy="851.04" r="4.9" fill="url(#gBall)"/><circle cx="440.92" cy="851.58" r="4.9" fill="url(#gBall)"/><circle cx="445.22" cy="853.93" r="4.9" fill="url(#gBall)"/><circle cx="449.52" cy="855.91" r="4.9" fill="url(#gBall)"/><circle cx="453.82" cy="852.02" r="4.9" fill="url(#gBall)"/><circle cx="458.12" cy="853.41" r="4.9" fill="url(#gBall)"/><circle cx="462.42" cy="853.41" r="4.9" fill="url(#gBall)"/><circle cx="466.72" cy="858.02" r="4.9" fill="url(#gBall)"/><circle cx="471.02" cy="855.98" r="4.9" fill="url(#gBall)"/><circle cx="475.32" cy="858.88" r="4.9" fill="url(#gBall)"/><circle cx="479.62" cy="860.01" r="4.9" fill="url(#gBall)"/><circle cx="483.92" cy="861.97" r="4.9" fill="url(#gBall)"/><circle cx="488.22" cy="861.77" r="4.9" fill="url(#gBall)"/><circle cx="492.52" cy="862.76" r="4.9" fill="url(#gBall)"/><circle cx="496.82" cy="865.32" r="4.9" fill="url(#gBall)"/><circle cx="501.12" cy="865.26" r="4.9" fill="url(#gBall)"/><circle cx="505.42" cy="863.35" r="4.9" fill="url(#gBall)"/><circle cx="509.72" cy="865.7" r="4.9" fill="url(#gBall)"/><circle cx="514.02" cy="869.26" r="4.9" fill="url(#gBall)"/><circle cx="518.32" cy="868.94" r="4.9" fill="url(#gBall)"/><circle cx="522.62" cy="869.06" r="4.9" fill="url(#gBall)"/><circle cx="526.92" cy="871.02" r="4.9" fill="url(#gBall)"/><circle cx="531.22" cy="877.23" r="4.9" fill="url(#gBall)"/><circle cx="535.52" cy="872.18" r="4.9" fill="url(#gBall)"/><circle cx="539.82" cy="873.86" r="4.9" fill="url(#gBall)"/><circle cx="544.12" cy="874.52" r="4.9" fill="url(#gBall)"/><circle cx="548.42" cy="873.89" r="4.9" fill="url(#gBall)"/><circle cx="552.72" cy="877.03" r="4.9" fill="url(#gBall)"/><circle cx="557.02" cy="876.99" r="4.9" fill="url(#gBall)"/><circle cx="561.32" cy="876.68" r="4.9" fill="url(#gBall)"/><circle cx="565.62" cy="874.08" r="4.9" fill="url(#gBall)"/><circle cx="569.92" cy="879.04" r="4.9" fill="url(#gBall)"/><circle cx="574.22" cy="878.54" r="4.9" fill="url(#gBall)"/><circle cx="578.52" cy="877.39" r="4.9" fill="url(#gBall)"/><circle cx="582.82" cy="873.14" r="4.9" fill="url(#gBall)"/><circle cx="587.12" cy="878" r="4.9" fill="url(#gBall)"/><circle cx="591.42" cy="876.23" r="4.9" fill="url(#gBall)"/><circle cx="595.72" cy="878.17" r="4.9" fill="url(#gBall)"/><circle cx="600.02" cy="877.89" r="4.9" fill="url(#gBall)"/><circle cx="604.32" cy="877.52" r="4.9" fill="url(#gBall)"/><circle cx="608.62" cy="880.9" r="4.9" fill="url(#gBall)"/><circle cx="612.92" cy="879.49" r="4.9" fill="url(#gBall)"/><circle cx="617.22" cy="881.6" r="4.9" fill="url(#gBall)"/><circle cx="621.52" cy="877.9" r="4.9" fill="url(#gBall)"/>
<path d="M90.9,871.2 624,880.4" fill="none" stroke="#1a1a1a" stroke-width="1.4" stroke-linejoin="round" />
<path d="M153,872 155,872.1 157,872.1 159,872.1 161,872.1 163,872.2 165,872.2 167.1,872.2 169.1,872.3 171.1,872.3 173.1,872.3 175.1,872.4 177.1,872.4 179.1,872.4 181.1,872.5 183.1,872.5 185.1,872.5 187.1,872.5 189.1,872.6 191.1,872.6 193.1,872.6 195.1,872.7 197.1,872.7 199.1,872.7 201.1,872.8 203.1,872.8 205.1,872.8 207.1,872.8 209.1,872.9 211.1,872.9 213.1,872.9 215.1,873 217.1,873 219.2,873 221.2,873 223.2,873.1 225.2,873.1 227.2,873.1 229.2,873.2 231.2,873.2 233.2,873.2 235.2,873.2 237.2,873.3 239.2,873.3 241.2,873.3 243.2,873.3 245.2,873.4 247.2,873.4 249.2,873.4 251.2,873.4 253.2,873.5 255.2,873.5 257.2,873.5 259.2,873.5 261.2,873.5 263.2,873.6 265.2,873.6 267.2,873.6 269.3,873.6 271.3,873.6 273.3,873.7 275.3,873.7 277.3,873.7 279.3,873.7 281.3,873.7 283.3,873.7 285.3,873.7 287.3,873.7 289.3,873.7 291.3,873.7 293.3,873.7 295.3,873.7 297.3,873.7 299.3,873.7 301.3,873.7 303.3,873.7 305.3,873.7 307.3,873.7 309.3,873.6 311.3,873.6 313.3,873.6 315.3,873.6 317.3,873.5 319.4,873.5 321.4,873.4 323.4,873.4 325.4,873.3 327.4,873.2 329.4,873.2 331.4,873.1 333.4,873 335.4,872.9 337.4,872.8 339.4,872.7 341.4,872.5 343.4,872.4 345.4,872.3 347.4,872.1 349.4,872 351.4,871.8 353.4,871.6 355.4,871.4 357.4,871.2 359.4,871 361.4,870.8 363.4,870.6 365.4,870.3 367.4,870.1 369.4,869.8 371.5,869.5 373.5,869.2 375.5,868.9 377.5,868.6 379.5,868.3 381.5,868 383.5,867.7 385.5,867.3 387.5,867 389.5,866.6 391.5,866.2 393.5,865.9 395.5,865.5 397.5,865.1 399.5,864.7 401.5,864.3 403.5,864 405.5,863.6 407.5,863.2 409.5,862.8 411.5,862.4 413.5,862 415.5,861.7 417.5,861.3 419.5,860.9 421.6,860.6 423.6,860.3 425.6,860 427.6,859.6 429.6,859.4 431.6,859.1 433.6,858.9 435.6,858.6 437.6,858.4 439.6,858.3 441.6,858.1 443.6,858 445.6,857.9 447.6,857.9 449.6,857.8 451.6,857.8 453.6,857.9 455.6,857.9 457.6,858 459.6,858.2 461.6,858.3 463.6,858.5 465.6,858.7 467.6,859 469.6,859.2 471.7,859.5 473.7,859.8 475.7,860.2 477.7,860.5 479.7,860.9 481.7,861.3 483.7,861.7 485.7,862.1 487.7,862.5 489.7,862.9 491.7,863.4 493.7,863.8 495.7,864.3 497.7,864.7 499.7,865.2 501.7,865.7 503.7,866.1 505.7,866.6 507.7,867 509.7,867.5 511.7,867.9 513.7,868.4 515.7,868.8 517.7,869.2 519.7,869.6 521.7,870.1 523.8,870.5 525.8,870.8 527.8,871.2 529.8,871.6 531.8,872 533.8,872.3 535.8,872.7 537.8,873 539.8,873.3 541.8,873.6 543.8,873.9 545.8,874.2 547.8,874.5 549.8,874.8 551.8,875 553.8,875.3 555.8,875.5 557.8,875.7 559.8,876 561.8,876.2 563.8,876.4 565.8,876.6 567.8,876.8 569.8,876.9 571.8,877.1 573.9,877.3 575.9,877.4 577.9,877.5 579.9,877.7 581.9,877.8 583.9,877.9 585.9,878.1 587.9,878.2 589.9,878.3 591.9,878.4 593.9,878.5 595.9,878.6 597.9,878.7 599.9,878.8 601.9,878.9 603.9,878.9 605.9,879 607.9,879.1 609.9,879.2 611.9,879.2 613.9,879.3 615.9,879.4 617.9,879.4 619.9,879.5 621.9,879.6 624,879.6" fill="none" stroke="#4a4a4a" stroke-width="1.1" stroke-linejoin="round" />
<path d="M90.9,870.9 92.9,870.9 94.9,870.9 96.9,871 98.9,871 100.9,871 102.9,871.1 104.9,871.1 106.9,871.1 108.9,871.1 110.9,871.2 112.9,871.2 114.9,871.2 117,871.3 119,871.3 121,871.3 123,871.3 125,871.4 127,871.4 129,871.4 131,871.5 133,871.5 135,871.5 137,871.5 139,871.6 141,871.6 143,871.6 145,871.6 147,871.7 149,871.7 151,871.7 153,871.7 155,871.8 157,871.8 159,871.8 161,871.8 163,871.8 165,871.9 167.1,871.9 169.1,871.9 171.1,871.9 173.1,871.9 175.1,871.9 177.1,871.9 179.1,872 181.1,872 183.1,872 185.1,872 187.1,872 189.1,872 191.1,872 193.1,872 195.1,872 197.1,872 199.1,872 201.1,872 203.1,872 205.1,872 207.1,871.9 209.1,871.9 211.1,871.9 213.1,871.9 215.1,871.9 217.1,871.8 219.2,871.8 221.2,871.8 223.2,871.7 225.2,871.7 227.2,871.6 229.2,871.6 231.2,871.5 233.2,871.5 235.2,871.4 237.2,871.4 239.2,871.3 241.2,871.2 243.2,871.1 245.2,871 247.2,871 249.2,870.9 251.2,870.8 253.2,870.7 255.2,870.6 257.2,870.5 259.2,870.4 261.2,870.2 263.2,870.1 265.2,870 267.2,869.9 269.3,869.7 271.3,869.6 273.3,869.4 275.3,869.3 277.3,869.1 279.3,869 281.3,868.8 283.3,868.6 285.3,868.5 287.3,868.3 289.3,868.1 291.3,867.9 293.3,867.7 295.3,867.5 297.3,867.4 299.3,867.2 301.3,867 303.3,866.8 305.3,866.5 307.3,866.3 309.3,866.1 311.3,865.9 313.3,865.7 315.3,865.5 317.3,865.3 319.4,865 321.4,864.8 323.4,864.6 325.4,864.4 327.4,864.1 329.4,863.9 331.4,863.7 333.4,863.5 335.4,863.2 337.4,863 339.4,862.8 341.4,862.6 343.4,862.3 345.4,862.1 347.4,861.9 349.4,861.6 351.4,861.4 353.4,861.2 355.4,861 357.4,860.7 359.4,860.5 361.4,860.3 363.4,860.1 365.4,859.8 367.4,859.6 369.4,859.4 371.5,859.2 373.5,858.9 375.5,858.7 377.5,858.5 379.5,858.3 381.5,858 383.5,857.8 385.5,857.6 387.5,857.4 389.5,857.1 391.5,856.9 393.5,856.7 395.5,856.5 397.5,856.2 399.5,856 401.5,855.8 403.5,855.6 405.5,855.4 407.5,855.1 409.5,854.9 411.5,854.7 413.5,854.6 415.5,854.4 417.5,854.2 419.5,854 421.6,853.9 423.6,853.7 425.6,853.6 427.6,853.5 429.6,853.4 431.6,853.3 433.6,853.3 435.6,853.2 437.6,853.2 439.6,853.2 441.6,853.2 443.6,853.3 445.6,853.4 447.6,853.5 449.6,853.6 451.6,853.8 453.6,854 455.6,854.2 457.6,854.5 459.6,854.7 461.6,855 463.6,855.4 465.6,855.7 467.6,856.1 469.6,856.5 471.7,856.9 473.7,857.3 475.7,857.8 477.7,858.2 479.7,858.7 481.7,859.2 483.7,859.7 485.7,860.2 487.7,860.7 489.7,861.2 491.7,861.8 493.7,862.3 495.7,862.8 497.7,863.3 499.7,863.9 501.7,864.4 503.7,864.9 505.7,865.4 507.7,865.9 509.7,866.4 511.7,866.9 513.7,867.4 515.7,867.9 517.7,868.4 519.7,868.8 521.7,869.3 523.8,869.7 525.8,870.1 527.8,870.6 529.8,871 531.8,871.4 533.8,871.7 535.8,872.1 537.8,872.5 539.8,872.8 541.8,873.1 543.8,873.5 545.8,873.8 547.8,874.1 549.8,874.4 551.8,874.6 553.8,874.9 555.8,875.2 557.8,875.4 559.8,875.6 561.8,875.8 563.8,876.1 565.8,876.3 567.8,876.4 569.8,876.6 571.8,876.8 573.9,877 575.9,877.1 577.9,877.3 579.9,877.4 581.9,877.6 583.9,877.7 585.9,877.8 587.9,878 589.9,878.1 591.9,878.2 593.9,878.3 595.9,878.4 597.9,878.5 599.9,878.6 601.9,878.7 603.9,878.7 605.9,878.8 607.9,878.9 609.9,879 611.9,879.1 613.9,879.1 615.9,879.2 617.9,879.3 619.9,879.3 621.9,879.4 624,879.5" fill="none" stroke="#3a3a3a" stroke-width="1.7" stroke-linejoin="round" />
<text x="102.2" y="862" font-size="26.2" text-anchor="start" fill="#000" >240 s</text>
<path d="M90.9,950.7 92.9,950.8 94.9,950.8 96.9,950.8 98.9,950.9 100.9,950.9 102.9,950.9 104.9,951 106.9,951 108.9,951.1 110.9,951.1 112.9,951.1 114.9,951.2 117,951.2 119,951.2 121,951.3 123,951.3 125,951.3 127,951.4 129,951.4 131,951.4 133,951.5 135,951.5 137,951.5 139,951.6 141,951.6 143,951.6 145,951.6 147,951.7 149,951.7 151,951.7 153,951.8 155,951.8 157,951.8 159,951.8 161,951.9 163,951.9 165,951.9 167.1,951.9 169.1,952 171.1,952 173.1,952 175.1,952 177.1,952.1 179.1,952.1 181.1,952.1 183.1,952.1 185.1,952.1 187.1,952.1 189.1,952.1 191.1,952.1 193.1,952.2 195.1,952.2 197.1,952.2 199.1,952.2 201.1,952.2 203.1,952.2 205.1,952.2 207.1,952.2 209.1,952.1 211.1,952.1 213.1,952.1 215.1,952.1 217.1,952.1 219.2,952.1 221.2,952 223.2,952 225.2,952 227.2,951.9 229.2,951.9 231.2,951.8 233.2,951.8 235.2,951.7 237.2,951.7 239.2,951.6 241.2,951.6 243.2,951.5 245.2,951.4 247.2,951.3 249.2,951.3 251.2,951.2 253.2,951.1 255.2,951 257.2,950.9 259.2,950.8 261.2,950.7 263.2,950.6 265.2,950.5 267.2,950.3 269.3,950.2 271.3,950.1 273.3,950 275.3,949.8 277.3,949.7 279.3,949.6 281.3,949.4 283.3,949.3 285.3,949.1 287.3,949 289.3,948.8 291.3,948.7 293.3,948.5 295.3,948.4 297.3,948.2 299.3,948 301.3,947.9 303.3,947.7 305.3,947.6 307.3,947.4 309.3,947.3 311.3,947.1 313.3,947 315.3,946.8 317.3,946.7 319.4,946.5 321.4,946.4 323.4,946.3 325.4,946.1 327.4,946 329.4,945.9 331.4,945.8 333.4,945.7 335.4,945.6 337.4,945.5 339.4,945.4 341.4,945.3 343.4,945.3 345.4,945.2 347.4,945.2 349.4,945.1 351.4,945.1 353.4,945.1 355.4,945.1 357.4,945.1 359.4,945.1 361.4,945.2 363.4,945.2 365.4,945.3 367.4,945.3 369.4,945.4 371.5,945.5 373.5,945.6 375.5,945.7 377.5,945.8 379.5,946 381.5,946.1 383.5,946.3 385.5,946.4 387.5,946.6 389.5,946.7 391.5,946.9 393.5,947.1 395.5,947.3 397.5,947.5 399.5,947.7 401.5,947.9 403.5,948.1 405.5,948.4 407.5,948.6 409.5,948.8 411.5,949 413.5,949.3 415.5,949.5 417.5,949.7 419.5,949.9 421.6,950.2 423.6,950.4 425.6,950.6 427.6,950.9 429.6,951.1 431.6,951.3 433.6,951.6 435.6,951.8 437.6,952 439.6,952.2 441.6,952.5 443.6,952.7 445.6,952.9 447.6,953.1 449.6,953.3 451.6,953.5 453.6,953.7 455.6,953.9 457.6,954.1 459.6,954.3 461.6,954.5 463.6,954.7 465.6,954.8 467.6,955 469.6,955.2 471.7,955.3 473.7,955.5 475.7,955.6 477.7,955.8 479.7,955.9 481.7,956.1 483.7,956.2 485.7,956.4 487.7,956.5 489.7,956.6 491.7,956.7 493.7,956.9 495.7,957 497.7,957.1 499.7,957.2 501.7,957.3 503.7,957.4 505.7,957.5 507.7,957.6 509.7,957.7 511.7,957.8 513.7,957.9 515.7,957.9 517.7,958 519.7,958.1 521.7,958.2 523.8,958.3 525.8,958.3 527.8,958.4 529.8,958.5 531.8,958.5 533.8,958.6 535.8,958.7 537.8,958.7 539.8,958.8 541.8,958.9 543.8,958.9 545.8,959 547.8,959 549.8,959.1 551.8,959.1 553.8,959.2 555.8,959.2 557.8,959.3 559.8,959.3 561.8,959.4 563.8,959.4 565.8,959.5 567.8,959.5 569.8,959.6 571.8,959.6 573.9,959.7 575.9,959.7 577.9,959.8 579.9,959.8 581.9,959.9 583.9,959.9 585.9,959.9 587.9,960 589.9,960 591.9,960.1 593.9,960.1 595.9,960.2 597.9,960.2 599.9,960.2 601.9,960.3 603.9,960.3 605.9,960.4 607.9,960.4 609.9,960.4 611.9,960.5 613.9,960.5 615.9,960.6 617.9,960.6 619.9,960.6 621.9,960.7 624,960.7 624,960.9 90.9,950.9Z" fill="url(#dSal)"/>
<circle cx="92.62" cy="952.67" r="4.9" fill="url(#gBall)"/><circle cx="96.92" cy="952.31" r="4.9" fill="url(#gBall)"/><circle cx="101.22" cy="948.41" r="4.9" fill="url(#gBall)"/><circle cx="105.52" cy="947.51" r="4.9" fill="url(#gBall)"/><circle cx="109.82" cy="950.7" r="4.9" fill="url(#gBall)"/><circle cx="114.12" cy="952.24" r="4.9" fill="url(#gBall)"/><circle cx="118.42" cy="950.76" r="4.9" fill="url(#gBall)"/><circle cx="122.72" cy="948.6" r="4.9" fill="url(#gBall)"/><circle cx="127.02" cy="950.3" r="4.9" fill="url(#gBall)"/><circle cx="131.32" cy="953.65" r="4.9" fill="url(#gBall)"/><circle cx="135.62" cy="948.93" r="4.9" fill="url(#gBall)"/><circle cx="139.92" cy="953.12" r="4.9" fill="url(#gBall)"/><circle cx="144.22" cy="952.29" r="4.9" fill="url(#gBall)"/><circle cx="148.52" cy="952.27" r="4.9" fill="url(#gBall)"/><circle cx="152.82" cy="952.81" r="4.9" fill="url(#gBall)"/><circle cx="157.12" cy="950.63" r="4.9" fill="url(#gBall)"/><circle cx="161.42" cy="951.41" r="4.9" fill="url(#gBall)"/><circle cx="165.72" cy="954.72" r="4.9" fill="url(#gBall)"/><circle cx="170.02" cy="951.05" r="4.9" fill="url(#gBall)"/><circle cx="174.32" cy="951.03" r="4.9" fill="url(#gBall)"/><circle cx="178.62" cy="949.39" r="4.9" fill="url(#gBall)"/><circle cx="182.92" cy="951" r="4.9" fill="url(#gBall)"/><circle cx="187.22" cy="953.07" r="4.9" fill="url(#gBall)"/><circle cx="191.52" cy="953.95" r="4.9" fill="url(#gBall)"/><circle cx="195.82" cy="952.93" r="4.9" fill="url(#gBall)"/><circle cx="200.12" cy="952.9" r="4.9" fill="url(#gBall)"/><circle cx="204.42" cy="952.8" r="4.9" fill="url(#gBall)"/><circle cx="208.72" cy="952.35" r="4.9" fill="url(#gBall)"/><circle cx="213.02" cy="953.45" r="4.9" fill="url(#gBall)"/><circle cx="217.32" cy="951.44" r="4.9" fill="url(#gBall)"/><circle cx="221.62" cy="953.43" r="4.9" fill="url(#gBall)"/><circle cx="225.92" cy="951.41" r="4.9" fill="url(#gBall)"/><circle cx="230.22" cy="948.73" r="4.9" fill="url(#gBall)"/><circle cx="234.52" cy="949.14" r="4.9" fill="url(#gBall)"/><circle cx="238.82" cy="950.84" r="4.9" fill="url(#gBall)"/><circle cx="243.12" cy="950.23" r="4.9" fill="url(#gBall)"/><circle cx="247.42" cy="948.77" r="4.9" fill="url(#gBall)"/><circle cx="251.72" cy="949.34" r="4.9" fill="url(#gBall)"/><circle cx="256.02" cy="950.71" r="4.9" fill="url(#gBall)"/><circle cx="260.32" cy="950.83" r="4.9" fill="url(#gBall)"/><circle cx="264.62" cy="951.32" r="4.9" fill="url(#gBall)"/><circle cx="268.92" cy="948.14" r="4.9" fill="url(#gBall)"/><circle cx="273.22" cy="949.92" r="4.9" fill="url(#gBall)"/><circle cx="277.52" cy="950.7" r="4.9" fill="url(#gBall)"/><circle cx="281.82" cy="949.2" r="4.9" fill="url(#gBall)"/><circle cx="286.12" cy="951.2" r="4.9" fill="url(#gBall)"/><circle cx="290.42" cy="947.04" r="4.9" fill="url(#gBall)"/><circle cx="294.72" cy="947.42" r="4.9" fill="url(#gBall)"/><circle cx="299.02" cy="947.31" r="4.9" fill="url(#gBall)"/><circle cx="303.32" cy="945.9" r="4.9" fill="url(#gBall)"/><circle cx="307.62" cy="946.04" r="4.9" fill="url(#gBall)"/><circle cx="311.92" cy="946.05" r="4.9" fill="url(#gBall)"/><circle cx="316.22" cy="945.13" r="4.9" fill="url(#gBall)"/><circle cx="320.52" cy="943.87" r="4.9" fill="url(#gBall)"/><circle cx="324.82" cy="943.48" r="4.9" fill="url(#gBall)"/><circle cx="329.12" cy="943.61" r="4.9" fill="url(#gBall)"/><circle cx="333.42" cy="940.68" r="4.9" fill="url(#gBall)"/><circle cx="337.72" cy="943.07" r="4.9" fill="url(#gBall)"/><circle cx="342.02" cy="940.43" r="4.9" fill="url(#gBall)"/><circle cx="346.32" cy="941.36" r="4.9" fill="url(#gBall)"/><circle cx="350.62" cy="939.47" r="4.9" fill="url(#gBall)"/><circle cx="354.92" cy="940.97" r="4.9" fill="url(#gBall)"/><circle cx="359.22" cy="939.69" r="4.9" fill="url(#gBall)"/><circle cx="363.52" cy="939.41" r="4.9" fill="url(#gBall)"/><circle cx="367.82" cy="938.13" r="4.9" fill="url(#gBall)"/><circle cx="372.12" cy="939.08" r="4.9" fill="url(#gBall)"/><circle cx="376.42" cy="941.07" r="4.9" fill="url(#gBall)"/><circle cx="380.72" cy="934.92" r="4.9" fill="url(#gBall)"/><circle cx="385.02" cy="938.32" r="4.9" fill="url(#gBall)"/><circle cx="389.32" cy="937.36" r="4.9" fill="url(#gBall)"/><circle cx="393.62" cy="935.87" r="4.9" fill="url(#gBall)"/><circle cx="397.92" cy="933.91" r="4.9" fill="url(#gBall)"/><circle cx="402.22" cy="938.21" r="4.9" fill="url(#gBall)"/><circle cx="406.52" cy="935.44" r="4.9" fill="url(#gBall)"/><circle cx="410.82" cy="936.37" r="4.9" fill="url(#gBall)"/><circle cx="415.12" cy="933.69" r="4.9" fill="url(#gBall)"/><circle cx="419.42" cy="932.68" r="4.9" fill="url(#gBall)"/><circle cx="423.72" cy="935.45" r="4.9" fill="url(#gBall)"/><circle cx="428.02" cy="934.64" r="4.9" fill="url(#gBall)"/><circle cx="432.32" cy="932.75" r="4.9" fill="url(#gBall)"/><circle cx="436.62" cy="932.83" r="4.9" fill="url(#gBall)"/><circle cx="440.92" cy="934.26" r="4.9" fill="url(#gBall)"/><circle cx="445.22" cy="932.04" r="4.9" fill="url(#gBall)"/><circle cx="449.52" cy="932.26" r="4.9" fill="url(#gBall)"/><circle cx="453.82" cy="933.98" r="4.9" fill="url(#gBall)"/><circle cx="458.12" cy="936.25" r="4.9" fill="url(#gBall)"/><circle cx="462.42" cy="936.66" r="4.9" fill="url(#gBall)"/><circle cx="466.72" cy="936.3" r="4.9" fill="url(#gBall)"/><circle cx="471.02" cy="939.09" r="4.9" fill="url(#gBall)"/><circle cx="475.32" cy="937.56" r="4.9" fill="url(#gBall)"/><circle cx="479.62" cy="938.01" r="4.9" fill="url(#gBall)"/><circle cx="483.92" cy="943.8" r="4.9" fill="url(#gBall)"/><circle cx="488.22" cy="940.2" r="4.9" fill="url(#gBall)"/><circle cx="492.52" cy="943.16" r="4.9" fill="url(#gBall)"/><circle cx="496.82" cy="944.23" r="4.9" fill="url(#gBall)"/><circle cx="501.12" cy="944.65" r="4.9" fill="url(#gBall)"/><circle cx="505.42" cy="945.96" r="4.9" fill="url(#gBall)"/><circle cx="509.72" cy="947.84" r="4.9" fill="url(#gBall)"/><circle cx="514.02" cy="948.67" r="4.9" fill="url(#gBall)"/><circle cx="518.32" cy="947.82" r="4.9" fill="url(#gBall)"/><circle cx="522.62" cy="949.77" r="4.9" fill="url(#gBall)"/><circle cx="526.92" cy="953" r="4.9" fill="url(#gBall)"/><circle cx="531.22" cy="952.79" r="4.9" fill="url(#gBall)"/><circle cx="535.52" cy="951.68" r="4.9" fill="url(#gBall)"/><circle cx="539.82" cy="953.27" r="4.9" fill="url(#gBall)"/><circle cx="544.12" cy="952.24" r="4.9" fill="url(#gBall)"/><circle cx="548.42" cy="952.4" r="4.9" fill="url(#gBall)"/><circle cx="552.72" cy="954.26" r="4.9" fill="url(#gBall)"/><circle cx="557.02" cy="958.34" r="4.9" fill="url(#gBall)"/><circle cx="561.32" cy="955.15" r="4.9" fill="url(#gBall)"/><circle cx="565.62" cy="953.37" r="4.9" fill="url(#gBall)"/><circle cx="569.92" cy="956.87" r="4.9" fill="url(#gBall)"/><circle cx="574.22" cy="956.29" r="4.9" fill="url(#gBall)"/><circle cx="578.52" cy="959" r="4.9" fill="url(#gBall)"/><circle cx="582.82" cy="960.13" r="4.9" fill="url(#gBall)"/><circle cx="587.12" cy="957.8" r="4.9" fill="url(#gBall)"/><circle cx="591.42" cy="958.81" r="4.9" fill="url(#gBall)"/><circle cx="595.72" cy="957.36" r="4.9" fill="url(#gBall)"/><circle cx="600.02" cy="961.05" r="4.9" fill="url(#gBall)"/><circle cx="604.32" cy="958.04" r="4.9" fill="url(#gBall)"/><circle cx="608.62" cy="959.47" r="4.9" fill="url(#gBall)"/><circle cx="612.92" cy="963.53" r="4.9" fill="url(#gBall)"/><circle cx="617.22" cy="958.21" r="4.9" fill="url(#gBall)"/><circle cx="621.52" cy="960.17" r="4.9" fill="url(#gBall)"/>
<path d="M90.9,950.9 624,960.9" fill="none" stroke="#1a1a1a" stroke-width="1.4" stroke-linejoin="round" />
<path d="M153,951.8 155,951.9 157,951.9 159,951.9 161,952 163,952 165,952 167.1,952.1 169.1,952.1 171.1,952.1 173.1,952.2 175.1,952.2 177.1,952.2 179.1,952.3 181.1,952.3 183.1,952.3 185.1,952.4 187.1,952.4 189.1,952.4 191.1,952.5 193.1,952.5 195.1,952.5 197.1,952.6 199.1,952.6 201.1,952.6 203.1,952.7 205.1,952.7 207.1,952.7 209.1,952.7 211.1,952.8 213.1,952.8 215.1,952.8 217.1,952.9 219.2,952.9 221.2,952.9 223.2,953 225.2,953 227.2,953 229.2,953.1 231.2,953.1 233.2,953.1 235.2,953.1 237.2,953.2 239.2,953.2 241.2,953.2 243.2,953.3 245.2,953.3 247.2,953.3 249.2,953.3 251.2,953.4 253.2,953.4 255.2,953.4 257.2,953.4 259.2,953.5 261.2,953.5 263.2,953.5 265.2,953.5 267.2,953.6 269.3,953.6 271.3,953.6 273.3,953.6 275.3,953.6 277.3,953.7 279.3,953.7 281.3,953.7 283.3,953.7 285.3,953.7 287.3,953.7 289.3,953.7 291.3,953.7 293.3,953.7 295.3,953.7 297.3,953.7 299.3,953.7 301.3,953.7 303.3,953.7 305.3,953.7 307.3,953.7 309.3,953.7 311.3,953.6 313.3,953.6 315.3,953.6 317.3,953.5 319.4,953.5 321.4,953.5 323.4,953.4 325.4,953.3 327.4,953.3 329.4,953.2 331.4,953.1 333.4,953 335.4,952.9 337.4,952.8 339.4,952.7 341.4,952.6 343.4,952.5 345.4,952.3 347.4,952.2 349.4,952 351.4,951.9 353.4,951.7 355.4,951.5 357.4,951.3 359.4,951.1 361.4,950.9 363.4,950.6 365.4,950.4 367.4,950.1 369.4,949.9 371.5,949.6 373.5,949.3 375.5,949 377.5,948.7 379.5,948.4 381.5,948.1 383.5,947.8 385.5,947.4 387.5,947.1 389.5,946.7 391.5,946.3 393.5,946 395.5,945.6 397.5,945.2 399.5,944.8 401.5,944.5 403.5,944.1 405.5,943.7 407.5,943.3 409.5,942.9 411.5,942.5 413.5,942.1 415.5,941.8 417.5,941.4 419.5,941.1 421.6,940.7 423.6,940.4 425.6,940.1 427.6,939.8 429.6,939.5 431.6,939.2 433.6,939 435.6,938.8 437.6,938.6 439.6,938.4 441.6,938.2 443.6,938.1 445.6,938 447.6,938 449.6,938 451.6,938 453.6,938 455.6,938.1 457.6,938.2 459.6,938.3 461.6,938.5 463.6,938.7 465.6,938.9 467.6,939.1 469.6,939.4 471.7,939.7 473.7,940 475.7,940.3 477.7,940.7 479.7,941.1 481.7,941.5 483.7,941.9 485.7,942.3 487.7,942.7 489.7,943.2 491.7,943.6 493.7,944.1 495.7,944.5 497.7,945 499.7,945.4 501.7,945.9 503.7,946.4 505.7,946.8 507.7,947.3 509.7,947.7 511.7,948.2 513.7,948.6 515.7,949.1 517.7,949.5 519.7,949.9 521.7,950.4 523.8,950.8 525.8,951.2 527.8,951.5 529.8,951.9 531.8,952.3 533.8,952.7 535.8,953 537.8,953.3 539.8,953.7 541.8,954 543.8,954.3 545.8,954.6 547.8,954.9 549.8,955.1 551.8,955.4 553.8,955.7 555.8,955.9 557.8,956.1 559.8,956.4 561.8,956.6 563.8,956.8 565.8,957 567.8,957.2 569.8,957.3 571.8,957.5 573.9,957.7 575.9,957.8 577.9,958 579.9,958.1 581.9,958.2 583.9,958.4 585.9,958.5 587.9,958.6 589.9,958.7 591.9,958.8 593.9,958.9 595.9,959 597.9,959.1 599.9,959.2 601.9,959.3 603.9,959.4 605.9,959.5 607.9,959.6 609.9,959.6 611.9,959.7 613.9,959.8 615.9,959.9 617.9,959.9 619.9,960 621.9,960.1 624,960.1" fill="none" stroke="#4a4a4a" stroke-width="1.1" stroke-linejoin="round" />
<path d="M90.9,950.6 92.9,950.6 94.9,950.6 96.9,950.7 98.9,950.7 100.9,950.7 102.9,950.8 104.9,950.8 106.9,950.8 108.9,950.9 110.9,950.9 112.9,950.9 114.9,951 117,951 119,951 121,951.1 123,951.1 125,951.1 127,951.1 129,951.2 131,951.2 133,951.2 135,951.3 137,951.3 139,951.3 141,951.4 143,951.4 145,951.4 147,951.4 149,951.5 151,951.5 153,951.5 155,951.5 157,951.6 159,951.6 161,951.6 163,951.6 165,951.7 167.1,951.7 169.1,951.7 171.1,951.7 173.1,951.7 175.1,951.7 177.1,951.8 179.1,951.8 181.1,951.8 183.1,951.8 185.1,951.8 187.1,951.8 189.1,951.8 191.1,951.8 193.1,951.8 195.1,951.8 197.1,951.8 199.1,951.8 201.1,951.8 203.1,951.8 205.1,951.8 207.1,951.8 209.1,951.8 211.1,951.8 213.1,951.7 215.1,951.7 217.1,951.7 219.2,951.7 221.2,951.6 223.2,951.6 225.2,951.5 227.2,951.5 229.2,951.4 231.2,951.4 233.2,951.3 235.2,951.3 237.2,951.2 239.2,951.1 241.2,951.1 243.2,951 245.2,950.9 247.2,950.8 249.2,950.7 251.2,950.6 253.2,950.5 255.2,950.4 257.2,950.3 259.2,950.2 261.2,950.1 263.2,950 265.2,949.8 267.2,949.7 269.3,949.6 271.3,949.4 273.3,949.3 275.3,949.1 277.3,949 279.3,948.8 281.3,948.6 283.3,948.5 285.3,948.3 287.3,948.1 289.3,947.9 291.3,947.8 293.3,947.6 295.3,947.4 297.3,947.2 299.3,947 301.3,946.8 303.3,946.6 305.3,946.4 307.3,946.1 309.3,945.9 311.3,945.7 313.3,945.5 315.3,945.3 317.3,945.1 319.4,944.8 321.4,944.6 323.4,944.4 325.4,944.2 327.4,943.9 329.4,943.7 331.4,943.5 333.4,943.2 335.4,943 337.4,942.8 339.4,942.6 341.4,942.3 343.4,942.1 345.4,941.9 347.4,941.6 349.4,941.4 351.4,941.2 353.4,941 355.4,940.7 357.4,940.5 359.4,940.3 361.4,940.1 363.4,939.8 365.4,939.6 367.4,939.4 369.4,939.2 371.5,939 373.5,938.7 375.5,938.5 377.5,938.3 379.5,938.1 381.5,937.8 383.5,937.6 385.5,937.4 387.5,937.2 389.5,937 391.5,936.7 393.5,936.5 395.5,936.3 397.5,936.1 399.5,935.9 401.5,935.6 403.5,935.4 405.5,935.2 407.5,935 409.5,934.8 411.5,934.6 413.5,934.4 415.5,934.3 417.5,934.1 419.5,933.9 421.6,933.8 423.6,933.7 425.6,933.5 427.6,933.4 429.6,933.3 431.6,933.3 433.6,933.2 435.6,933.2 437.6,933.2 439.6,933.2 441.6,933.2 443.6,933.3 445.6,933.4 447.6,933.5 449.6,933.6 451.6,933.8 453.6,934 455.6,934.2 457.6,934.5 459.6,934.8 461.6,935.1 463.6,935.4 465.6,935.8 467.6,936.2 469.6,936.6 471.7,937 473.7,937.4 475.7,937.9 477.7,938.3 479.7,938.8 481.7,939.3 483.7,939.8 485.7,940.4 487.7,940.9 489.7,941.4 491.7,941.9 493.7,942.5 495.7,943 497.7,943.5 499.7,944.1 501.7,944.6 503.7,945.1 505.7,945.6 507.7,946.2 509.7,946.7 511.7,947.2 513.7,947.7 515.7,948.2 517.7,948.6 519.7,949.1 521.7,949.6 523.8,950 525.8,950.4 527.8,950.9 529.8,951.3 531.8,951.7 533.8,952.1 535.8,952.4 537.8,952.8 539.8,953.1 541.8,953.5 543.8,953.8 545.8,954.1 547.8,954.4 549.8,954.7 551.8,955 553.8,955.3 555.8,955.5 557.8,955.8 559.8,956 561.8,956.2 563.8,956.4 565.8,956.6 567.8,956.8 569.8,957 571.8,957.2 573.9,957.4 575.9,957.5 577.9,957.7 579.9,957.8 581.9,958 583.9,958.1 585.9,958.3 587.9,958.4 589.9,958.5 591.9,958.6 593.9,958.7 595.9,958.8 597.9,958.9 599.9,959 601.9,959.1 603.9,959.2 605.9,959.3 607.9,959.4 609.9,959.5 611.9,959.5 613.9,959.6 615.9,959.7 617.9,959.8 619.9,959.8 621.9,959.9 624,960" fill="none" stroke="#3a3a3a" stroke-width="1.7" stroke-linejoin="round" />
<text x="102.2" y="942.4" font-size="26.2" text-anchor="start" fill="#000" >120 s</text>
<path d="M90.9,1032.6 92.9,1032.7 94.9,1032.7 96.9,1032.7 98.9,1032.7 100.9,1032.8 102.9,1032.8 104.9,1032.8 106.9,1032.8 108.9,1032.9 110.9,1032.9 112.9,1032.9 114.9,1032.9 117,1033 119,1033 121,1033 123,1033 125,1033 127,1033.1 129,1033.1 131,1033.1 133,1033.1 135,1033.2 137,1033.2 139,1033.2 141,1033.2 143,1033.3 145,1033.3 147,1033.3 149,1033.3 151,1033.3 153,1033.4 155,1033.4 157,1033.4 159,1033.4 161,1033.5 163,1033.5 165,1033.5 167.1,1033.5 169.1,1033.5 171.1,1033.5 173.1,1033.6 175.1,1033.6 177.1,1033.6 179.1,1033.6 181.1,1033.6 183.1,1033.6 185.1,1033.7 187.1,1033.7 189.1,1033.7 191.1,1033.7 193.1,1033.7 195.1,1033.7 197.1,1033.7 199.1,1033.7 201.1,1033.7 203.1,1033.7 205.1,1033.7 207.1,1033.7 209.1,1033.7 211.1,1033.7 213.1,1033.6 215.1,1033.6 217.1,1033.6 219.2,1033.6 221.2,1033.5 223.2,1033.5 225.2,1033.5 227.2,1033.4 229.2,1033.4 231.2,1033.3 233.2,1033.2 235.2,1033.2 237.2,1033.1 239.2,1033 241.2,1032.9 243.2,1032.8 245.2,1032.7 247.2,1032.6 249.2,1032.4 251.2,1032.3 253.2,1032.1 255.2,1032 257.2,1031.8 259.2,1031.6 261.2,1031.4 263.2,1031.2 265.2,1030.9 267.2,1030.7 269.3,1030.4 271.3,1030.2 273.3,1029.9 275.3,1029.6 277.3,1029.3 279.3,1028.9 281.3,1028.6 283.3,1028.2 285.3,1027.8 287.3,1027.4 289.3,1027 291.3,1026.6 293.3,1026.1 295.3,1025.6 297.3,1025.1 299.3,1024.6 301.3,1024.1 303.3,1023.6 305.3,1023.1 307.3,1022.5 309.3,1021.9 311.3,1021.3 313.3,1020.7 315.3,1020.1 317.3,1019.5 319.4,1018.9 321.4,1018.3 323.4,1017.6 325.4,1017 327.4,1016.3 329.4,1015.7 331.4,1015 333.4,1014.4 335.4,1013.7 337.4,1013.1 339.4,1012.5 341.4,1011.8 343.4,1011.2 345.4,1010.6 347.4,1010 349.4,1009.5 351.4,1008.9 353.4,1008.4 355.4,1007.8 357.4,1007.4 359.4,1006.9 361.4,1006.4 363.4,1006 365.4,1005.6 367.4,1005.3 369.4,1005 371.5,1004.7 373.5,1004.5 375.5,1004.2 377.5,1004.1 379.5,1003.9 381.5,1003.8 383.5,1003.8 385.5,1003.8 387.5,1003.8 389.5,1003.9 391.5,1004 393.5,1004.1 395.5,1004.3 397.5,1004.6 399.5,1004.8 401.5,1005.1 403.5,1005.5 405.5,1005.9 407.5,1006.3 409.5,1006.7 411.5,1007.2 413.5,1007.7 415.5,1008.2 417.5,1008.7 419.5,1009.3 421.6,1009.9 423.6,1010.5 425.6,1011.2 427.6,1011.8 429.6,1012.5 431.6,1013.1 433.6,1013.8 435.6,1014.5 437.6,1015.2 439.6,1015.9 441.6,1016.6 443.6,1017.3 445.6,1018 447.6,1018.7 449.6,1019.4 451.6,1020.1 453.6,1020.8 455.6,1021.5 457.6,1022.1 459.6,1022.8 461.6,1023.4 463.6,1024.1 465.6,1024.7 467.6,1025.3 469.6,1025.9 471.7,1026.5 473.7,1027.1 475.7,1027.6 477.7,1028.2 479.7,1028.7 481.7,1029.2 483.7,1029.7 485.7,1030.1 487.7,1030.6 489.7,1031 491.7,1031.5 493.7,1031.9 495.7,1032.2 497.7,1032.6 499.7,1033 501.7,1033.3 503.7,1033.6 505.7,1034 507.7,1034.3 509.7,1034.5 511.7,1034.8 513.7,1035.1 515.7,1035.3 517.7,1035.5 519.7,1035.8 521.7,1036 523.8,1036.2 525.8,1036.3 527.8,1036.5 529.8,1036.7 531.8,1036.8 533.8,1037 535.8,1037.1 537.8,1037.3 539.8,1037.4 541.8,1037.5 543.8,1037.6 545.8,1037.7 547.8,1037.8 549.8,1037.9 551.8,1038 553.8,1038.1 555.8,1038.2 557.8,1038.3 559.8,1038.3 561.8,1038.4 563.8,1038.5 565.8,1038.5 567.8,1038.6 569.8,1038.7 571.8,1038.7 573.9,1038.8 575.9,1038.8 577.9,1038.9 579.9,1038.9 581.9,1039 583.9,1039 585.9,1039.1 587.9,1039.1 589.9,1039.1 591.9,1039.2 593.9,1039.2 595.9,1039.3 597.9,1039.3 599.9,1039.3 601.9,1039.4 603.9,1039.4 605.9,1039.4 607.9,1039.5 609.9,1039.5 611.9,1039.5 613.9,1039.6 615.9,1039.6 617.9,1039.6 619.9,1039.7 621.9,1039.7 624,1039.7 624,1040 90.9,1032.8Z" fill="url(#dSal0)"/>
<circle cx="92.62" cy="1032.71" r="4.9" fill="url(#gBall)"/><circle cx="96.92" cy="1032.45" r="4.9" fill="url(#gBall)"/><circle cx="101.22" cy="1032.46" r="4.9" fill="url(#gBall)"/><circle cx="105.52" cy="1031.61" r="4.9" fill="url(#gBall)"/><circle cx="109.82" cy="1032.96" r="4.9" fill="url(#gBall)"/><circle cx="114.12" cy="1032.67" r="4.9" fill="url(#gBall)"/><circle cx="118.42" cy="1034.61" r="4.9" fill="url(#gBall)"/><circle cx="122.72" cy="1031.02" r="4.9" fill="url(#gBall)"/><circle cx="127.02" cy="1037.24" r="4.9" fill="url(#gBall)"/><circle cx="131.32" cy="1027.37" r="4.9" fill="url(#gBall)"/><circle cx="135.62" cy="1033.02" r="4.9" fill="url(#gBall)"/><circle cx="139.92" cy="1034.51" r="4.9" fill="url(#gBall)"/><circle cx="144.22" cy="1032.65" r="4.9" fill="url(#gBall)"/><circle cx="148.52" cy="1031.72" r="4.9" fill="url(#gBall)"/><circle cx="152.82" cy="1032.98" r="4.9" fill="url(#gBall)"/><circle cx="157.12" cy="1034.35" r="4.9" fill="url(#gBall)"/><circle cx="161.42" cy="1035.33" r="4.9" fill="url(#gBall)"/><circle cx="165.72" cy="1030.5" r="4.9" fill="url(#gBall)"/><circle cx="170.02" cy="1033.58" r="4.9" fill="url(#gBall)"/><circle cx="174.32" cy="1032.1" r="4.9" fill="url(#gBall)"/><circle cx="178.62" cy="1035.09" r="4.9" fill="url(#gBall)"/><circle cx="182.92" cy="1032.37" r="4.9" fill="url(#gBall)"/><circle cx="187.22" cy="1033.53" r="4.9" fill="url(#gBall)"/><circle cx="191.52" cy="1035.17" r="4.9" fill="url(#gBall)"/><circle cx="195.82" cy="1032.71" r="4.9" fill="url(#gBall)"/><circle cx="200.12" cy="1033.63" r="4.9" fill="url(#gBall)"/><circle cx="204.42" cy="1031.8" r="4.9" fill="url(#gBall)"/><circle cx="208.72" cy="1032.6" r="4.9" fill="url(#gBall)"/><circle cx="213.02" cy="1029.63" r="4.9" fill="url(#gBall)"/><circle cx="217.32" cy="1031.45" r="4.9" fill="url(#gBall)"/><circle cx="221.62" cy="1031.96" r="4.9" fill="url(#gBall)"/><circle cx="225.92" cy="1031.53" r="4.9" fill="url(#gBall)"/><circle cx="230.22" cy="1036.39" r="4.9" fill="url(#gBall)"/><circle cx="234.52" cy="1028.38" r="4.9" fill="url(#gBall)"/><circle cx="238.82" cy="1028.27" r="4.9" fill="url(#gBall)"/><circle cx="243.12" cy="1032.35" r="4.9" fill="url(#gBall)"/><circle cx="247.42" cy="1032.72" r="4.9" fill="url(#gBall)"/><circle cx="251.72" cy="1031.55" r="4.9" fill="url(#gBall)"/><circle cx="256.02" cy="1032.91" r="4.9" fill="url(#gBall)"/><circle cx="260.32" cy="1034.09" r="4.9" fill="url(#gBall)"/><circle cx="264.62" cy="1029.02" r="4.9" fill="url(#gBall)"/><circle cx="268.92" cy="1026.87" r="4.9" fill="url(#gBall)"/><circle cx="273.22" cy="1028.25" r="4.9" fill="url(#gBall)"/><circle cx="277.52" cy="1029.86" r="4.9" fill="url(#gBall)"/><circle cx="281.82" cy="1027.66" r="4.9" fill="url(#gBall)"/><circle cx="286.12" cy="1025.62" r="4.9" fill="url(#gBall)"/><circle cx="290.42" cy="1025.49" r="4.9" fill="url(#gBall)"/><circle cx="294.72" cy="1024.33" r="4.9" fill="url(#gBall)"/><circle cx="299.02" cy="1019.58" r="4.9" fill="url(#gBall)"/><circle cx="303.32" cy="1022.12" r="4.9" fill="url(#gBall)"/><circle cx="307.62" cy="1018.5" r="4.9" fill="url(#gBall)"/><circle cx="311.92" cy="1018.09" r="4.9" fill="url(#gBall)"/><circle cx="316.22" cy="1016.09" r="4.9" fill="url(#gBall)"/><circle cx="320.52" cy="1015.58" r="4.9" fill="url(#gBall)"/><circle cx="324.82" cy="1015.48" r="4.9" fill="url(#gBall)"/><circle cx="329.12" cy="1011.82" r="4.9" fill="url(#gBall)"/><circle cx="333.42" cy="1010.79" r="4.9" fill="url(#gBall)"/><circle cx="337.72" cy="1010.45" r="4.9" fill="url(#gBall)"/><circle cx="342.02" cy="1008" r="4.9" fill="url(#gBall)"/><circle cx="346.32" cy="1004.37" r="4.9" fill="url(#gBall)"/><circle cx="350.62" cy="1005.39" r="4.9" fill="url(#gBall)"/><circle cx="354.92" cy="1001.74" r="4.9" fill="url(#gBall)"/><circle cx="359.22" cy="1000.56" r="4.9" fill="url(#gBall)"/><circle cx="363.52" cy="1000.11" r="4.9" fill="url(#gBall)"/><circle cx="367.82" cy="1001.21" r="4.9" fill="url(#gBall)"/><circle cx="372.12" cy="995.96" r="4.9" fill="url(#gBall)"/><circle cx="376.42" cy="995.89" r="4.9" fill="url(#gBall)"/><circle cx="380.72" cy="996.12" r="4.9" fill="url(#gBall)"/><circle cx="385.02" cy="993.78" r="4.9" fill="url(#gBall)"/><circle cx="389.32" cy="995.12" r="4.9" fill="url(#gBall)"/><circle cx="393.62" cy="996.93" r="4.9" fill="url(#gBall)"/><circle cx="397.92" cy="991.52" r="4.9" fill="url(#gBall)"/><circle cx="402.22" cy="994.88" r="4.9" fill="url(#gBall)"/><circle cx="406.52" cy="993.87" r="4.9" fill="url(#gBall)"/><circle cx="410.82" cy="999.21" r="4.9" fill="url(#gBall)"/><circle cx="415.12" cy="997.25" r="4.9" fill="url(#gBall)"/><circle cx="419.42" cy="997.98" r="4.9" fill="url(#gBall)"/><circle cx="423.72" cy="997.52" r="4.9" fill="url(#gBall)"/><circle cx="428.02" cy="996.83" r="4.9" fill="url(#gBall)"/><circle cx="432.32" cy="999.77" r="4.9" fill="url(#gBall)"/><circle cx="436.62" cy="1001.33" r="4.9" fill="url(#gBall)"/><circle cx="440.92" cy="1001.86" r="4.9" fill="url(#gBall)"/><circle cx="445.22" cy="1006.1" r="4.9" fill="url(#gBall)"/><circle cx="449.52" cy="1005.46" r="4.9" fill="url(#gBall)"/><circle cx="453.82" cy="1003.68" r="4.9" fill="url(#gBall)"/><circle cx="458.12" cy="1005.76" r="4.9" fill="url(#gBall)"/><circle cx="462.42" cy="1008.12" r="4.9" fill="url(#gBall)"/><circle cx="466.72" cy="1006.62" r="4.9" fill="url(#gBall)"/><circle cx="471.02" cy="1009.53" r="4.9" fill="url(#gBall)"/><circle cx="475.32" cy="1009.88" r="4.9" fill="url(#gBall)"/><circle cx="479.62" cy="1012.37" r="4.9" fill="url(#gBall)"/><circle cx="483.92" cy="1013.34" r="4.9" fill="url(#gBall)"/><circle cx="488.22" cy="1013.02" r="4.9" fill="url(#gBall)"/><circle cx="492.52" cy="1017.37" r="4.9" fill="url(#gBall)"/><circle cx="496.82" cy="1015.05" r="4.9" fill="url(#gBall)"/><circle cx="501.12" cy="1018.2" r="4.9" fill="url(#gBall)"/><circle cx="505.42" cy="1016.08" r="4.9" fill="url(#gBall)"/><circle cx="509.72" cy="1017.1" r="4.9" fill="url(#gBall)"/><circle cx="514.02" cy="1018.54" r="4.9" fill="url(#gBall)"/><circle cx="518.32" cy="1019.75" r="4.9" fill="url(#gBall)"/><circle cx="522.62" cy="1022.71" r="4.9" fill="url(#gBall)"/><circle cx="526.92" cy="1019.42" r="4.9" fill="url(#gBall)"/><circle cx="531.22" cy="1025.75" r="4.9" fill="url(#gBall)"/><circle cx="535.52" cy="1021.45" r="4.9" fill="url(#gBall)"/><circle cx="539.82" cy="1026.92" r="4.9" fill="url(#gBall)"/><circle cx="544.12" cy="1025.35" r="4.9" fill="url(#gBall)"/><circle cx="548.42" cy="1024.83" r="4.9" fill="url(#gBall)"/><circle cx="552.72" cy="1027.86" r="4.9" fill="url(#gBall)"/><circle cx="557.02" cy="1026.21" r="4.9" fill="url(#gBall)"/><circle cx="561.32" cy="1027.69" r="4.9" fill="url(#gBall)"/><circle cx="565.62" cy="1028.45" r="4.9" fill="url(#gBall)"/><circle cx="569.92" cy="1034.03" r="4.9" fill="url(#gBall)"/><circle cx="574.22" cy="1027.83" r="4.9" fill="url(#gBall)"/><circle cx="578.52" cy="1033.53" r="4.9" fill="url(#gBall)"/><circle cx="582.82" cy="1030.23" r="4.9" fill="url(#gBall)"/><circle cx="587.12" cy="1030.02" r="4.9" fill="url(#gBall)"/><circle cx="591.42" cy="1030.94" r="4.9" fill="url(#gBall)"/><circle cx="595.72" cy="1034.54" r="4.9" fill="url(#gBall)"/><circle cx="600.02" cy="1032.48" r="4.9" fill="url(#gBall)"/><circle cx="604.32" cy="1031.94" r="4.9" fill="url(#gBall)"/><circle cx="608.62" cy="1034.87" r="4.9" fill="url(#gBall)"/><circle cx="612.92" cy="1034.72" r="4.9" fill="url(#gBall)"/><circle cx="617.22" cy="1036.53" r="4.9" fill="url(#gBall)"/><circle cx="621.52" cy="1033.07" r="4.9" fill="url(#gBall)"/>
<path d="M90.9,1032.8 624,1040" fill="none" stroke="#1a1a1a" stroke-width="1.4" stroke-linejoin="round" />
<path d="M135,1033.1 137,1033.2 139,1033.2 141,1033.2 143,1033.2 145,1033.3 147,1033.3 149,1033.3 151,1033.3 153,1033.4 155,1033.4 157,1033.4 159,1033.4 161,1033.5 163,1033.5 165,1033.5 167.1,1033.5 169.1,1033.5 171.1,1033.6 173.1,1033.6 175.1,1033.6 177.1,1033.6 179.1,1033.7 181.1,1033.7 183.1,1033.7 185.1,1033.7 187.1,1033.7 189.1,1033.8 191.1,1033.8 193.1,1033.8 195.1,1033.8 197.1,1033.8 199.1,1033.9 201.1,1033.9 203.1,1033.9 205.1,1033.9 207.1,1033.9 209.1,1034 211.1,1034 213.1,1034 215.1,1034 217.1,1034 219.2,1034 221.2,1034 223.2,1034.1 225.2,1034.1 227.2,1034.1 229.2,1034.1 231.2,1034.1 233.2,1034.1 235.2,1034.1 237.2,1034.1 239.2,1034.1 241.2,1034.1 243.2,1034.2 245.2,1034.2 247.2,1034.2 249.2,1034.2 251.2,1034.2 253.2,1034.2 255.2,1034.2 257.2,1034.2 259.2,1034.2 261.2,1034.1 263.2,1034.1 265.2,1034.1 267.2,1034.1 269.3,1034.1 271.3,1034.1 273.3,1034.1 275.3,1034.1 277.3,1034 279.3,1034 281.3,1034 283.3,1034 285.3,1033.9 287.3,1033.9 289.3,1033.9 291.3,1033.8 293.3,1033.8 295.3,1033.8 297.3,1033.7 299.3,1033.7 301.3,1033.6 303.3,1033.6 305.3,1033.5 307.3,1033.4 309.3,1033.4 311.3,1033.3 313.3,1033.2 315.3,1033.2 317.3,1033.1 319.4,1033 321.4,1032.9 323.4,1032.9 325.4,1032.8 327.4,1032.7 329.4,1032.6 331.4,1032.5 333.4,1032.4 335.4,1032.3 337.4,1032.1 339.4,1032 341.4,1031.9 343.4,1031.8 345.4,1031.7 347.4,1031.5 349.4,1031.4 351.4,1031.3 353.4,1031.1 355.4,1031 357.4,1030.8 359.4,1030.7 361.4,1030.5 363.4,1030.3 365.4,1030.2 367.4,1030 369.4,1029.8 371.5,1029.7 373.5,1029.5 375.5,1029.3 377.5,1029.1 379.5,1028.9 381.5,1028.8 383.5,1028.6 385.5,1028.4 387.5,1028.2 389.5,1028 391.5,1027.8 393.5,1027.6 395.5,1027.4 397.5,1027.2 399.5,1027 401.5,1026.8 403.5,1026.6 405.5,1026.4 407.5,1026.2 409.5,1026 411.5,1025.8 413.5,1025.6 415.5,1025.4 417.5,1025.2 419.5,1025 421.6,1024.8 423.6,1024.6 425.6,1024.4 427.6,1024.2 429.6,1024 431.6,1023.9 433.6,1023.7 435.6,1023.5 437.6,1023.4 439.6,1023.2 441.6,1023 443.6,1022.9 445.6,1022.8 447.6,1022.6 449.6,1022.5 451.6,1022.4 453.6,1022.3 455.6,1022.1 457.6,1022 459.6,1022 461.6,1021.9 463.6,1021.8 465.6,1021.7 467.6,1021.7 469.6,1021.6 471.7,1021.6 473.7,1021.6 475.7,1021.6 477.7,1021.6 479.7,1021.6 481.7,1021.6 483.7,1021.6 485.7,1021.6 487.7,1021.7 489.7,1021.7 491.7,1021.8 493.7,1021.9 495.7,1022 497.7,1022.1 499.7,1022.2 501.7,1022.3 503.7,1022.4 505.7,1022.5 507.7,1022.7 509.7,1022.8 511.7,1023 513.7,1023.1 515.7,1023.3 517.7,1023.5 519.7,1023.7 521.7,1023.9 523.8,1024.1 525.8,1024.3 527.8,1024.5 529.8,1024.7 531.8,1024.9 533.8,1025.2 535.8,1025.4 537.8,1025.6 539.8,1025.9 541.8,1026.1 543.8,1026.3 545.8,1026.6 547.8,1026.8 549.8,1027.1 551.8,1027.3 553.8,1027.6 555.8,1027.9 557.8,1028.1 559.8,1028.4 561.8,1028.6 563.8,1028.9 565.8,1029.1 567.8,1029.4 569.8,1029.7 571.8,1029.9 573.9,1030.2 575.9,1030.4 577.9,1030.7 579.9,1030.9 581.9,1031.2 583.9,1031.4 585.9,1031.6 587.9,1031.9 589.9,1032.1 591.9,1032.4 593.9,1032.6 595.9,1032.8 597.9,1033 599.9,1033.3 601.9,1033.5 603.9,1033.7 605.9,1033.9 607.9,1034.1 609.9,1034.3 611.9,1034.5 613.9,1034.7 615.9,1034.9 617.9,1035.1 619.9,1035.3 621.9,1035.5 624,1035.7" fill="none" stroke="#4a4a4a" stroke-width="1.1" stroke-linejoin="round" />
<path d="M90.9,1032.4 92.9,1032.5 94.9,1032.5 96.9,1032.5 98.9,1032.5 100.9,1032.5 102.9,1032.6 104.9,1032.6 106.9,1032.6 108.9,1032.6 110.9,1032.7 112.9,1032.7 114.9,1032.7 117,1032.7 119,1032.7 121,1032.8 123,1032.8 125,1032.8 127,1032.8 129,1032.9 131,1032.9 133,1032.9 135,1032.9 137,1032.9 139,1033 141,1033 143,1033 145,1033 147,1033 149,1033.1 151,1033.1 153,1033.1 155,1033.1 157,1033.1 159,1033.1 161,1033.2 163,1033.2 165,1033.2 167.1,1033.2 169.1,1033.2 171.1,1033.2 173.1,1033.2 175.1,1033.3 177.1,1033.3 179.1,1033.3 181.1,1033.3 183.1,1033.3 185.1,1033.3 187.1,1033.3 189.1,1033.3 191.1,1033.3 193.1,1033.3 195.1,1033.3 197.1,1033.3 199.1,1033.3 201.1,1033.3 203.1,1033.3 205.1,1033.3 207.1,1033.3 209.1,1033.2 211.1,1033.2 213.1,1033.2 215.1,1033.2 217.1,1033.1 219.2,1033.1 221.2,1033 223.2,1033 225.2,1032.9 227.2,1032.9 229.2,1032.8 231.2,1032.7 233.2,1032.6 235.2,1032.5 237.2,1032.4 239.2,1032.3 241.2,1032.2 243.2,1032.1 245.2,1032 247.2,1031.8 249.2,1031.7 251.2,1031.5 253.2,1031.3 255.2,1031.1 257.2,1030.9 259.2,1030.7 261.2,1030.4 263.2,1030.2 265.2,1029.9 267.2,1029.6 269.3,1029.3 271.3,1029 273.3,1028.7 275.3,1028.3 277.3,1028 279.3,1027.6 281.3,1027.2 283.3,1026.8 285.3,1026.3 287.3,1025.9 289.3,1025.4 291.3,1024.9 293.3,1024.4 295.3,1023.8 297.3,1023.3 299.3,1022.7 301.3,1022.1 303.3,1021.5 305.3,1020.9 307.3,1020.2 309.3,1019.6 311.3,1018.9 313.3,1018.2 315.3,1017.5 317.3,1016.8 319.4,1016 321.4,1015.3 323.4,1014.5 325.4,1013.8 327.4,1013 329.4,1012.2 331.4,1011.5 333.4,1010.7 335.4,1009.9 337.4,1009.1 339.4,1008.3 341.4,1007.6 343.4,1006.8 345.4,1006 347.4,1005.3 349.4,1004.6 351.4,1003.8 353.4,1003.1 355.4,1002.4 357.4,1001.8 359.4,1001.1 361.4,1000.5 363.4,999.9 365.4,999.3 367.4,998.8 369.4,998.3 371.5,997.8 373.5,997.3 375.5,996.9 377.5,996.5 379.5,996.2 381.5,995.9 383.5,995.6 385.5,995.4 387.5,995.2 389.5,995 391.5,994.9 393.5,994.8 395.5,994.8 397.5,994.8 399.5,994.9 401.5,994.9 403.5,995 405.5,995.2 407.5,995.4 409.5,995.6 411.5,995.8 413.5,996.1 415.5,996.4 417.5,996.7 419.5,997.1 421.6,997.4 423.6,997.8 425.6,998.2 427.6,998.7 429.6,999.1 431.6,999.6 433.6,1000.1 435.6,1000.6 437.6,1001.1 439.6,1001.6 441.6,1002.1 443.6,1002.6 445.6,1003.2 447.6,1003.7 449.6,1004.2 451.6,1004.8 453.6,1005.3 455.6,1005.9 457.6,1006.4 459.6,1007 461.6,1007.5 463.6,1008 465.6,1008.6 467.6,1009.1 469.6,1009.6 471.7,1010.2 473.7,1010.7 475.7,1011.2 477.7,1011.7 479.7,1012.2 481.7,1012.7 483.7,1013.2 485.7,1013.6 487.7,1014.1 489.7,1014.6 491.7,1015 493.7,1015.5 495.7,1015.9 497.7,1016.4 499.7,1016.8 501.7,1017.3 503.7,1017.7 505.7,1018.1 507.7,1018.5 509.7,1018.9 511.7,1019.3 513.7,1019.7 515.7,1020.1 517.7,1020.5 519.7,1020.8 521.7,1021.2 523.8,1021.6 525.8,1022 527.8,1022.3 529.8,1022.7 531.8,1023 533.8,1023.4 535.8,1023.7 537.8,1024.1 539.8,1024.4 541.8,1024.7 543.8,1025.1 545.8,1025.4 547.8,1025.7 549.8,1026 551.8,1026.3 553.8,1026.7 555.8,1027 557.8,1027.3 559.8,1027.6 561.8,1027.9 563.8,1028.2 565.8,1028.5 567.8,1028.8 569.8,1029 571.8,1029.3 573.9,1029.6 575.9,1029.9 577.9,1030.2 579.9,1030.4 581.9,1030.7 583.9,1031 585.9,1031.2 587.9,1031.5 589.9,1031.7 591.9,1032 593.9,1032.2 595.9,1032.5 597.9,1032.7 599.9,1032.9 601.9,1033.2 603.9,1033.4 605.9,1033.6 607.9,1033.8 609.9,1034 611.9,1034.2 613.9,1034.4 615.9,1034.6 617.9,1034.8 619.9,1035 621.9,1035.2 624,1035.4" fill="none" stroke="#3a3a3a" stroke-width="1.7" stroke-linejoin="round" />
<text x="102.2" y="1023.8" font-size="26.2" text-anchor="start" fill="#000" >0 s</text>
<path d="M107.7,704.2 136.6,704.9 167.1,705.3" fill="none" stroke="#7a1a1a" stroke-width="1.4" stroke-linejoin="round" />
<rect x="90.9" y="627.0" width="532.6" height="434" fill="none" stroke="#000" stroke-width="1.8"/>
<line x1="167.05" y1="1061" x2="167.05" y2="1068" stroke="#000" stroke-width="1.8" />
<text x="167.05" y="1099" font-size="30" text-anchor="middle" fill="#000" >58</text>
<line x1="319.35" y1="1061" x2="319.35" y2="1068" stroke="#000" stroke-width="1.8" />
<text x="319.35" y="1099" font-size="30" text-anchor="middle" fill="#000" >56</text>
<line x1="471.65" y1="1061" x2="471.65" y2="1068" stroke="#000" stroke-width="1.8" />
<text x="471.65" y="1099" font-size="30" text-anchor="middle" fill="#000" >54</text>
<line x1="623.95" y1="1061" x2="623.95" y2="1068" stroke="#000" stroke-width="1.8" />
<text x="623.95" y="1099" font-size="30" text-anchor="middle" fill="#000" >52</text>
<line x1="90.9" y1="1061" x2="90.9" y2="1065.3" stroke="#000" stroke-width="1.8" />
<line x1="243.2" y1="1061" x2="243.2" y2="1065.3" stroke="#000" stroke-width="1.8" />
<line x1="395.5" y1="1061" x2="395.5" y2="1065.3" stroke="#000" stroke-width="1.8" />
<line x1="547.8" y1="1061" x2="547.8" y2="1065.3" stroke="#000" stroke-width="1.8" />
<line x1="382.1" y1="627" x2="382.1" y2="1061" stroke="#000" stroke-width="1.6" stroke-dasharray="4.2 3"/>
<line x1="462" y1="627" x2="462" y2="1061" stroke="#000" stroke-width="1.6" stroke-dasharray="4.2 3"/>
<text x="97.6" y="659.8" font-size="29">Li 1<tspan font-style="italic">s</tspan></text>
<text x="221.3" y="656.6" font-size="26.2">Li<tspan font-size="18.5" dy="7">2</tspan><tspan dy="-7">CO</tspan><tspan font-size="18.5" dy="7">3</tspan><tspan dy="-7">/LiOH</tspan></text>
<text x="483.2" y="657.5" font-size="26.4" text-anchor="start" fill="#000" >Li-O-TM</text>
<line x1="379.2" y1="686.4" x2="336.2" y2="666" stroke="#000" stroke-width="1.2" marker-end="url(#ah)"/>
<line x1="469.7" y1="683.5" x2="521.1" y2="664.6" stroke="#000" stroke-width="1.2" marker-end="url(#ah)"/>
<text x="358.2" y="1139.5" font-size="33.8" text-anchor="middle" fill="#000" >Binding Energy (eV)</text>
<text transform="translate(69.2,844.4) rotate(-90)" font-size="35" text-anchor="middle">Intensity (arb.u.)</text>
<text x="18.7" y="629.7" font-size="40" text-anchor="start" fill="#000" >d</text>
<path d="M767.7,742.4 770.7,742.4 773.7,742.4 776.7,742.4 779.8,742.4 782.8,742.4 785.8,742.4 788.8,742.4 791.8,742.5 794.8,742.5 797.8,742.5 800.9,742.5 803.9,742.5 806.9,742.5 809.9,742.5 812.9,742.5 815.9,742.5 818.9,742.5 822,742.5 825,742.5 828,742.5 831,742.5 834,742.5 837,742.6 840.1,742.6 843.1,742.6 846.1,742.6 849.1,742.6 852.1,742.6 855.1,742.6 858.1,742.6 861.2,742.6 864.2,742.5 867.2,742.5 870.2,742.5 873.2,742.5 876.2,742.5 879.2,742.5 882.3,742.5 885.3,742.4 888.3,742.4 891.3,742.3 894.3,742.3 897.3,742.2 900.3,742.1 903.4,742 906.4,741.9 909.4,741.8 912.4,741.6 915.4,741.5 918.4,741.2 921.4,741 924.5,740.7 927.5,740.4 930.5,740 933.5,739.5 936.5,739 939.5,738.4 942.6,737.8 945.6,737.1 948.6,736.3 951.6,735.4 954.6,734.5 957.6,733.4 960.6,732.3 963.7,731.1 966.7,729.8 969.7,728.5 972.7,727.1 975.7,725.6 978.7,724.1 981.7,722.6 984.8,721.1 987.8,719.5 990.8,718 993.8,716.5 996.8,715.2 999.8,713.8 1002.8,712.6 1005.9,711.6 1008.9,710.7 1011.9,709.9 1014.9,709.4 1017.9,709.1 1020.9,709 1023.9,709.1 1027,709.4 1030,710 1033,710.7 1036,711.6 1039,712.7 1042,713.9 1045.1,715.2 1048.1,716.6 1051.1,718.1 1054.1,719.7 1057.1,721.2 1060.1,722.8 1063.1,724.3 1066.2,725.9 1069.2,727.4 1072.2,728.8 1075.2,730.2 1078.2,731.5 1081.2,732.8 1084.2,733.9 1087.3,735 1090.3,736 1093.3,736.9 1096.3,737.8 1099.3,738.5 1102.3,739.2 1105.3,739.8 1108.4,740.4 1111.4,740.9 1114.4,741.3 1117.4,741.7 1120.4,742 1123.4,742.3 1126.4,742.6 1129.5,742.8 1132.5,743 1135.5,743.2 1138.5,743.3 1141.5,743.4 1144.5,743.5 1147.6,743.6 1150.6,743.7 1153.6,743.8 1156.6,743.9 1159.6,744 1162.6,744 1165.6,744.1 1168.7,744.1 1171.7,744.2 1174.7,744.2 1177.7,744.2 1180.7,744.3 1183.7,744.3 1186.7,744.4 1189.8,744.4 1192.8,744.4 1195.8,744.5 1198.8,744.5 1201.8,744.5 1204.8,744.6 1207.8,744.6 1210.9,744.6 1213.9,744.6 1216.9,744.7 1219.9,744.7 1222.9,744.7 1225.9,744.7 1228.9,744.8 1232,744.8 1235,744.8 1238,744.8 1241,744.9 1244,744.9 1247,744.9 1250.1,744.9 1253.1,745 1256.1,745 1259.1,745 1262.1,745 1265.1,745.1 1268.1,745.1 1271.2,745.1 1274.2,745.1 1277.2,745.1 1280.2,745.2 1283.2,745.2 1286.2,745.2 1289.2,745.2 1292.3,745.2 1295.3,745.3 1298.3,745.3 1301.3,745.3 1301.3,745.5 767.7,742.6Z" fill="url(#eGray)"/>
<defs><path id="dp21" d="M768.7,741.7 770.7,742 772.7,740.7 774.7,740.7 776.7,741.4 778.7,742.3 780.7,741.5 782.7,740.5 784.7,740.8 786.7,741.2 788.7,741.8 790.7,741.2 792.7,741 794.7,741.1 796.7,741.4 798.7,740.8 800.7,741.3 802.7,741.4 804.7,742.2 806.7,741.2 808.7,741.8 810.7,740.7 812.7,741.8 814.7,741.4 816.7,741 818.7,741.3 820.7,741.8 822.7,741.1 824.7,741.9 826.7,742.2 828.7,742.2 830.7,742.2 832.7,740.5 834.7,741.5 836.7,740.9 838.7,741.8 840.7,741.3 842.7,741.4 844.7,741.5 846.7,740.9 848.7,741.3 850.7,740.8 852.7,742.5 854.7,741 856.7,741.3 858.7,740.2 860.7,740.4 862.7,740.7 864.7,741.7 866.7,741.6 868.7,741.3 870.7,740.8 872.7,742.2 874.7,740.5 876.7,740.6 878.7,741.4 880.7,740.5 882.7,741.2 884.7,741.6 886.7,741 888.7,741.2 890.7,740.9 892.7,740.5 894.7,739 896.7,740.1 898.7,740.7 900.7,739.7 902.7,740.3 904.7,740.6 906.7,741.2 908.7,739.5 910.7,739.9 912.7,740.2 914.7,740.3 916.7,739 918.7,740.8 920.7,739 922.7,739.9 924.7,738.9 926.7,739.1 928.7,739.6 930.7,738.7 932.7,738.1 934.7,737.1 936.7,736.9 938.7,736.1 940.7,737.7 942.7,735.1 944.7,734 946.7,736 948.7,735.2 950.7,733.7 952.7,733.7 954.7,732.1 956.7,731.5 958.7,731.4 960.7,730.6 962.7,729.3 964.7,729.6 966.7,728.2 968.7,727 970.7,725.2 972.7,725.1 974.7,723.8 976.7,722.9 978.7,722.4 980.7,720.5 982.7,720 984.7,719.2 986.7,717.9 988.7,718 990.7,714.5 992.7,714.5 994.7,712.8 996.7,712.5 998.7,713 1000.7,709.6 1002.7,709.6 1004.7,709.3 1006.7,708.2 1008.7,707.9 1010.7,705.8 1012.7,706.7 1014.7,705 1016.7,704.4 1018.7,705.1 1020.7,704.7 1022.7,703.7 1024.7,703.4 1026.7,703.6 1028.7,703.6 1030.7,703.4 1032.7,702.8 1034.7,702 1036.7,704.1 1038.7,703.4 1040.7,702.5 1042.7,702.2 1044.7,702.6 1046.7,702.5 1048.7,701.3 1050.7,703 1052.7,702.1 1054.7,701.1 1056.7,700.9 1058.7,700.2 1060.7,699.9 1062.7,698.5 1064.7,698.2 1066.7,697.3 1068.7,695 1070.7,693.7 1072.7,692.1 1074.7,691.1 1076.7,689.4 1078.7,688.3 1080.7,687 1082.7,685.6 1084.7,683.2 1086.7,683.1 1088.7,680.9 1090.7,679.8 1092.7,678.4 1094.7,676.5 1096.7,677 1098.7,675.2 1100.7,676.5 1102.7,675.7 1104.7,676.7 1106.7,676.5 1108.7,677.1 1110.7,678.4 1112.7,678.6 1114.7,680.9 1116.7,681.5 1118.7,683.4 1120.7,684.8 1122.7,687.5 1124.7,689.8 1126.7,691.4 1128.7,693.3 1130.7,696.4 1132.7,699.1 1134.7,701.2 1136.7,703.2 1138.7,705.7 1140.7,708.4 1142.7,709.3 1144.7,712.8 1146.7,716.1 1148.7,716.6 1150.7,719.2 1152.7,722.3 1154.7,723.5 1156.7,725.3 1158.7,726.3 1160.7,727 1162.7,730.9 1164.7,730.7 1166.7,731.8 1168.7,733.7 1170.7,734.2 1172.7,734.7 1174.7,734.8 1176.7,736.1 1178.7,736.8 1180.7,737.1 1182.7,737.5 1184.7,737.9 1186.7,738.9 1188.7,739 1190.7,739.9 1192.7,740.6 1194.7,740.5 1196.7,740.6 1198.7,741.7 1200.7,741.4 1202.7,740.3 1204.7,740.9 1206.7,741.6 1208.7,741.1 1210.7,742.2 1212.7,740.8 1214.7,740.8 1216.7,742.6 1218.7,742.4 1220.7,741.2 1222.7,742.3 1224.7,743.1 1226.7,741.7 1228.7,741.7 1230.7,741.8 1232.7,742 1234.7,741.6 1236.7,742.4 1238.7,741.9 1240.7,742.8 1242.7,744.2 1244.7,742.2 1246.7,743.4 1248.7,743.6 1250.7,741.6 1252.7,743.1 1254.7,743.1 1256.7,742.9 1258.7,743.6 1260.7,742.9 1262.7,743.4 1264.7,743 1266.7,743.2 1268.7,742.8 1270.7,744.7 1272.7,743.3 1274.7,742.7 1276.7,744.6 1278.7,744.4 1280.7,743.4 1282.7,743.1 1284.7,743.1 1286.7,744.3 1288.7,743.4 1290.7,743.2 1292.7,744.2 1294.7,743.5 1296.7,743.7 1298.7,744.9"/></defs>
<use href="#dp21" fill="none" stroke="#c6c6c6" stroke-width="5.0" stroke-linecap="round" stroke-dasharray="0 3.4"/>
<use href="#dp21" fill="none" stroke="#f2f2f2" stroke-width="2.8" stroke-linecap="round" stroke-dasharray="0 3.4"/>
<path d="M767.7,742.6 1301.3,745.5" fill="none" stroke="#333" stroke-width="1.3" stroke-linejoin="round" />
<path d="M815.9,742.6 818.9,742.6 822,742.6 825,742.6 828,742.7 831,742.7 834,742.7 837,742.7 840.1,742.7 843.1,742.7 846.1,742.7 849.1,742.7 852.1,742.7 855.1,742.7 858.1,742.8 861.2,742.8 864.2,742.8 867.2,742.8 870.2,742.8 873.2,742.8 876.2,742.8 879.2,742.8 882.3,742.8 885.3,742.8 888.3,742.8 891.3,742.8 894.3,742.8 897.3,742.8 900.3,742.8 903.4,742.8 906.4,742.8 909.4,742.8 912.4,742.8 915.4,742.8 918.4,742.8 921.4,742.8 924.5,742.8 927.5,742.8 930.5,742.8 933.5,742.8 936.5,742.8 939.5,742.8 942.6,742.8 945.6,742.8 948.6,742.8 951.6,742.8 954.6,742.7 957.6,742.7 960.6,742.7 963.7,742.7 966.7,742.7 969.7,742.6 972.7,742.6 975.7,742.6 978.7,742.5 981.7,742.5 984.8,742.4 987.8,742.4 990.8,742.3 993.8,742.2 996.8,742.1 999.8,742 1002.8,741.9 1005.9,741.7 1008.9,741.6 1011.9,741.3 1014.9,741.1 1017.9,740.7 1020.9,740.3 1023.9,739.8 1027,739.3 1030,738.6 1033,737.8 1036,736.8 1039,735.7 1042,734.3 1045.1,732.8 1048.1,731.1 1051.1,729.2 1054.1,727 1057.1,724.6 1060.1,721.9 1063.1,719.1 1066.2,716 1069.2,712.8 1072.2,709.4 1075.2,705.9 1078.2,702.4 1081.2,698.9 1084.2,695.6 1087.3,692.3 1090.3,689.4 1093.3,686.8 1096.3,684.6 1099.3,683 1102.3,681.9 1105.3,681.5 1108.4,681.6 1111.4,682.5 1114.4,683.9 1117.4,685.9 1120.4,688.4 1123.4,691.2 1126.4,694.4 1129.5,697.7 1132.5,701.2 1135.5,704.7 1138.5,708.2 1141.5,711.7 1144.5,715 1147.6,718.2 1150.6,721.2 1153.6,723.9 1156.6,726.5 1159.6,728.8 1162.6,730.9 1165.6,732.7 1168.7,734.4 1171.7,735.8 1174.7,737.1 1177.7,738.1 1180.7,739 1183.7,739.8 1186.7,740.5 1189.8,741 1192.8,741.5 1195.8,741.9 1198.8,742.2 1201.8,742.5 1204.8,742.7 1207.8,742.9 1210.9,743.1 1213.9,743.3 1216.9,743.4 1219.9,743.5 1222.9,743.6 1225.9,743.7 1228.9,743.8 1232,743.9 1235,743.9 1238,744 1241,744.1 1244,744.1 1247,744.2 1250.1,744.3 1253.1,744.3 1256.1,744.4 1259.1,744.4 1262.1,744.5 1265.1,744.5 1268.1,744.5 1271.2,744.6 1274.2,744.6 1277.2,744.7 1280.2,744.7 1283.2,744.7 1286.2,744.8 1289.2,744.8 1292.3,744.9 1295.3,744.9 1298.3,744.9 1301.3,745" fill="none" stroke="#444" stroke-width="1.0" stroke-linejoin="round" />
<path d="M767.7,742.2 770.7,742.2 773.7,742.2 776.7,742.2 779.8,742.2 782.8,742.2 785.8,742.2 788.8,742.2 791.8,742.2 794.8,742.2 797.8,742.2 800.9,742.3 803.9,742.3 806.9,742.3 809.9,742.3 812.9,742.3 815.9,742.3 818.9,742.3 822,742.3 825,742.3 828,742.3 831,742.3 834,742.3 837,742.3 840.1,742.3 843.1,742.3 846.1,742.2 849.1,742.2 852.1,742.2 855.1,742.2 858.1,742.2 861.2,742.2 864.2,742.2 867.2,742.2 870.2,742.2 873.2,742.1 876.2,742.1 879.2,742.1 882.3,742 885.3,742 888.3,741.9 891.3,741.9 894.3,741.8 897.3,741.7 900.3,741.7 903.4,741.5 906.4,741.4 909.4,741.3 912.4,741.1 915.4,740.9 918.4,740.7 921.4,740.4 924.5,740.1 927.5,739.7 930.5,739.3 933.5,738.8 936.5,738.3 939.5,737.7 942.6,737 945.6,736.3 948.6,735.5 951.6,734.6 954.6,733.6 957.6,732.5 960.6,731.3 963.7,730.1 966.7,728.8 969.7,727.4 972.7,726 975.7,724.4 978.7,722.9 981.7,721.3 984.8,719.7 987.8,718.1 990.8,716.5 993.8,714.9 996.8,713.4 999.8,712 1002.8,710.7 1005.9,709.4 1008.9,708.3 1011.9,707.3 1014.9,706.5 1017.9,705.8 1020.9,705.3 1023.9,704.9 1027,704.7 1030,704.5 1033,704.4 1036,704.3 1039,704.2 1042,704.1 1045.1,703.9 1048.1,703.6 1051.1,703.1 1054.1,702.5 1057.1,701.6 1060.1,700.5 1063.1,699.2 1066.2,697.6 1069.2,695.9 1072.2,694 1075.2,691.9 1078.2,689.7 1081.2,687.4 1084.2,685.2 1087.3,683 1090.3,681.1 1093.3,679.4 1096.3,678 1099.3,677.1 1102.3,676.7 1105.3,676.9 1108.4,677.6 1111.4,678.9 1114.4,680.8 1117.4,683.1 1120.4,685.9 1123.4,689 1126.4,692.4 1129.5,695.9 1132.5,699.6 1135.5,703.3 1138.5,706.9 1141.5,710.5 1144.5,713.9 1147.6,717.2 1150.6,720.2 1153.6,723.1 1156.6,725.7 1159.6,728 1162.6,730.2 1165.6,732.1 1168.7,733.7 1171.7,735.2 1174.7,736.5 1177.7,737.5 1180.7,738.5 1183.7,739.3 1186.7,740 1189.8,740.5 1192.8,741 1195.8,741.4 1198.8,741.8 1201.8,742.1 1204.8,742.3 1207.8,742.5 1210.9,742.7 1213.9,742.9 1216.9,743 1219.9,743.1 1222.9,743.3 1225.9,743.4 1228.9,743.5 1232,743.5 1235,743.6 1238,743.7 1241,743.8 1244,743.8 1247,743.9 1250.1,744 1253.1,744 1256.1,744.1 1259.1,744.1 1262.1,744.2 1265.1,744.3 1268.1,744.3 1271.2,744.4 1274.2,744.4 1277.2,744.4 1280.2,744.5 1283.2,744.5 1286.2,744.6 1289.2,744.6 1292.3,744.7 1295.3,744.7 1298.3,744.7 1301.3,744.8" fill="none" stroke="#3a3a3a" stroke-width="1.35" stroke-linejoin="round" />
<text x="778.8" y="732.2" font-size="25.5" text-anchor="start" fill="#000" >480 s</text>
<path d="M767.7,825.3 770.7,825.3 773.7,825.3 776.7,825.4 779.8,825.4 782.8,825.4 785.8,825.4 788.8,825.4 791.8,825.4 794.8,825.4 797.8,825.4 800.9,825.4 803.9,825.4 806.9,825.4 809.9,825.5 812.9,825.5 815.9,825.5 818.9,825.5 822,825.5 825,825.5 828,825.5 831,825.5 834,825.5 837,825.5 840.1,825.5 843.1,825.5 846.1,825.5 849.1,825.5 852.1,825.5 855.1,825.5 858.1,825.5 861.2,825.5 864.2,825.4 867.2,825.4 870.2,825.4 873.2,825.4 876.2,825.4 879.2,825.3 882.3,825.3 885.3,825.2 888.3,825.2 891.3,825.1 894.3,825 897.3,824.9 900.3,824.8 903.4,824.6 906.4,824.4 909.4,824.2 912.4,824 915.4,823.7 918.4,823.4 921.4,823 924.5,822.5 927.5,822 930.5,821.4 933.5,820.8 936.5,820.1 939.5,819.2 942.6,818.3 945.6,817.3 948.6,816.2 951.6,815 954.6,813.7 957.6,812.4 960.6,810.9 963.7,809.3 966.7,807.7 969.7,806 972.7,804.2 975.7,802.5 978.7,800.7 981.7,798.9 984.8,797.1 987.8,795.4 990.8,793.7 993.8,792.1 996.8,790.7 999.8,789.4 1002.8,788.3 1005.9,787.4 1008.9,786.7 1011.9,786.3 1014.9,786.1 1017.9,786.2 1020.9,786.5 1023.9,787.1 1027,787.9 1030,788.9 1033,790.1 1036,791.5 1039,793 1042,794.6 1045.1,796.4 1048.1,798.2 1051.1,800 1054.1,801.8 1057.1,803.7 1060.1,805.5 1063.1,807.2 1066.2,808.9 1069.2,810.6 1072.2,812.1 1075.2,813.6 1078.2,815 1081.2,816.3 1084.2,817.5 1087.3,818.6 1090.3,819.6 1093.3,820.5 1096.3,821.3 1099.3,822.1 1102.3,822.7 1105.3,823.3 1108.4,823.8 1111.4,824.3 1114.4,824.7 1117.4,825 1120.4,825.3 1123.4,825.6 1126.4,825.8 1129.5,826 1132.5,826.2 1135.5,826.4 1138.5,826.5 1141.5,826.6 1144.5,826.7 1147.6,826.8 1150.6,826.9 1153.6,827 1156.6,827.1 1159.6,827.1 1162.6,827.2 1165.6,827.2 1168.7,827.3 1171.7,827.3 1174.7,827.4 1177.7,827.4 1180.7,827.5 1183.7,827.5 1186.7,827.5 1189.8,827.6 1192.8,827.6 1195.8,827.6 1198.8,827.7 1201.8,827.7 1204.8,827.7 1207.8,827.8 1210.9,827.8 1213.9,827.8 1216.9,827.9 1219.9,827.9 1222.9,827.9 1225.9,828 1228.9,828 1232,828 1235,828 1238,828.1 1241,828.1 1244,828.1 1247,828.2 1250.1,828.2 1253.1,828.2 1256.1,828.2 1259.1,828.3 1262.1,828.3 1265.1,828.3 1268.1,828.3 1271.2,828.4 1274.2,828.4 1277.2,828.4 1280.2,828.4 1283.2,828.4 1286.2,828.5 1289.2,828.5 1292.3,828.5 1295.3,828.5 1298.3,828.6 1301.3,828.6 1301.3,828.8 767.7,825.6Z" fill="url(#eGray)"/>
<defs><path id="dp22" d="M768.7,824.5 770.7,824.1 772.7,826.3 774.7,824.5 776.7,824.3 778.7,824.4 780.7,823.8 782.7,823.7 784.7,824.5 786.7,823.9 788.7,824.7 790.7,824 792.7,823.1 794.7,823.4 796.7,823.7 798.7,822.9 800.7,824.1 802.7,824 804.7,824.8 806.7,823.7 808.7,824.1 810.7,824.6 812.7,824.7 814.7,823.6 816.7,825.2 818.7,823.8 820.7,825 822.7,824 824.7,823.9 826.7,823.4 828.7,824.1 830.7,825.7 832.7,823.8 834.7,825.2 836.7,825 838.7,823.9 840.7,824.9 842.7,825.1 844.7,824 846.7,823.8 848.7,824.9 850.7,824.4 852.7,825.5 854.7,824.4 856.7,823.4 858.7,824.1 860.7,823.4 862.7,824.6 864.7,824.5 866.7,823.8 868.7,823.5 870.7,824.6 872.7,823.8 874.7,824.7 876.7,823.3 878.7,823.7 880.7,823.5 882.7,823.2 884.7,825.5 886.7,824.8 888.7,823.3 890.7,824.2 892.7,822.5 894.7,824.3 896.7,824.1 898.7,823.1 900.7,823 902.7,823.3 904.7,823.3 906.7,822.7 908.7,822.2 910.7,822.4 912.7,822.1 914.7,822.7 916.7,822 918.7,821.9 920.7,820.4 922.7,820.9 924.7,820.6 926.7,820.2 928.7,820.1 930.7,819.5 932.7,818.3 934.7,819.4 936.7,818.9 938.7,817.4 940.7,817.5 942.7,815.9 944.7,815 946.7,815 948.7,815.3 950.7,813.5 952.7,811.7 954.7,812 956.7,810.5 958.7,809.4 960.7,809.1 962.7,806.7 964.7,805.6 966.7,804.7 968.7,805.2 970.7,803.4 972.7,801.7 974.7,800.5 976.7,800.1 978.7,799.2 980.7,796.7 982.7,796.1 984.7,796.2 986.7,793.9 988.7,792.2 990.7,791.4 992.7,790.2 994.7,789.5 996.7,788.2 998.7,786.7 1000.7,786.1 1002.7,785.6 1004.7,784.2 1006.7,784 1008.7,782.8 1010.7,783.7 1012.7,783.5 1014.7,781.6 1016.7,782.5 1018.7,781.9 1020.7,781.8 1022.7,781.6 1024.7,782 1026.7,782.6 1028.7,781.4 1030.7,783 1032.7,782.4 1034.7,782.2 1036.7,783.1 1038.7,783.7 1040.7,783.5 1042.7,783.8 1044.7,783.5 1046.7,783.4 1048.7,784.4 1050.7,783 1052.7,784 1054.7,783.2 1056.7,782.4 1058.7,781.8 1060.7,781.1 1062.7,780.5 1064.7,779.6 1066.7,778.5 1068.7,776.2 1070.7,774.9 1072.7,775.1 1074.7,773.1 1076.7,771.6 1078.7,770.4 1080.7,768.2 1082.7,768.4 1084.7,765.9 1086.7,764.3 1088.7,762.3 1090.7,762.2 1092.7,760.9 1094.7,760.3 1096.7,759.1 1098.7,757.4 1100.7,756.6 1102.7,758.1 1104.7,756.9 1106.7,757.5 1108.7,758.1 1110.7,759.3 1112.7,760.5 1114.7,760.8 1116.7,762.6 1118.7,763.7 1120.7,767.1 1122.7,768.7 1124.7,770 1126.7,774 1128.7,775.8 1130.7,777.6 1132.7,780.5 1134.7,782.9 1136.7,785.8 1138.7,788.4 1140.7,790.3 1142.7,793.3 1144.7,793.8 1146.7,797.4 1148.7,800.2 1150.7,802.4 1152.7,804.3 1154.7,805 1156.7,806.3 1158.7,808.8 1160.7,812 1162.7,812.1 1164.7,812.8 1166.7,813.5 1168.7,815.7 1170.7,816.4 1172.7,817.9 1174.7,818.5 1176.7,817.7 1178.7,819.8 1180.7,821 1182.7,820.7 1184.7,820.8 1186.7,821.3 1188.7,821.6 1190.7,824.1 1192.7,824 1194.7,823 1196.7,824.5 1198.7,823.2 1200.7,823.8 1202.7,823.8 1204.7,824.3 1206.7,825 1208.7,826 1210.7,825.3 1212.7,824.9 1214.7,825.2 1216.7,825 1218.7,825.5 1220.7,824.8 1222.7,825.6 1224.7,825.8 1226.7,826.2 1228.7,825.1 1230.7,826 1232.7,825.9 1234.7,825.3 1236.7,824.7 1238.7,825.6 1240.7,826.5 1242.7,825.9 1244.7,827.5 1246.7,826.5 1248.7,825.7 1250.7,826.2 1252.7,826.5 1254.7,826.6 1256.7,826.2 1258.7,826.7 1260.7,828.2 1262.7,827 1264.7,826.6 1266.7,826.2 1268.7,825.5 1270.7,826.7 1272.7,826.4 1274.7,826.6 1276.7,826.4 1278.7,827.2 1280.7,827.4 1282.7,826.4 1284.7,826 1286.7,827 1288.7,827.7 1290.7,827.2 1292.7,827.2 1294.7,826.1 1296.7,826.7 1298.7,827.4"/></defs>
<use href="#dp22" fill="none" stroke="#c6c6c6" stroke-width="5.0" stroke-linecap="round" stroke-dasharray="0 3.4"/>
<use href="#dp22" fill="none" stroke="#f2f2f2" stroke-width="2.8" stroke-linecap="round" stroke-dasharray="0 3.4"/>
<path d="M767.7,825.6 1301.3,828.8" fill="none" stroke="#333" stroke-width="1.3" stroke-linejoin="round" />
<path d="M809.9,825.6 812.9,825.6 815.9,825.6 818.9,825.6 822,825.7 825,825.7 828,825.7 831,825.7 834,825.7 837,825.7 840.1,825.7 843.1,825.7 846.1,825.8 849.1,825.8 852.1,825.8 855.1,825.8 858.1,825.8 861.2,825.8 864.2,825.8 867.2,825.8 870.2,825.8 873.2,825.8 876.2,825.8 879.2,825.9 882.3,825.9 885.3,825.9 888.3,825.9 891.3,825.9 894.3,825.9 897.3,825.9 900.3,825.9 903.4,825.9 906.4,825.9 909.4,825.9 912.4,825.9 915.4,825.9 918.4,825.9 921.4,825.9 924.5,825.9 927.5,825.9 930.5,825.9 933.5,825.9 936.5,825.9 939.5,825.9 942.6,825.9 945.6,825.9 948.6,825.8 951.6,825.8 954.6,825.8 957.6,825.8 960.6,825.8 963.7,825.8 966.7,825.7 969.7,825.7 972.7,825.7 975.7,825.6 978.7,825.6 981.7,825.6 984.8,825.5 987.8,825.4 990.8,825.4 993.8,825.3 996.8,825.2 999.8,825.1 1002.8,825 1005.9,824.8 1008.9,824.6 1011.9,824.4 1014.9,824.1 1017.9,823.8 1020.9,823.3 1023.9,822.9 1027,822.3 1030,821.5 1033,820.7 1036,819.7 1039,818.5 1042,817.2 1045.1,815.6 1048.1,813.8 1051.1,811.8 1054.1,809.6 1057.1,807.1 1060.1,804.4 1063.1,801.4 1066.2,798.3 1069.2,794.9 1072.2,791.4 1075.2,787.9 1078.2,784.3 1081.2,780.7 1084.2,777.2 1087.3,773.9 1090.3,770.8 1093.3,768.2 1096.3,765.9 1099.3,764.2 1102.3,763.1 1105.3,762.6 1108.4,762.8 1111.4,763.7 1114.4,765.2 1117.4,767.3 1120.4,769.8 1123.4,772.7 1126.4,776 1129.5,779.4 1132.5,783 1135.5,786.7 1138.5,790.3 1141.5,793.8 1144.5,797.3 1147.6,800.6 1150.6,803.6 1153.6,806.5 1156.6,809.1 1159.6,811.5 1162.6,813.7 1165.6,815.6 1168.7,817.3 1171.7,818.8 1174.7,820 1177.7,821.1 1180.7,822.1 1183.7,822.9 1186.7,823.6 1189.8,824.1 1192.8,824.6 1195.8,825 1198.8,825.4 1201.8,825.7 1204.8,825.9 1207.8,826.1 1210.9,826.3 1213.9,826.5 1216.9,826.6 1219.9,826.7 1222.9,826.8 1225.9,826.9 1228.9,827 1232,827.1 1235,827.2 1238,827.2 1241,827.3 1244,827.4 1247,827.4 1250.1,827.5 1253.1,827.6 1256.1,827.6 1259.1,827.7 1262.1,827.7 1265.1,827.8 1268.1,827.8 1271.2,827.8 1274.2,827.9 1277.2,827.9 1280.2,828 1283.2,828 1286.2,828.1 1289.2,828.1 1292.3,828.1 1295.3,828.2 1298.3,828.2 1301.3,828.2" fill="none" stroke="#444" stroke-width="1.0" stroke-linejoin="round" />
<path d="M767.7,825.1 770.7,825.1 773.7,825.1 776.7,825.2 779.8,825.2 782.8,825.2 785.8,825.2 788.8,825.2 791.8,825.2 794.8,825.2 797.8,825.2 800.9,825.2 803.9,825.2 806.9,825.2 809.9,825.2 812.9,825.2 815.9,825.2 818.9,825.2 822,825.2 825,825.2 828,825.2 831,825.2 834,825.2 837,825.2 840.1,825.2 843.1,825.2 846.1,825.2 849.1,825.2 852.1,825.1 855.1,825.1 858.1,825.1 861.2,825.1 864.2,825.1 867.2,825.1 870.2,825 873.2,825 876.2,825 879.2,824.9 882.3,824.9 885.3,824.8 888.3,824.7 891.3,824.6 894.3,824.5 897.3,824.4 900.3,824.3 903.4,824.1 906.4,823.9 909.4,823.7 912.4,823.4 915.4,823.1 918.4,822.8 921.4,822.4 924.5,821.9 927.5,821.4 930.5,820.8 933.5,820.1 936.5,819.3 939.5,818.5 942.6,817.5 945.6,816.5 948.6,815.4 951.6,814.2 954.6,812.8 957.6,811.4 960.6,809.9 963.7,808.3 966.7,806.6 969.7,804.9 972.7,803.1 975.7,801.3 978.7,799.4 981.7,797.5 984.8,795.7 987.8,793.9 990.8,792.1 993.8,790.5 996.8,788.9 999.8,787.5 1002.8,786.3 1005.9,785.2 1008.9,784.3 1011.9,783.6 1014.9,783.1 1017.9,782.8 1020.9,782.7 1023.9,782.8 1027,783 1030,783.3 1033,783.6 1036,784 1039,784.3 1042,784.6 1045.1,784.7 1048.1,784.7 1051.1,784.5 1054.1,784.1 1057.1,783.4 1060.1,782.5 1063.1,781.3 1066.2,779.8 1069.2,778.1 1072.2,776.2 1075.2,774 1078.2,771.8 1081.2,769.5 1084.2,767.2 1087.3,764.9 1090.3,762.9 1093.3,761.1 1096.3,759.7 1099.3,758.7 1102.3,758.2 1105.3,758.3 1108.4,759 1111.4,760.3 1114.4,762.2 1117.4,764.6 1120.4,767.4 1123.4,770.6 1126.4,774.1 1129.5,777.7 1132.5,781.4 1135.5,785.2 1138.5,789 1141.5,792.6 1144.5,796.2 1147.6,799.5 1150.6,802.7 1153.6,805.6 1156.6,808.3 1159.6,810.7 1162.6,812.9 1165.6,814.8 1168.7,816.6 1171.7,818.1 1174.7,819.4 1177.7,820.5 1180.7,821.5 1183.7,822.3 1186.7,823 1189.8,823.6 1192.8,824.1 1195.8,824.5 1198.8,824.9 1201.8,825.2 1204.8,825.4 1207.8,825.7 1210.9,825.9 1213.9,826 1216.9,826.2 1219.9,826.3 1222.9,826.4 1225.9,826.5 1228.9,826.6 1232,826.7 1235,826.8 1238,826.9 1241,827 1244,827 1247,827.1 1250.1,827.2 1253.1,827.2 1256.1,827.3 1259.1,827.4 1262.1,827.4 1265.1,827.5 1268.1,827.5 1271.2,827.6 1274.2,827.6 1277.2,827.7 1280.2,827.7 1283.2,827.8 1286.2,827.8 1289.2,827.9 1292.3,827.9 1295.3,827.9 1298.3,828 1301.3,828" fill="none" stroke="#3a3a3a" stroke-width="1.35" stroke-linejoin="round" />
<text x="778.8" y="810.3" font-size="25.5" text-anchor="start" fill="#000" >360 s</text>
<path d="M767.7,898.8 770.7,898.9 773.7,898.9 776.7,898.9 779.8,898.9 782.8,898.9 785.8,899 788.8,899 791.8,899 794.8,899 797.8,899 800.9,899.1 803.9,899.1 806.9,899.1 809.9,899.1 812.9,899.1 815.9,899.1 818.9,899.2 822,899.2 825,899.2 828,899.2 831,899.2 834,899.2 837,899.2 840.1,899.3 843.1,899.3 846.1,899.3 849.1,899.3 852.1,899.3 855.1,899.3 858.1,899.3 861.2,899.3 864.2,899.3 867.2,899.3 870.2,899.3 873.2,899.3 876.2,899.3 879.2,899.3 882.3,899.2 885.3,899.2 888.3,899.2 891.3,899.1 894.3,899.1 897.3,899 900.3,898.9 903.4,898.8 906.4,898.7 909.4,898.6 912.4,898.4 915.4,898.2 918.4,897.9 921.4,897.6 924.5,897.3 927.5,896.9 930.5,896.5 933.5,896 936.5,895.4 939.5,894.7 942.6,894 945.6,893.1 948.6,892.2 951.6,891.2 954.6,890.1 957.6,888.9 960.6,887.6 963.7,886.2 966.7,884.7 969.7,883.1 972.7,881.5 975.7,879.8 978.7,878 981.7,876.3 984.8,874.5 987.8,872.7 990.8,870.9 993.8,869.2 996.8,867.6 999.8,866.1 1002.8,864.7 1005.9,863.4 1008.9,862.4 1011.9,861.5 1014.9,860.9 1017.9,860.5 1020.9,860.4 1023.9,860.6 1027,861 1030,861.6 1033,862.5 1036,863.5 1039,864.8 1042,866.2 1045.1,867.8 1048.1,869.5 1051.1,871.2 1054.1,873 1057.1,874.9 1060.1,876.7 1063.1,878.5 1066.2,880.4 1069.2,882.1 1072.2,883.8 1075.2,885.5 1078.2,887 1081.2,888.5 1084.2,889.8 1087.3,891.1 1090.3,892.3 1093.3,893.4 1096.3,894.4 1099.3,895.3 1102.3,896.1 1105.3,896.8 1108.4,897.5 1111.4,898.1 1114.4,898.6 1117.4,899 1120.4,899.4 1123.4,899.8 1126.4,900.1 1129.5,900.3 1132.5,900.6 1135.5,900.8 1138.5,901 1141.5,901.1 1144.5,901.3 1147.6,901.4 1150.6,901.5 1153.6,901.6 1156.6,901.7 1159.6,901.8 1162.6,901.9 1165.6,901.9 1168.7,902 1171.7,902.1 1174.7,902.1 1177.7,902.2 1180.7,902.2 1183.7,902.3 1186.7,902.3 1189.8,902.4 1192.8,902.4 1195.8,902.5 1198.8,902.5 1201.8,902.6 1204.8,902.6 1207.8,902.7 1210.9,902.7 1213.9,902.7 1216.9,902.8 1219.9,902.8 1222.9,902.9 1225.9,902.9 1228.9,902.9 1232,903 1235,903 1238,903.1 1241,903.1 1244,903.1 1247,903.2 1250.1,903.2 1253.1,903.2 1256.1,903.3 1259.1,903.3 1262.1,903.3 1265.1,903.4 1268.1,903.4 1271.2,903.4 1274.2,903.5 1277.2,903.5 1280.2,903.5 1283.2,903.6 1286.2,903.6 1289.2,903.6 1292.3,903.7 1295.3,903.7 1298.3,903.7 1301.3,903.8 1301.3,904 767.7,899.1Z" fill="url(#eGray)"/>
<defs><path id="dp23" d="M768.7,899 770.7,897 772.7,897.9 774.7,897.5 776.7,897.2 778.7,897.4 780.7,897.4 782.7,897.7 784.7,898 786.7,898.4 788.7,897.9 790.7,898.4 792.7,898.1 794.7,897.9 796.7,897.7 798.7,897.2 800.7,896.9 802.7,897.8 804.7,897.7 806.7,898 808.7,898 810.7,897.1 812.7,897.4 814.7,897.2 816.7,898.5 818.7,897.8 820.7,898 822.7,897.4 824.7,897.1 826.7,897.6 828.7,897.9 830.7,898.2 832.7,897 834.7,898.1 836.7,897.4 838.7,897.6 840.7,897.7 842.7,897.7 844.7,898.2 846.7,898.5 848.7,898.2 850.7,897.6 852.7,898.2 854.7,898.2 856.7,898.5 858.7,898.1 860.7,897 862.7,897.5 864.7,897.7 866.7,898.5 868.7,897.8 870.7,898.5 872.7,898.1 874.7,897.2 876.7,897.9 878.7,898.2 880.7,898.1 882.7,896.9 884.7,898 886.7,897.4 888.7,896.5 890.7,897.4 892.7,896.5 894.7,896.9 896.7,898.4 898.7,899 900.7,898.1 902.7,897.6 904.7,898.4 906.7,897.4 908.7,896.5 910.7,895.5 912.7,897.4 914.7,895.3 916.7,894.8 918.7,895.9 920.7,896.2 922.7,895.4 924.7,896.3 926.7,895.4 928.7,895.2 930.7,895.1 932.7,894.1 934.7,894.2 936.7,895 938.7,892.6 940.7,892.8 942.7,892.5 944.7,891.3 946.7,891 948.7,889.4 950.7,889.5 952.7,889 954.7,888.9 956.7,888 958.7,886.2 960.7,885 962.7,885.8 964.7,884.3 966.7,881.6 968.7,881.5 970.7,880 972.7,879.1 974.7,877.3 976.7,876.9 978.7,875.6 980.7,874.6 982.7,874.1 984.7,872.4 986.7,870.3 988.7,868.8 990.7,868.3 992.7,868.1 994.7,866.8 996.7,864.7 998.7,864.7 1000.7,863.2 1002.7,861.6 1004.7,861.3 1006.7,860.1 1008.7,858.7 1010.7,858.4 1012.7,858.1 1014.7,858.2 1016.7,856.3 1018.7,856.7 1020.7,856.3 1022.7,856 1024.7,855.2 1026.7,856.6 1028.7,856.6 1030.7,856.9 1032.7,856.3 1034.7,857.1 1036.7,856.7 1038.7,857.1 1040.7,856.6 1042.7,857.1 1044.7,856.9 1046.7,856.6 1048.7,857.1 1050.7,856.8 1052.7,856.8 1054.7,857.1 1056.7,856.8 1058.7,858.2 1060.7,857.7 1062.7,856.8 1064.7,856.1 1066.7,854.5 1068.7,854.5 1070.7,852.7 1072.7,852.3 1074.7,851.4 1076.7,850.5 1078.7,850.2 1080.7,848.1 1082.7,848.9 1084.7,846 1086.7,845.7 1088.7,843.1 1090.7,843.5 1092.7,841.3 1094.7,841.3 1096.7,840.4 1098.7,840.3 1100.7,839.7 1102.7,839.3 1104.7,838.9 1106.7,840.4 1108.7,839.3 1110.7,840.1 1112.7,840.6 1114.7,842 1116.7,842.6 1118.7,844.3 1120.7,846.4 1122.7,847.5 1124.7,850 1126.7,851.3 1128.7,854.5 1130.7,855.7 1132.7,859 1134.7,860.5 1136.7,862.3 1138.7,865.1 1140.7,867.4 1142.7,869.8 1144.7,871.8 1146.7,873.6 1148.7,874.3 1150.7,877.5 1152.7,878.7 1154.7,880.7 1156.7,882.9 1158.7,883.3 1160.7,886 1162.7,888 1164.7,888.2 1166.7,888.9 1168.7,891 1170.7,891.3 1172.7,892.7 1174.7,893.7 1176.7,892.8 1178.7,894.7 1180.7,894.2 1182.7,895.3 1184.7,896.6 1186.7,896 1188.7,896.7 1190.7,897.2 1192.7,898.1 1194.7,898.4 1196.7,898.7 1198.7,898.4 1200.7,898.5 1202.7,899.4 1204.7,898.8 1206.7,899 1208.7,900.1 1210.7,899.3 1212.7,899.4 1214.7,900.7 1216.7,900.1 1218.7,898.9 1220.7,899.9 1222.7,901.6 1224.7,902.2 1226.7,900.4 1228.7,901.1 1230.7,901.2 1232.7,901 1234.7,899.7 1236.7,901.5 1238.7,901.1 1240.7,900.9 1242.7,900.1 1244.7,900.7 1246.7,901.1 1248.7,901.1 1250.7,901.4 1252.7,901.1 1254.7,902 1256.7,901.8 1258.7,900.8 1260.7,901.1 1262.7,901.8 1264.7,901.2 1266.7,902.5 1268.7,901.3 1270.7,901.9 1272.7,902.1 1274.7,901.1 1276.7,902.6 1278.7,901.7 1280.7,901.5 1282.7,901.5 1284.7,900.9 1286.7,901.2 1288.7,902.9 1290.7,902 1292.7,901.9 1294.7,902.2 1296.7,902.5 1298.7,901.7"/></defs>
<use href="#dp23" fill="none" stroke="#c6c6c6" stroke-width="5.0" stroke-linecap="round" stroke-dasharray="0 3.4"/>
<use href="#dp23" fill="none" stroke="#f2f2f2" stroke-width="2.8" stroke-linecap="round" stroke-dasharray="0 3.4"/>
<path d="M767.7,899.1 1301.3,904" fill="none" stroke="#333" stroke-width="1.3" stroke-linejoin="round" />
<path d="M828,899.4 831,899.4 834,899.4 837,899.5 840.1,899.5 843.1,899.5 846.1,899.5 849.1,899.6 852.1,899.6 855.1,899.6 858.1,899.6 861.2,899.6 864.2,899.7 867.2,899.7 870.2,899.7 873.2,899.7 876.2,899.7 879.2,899.8 882.3,899.8 885.3,899.8 888.3,899.8 891.3,899.8 894.3,899.8 897.3,899.9 900.3,899.9 903.4,899.9 906.4,899.9 909.4,899.9 912.4,899.9 915.4,899.9 918.4,900 921.4,900 924.5,900 927.5,900 930.5,900 933.5,900 936.5,900 939.5,900 942.6,900 945.6,900 948.6,900 951.6,900 954.6,900 957.6,900 960.6,900 963.7,900 966.7,900 969.7,900 972.7,900 975.7,900 978.7,899.9 981.7,899.9 984.8,899.9 987.8,899.8 990.8,899.8 993.8,899.7 996.8,899.7 999.8,899.6 1002.8,899.5 1005.9,899.4 1008.9,899.2 1011.9,899 1014.9,898.8 1017.9,898.6 1020.9,898.2 1023.9,897.8 1027,897.4 1030,896.8 1033,896.1 1036,895.3 1039,894.4 1042,893.3 1045.1,892 1048.1,890.6 1051.1,888.9 1054.1,887.1 1057.1,885.1 1060.1,882.8 1063.1,880.4 1066.2,877.7 1069.2,874.9 1072.2,872 1075.2,869 1078.2,865.9 1081.2,862.8 1084.2,859.7 1087.3,856.8 1090.3,854 1093.3,851.5 1096.3,849.3 1099.3,847.5 1102.3,846.2 1105.3,845.4 1108.4,845.2 1111.4,845.6 1114.4,846.5 1117.4,847.9 1120.4,849.8 1123.4,852.1 1126.4,854.7 1129.5,857.6 1132.5,860.6 1135.5,863.7 1138.5,866.9 1141.5,870 1144.5,873.1 1147.6,876.1 1150.6,878.9 1153.6,881.6 1156.6,884 1159.6,886.3 1162.6,888.4 1165.6,890.3 1168.7,891.9 1171.7,893.4 1174.7,894.7 1177.7,895.8 1180.7,896.8 1183.7,897.6 1186.7,898.3 1189.8,898.9 1192.8,899.5 1195.8,899.9 1198.8,900.3 1201.8,900.6 1204.8,900.9 1207.8,901.1 1210.9,901.3 1213.9,901.5 1216.9,901.6 1219.9,901.7 1222.9,901.9 1225.9,902 1228.9,902.1 1232,902.2 1235,902.2 1238,902.3 1241,902.4 1244,902.5 1247,902.5 1250.1,902.6 1253.1,902.7 1256.1,902.7 1259.1,902.8 1262.1,902.8 1265.1,902.9 1268.1,903 1271.2,903 1274.2,903.1 1277.2,903.1 1280.2,903.2 1283.2,903.2 1286.2,903.3 1289.2,903.3 1292.3,903.4 1295.3,903.4 1298.3,903.4 1301.3,903.5" fill="none" stroke="#444" stroke-width="1.0" stroke-linejoin="round" />
<path d="M767.7,898.7 770.7,898.7 773.7,898.7 776.7,898.7 779.8,898.7 782.8,898.8 785.8,898.8 788.8,898.8 791.8,898.8 794.8,898.8 797.8,898.8 800.9,898.8 803.9,898.9 806.9,898.9 809.9,898.9 812.9,898.9 815.9,898.9 818.9,898.9 822,898.9 825,898.9 828,899 831,899 834,899 837,899 840.1,899 843.1,899 846.1,899 849.1,899 852.1,899 855.1,899 858.1,899 861.2,899 864.2,899 867.2,899 870.2,899 873.2,898.9 876.2,898.9 879.2,898.9 882.3,898.9 885.3,898.8 888.3,898.8 891.3,898.7 894.3,898.7 897.3,898.6 900.3,898.5 903.4,898.4 906.4,898.2 909.4,898.1 912.4,897.9 915.4,897.7 918.4,897.4 921.4,897.1 924.5,896.7 927.5,896.3 930.5,895.9 933.5,895.3 936.5,894.7 939.5,894 942.6,893.3 945.6,892.4 948.6,891.5 951.6,890.4 954.6,889.3 957.6,888.1 960.6,886.7 963.7,885.3 966.7,883.8 969.7,882.2 972.7,880.5 975.7,878.7 978.7,876.9 981.7,875.1 984.8,873.3 987.8,871.4 990.8,869.6 993.8,867.8 996.8,866.1 999.8,864.4 1002.8,862.9 1005.9,861.5 1008.9,860.3 1011.9,859.2 1014.9,858.4 1017.9,857.7 1020.9,857.2 1023.9,857 1027,856.8 1030,856.9 1033,857.1 1036,857.3 1039,857.6 1042,857.9 1045.1,858.2 1048.1,858.4 1051.1,858.5 1054.1,858.4 1057.1,858.2 1060.1,857.7 1063.1,857.1 1066.2,856.3 1069.2,855.2 1072.2,853.9 1075.2,852.5 1078.2,850.9 1081.2,849.3 1084.2,847.5 1087.3,845.8 1090.3,844.2 1093.3,842.8 1096.3,841.6 1099.3,840.7 1102.3,840.1 1105.3,840.1 1108.4,840.5 1111.4,841.4 1114.4,842.8 1117.4,844.6 1120.4,846.9 1123.4,849.5 1126.4,852.4 1129.5,855.5 1132.5,858.7 1135.5,862 1138.5,865.4 1141.5,868.6 1144.5,871.8 1147.6,874.9 1150.6,877.8 1153.6,880.5 1156.6,883.1 1159.6,885.4 1162.6,887.5 1165.6,889.4 1168.7,891.1 1171.7,892.6 1174.7,894 1177.7,895.1 1180.7,896.1 1183.7,897 1186.7,897.7 1189.8,898.4 1192.8,898.9 1195.8,899.4 1198.8,899.7 1201.8,900.1 1204.8,900.4 1207.8,900.6 1210.9,900.8 1213.9,901 1216.9,901.2 1219.9,901.3 1222.9,901.4 1225.9,901.6 1228.9,901.7 1232,901.8 1235,901.9 1238,902 1241,902 1244,902.1 1247,902.2 1250.1,902.3 1253.1,902.3 1256.1,902.4 1259.1,902.5 1262.1,902.6 1265.1,902.6 1268.1,902.7 1271.2,902.7 1274.2,902.8 1277.2,902.9 1280.2,902.9 1283.2,903 1286.2,903 1289.2,903.1 1292.3,903.1 1295.3,903.2 1298.3,903.2 1301.3,903.3" fill="none" stroke="#3a3a3a" stroke-width="1.35" stroke-linejoin="round" />
<text x="778.8" y="889" font-size="25.5" text-anchor="start" fill="#000" >240 s</text>
<path d="M767.7,979.2 770.7,979.2 773.7,979.2 776.7,979.2 779.8,979.2 782.8,979.2 785.8,979.3 788.8,979.3 791.8,979.3 794.8,979.3 797.8,979.3 800.9,979.3 803.9,979.3 806.9,979.4 809.9,979.4 812.9,979.4 815.9,979.4 818.9,979.4 822,979.4 825,979.4 828,979.4 831,979.4 834,979.4 837,979.4 840.1,979.4 843.1,979.4 846.1,979.4 849.1,979.4 852.1,979.4 855.1,979.4 858.1,979.4 861.2,979.4 864.2,979.4 867.2,979.4 870.2,979.3 873.2,979.3 876.2,979.3 879.2,979.2 882.3,979.2 885.3,979.1 888.3,979 891.3,978.9 894.3,978.8 897.3,978.6 900.3,978.5 903.4,978.3 906.4,978 909.4,977.8 912.4,977.4 915.4,977.1 918.4,976.6 921.4,976.1 924.5,975.5 927.5,974.8 930.5,974.1 933.5,973.2 936.5,972.2 939.5,971.1 942.6,969.9 945.6,968.6 948.6,967.1 951.6,965.5 954.6,963.7 957.6,961.8 960.6,959.7 963.7,957.6 966.7,955.3 969.7,952.9 972.7,950.4 975.7,947.8 978.7,945.1 981.7,942.4 984.8,939.7 987.8,937.1 990.8,934.5 993.8,931.9 996.8,929.5 999.8,927.2 1002.8,925.2 1005.9,923.4 1008.9,921.8 1011.9,920.6 1014.9,919.7 1017.9,919.1 1020.9,918.9 1023.9,919.1 1027,919.7 1030,920.6 1033,921.8 1036,923.4 1039,925.2 1042,927.3 1045.1,929.6 1048.1,932 1051.1,934.6 1054.1,937.3 1057.1,940 1060.1,942.8 1063.1,945.5 1066.2,948.2 1069.2,950.9 1072.2,953.4 1075.2,955.9 1078.2,958.3 1081.2,960.5 1084.2,962.6 1087.3,964.6 1090.3,966.5 1093.3,968.2 1096.3,969.7 1099.3,971.2 1102.3,972.4 1105.3,973.6 1108.4,974.7 1111.4,975.6 1114.4,976.4 1117.4,977.2 1120.4,977.8 1123.4,978.4 1126.4,978.9 1129.5,979.4 1132.5,979.8 1135.5,980.1 1138.5,980.4 1141.5,980.7 1144.5,980.9 1147.6,981.1 1150.6,981.3 1153.6,981.4 1156.6,981.6 1159.6,981.7 1162.6,981.8 1165.6,981.9 1168.7,982 1171.7,982.1 1174.7,982.2 1177.7,982.2 1180.7,982.3 1183.7,982.4 1186.7,982.5 1189.8,982.5 1192.8,982.6 1195.8,982.6 1198.8,982.7 1201.8,982.8 1204.8,982.8 1207.8,982.9 1210.9,982.9 1213.9,983 1216.9,983 1219.9,983.1 1222.9,983.1 1225.9,983.2 1228.9,983.2 1232,983.2 1235,983.3 1238,983.3 1241,983.4 1244,983.4 1247,983.5 1250.1,983.5 1253.1,983.5 1256.1,983.6 1259.1,983.6 1262.1,983.7 1265.1,983.7 1268.1,983.7 1271.2,983.8 1274.2,983.8 1277.2,983.9 1280.2,983.9 1283.2,983.9 1286.2,984 1289.2,984 1292.3,984 1295.3,984.1 1298.3,984.1 1301.3,984.1 1301.3,984.5 767.7,979.6Z" fill="url(#eGray)"/>
<defs><path id="dp24" d="M768.7,977.7 770.7,976.9 772.7,978.9 774.7,980 776.7,978.3 778.7,978.9 780.7,978.9 782.7,978.6 784.7,978.6 786.7,978.8 788.7,977.9 790.7,977.1 792.7,977 794.7,978.5 796.7,978.4 798.7,978.1 800.7,976.6 802.7,978 804.7,978.1 806.7,977.5 808.7,977.6 810.7,979.5 812.7,979 814.7,978.7 816.7,978.3 818.7,977.9 820.7,977.9 822.7,978.6 824.7,977.6 826.7,978 828.7,979.2 830.7,977.3 832.7,977.6 834.7,979.3 836.7,978.4 838.7,978.3 840.7,977.6 842.7,977.2 844.7,978.9 846.7,976.4 848.7,978.4 850.7,977.8 852.7,978 854.7,976.7 856.7,978.7 858.7,978.5 860.7,978.3 862.7,978.3 864.7,977.1 866.7,978.1 868.7,978.3 870.7,977.9 872.7,975.9 874.7,977.8 876.7,977.9 878.7,977.1 880.7,977.8 882.7,978.6 884.7,977.6 886.7,978.5 888.7,977.2 890.7,977 892.7,977.6 894.7,976.7 896.7,976.1 898.7,977.3 900.7,977 902.7,977.2 904.7,976.1 906.7,976.2 908.7,976.6 910.7,975.8 912.7,975.7 914.7,975.8 916.7,974.8 918.7,975.2 920.7,973.7 922.7,974.6 924.7,975.6 926.7,973.8 928.7,972.7 930.7,971.3 932.7,971 934.7,971 936.7,970 938.7,970.1 940.7,969.1 942.7,968.6 944.7,967.1 946.7,966.8 948.7,966.1 950.7,963.6 952.7,962.9 954.7,961.7 956.7,960.5 958.7,959.9 960.7,957.6 962.7,955.8 964.7,954 966.7,952.3 968.7,951.6 970.7,950.6 972.7,948.3 974.7,946 976.7,944.7 978.7,942.4 980.7,941.8 982.7,939.4 984.7,938.5 986.7,936.2 988.7,934.3 990.7,931.5 992.7,930.7 994.7,928.4 996.7,926.7 998.7,925.6 1000.7,925 1002.7,922.8 1004.7,922.5 1006.7,920.4 1008.7,917.9 1010.7,917.5 1012.7,918.2 1014.7,916.6 1016.7,915.7 1018.7,914.9 1020.7,914.9 1022.7,914.9 1024.7,914.3 1026.7,914.6 1028.7,915 1030.7,914.4 1032.7,915.3 1034.7,915.5 1036.7,916.1 1038.7,916.5 1040.7,917.3 1042.7,917.8 1044.7,920.1 1046.7,919.5 1048.7,920.5 1050.7,920.3 1052.7,921.5 1054.7,922.1 1056.7,923.2 1058.7,923.6 1060.7,922.4 1062.7,923.9 1064.7,922.8 1066.7,923.4 1068.7,922.3 1070.7,922.5 1072.7,921.5 1074.7,920.1 1076.7,920.7 1078.7,919.4 1080.7,918.7 1082.7,918.1 1084.7,917.4 1086.7,917.7 1088.7,914.6 1090.7,914 1092.7,912.9 1094.7,913.6 1096.7,912 1098.7,911.3 1100.7,911.6 1102.7,911.2 1104.7,911.5 1106.7,910.4 1108.7,911.9 1110.7,912.9 1112.7,913.1 1114.7,915.4 1116.7,915.9 1118.7,917.1 1120.7,919.1 1122.7,921.6 1124.7,924.1 1126.7,925.3 1128.7,928.3 1130.7,930.1 1132.7,932.2 1134.7,934.6 1136.7,938.2 1138.7,939.9 1140.7,942.8 1142.7,946.2 1144.7,948.1 1146.7,949.6 1148.7,951.9 1150.7,954.4 1152.7,954.9 1154.7,958.7 1156.7,959.7 1158.7,962.4 1160.7,963.1 1162.7,964.9 1164.7,967.1 1166.7,968.3 1168.7,970.3 1170.7,970 1172.7,971 1174.7,973.3 1176.7,973.5 1178.7,973.3 1180.7,974.4 1182.7,975.6 1184.7,975.6 1186.7,975.6 1188.7,977 1190.7,977.7 1192.7,978.6 1194.7,978.8 1196.7,978.9 1198.7,978.2 1200.7,978.2 1202.7,978.6 1204.7,979.8 1206.7,980.1 1208.7,978.6 1210.7,980.3 1212.7,980.6 1214.7,981.1 1216.7,980.8 1218.7,981 1220.7,980.7 1222.7,980.4 1224.7,980.6 1226.7,980.7 1228.7,980.1 1230.7,980.9 1232.7,981.6 1234.7,980.9 1236.7,981.9 1238.7,980.6 1240.7,981.5 1242.7,980.8 1244.7,982.1 1246.7,981.9 1248.7,982.1 1250.7,982.1 1252.7,981.9 1254.7,982.4 1256.7,981.8 1258.7,980.2 1260.7,981.9 1262.7,982.2 1264.7,980.4 1266.7,982.7 1268.7,981.9 1270.7,982.7 1272.7,981.9 1274.7,982.2 1276.7,981.6 1278.7,982 1280.7,981.2 1282.7,982.4 1284.7,982.1 1286.7,981.9 1288.7,981.9 1290.7,981.8 1292.7,982.4 1294.7,982.4 1296.7,982.3 1298.7,983.4"/></defs>
<use href="#dp24" fill="none" stroke="#c6c6c6" stroke-width="5.0" stroke-linecap="round" stroke-dasharray="0 3.4"/>
<use href="#dp24" fill="none" stroke="#f2f2f2" stroke-width="2.8" stroke-linecap="round" stroke-dasharray="0 3.4"/>
<path d="M767.7,979.6 1301.3,984.5" fill="none" stroke="#333" stroke-width="1.3" stroke-linejoin="round" />
<path d="M818.9,979.8 822,979.8 825,979.9 828,979.9 831,979.9 834,979.9 837,980 840.1,980 843.1,980 846.1,980 849.1,980 852.1,980.1 855.1,980.1 858.1,980.1 861.2,980.1 864.2,980.1 867.2,980.2 870.2,980.2 873.2,980.2 876.2,980.2 879.2,980.2 882.3,980.3 885.3,980.3 888.3,980.3 891.3,980.3 894.3,980.3 897.3,980.3 900.3,980.4 903.4,980.4 906.4,980.4 909.4,980.4 912.4,980.4 915.4,980.4 918.4,980.4 921.4,980.4 924.5,980.4 927.5,980.5 930.5,980.5 933.5,980.5 936.5,980.5 939.5,980.5 942.6,980.5 945.6,980.5 948.6,980.5 951.6,980.5 954.6,980.5 957.6,980.5 960.6,980.5 963.7,980.5 966.7,980.5 969.7,980.4 972.7,980.4 975.7,980.4 978.7,980.4 981.7,980.4 984.8,980.3 987.8,980.3 990.8,980.2 993.8,980.2 996.8,980.1 999.8,980.1 1002.8,980 1005.9,979.8 1008.9,979.7 1011.9,979.5 1014.9,979.3 1017.9,979.1 1020.9,978.8 1023.9,978.4 1027,977.9 1030,977.4 1033,976.7 1036,975.9 1039,975 1042,973.9 1045.1,972.6 1048.1,971.2 1051.1,969.5 1054.1,967.6 1057.1,965.5 1060.1,963.1 1063.1,960.6 1066.2,957.8 1069.2,954.8 1072.2,951.6 1075.2,948.3 1078.2,944.9 1081.2,941.5 1084.2,938.1 1087.3,934.7 1090.3,931.6 1093.3,928.7 1096.3,926.1 1099.3,924 1102.3,922.3 1105.3,921.2 1108.4,920.8 1111.4,920.9 1114.4,921.7 1117.4,923.1 1120.4,925.1 1123.4,927.5 1126.4,930.2 1129.5,933.3 1132.5,936.6 1135.5,940.1 1138.5,943.5 1141.5,947 1144.5,950.4 1147.6,953.7 1150.6,956.9 1153.6,959.8 1156.6,962.6 1159.6,965.1 1162.6,967.4 1165.6,969.5 1168.7,971.4 1171.7,973 1174.7,974.4 1177.7,975.7 1180.7,976.7 1183.7,977.7 1186.7,978.4 1189.8,979.1 1192.8,979.7 1195.8,980.2 1198.8,980.6 1201.8,980.9 1204.8,981.2 1207.8,981.4 1210.9,981.6 1213.9,981.8 1216.9,982 1219.9,982.1 1222.9,982.2 1225.9,982.4 1228.9,982.5 1232,982.6 1235,982.7 1238,982.7 1241,982.8 1244,982.9 1247,983 1250.1,983 1253.1,983.1 1256.1,983.2 1259.1,983.2 1262.1,983.3 1265.1,983.3 1268.1,983.4 1271.2,983.5 1274.2,983.5 1277.2,983.6 1280.2,983.6 1283.2,983.7 1286.2,983.7 1289.2,983.8 1292.3,983.8 1295.3,983.9 1298.3,983.9 1301.3,984" fill="none" stroke="#444" stroke-width="1.0" stroke-linejoin="round" />
<path d="M767.7,979 770.7,979 773.7,979 776.7,979 779.8,979 782.8,979.1 785.8,979.1 788.8,979.1 791.8,979.1 794.8,979.1 797.8,979.1 800.9,979.1 803.9,979.1 806.9,979.1 809.9,979.1 812.9,979.1 815.9,979.1 818.9,979.2 822,979.2 825,979.2 828,979.2 831,979.2 834,979.2 837,979.2 840.1,979.1 843.1,979.1 846.1,979.1 849.1,979.1 852.1,979.1 855.1,979.1 858.1,979.1 861.2,979.1 864.2,979 867.2,979 870.2,979 873.2,978.9 876.2,978.9 879.2,978.8 882.3,978.8 885.3,978.7 888.3,978.6 891.3,978.5 894.3,978.3 897.3,978.2 900.3,978 903.4,977.8 906.4,977.5 909.4,977.2 912.4,976.9 915.4,976.5 918.4,976.1 921.4,975.5 924.5,974.9 927.5,974.2 930.5,973.4 933.5,972.6 936.5,971.6 939.5,970.4 942.6,969.2 945.6,967.8 948.6,966.3 951.6,964.6 954.6,962.9 957.6,960.9 960.6,958.8 963.7,956.6 966.7,954.3 969.7,951.9 972.7,949.3 975.7,946.7 978.7,944 981.7,941.2 984.8,938.5 987.8,935.7 990.8,933.1 993.8,930.4 996.8,927.9 999.8,925.6 1002.8,923.4 1005.9,921.4 1008.9,919.7 1011.9,918.3 1014.9,917.1 1017.9,916.3 1020.9,915.8 1023.9,915.5 1027,915.6 1030,916 1033,916.5 1036,917.3 1039,918.1 1042,919.1 1045.1,920.1 1048.1,921 1051.1,921.9 1054.1,922.7 1057.1,923.2 1060.1,923.6 1063.1,923.7 1066.2,923.6 1069.2,923.3 1072.2,922.6 1075.2,921.8 1078.2,920.7 1081.2,919.5 1084.2,918.2 1087.3,916.8 1090.3,915.5 1093.3,914.3 1096.3,913.2 1099.3,912.5 1102.3,912.1 1105.3,912.1 1108.4,912.7 1111.4,913.8 1114.4,915.4 1117.4,917.5 1120.4,920.1 1123.4,923 1126.4,926.3 1129.5,929.8 1132.5,933.4 1135.5,937.2 1138.5,940.9 1141.5,944.6 1144.5,948.3 1147.6,951.7 1150.6,955 1153.6,958.1 1156.6,961 1159.6,963.6 1162.6,966 1165.6,968.2 1168.7,970.1 1171.7,971.8 1174.7,973.3 1177.7,974.6 1180.7,975.7 1183.7,976.6 1186.7,977.5 1189.8,978.2 1192.8,978.8 1195.8,979.3 1198.8,979.7 1201.8,980.1 1204.8,980.4 1207.8,980.6 1210.9,980.9 1213.9,981.1 1216.9,981.3 1219.9,981.4 1222.9,981.6 1225.9,981.7 1228.9,981.8 1232,981.9 1235,982 1238,982.1 1241,982.2 1244,982.3 1247,982.4 1250.1,982.5 1253.1,982.6 1256.1,982.7 1259.1,982.7 1262.1,982.8 1265.1,982.9 1268.1,982.9 1271.2,983 1274.2,983.1 1277.2,983.1 1280.2,983.2 1283.2,983.3 1286.2,983.3 1289.2,983.4 1292.3,983.4 1295.3,983.5 1298.3,983.5 1301.3,983.6" fill="none" stroke="#3a3a3a" stroke-width="1.35" stroke-linejoin="round" />
<text x="778.8" y="967.2" font-size="25.5" text-anchor="start" fill="#000" >120 s</text>
<path d="M767.7,1053.9 770.7,1053.9 773.7,1053.9 776.7,1054 779.8,1054 782.8,1054 785.8,1054 788.8,1054 791.8,1054 794.8,1054 797.8,1054 800.9,1054 803.9,1054 806.9,1054 809.9,1054 812.9,1054 815.9,1054 818.9,1054 822,1054 825,1054 828,1054 831,1054 834,1054 837,1054 840.1,1054 843.1,1053.9 846.1,1053.9 849.1,1053.9 852.1,1053.9 855.1,1053.9 858.1,1053.9 861.2,1053.8 864.2,1053.8 867.2,1053.8 870.2,1053.7 873.2,1053.7 876.2,1053.6 879.2,1053.6 882.3,1053.5 885.3,1053.4 888.3,1053.3 891.3,1053.1 894.3,1053 897.3,1052.8 900.3,1052.5 903.4,1052.2 906.4,1051.9 909.4,1051.5 912.4,1051 915.4,1050.4 918.4,1049.7 921.4,1049 924.5,1048.1 927.5,1047 930.5,1045.8 933.5,1044.5 936.5,1043 939.5,1041.3 942.6,1039.4 945.6,1037.4 948.6,1035.1 951.6,1032.7 954.6,1030.1 957.6,1027.3 960.6,1024.4 963.7,1021.4 966.7,1018.3 969.7,1015.1 972.7,1012 975.7,1008.8 978.7,1005.7 981.7,1002.8 984.8,1000 987.8,997.5 990.8,995.3 993.8,993.4 996.8,991.9 999.8,990.8 1002.8,990.2 1005.9,990.1 1008.9,990.5 1011.9,991.3 1014.9,992.6 1017.9,994.4 1020.9,996.4 1023.9,998.9 1027,1001.5 1030,1004.4 1033,1007.5 1036,1010.6 1039,1013.8 1042,1017 1045.1,1020.2 1048.1,1023.3 1051.1,1026.3 1054.1,1029.2 1057.1,1031.9 1060.1,1034.4 1063.1,1036.8 1066.2,1039 1069.2,1041 1072.2,1042.8 1075.2,1044.5 1078.2,1045.9 1081.2,1047.2 1084.2,1048.4 1087.3,1049.4 1090.3,1050.3 1093.3,1051 1096.3,1051.7 1099.3,1052.3 1102.3,1052.7 1105.3,1053.1 1108.4,1053.5 1111.4,1053.8 1114.4,1054 1117.4,1054.3 1120.4,1054.5 1123.4,1054.6 1126.4,1054.8 1129.5,1054.9 1132.5,1055 1135.5,1055.1 1138.5,1055.2 1141.5,1055.2 1144.5,1055.3 1147.6,1055.4 1150.6,1055.4 1153.6,1055.5 1156.6,1055.5 1159.6,1055.6 1162.6,1055.6 1165.6,1055.7 1168.7,1055.7 1171.7,1055.8 1174.7,1055.8 1177.7,1055.8 1180.7,1055.9 1183.7,1055.9 1186.7,1056 1189.8,1056 1192.8,1056 1195.8,1056.1 1198.8,1056.1 1201.8,1056.1 1204.8,1056.2 1207.8,1056.2 1210.9,1056.2 1213.9,1056.3 1216.9,1056.3 1219.9,1056.3 1222.9,1056.3 1225.9,1056.4 1228.9,1056.4 1232,1056.4 1235,1056.4 1238,1056.5 1241,1056.5 1244,1056.5 1247,1056.5 1250.1,1056.6 1253.1,1056.6 1256.1,1056.6 1259.1,1056.6 1262.1,1056.7 1265.1,1056.7 1268.1,1056.7 1271.2,1056.7 1274.2,1056.8 1277.2,1056.8 1280.2,1056.8 1283.2,1056.8 1286.2,1056.9 1289.2,1056.9 1292.3,1056.9 1295.3,1056.9 1298.3,1056.9 1301.3,1057 1301.3,1057.2 767.7,1054.3Z" fill="url(#eGray)"/>
<defs><path id="dp25" d="M768.7,1051.8 770.7,1053.7 772.7,1053 774.7,1052.4 776.7,1053.4 778.7,1052.2 780.7,1054.2 782.7,1053.2 784.7,1052.8 786.7,1053.3 788.7,1052.1 790.7,1053.2 792.7,1053.4 794.7,1053.4 796.7,1053.1 798.7,1052.2 800.7,1053 802.7,1052 804.7,1053 806.7,1052.4 808.7,1052.4 810.7,1053.3 812.7,1054.1 814.7,1053.8 816.7,1052.6 818.7,1052.6 820.7,1052.2 822.7,1052.5 824.7,1052.9 826.7,1053.1 828.7,1052.5 830.7,1052.8 832.7,1052.1 834.7,1052.4 836.7,1053.6 838.7,1053.6 840.7,1053 842.7,1052.8 844.7,1052.8 846.7,1052.3 848.7,1052 850.7,1053 852.7,1052 854.7,1052.9 856.7,1051.9 858.7,1052.5 860.7,1053.6 862.7,1052.9 864.7,1052.4 866.7,1052.6 868.7,1051.5 870.7,1053 872.7,1051.9 874.7,1051.8 876.7,1051.8 878.7,1052.3 880.7,1051.7 882.7,1051.7 884.7,1052.3 886.7,1052.1 888.7,1052.6 890.7,1052.3 892.7,1052.4 894.7,1050.8 896.7,1051.4 898.7,1051.5 900.7,1051.6 902.7,1050.6 904.7,1051 906.7,1051 908.7,1049.5 910.7,1049.2 912.7,1048.9 914.7,1049.1 916.7,1047.9 918.7,1048.1 920.7,1047.3 922.7,1046.3 924.7,1045.2 926.7,1047 928.7,1045.6 930.7,1044.6 932.7,1042.1 934.7,1042.6 936.7,1040.8 938.7,1039.1 940.7,1038.3 942.7,1037 944.7,1036.9 946.7,1034.5 948.7,1032.8 950.7,1031.5 952.7,1029.7 954.7,1026.9 956.7,1026.5 958.7,1023.9 960.7,1022.4 962.7,1020.7 964.7,1017.4 966.7,1016.8 968.7,1013 970.7,1010.9 972.7,1007.5 974.7,1007.4 976.7,1004.3 978.7,1001.9 980.7,999.8 982.7,998.4 984.7,996.8 986.7,994.7 988.7,992.4 990.7,990.5 992.7,988.3 994.7,987.7 996.7,987.3 998.7,985.8 1000.7,986.4 1002.7,985.3 1004.7,984.2 1006.7,984.5 1008.7,984.4 1010.7,984 1012.7,984.8 1014.7,984.7 1016.7,986.2 1018.7,988.1 1020.7,988.3 1022.7,990.9 1024.7,991.2 1026.7,993.2 1028.7,994.7 1030.7,995.7 1032.7,997.1 1034.7,999.9 1036.7,1001.9 1038.7,1003.2 1040.7,1005 1042.7,1005.2 1044.7,1008.3 1046.7,1011 1048.7,1012.9 1050.7,1014.2 1052.7,1015.1 1054.7,1017.7 1056.7,1018.5 1058.7,1020.6 1060.7,1022.4 1062.7,1022.3 1064.7,1023.9 1066.7,1025.4 1068.7,1026.6 1070.7,1027.5 1072.7,1028.9 1074.7,1029.8 1076.7,1029.8 1078.7,1030.8 1080.7,1032.2 1082.7,1031.6 1084.7,1032.5 1086.7,1032.2 1088.7,1033.4 1090.7,1035.6 1092.7,1036.2 1094.7,1035.2 1096.7,1036.9 1098.7,1036.5 1100.7,1036.8 1102.7,1036.9 1104.7,1038 1106.7,1036.8 1108.7,1038.8 1110.7,1038.4 1112.7,1038.6 1114.7,1037.9 1116.7,1040.7 1118.7,1040.1 1120.7,1040.1 1122.7,1040.3 1124.7,1041.1 1126.7,1040.6 1128.7,1041.4 1130.7,1042 1132.7,1041.5 1134.7,1041.8 1136.7,1043.2 1138.7,1042.3 1140.7,1042.7 1142.7,1043.9 1144.7,1045.1 1146.7,1045.3 1148.7,1044 1150.7,1046.1 1152.7,1044.4 1154.7,1045.3 1156.7,1046.1 1158.7,1046.8 1160.7,1047 1162.7,1047.2 1164.7,1046.1 1166.7,1046.5 1168.7,1047.8 1170.7,1048.4 1172.7,1048.4 1174.7,1048.3 1176.7,1049.1 1178.7,1049.8 1180.7,1047.7 1182.7,1050.5 1184.7,1051 1186.7,1050.6 1188.7,1050.1 1190.7,1050.7 1192.7,1050.9 1194.7,1052.4 1196.7,1051.5 1198.7,1052 1200.7,1052.3 1202.7,1052 1204.7,1051.7 1206.7,1051.3 1208.7,1052 1210.7,1053.1 1212.7,1053.2 1214.7,1051.7 1216.7,1052.8 1218.7,1053.2 1220.7,1053.8 1222.7,1053.2 1224.7,1053.3 1226.7,1053.6 1228.7,1054 1230.7,1053.8 1232.7,1053.5 1234.7,1053.9 1236.7,1054.2 1238.7,1053.8 1240.7,1054.2 1242.7,1054.2 1244.7,1053.5 1246.7,1055.6 1248.7,1054.5 1250.7,1055.1 1252.7,1055.9 1254.7,1055 1256.7,1054.3 1258.7,1054.8 1260.7,1054.4 1262.7,1054.7 1264.7,1055.4 1266.7,1054.6 1268.7,1055.4 1270.7,1055.3 1272.7,1056.1 1274.7,1055.5 1276.7,1055.8 1278.7,1055.6 1280.7,1055 1282.7,1055.2 1284.7,1054.8 1286.7,1054.7 1288.7,1056.7 1290.7,1054.8 1292.7,1056.2 1294.7,1055.4 1296.7,1054.9 1298.7,1055.6"/></defs>
<use href="#dp25" fill="none" stroke="#c6c6c6" stroke-width="5.0" stroke-linecap="round" stroke-dasharray="0 3.4"/>
<use href="#dp25" fill="none" stroke="#f2f2f2" stroke-width="2.8" stroke-linecap="round" stroke-dasharray="0 3.4"/>
<path d="M767.7,1054.3 1301.3,1057.2" fill="none" stroke="#333" stroke-width="1.3" stroke-linejoin="round" />
<path d="M834,1054.4 837,1054.4 840.1,1054.4 843.1,1054.4 846.1,1054.5 849.1,1054.5 852.1,1054.5 855.1,1054.5 858.1,1054.5 861.2,1054.5 864.2,1054.5 867.2,1054.5 870.2,1054.5 873.2,1054.5 876.2,1054.5 879.2,1054.5 882.3,1054.5 885.3,1054.6 888.3,1054.6 891.3,1054.6 894.3,1054.6 897.3,1054.6 900.3,1054.6 903.4,1054.6 906.4,1054.5 909.4,1054.5 912.4,1054.5 915.4,1054.5 918.4,1054.5 921.4,1054.5 924.5,1054.5 927.5,1054.4 930.5,1054.4 933.5,1054.4 936.5,1054.3 939.5,1054.3 942.6,1054.2 945.6,1054.2 948.6,1054.1 951.6,1054 954.6,1054 957.6,1053.9 960.6,1053.8 963.7,1053.6 966.7,1053.5 969.7,1053.4 972.7,1053.2 975.7,1053.1 978.7,1052.9 981.7,1052.7 984.8,1052.5 987.8,1052.3 990.8,1052.1 993.8,1051.8 996.8,1051.6 999.8,1051.3 1002.8,1051 1005.9,1050.7 1008.9,1050.4 1011.9,1050 1014.9,1049.7 1017.9,1049.3 1020.9,1048.9 1023.9,1048.5 1027,1048.1 1030,1047.7 1033,1047.3 1036,1046.9 1039,1046.5 1042,1046 1045.1,1045.6 1048.1,1045.2 1051.1,1044.8 1054.1,1044.4 1057.1,1044 1060.1,1043.6 1063.1,1043.2 1066.2,1042.8 1069.2,1042.5 1072.2,1042.2 1075.2,1041.9 1078.2,1041.7 1081.2,1041.5 1084.2,1041.3 1087.3,1041.2 1090.3,1041.1 1093.3,1041.1 1096.3,1041.1 1099.3,1041.1 1102.3,1041.2 1105.3,1041.3 1108.4,1041.5 1111.4,1041.7 1114.4,1042 1117.4,1042.3 1120.4,1042.6 1123.4,1042.9 1126.4,1043.3 1129.5,1043.7 1132.5,1044.1 1135.5,1044.5 1138.5,1044.9 1141.5,1045.4 1144.5,1045.8 1147.6,1046.3 1150.6,1046.8 1153.6,1047.2 1156.6,1047.7 1159.6,1048.1 1162.6,1048.6 1165.6,1049 1168.7,1049.4 1171.7,1049.9 1174.7,1050.3 1177.7,1050.7 1180.7,1051.1 1183.7,1051.4 1186.7,1051.8 1189.8,1052.1 1192.8,1052.4 1195.8,1052.7 1198.8,1053 1201.8,1053.3 1204.8,1053.6 1207.8,1053.8 1210.9,1054 1213.9,1054.2 1216.9,1054.4 1219.9,1054.6 1222.9,1054.8 1225.9,1055 1228.9,1055.1 1232,1055.3 1235,1055.4 1238,1055.5 1241,1055.6 1244,1055.7 1247,1055.8 1250.1,1055.9 1253.1,1056 1256.1,1056.1 1259.1,1056.2 1262.1,1056.2 1265.1,1056.3 1268.1,1056.3 1271.2,1056.4 1274.2,1056.4 1277.2,1056.5 1280.2,1056.5 1283.2,1056.6 1286.2,1056.6 1289.2,1056.7 1292.3,1056.7 1295.3,1056.7 1298.3,1056.8 1301.3,1056.8" fill="none" stroke="#444" stroke-width="1.0" stroke-linejoin="round" />
<path d="M767.7,1053.8 770.7,1053.8 773.7,1053.8 776.7,1053.8 779.8,1053.8 782.8,1053.8 785.8,1053.8 788.8,1053.8 791.8,1053.8 794.8,1053.8 797.8,1053.8 800.9,1053.8 803.9,1053.8 806.9,1053.8 809.9,1053.8 812.9,1053.8 815.9,1053.8 818.9,1053.8 822,1053.8 825,1053.8 828,1053.7 831,1053.7 834,1053.7 837,1053.7 840.1,1053.7 843.1,1053.7 846.1,1053.7 849.1,1053.6 852.1,1053.6 855.1,1053.6 858.1,1053.6 861.2,1053.5 864.2,1053.5 867.2,1053.5 870.2,1053.4 873.2,1053.3 876.2,1053.3 879.2,1053.2 882.3,1053.1 885.3,1053 888.3,1052.9 891.3,1052.7 894.3,1052.5 897.3,1052.3 900.3,1052.1 903.4,1051.7 906.4,1051.4 909.4,1050.9 912.4,1050.4 915.4,1049.8 918.4,1049.1 921.4,1048.3 924.5,1047.4 927.5,1046.3 930.5,1045.1 933.5,1043.7 936.5,1042.1 939.5,1040.3 942.6,1038.4 945.6,1036.3 948.6,1033.9 951.6,1031.4 954.6,1028.7 957.6,1025.8 960.6,1022.8 963.7,1019.7 966.7,1016.4 969.7,1013.1 972.7,1009.8 975.7,1006.5 978.7,1003.2 981.7,1000.1 984.8,997.1 987.8,994.3 990.8,991.8 993.8,989.7 996.8,987.9 999.8,986.6 1002.8,985.6 1005.9,985.2 1008.9,985.2 1011.9,985.7 1014.9,986.7 1017.9,988 1020.9,989.7 1023.9,991.7 1027,994 1030,996.4 1033,999 1036,1001.8 1039,1004.5 1042,1007.3 1045.1,1010 1048.1,1012.7 1051.1,1015.2 1054.1,1017.7 1057.1,1020 1060.1,1022.1 1063.1,1024.1 1066.2,1025.9 1069.2,1027.6 1072.2,1029.1 1075.2,1030.4 1078.2,1031.7 1081.2,1032.7 1084.2,1033.7 1087.3,1034.6 1090.3,1035.3 1093.3,1036 1096.3,1036.7 1099.3,1037.3 1102.3,1037.8 1105.3,1038.4 1108.4,1038.9 1111.4,1039.4 1114.4,1039.8 1117.4,1040.3 1120.4,1040.8 1123.4,1041.3 1126.4,1041.8 1129.5,1042.3 1132.5,1042.8 1135.5,1043.3 1138.5,1043.8 1141.5,1044.3 1144.5,1044.8 1147.6,1045.3 1150.6,1045.8 1153.6,1046.3 1156.6,1046.8 1159.6,1047.3 1162.6,1047.8 1165.6,1048.2 1168.7,1048.7 1171.7,1049.1 1174.7,1049.6 1177.7,1050 1180.7,1050.4 1183.7,1050.8 1186.7,1051.2 1189.8,1051.5 1192.8,1051.9 1195.8,1052.2 1198.8,1052.5 1201.8,1052.8 1204.8,1053 1207.8,1053.3 1210.9,1053.5 1213.9,1053.8 1216.9,1054 1219.9,1054.2 1222.9,1054.4 1225.9,1054.6 1228.9,1054.7 1232,1054.9 1235,1055 1238,1055.1 1241,1055.3 1244,1055.4 1247,1055.5 1250.1,1055.6 1253.1,1055.7 1256.1,1055.8 1259.1,1055.8 1262.1,1055.9 1265.1,1056 1268.1,1056 1271.2,1056.1 1274.2,1056.2 1277.2,1056.2 1280.2,1056.3 1283.2,1056.3 1286.2,1056.4 1289.2,1056.4 1292.3,1056.4 1295.3,1056.5 1298.3,1056.5 1301.3,1056.6" fill="none" stroke="#3a3a3a" stroke-width="1.35" stroke-linejoin="round" />
<text x="778.8" y="1045.7" font-size="25.5" text-anchor="start" fill="#000" >0 s</text>
<rect x="768.2" y="626.6" width="533.4" height="434.4" fill="none" stroke="#000" stroke-width="1.8"/>
<line x1="767.7" y1="1061" x2="767.7" y2="1068" stroke="#000" stroke-width="1.8" />
<text x="767.7" y="1097.5" font-size="30" text-anchor="middle" fill="#000" >536</text>
<line x1="874.42" y1="1061" x2="874.42" y2="1068" stroke="#000" stroke-width="1.8" />
<text x="874.42" y="1097.5" font-size="30" text-anchor="middle" fill="#000" >534</text>
<line x1="981.14" y1="1061" x2="981.14" y2="1068" stroke="#000" stroke-width="1.8" />
<text x="981.14" y="1097.5" font-size="30" text-anchor="middle" fill="#000" >532</text>
<line x1="1087.86" y1="1061" x2="1087.86" y2="1068" stroke="#000" stroke-width="1.8" />
<text x="1087.86" y="1097.5" font-size="30" text-anchor="middle" fill="#000" >530</text>
<line x1="1194.58" y1="1061" x2="1194.58" y2="1068" stroke="#000" stroke-width="1.8" />
<text x="1194.58" y="1097.5" font-size="30" text-anchor="middle" fill="#000" >528</text>
<line x1="1301.3" y1="1061" x2="1301.3" y2="1068" stroke="#000" stroke-width="1.8" />
<text x="1301.3" y="1097.5" font-size="30" text-anchor="middle" fill="#000" >526</text>
<line x1="821.06" y1="1061" x2="821.06" y2="1065.3" stroke="#000" stroke-width="1.8" />
<line x1="927.78" y1="1061" x2="927.78" y2="1065.3" stroke="#000" stroke-width="1.8" />
<line x1="1034.5" y1="1061" x2="1034.5" y2="1065.3" stroke="#000" stroke-width="1.8" />
<line x1="1141.22" y1="1061" x2="1141.22" y2="1065.3" stroke="#000" stroke-width="1.8" />
<line x1="1247.94" y1="1061" x2="1247.94" y2="1065.3" stroke="#000" stroke-width="1.8" />
<line x1="1010.9" y1="626.6" x2="1010.9" y2="1061" stroke="#000" stroke-width="1.6" stroke-dasharray="4.2 3"/>
<line x1="1111.8" y1="626.6" x2="1111.8" y2="1061" stroke="#000" stroke-width="1.6" stroke-dasharray="4.2 3"/>
<text x="773.8" y="654.3" font-size="28.8">O 1<tspan font-style="italic">s</tspan></text>
<text x="881.6" y="659.3" font-size="25.2">OH<tspan font-size="16" dy="-11">-</tspan><tspan dy="11">/CO</tspan><tspan font-size="16" dy="6">3</tspan><tspan font-size="16" dy="-17">2-</tspan></text>
<text x="1192.5" y="655.3" font-size="25.5" text-anchor="start" fill="#000" >M-O</text>
<line x1="1003.1" y1="717.5" x2="982.6" y2="666.9" stroke="#000" stroke-width="1.6" marker-end="url(#ah)"/>
<line x1="1125.8" y1="699" x2="1178.7" y2="650.6" stroke="#000" stroke-width="1.6" marker-end="url(#ah)"/>
<text x="1035.4" y="1141.6" font-size="33.8" text-anchor="middle" fill="#000" >Binding Energy (eV)</text>
<text transform="translate(748.0,843.4) rotate(-90)" font-size="35" text-anchor="middle">Intensity (arb.u.)</text>
<text x="681.7" y="630.1" font-size="42" text-anchor="start" fill="#000" >e</text>
<path d="M1790.9,716.6 1793.9,716.8 1796.9,716.9 1799.9,717.1 1802.9,717.3 1806,717.4 1809,717.6 1812,717.8 1815,717.9 1818,718.1 1821,718.3 1824,718.4 1827,718.6 1830,718.8 1833.1,718.9 1836.1,719.1 1839.1,719.3 1842.1,719.4 1845.1,719.6 1848.1,719.7 1851.1,719.9 1854.1,720 1857.1,720.1 1860.2,720.3 1863.2,720.4 1866.2,720.4 1869.2,720.5 1872.2,720.4 1875.2,720.1 1878.2,719.5 1881.2,718.2 1884.3,715.9 1887.3,712.1 1890.3,706.7 1893.3,699.6 1896.3,691.5 1899.3,683.7 1902.3,677.9 1905.3,675.8 1908.3,678.3 1911.4,684.6 1914.4,692.9 1917.4,701.3 1920.4,708.8 1923.4,714.6 1926.4,718.8 1929.4,721.5 1932.4,723.1 1935.4,724.1 1938.5,724.8 1941.5,725.3 1944.5,725.6 1947.5,726 1950.5,726.2 1953.5,726.5 1956.5,726.8 1959.5,727 1962.6,727.3 1965.6,727.5 1968.6,727.8 1971.6,728 1974.6,728.2 1974.6,728.5 1790.9,716.7Z" fill="url(#fGrn)"/>
<path d="M1540.9,705.9 1543.9,706 1547,706.1 1550,706.1 1553,706.2 1556,706.3 1559,706.4 1562,706.5 1565,706.6 1568,706.6 1571,706.7 1574.1,706.8 1577.1,706.9 1580.1,706.9 1583.1,707 1586.1,707.1 1589.1,707.1 1592.1,707.2 1595.1,707.2 1598.2,707.2 1601.2,707.2 1604.2,707 1607.2,706.7 1610.2,706.1 1613.2,705 1616.2,703.4 1619.2,701.1 1622.2,698.2 1625.3,694.6 1628.3,690.8 1631.3,687.3 1634.3,684.6 1637.3,683.3 1640.3,684 1643.3,686.3 1646.3,689.7 1649.3,693.7 1652.4,697.7 1655.4,701.2 1658.4,704 1661.4,706.2 1664.4,707.7 1667.4,708.7 1670.4,709.4 1673.4,709.9 1676.5,710.2 1679.5,710.5 1682.5,710.7 1685.5,710.9 1688.5,711.1 1691.5,711.3 1694.5,711.4 1697.5,711.6 1700.5,711.8 1703.6,711.9 1706.6,712.1 1709.6,712.2 1712.6,712.4 1715.6,712.6 1718.6,712.7 1721.6,712.9 1724.6,713 1727.7,713.2 1730.7,713.3 1733.7,713.5 1733.7,713.6 1540.9,706Z" fill="url(#fGrn)"/>
<defs><path id="dp31" d="M1442.5,700.8 1444.5,700 1446.5,698.1 1448.5,700.8 1450.5,699.7 1452.5,699.4 1454.5,698.9 1456.5,700.6 1458.5,699.3 1460.5,699.3 1462.5,696.7 1464.5,696 1466.5,694.7 1468.5,695.3 1470.5,691.2 1472.5,697.2 1474.5,694.5 1476.5,693.9 1478.5,694.6 1480.5,692.3 1482.5,692.8 1484.5,693.1 1486.5,689.2 1488.5,693.6 1490.5,690.8 1492.5,691.1 1494.5,688.2 1496.5,688.4 1498.5,691.4 1500.5,687.6 1502.5,687.4 1504.5,688.2 1506.5,689.2 1508.5,683 1510.5,688.4 1512.5,686.2 1514.5,686.8 1516.5,683.6 1518.5,685.3 1520.5,687 1522.5,684.3 1524.5,683.5 1526.5,683.9 1528.5,683.9 1530.5,686.1 1532.5,685.6 1534.5,685.1 1536.5,687.5 1538.5,685.4 1540.5,685.6 1542.5,692.2 1544.5,688.3 1546.5,692.6 1548.5,690.9 1550.5,691.5 1552.5,693.4 1554.5,692.2 1556.5,692.9 1558.5,694.5 1560.5,694.8 1562.5,697 1564.5,699.1 1566.5,694.7 1568.5,695.2 1570.5,697.6 1572.5,696.9 1574.5,697.4 1576.5,694 1578.5,695.2 1580.5,693.3 1582.5,689.8 1584.5,691.7 1586.5,687.3 1588.5,689 1590.5,686.1 1592.5,685 1594.5,687.1 1596.5,684.8 1598.5,682 1600.5,681 1602.5,678.4 1604.5,681 1606.5,679.8 1608.5,677.5 1610.5,676.4 1612.5,679.2 1614.5,679.2 1616.5,680.9 1618.5,678.1 1620.5,678.1 1622.5,679.7 1624.5,678.5 1626.5,679 1628.5,678.3 1630.5,674.4 1632.5,671.5 1634.5,674.8 1636.5,673.8 1638.5,676.2 1640.5,673.4 1642.5,679.5 1644.5,682.5 1646.5,684.5 1648.5,689.2 1650.5,691.7 1652.5,694.7 1654.5,698.9 1656.5,701.2 1658.5,703 1660.5,703.4 1662.5,704.3 1664.5,706 1666.5,706.4 1668.5,705.4 1670.5,707.5 1672.5,708.6 1674.5,706.9 1676.5,706.1 1678.5,708.8 1680.5,706.9 1682.5,705.9 1684.5,707.9 1686.5,706.1 1688.5,708.9 1690.5,707.6 1692.5,708.5 1694.5,710.1 1696.5,710.1 1698.5,708.2 1700.5,704.9 1702.5,707.4 1704.5,706.2 1706.5,709.1 1708.5,709.9 1710.5,708.3 1712.5,707.8 1714.5,707.3 1716.5,707 1718.5,704.9 1720.5,706.2 1722.5,703.7 1724.5,701.7 1726.5,702.8 1728.5,704.2 1730.5,700.7 1732.5,697.4 1734.5,700.9 1736.5,698.4 1738.5,697.8 1740.5,695.3 1742.5,695.7 1744.5,696.3 1746.5,691.9 1748.5,693 1750.5,691.5 1752.5,688.8 1754.5,689.6 1756.5,689.4 1758.5,686.5 1760.5,688.9 1762.5,684.8 1764.5,687.6 1766.5,686.2 1768.5,685 1770.5,682.9 1772.5,682.2 1774.5,679.4 1776.5,682 1778.5,681.2 1780.5,681.4 1782.5,681.4 1784.5,679.3 1786.5,677.7 1788.5,678.9 1790.5,676.6 1792.5,675.9 1794.5,673.5 1796.5,676.3 1798.5,673.3 1800.5,676.8 1802.5,672.5 1804.5,673.1 1806.5,674.2 1808.5,673.5 1810.5,672.9 1812.5,674.2 1814.5,675.7 1816.5,677.8 1818.5,680.9 1820.5,681.8 1822.5,682.8 1824.5,685.2 1826.5,682.3 1828.5,686.2 1830.5,687.9 1832.5,688.6 1834.5,692.2 1836.5,691.7 1838.5,692.1 1840.5,695.8 1842.5,694 1844.5,694.8 1846.5,692.8 1848.5,695.9 1850.5,693.8 1852.5,694.6 1854.5,694.2 1856.5,690 1858.5,686.2 1860.5,683 1862.5,683.9 1864.5,678.2 1866.5,676.4 1868.5,672.8 1870.5,664.4 1872.5,666.8 1874.5,664.3 1876.5,662 1878.5,659.6 1880.5,658.5 1882.5,655.2 1884.5,656.4 1886.5,653.5 1888.5,653.2 1890.5,653.8 1892.5,649.9 1894.5,646 1896.5,646.1 1898.5,641.7 1900.5,643.2 1902.5,645.3 1904.5,643.5 1906.5,648.6 1908.5,653.1 1910.5,661.6 1912.5,669.6 1914.5,677.5 1916.5,684.6 1918.5,689.4 1920.5,697.3 1922.5,703.4 1924.5,709.7 1926.5,709.1 1928.5,716.4 1930.5,715.7 1932.5,715.9 1934.5,721.7 1936.5,721 1938.5,719.8 1940.5,722.1 1942.5,723.1 1944.5,720.5 1946.5,724.9 1948.5,722 1950.5,724.8 1952.5,723 1954.5,721.8 1956.5,723.4 1958.5,723.8 1960.5,725 1962.5,722.5 1964.5,723.7 1966.5,725.9 1968.5,725 1970.5,725 1972.5,726.6"/></defs>
<use href="#dp31" fill="none" stroke="#cdcdcd" stroke-width="5.2" stroke-linecap="round" stroke-dasharray="0 2.6"/>
<use href="#dp31" fill="none" stroke="#ededed" stroke-width="2.6" stroke-linecap="round" stroke-dasharray="0 2.6"/>
<path d="M1441.5,703.2 1453.6,703.5 1465.6,703.8 1477.7,704.2 1489.7,704.5 1501.8,704.8 1513.8,705.2 1525.9,705.5 1537.9,705.9 1550,706.3 1562,706.6 1574.1,707 1586.1,707.4 1598.2,707.8 1610.2,708.3 1622.2,708.7 1634.3,709.2 1646.3,709.6 1658.4,710.1 1670.4,710.6 1682.5,711.2 1694.5,711.7 1706.6,712.3 1718.6,712.9 1730.7,713.5 1742.7,714.1 1754.8,714.7 1766.8,715.3 1778.8,716 1790.9,716.7 1802.9,717.4 1815,718.1 1827,718.8 1839.1,719.6 1851.1,720.3 1863.2,721.1 1875.2,721.8 1887.3,722.6 1899.3,723.4 1911.4,724.2 1923.4,725 1935.4,725.8 1947.5,726.7 1959.5,727.5 1971.6,728.3 1974.6,728.5" fill="none" stroke="#222" stroke-width="1.4" stroke-linejoin="round" />
<path d="M1730.7,713.2 1733.7,713.4 1736.7,713.5 1739.7,713.6 1742.7,713.8 1745.7,713.9 1748.7,714.1 1751.7,714.2 1754.8,714.4 1757.8,714.5 1760.8,714.6 1763.8,714.8 1766.8,714.9 1769.8,715.1 1772.8,715.2 1775.8,715.4 1778.8,715.5 1781.9,715.6 1784.9,715.8 1787.9,715.9 1790.9,716.1 1793.9,716.2 1796.9,716.3 1799.9,716.4 1802.9,716.5 1806,716.7 1809,716.8 1812,716.8 1815,716.9 1818,716.9 1821,716.9 1824,716.8 1827,716.6 1830,716.3 1833.1,715.8 1836.1,715.1 1839.1,714 1842.1,712.5 1845.1,710.5 1848.1,708.1 1851.1,705 1854.1,701.3 1857.1,697 1860.2,692.3 1863.2,687.1 1866.2,681.9 1869.2,676.8 1872.2,672.1 1875.2,668.3 1878.2,665.6 1881.2,664.4 1884.3,664.7 1887.3,666.7 1890.3,670 1893.3,674.4 1896.3,679.6 1899.3,685.1 1902.3,690.7 1905.3,696.2 1908.3,701.2 1911.4,705.8 1914.4,709.8 1917.4,713.1 1920.4,715.9 1923.4,718.1 1926.4,719.9 1929.4,721.3 1932.4,722.4 1935.4,723.3 1938.5,723.9 1941.5,724.5 1944.5,725 1947.5,725.3 1950.5,725.7 1953.5,726 1956.5,726.3 1959.5,726.6 1962.6,726.9 1965.6,727.1 1968.6,727.4 1971.6,727.6 1974.6,727.9" fill="none" stroke="#3a3a3a" stroke-width="0.9" stroke-linejoin="round" />
<path d="M1661.4,710 1664.4,710.1 1667.4,710.3 1670.4,710.4 1673.4,710.5 1676.5,710.6 1679.5,710.7 1682.5,710.8 1685.5,711 1688.5,711.1 1691.5,711.2 1694.5,711.3 1697.5,711.4 1700.5,711.5 1703.6,711.7 1706.6,711.8 1709.6,711.9 1712.6,712 1715.6,712.1 1718.6,712.1 1721.6,712.2 1724.6,712.2 1727.7,712.3 1730.7,712.2 1733.7,712.2 1736.7,712 1739.7,711.8 1742.7,711.5 1745.7,711.1 1748.7,710.5 1751.7,709.8 1754.8,708.9 1757.8,707.8 1760.8,706.6 1763.8,705.1 1766.8,703.3 1769.8,701.4 1772.8,699.3 1775.8,697 1778.8,694.6 1781.9,692.1 1784.9,689.6 1787.9,687.2 1790.9,684.9 1793.9,682.8 1796.9,681.1 1799.9,679.8 1802.9,678.9 1806,678.6 1809,678.9 1812,679.7 1815,681 1818,682.8 1821,684.9 1824,687.4 1827,690.1 1830,692.9 1833.1,695.8 1836.1,698.6 1839.1,701.4 1842.1,704 1845.1,706.4 1848.1,708.6 1851.1,710.6 1854.1,712.4 1857.1,714 1860.2,715.4 1863.2,716.6 1866.2,717.6 1869.2,718.5 1872.2,719.2 1875.2,719.8 1878.2,720.4 1881.2,720.9 1884.3,721.3 1887.3,721.6 1890.3,721.9 1893.3,722.2 1896.3,722.5 1899.3,722.8 1902.3,723 1905.3,723.3 1908.3,723.5 1911.4,723.8 1914.4,724 1917.4,724.2 1920.4,724.4 1923.4,724.7 1926.4,724.9 1929.4,725.1 1932.4,725.3 1935.4,725.5 1938.5,725.7 1941.5,726 1944.5,726.2 1947.5,726.4 1950.5,726.6 1953.5,726.8" fill="none" stroke="#3a3a3a" stroke-width="0.9" stroke-linejoin="round" />
<path d="M1667.4,710.3 1670.4,710.4 1673.4,710.5 1676.5,710.6 1679.5,710.7 1682.5,710.8 1685.5,710.8 1688.5,710.9 1691.5,710.9 1694.5,710.9 1697.5,710.8 1700.5,710.7 1703.6,710.5 1706.6,710.2 1709.6,709.8 1712.6,709.3 1715.6,708.7 1718.6,708 1721.6,707.1 1724.6,706.1 1727.7,705.1 1730.7,703.9 1733.7,702.7 1736.7,701.5 1739.7,700.3 1742.7,699.2 1745.7,698.2 1748.7,697.5 1751.7,697 1754.8,696.8 1757.8,696.9 1760.8,697.3 1763.8,698 1766.8,699 1769.8,700.2 1772.8,701.6 1775.8,703.1 1778.8,704.6 1781.9,706.1 1784.9,707.6 1787.9,709.1 1790.9,710.4 1793.9,711.6 1796.9,712.7 1799.9,713.7 1802.9,714.5 1806,715.3 1809,715.9 1812,716.5 1815,716.9 1818,717.3 1821,717.7 1824,718 1827,718.3 1830,718.6 1833.1,718.8 1836.1,719 1839.1,719.3 1842.1,719.5 1845.1,719.7" fill="none" stroke="#3a3a3a" stroke-width="0.9" stroke-linejoin="round" />
<path d="M1510.8,704.8 1513.8,704.9 1516.8,705 1519.9,705.1 1522.9,705.1 1525.9,705.2 1528.9,705.3 1531.9,705.3 1534.9,705.4 1537.9,705.4 1540.9,705.4 1543.9,705.5 1547,705.5 1550,705.4 1553,705.3 1556,705.2 1559,704.9 1562,704.6 1565,704 1568,703.3 1571,702.3 1574.1,701 1577.1,699.5 1580.1,697.7 1583.1,695.6 1586.1,693.3 1589.1,690.9 1592.1,688.5 1595.1,686.3 1598.2,684.3 1601.2,682.9 1604.2,682.2 1607.2,682.2 1610.2,683 1613.2,684.5 1616.2,686.5 1619.2,688.9 1622.2,691.5 1625.3,694.1 1628.3,696.7 1631.3,699 1634.3,701.1 1637.3,703 1640.3,704.5 1643.3,705.8 1646.3,706.8 1649.3,707.6 1652.4,708.2 1655.4,708.7 1658.4,709.1 1661.4,709.4 1664.4,709.7 1667.4,709.9 1670.4,710.1 1673.4,710.3 1676.5,710.5 1679.5,710.6 1682.5,710.8 1685.5,711 1688.5,711.1 1691.5,711.3 1694.5,711.4 1697.5,711.6 1700.5,711.7 1703.6,711.9" fill="none" stroke="#3a3a3a" stroke-width="0.9" stroke-linejoin="round" />
<path d="M1441.5,702.9 1444.6,702.9 1447.6,703 1450.6,703 1453.6,703 1456.6,703 1459.6,703 1462.6,702.9 1465.6,702.8 1468.7,702.6 1471.7,702.4 1474.7,702.1 1477.7,701.7 1480.7,701.2 1483.7,700.6 1486.7,699.9 1489.7,699.1 1492.7,698.2 1495.8,697.1 1498.8,696 1501.8,694.9 1504.8,693.6 1507.8,692.4 1510.8,691.3 1513.8,690.2 1516.8,689.2 1519.9,688.5 1522.9,687.9 1525.9,687.6 1528.9,687.6 1531.9,687.9 1534.9,688.5 1537.9,689.3 1540.9,690.3 1543.9,691.5 1547,692.8 1550,694.1 1553,695.5 1556,696.9 1559,698.2 1562,699.5 1565,700.7 1568,701.7 1571,702.7 1574.1,703.5 1577.1,704.3 1580.1,704.9 1583.1,705.5 1586.1,705.9 1589.1,706.3 1592.1,706.6 1595.1,706.9 1598.2,707.2 1601.2,707.4 1604.2,707.6 1607.2,707.8 1610.2,707.9 1613.2,708.1 1616.2,708.2 1619.2,708.3 1622.2,708.5" fill="none" stroke="#3a3a3a" stroke-width="0.9" stroke-linejoin="round" />
<path d="M1441.5,701.9 1444.6,701.7 1447.6,701.4 1450.6,701.1 1453.6,700.7 1456.6,700.3 1459.6,699.8 1462.6,699.4 1465.6,698.9 1468.7,698.4 1471.7,698 1474.7,697.7 1477.7,697.5 1480.7,697.3 1483.7,697.3 1486.7,697.5 1489.7,697.7 1492.7,698.1 1495.8,698.6 1498.8,699.1 1501.8,699.7 1504.8,700.3 1507.8,701 1510.8,701.6 1513.8,702.2 1516.8,702.7 1519.9,703.3 1522.9,703.7 1525.9,704.1 1528.9,704.5 1531.9,704.8 1534.9,705.1 1537.9,705.3 1540.9,705.5 1543.9,705.7 1547,705.9 1550,706" fill="none" stroke="#3a3a3a" stroke-width="0.9" stroke-linejoin="round" />
<path d="M1441.5,701.4 1444.6,701.1 1447.6,700.8 1450.6,700.4 1453.6,700 1456.6,699.4 1459.6,698.9 1462.6,698.2 1465.6,697.6 1468.7,696.9 1471.7,696.1 1474.7,695.4 1477.7,694.7 1480.7,694 1483.7,693.3 1486.7,692.6 1489.7,692 1492.7,691.3 1495.8,690.7 1498.8,690 1501.8,689.3 1504.8,688.6 1507.8,688 1510.8,687.3 1513.8,686.7 1516.8,686.2 1519.9,685.8 1522.9,685.6 1525.9,685.7 1528.9,685.9 1531.9,686.4 1534.9,687.1 1537.9,688 1540.9,689 1543.9,690.2 1547,691.5 1550,692.8 1553,694 1556,695.1 1559,696.1 1562,696.9 1565,697.5 1568,697.7 1571,697.5 1574.1,697 1577.1,696.1 1580.1,694.8 1583.1,693.1 1586.1,691.1 1589.1,689 1592.1,686.7 1595.1,684.6 1598.2,682.7 1601.2,681.3 1604.2,680.3 1607.2,680 1610.2,680.1 1613.2,680.4 1616.2,680.8 1619.2,680.8 1622.2,680.3 1625.3,679.3 1628.3,677.9 1631.3,676.6 1634.3,675.9 1637.3,676.4 1640.3,678.4 1643.3,681.8 1646.3,686.2 1649.3,690.9 1652.4,695.3 1655.4,699.1 1658.4,702.2 1661.4,704.6 1664.4,706.2 1667.4,707.3 1670.4,708.1 1673.4,708.6 1676.5,708.9 1679.5,709.1 1682.5,709.3 1685.5,709.4 1688.5,709.5 1691.5,709.6 1694.5,709.6 1697.5,709.5 1700.5,709.4 1703.6,709.2 1706.6,708.9 1709.6,708.5 1712.6,708 1715.6,707.4 1718.6,706.6 1721.6,705.7 1724.6,704.6 1727.7,703.4 1730.7,702.1 1733.7,700.6 1736.7,699.1 1739.7,697.6 1742.7,696 1745.7,694.5 1748.7,693 1751.7,691.6 1754.8,690.4 1757.8,689.2 1760.8,688.2 1763.8,687.2 1766.8,686.3 1769.8,685.4 1772.8,684.5 1775.8,683.5 1778.8,682.4 1781.9,681.3 1784.9,680.1 1787.9,678.8 1790.9,677.7 1793.9,676.6 1796.9,675.8 1799.9,675.2 1802.9,675 1806,675.1 1809,675.8 1812,676.8 1815,678.3 1818,680.2 1821,682.4 1824,684.7 1827,687.1 1830,689.5 1833.1,691.7 1836.1,693.6 1839.1,695.1 1842.1,696 1845.1,696.3 1848.1,695.8 1851.1,694.6 1854.1,692.4 1857.1,689.5 1860.2,685.9 1863.2,681.7 1866.2,677.2 1869.2,672.6 1872.2,668.2 1875.2,664.4 1878.2,661.2 1881.2,658.8 1884.3,656.8 1887.3,655 1890.3,652.8 1893.3,650 1896.3,647 1899.3,644.6 1902.3,644.2 1905.3,647.5 1908.3,654.9 1911.4,665.6 1914.4,677.6 1917.4,689.3 1920.4,699.3 1923.4,707.2 1926.4,713 1929.4,716.9 1932.4,719.5 1935.4,721.1 1938.5,722.3 1941.5,723.1 1944.5,723.8 1947.5,724.3 1950.5,724.7 1953.5,725.1 1956.5,725.5 1959.5,725.8 1962.6,726.2 1965.6,726.5 1968.6,726.8 1971.6,727.1 1974.6,727.3" fill="none" stroke="#3a3a3a" stroke-width="1.5" stroke-linejoin="round" />
<text x="1447.8" y="688.3" font-size="24.5" text-anchor="start" fill="#000" >480 s</text>
<path d="M1790.9,806.9 1793.9,807 1796.9,807.2 1799.9,807.4 1802.9,807.5 1806,807.7 1809,807.8 1812,808 1815,808.2 1818,808.3 1821,808.5 1824,808.7 1827,808.8 1830,809 1833.1,809.1 1836.1,809.3 1839.1,809.5 1842.1,809.6 1845.1,809.8 1848.1,809.9 1851.1,810.1 1854.1,810.2 1857.1,810.3 1860.2,810.4 1863.2,810.5 1866.2,810.6 1869.2,810.6 1872.2,810.5 1875.2,810.3 1878.2,809.6 1881.2,808.3 1884.3,805.9 1887.3,802.1 1890.3,796.5 1893.3,789.2 1896.3,781 1899.3,773 1902.3,767.1 1905.3,765 1908.3,767.5 1911.4,773.9 1914.4,782.3 1917.4,791 1920.4,798.6 1923.4,804.5 1926.4,808.7 1929.4,811.4 1932.4,813.1 1935.4,814.2 1938.5,814.8 1941.5,815.3 1944.5,815.7 1947.5,816 1950.5,816.3 1953.5,816.5 1956.5,816.8 1959.5,817.1 1962.6,817.3 1965.6,817.5 1968.6,817.8 1971.6,818 1974.6,818.2 1974.6,818.5 1790.9,807Z" fill="url(#fGrn)"/>
<path d="M1540.9,796.5 1543.9,796.6 1547,796.7 1550,796.8 1553,796.9 1556,796.9 1559,797 1562,797.1 1565,797.2 1568,797.2 1571,797.3 1574.1,797.4 1577.1,797.5 1580.1,797.5 1583.1,797.6 1586.1,797.7 1589.1,797.7 1592.1,797.8 1595.1,797.8 1598.2,797.8 1601.2,797.7 1604.2,797.6 1607.2,797.2 1610.2,796.6 1613.2,795.5 1616.2,793.8 1619.2,791.5 1622.2,788.5 1625.3,784.9 1628.3,781 1631.3,777.4 1634.3,774.6 1637.3,773.3 1640.3,773.9 1643.3,776.3 1646.3,779.8 1649.3,783.9 1652.4,787.9 1655.4,791.5 1658.4,794.4 1661.4,796.6 1664.4,798.1 1667.4,799.2 1670.4,799.9 1673.4,800.3 1676.5,800.7 1679.5,800.9 1682.5,801.1 1685.5,801.3 1688.5,801.5 1691.5,801.7 1694.5,801.8 1697.5,802 1700.5,802.2 1703.6,802.3 1706.6,802.5 1709.6,802.6 1712.6,802.8 1715.6,802.9 1718.6,803.1 1721.6,803.2 1724.6,803.4 1727.7,803.6 1730.7,803.7 1733.7,803.9 1736.7,804 1736.7,804.1 1540.9,796.6Z" fill="url(#fGrn)"/>
<defs><path id="dp32" d="M1442.5,791.7 1444.5,791.1 1446.5,789.5 1448.5,793.1 1450.5,787.7 1452.5,789.7 1454.5,790.6 1456.5,789.9 1458.5,789.5 1460.5,786.7 1462.5,790.4 1464.5,786.3 1466.5,786.8 1468.5,786.3 1470.5,785.8 1472.5,784.6 1474.5,787.1 1476.5,784.5 1478.5,785.3 1480.5,781.1 1482.5,783.8 1484.5,782.1 1486.5,782.6 1488.5,781.9 1490.5,781.7 1492.5,780.5 1494.5,780.3 1496.5,780 1498.5,779.6 1500.5,778.9 1502.5,777.8 1504.5,778.5 1506.5,776.2 1508.5,779.9 1510.5,777.8 1512.5,778.3 1514.5,775.6 1516.5,773.6 1518.5,772.9 1520.5,773.8 1522.5,773.9 1524.5,774.2 1526.5,774.3 1528.5,775.8 1530.5,771.8 1532.5,778 1534.5,775.6 1536.5,776.9 1538.5,774.7 1540.5,778.4 1542.5,776.7 1544.5,780.3 1546.5,780.9 1548.5,781.6 1550.5,781.9 1552.5,782.6 1554.5,783.4 1556.5,785.8 1558.5,785.3 1560.5,786.2 1562.5,789.7 1564.5,786.8 1566.5,785.5 1568.5,783.7 1570.5,783.3 1572.5,786.7 1574.5,787.4 1576.5,784 1578.5,783 1580.5,783.4 1582.5,782.7 1584.5,782.6 1586.5,779.7 1588.5,777.5 1590.5,777.9 1592.5,774 1594.5,771.9 1596.5,771 1598.5,770.9 1600.5,769.8 1602.5,769.6 1604.5,769.1 1606.5,772.2 1608.5,769.3 1610.5,765.8 1612.5,767.1 1614.5,769.6 1616.5,768.4 1618.5,772.7 1620.5,768.8 1622.5,768.4 1624.5,768.5 1626.5,767.1 1628.5,767.3 1630.5,765.2 1632.5,765.3 1634.5,763.6 1636.5,761 1638.5,766.3 1640.5,769.7 1642.5,768.2 1644.5,771.5 1646.5,776.5 1648.5,777.8 1650.5,781.8 1652.5,784.2 1654.5,788.1 1656.5,789.3 1658.5,794.4 1660.5,793.2 1662.5,794.1 1664.5,793.4 1666.5,796.4 1668.5,795.5 1670.5,798.2 1672.5,798.4 1674.5,801.7 1676.5,797 1678.5,798.5 1680.5,799.9 1682.5,795.6 1684.5,799.5 1686.5,801.3 1688.5,798.8 1690.5,798.7 1692.5,800.5 1694.5,799.2 1696.5,799.2 1698.5,799.9 1700.5,797.5 1702.5,801.2 1704.5,797.8 1706.5,798.1 1708.5,797.3 1710.5,793.8 1712.5,794.8 1714.5,796.2 1716.5,796.2 1718.5,797.3 1720.5,798.9 1722.5,795.4 1724.5,793.5 1726.5,791.9 1728.5,794 1730.5,790.2 1732.5,790 1734.5,791 1736.5,787.9 1738.5,786.8 1740.5,786.2 1742.5,782.6 1744.5,783.7 1746.5,783.1 1748.5,782.4 1750.5,780.4 1752.5,776.8 1754.5,778 1756.5,779.4 1758.5,776.4 1760.5,775.6 1762.5,777 1764.5,776.4 1766.5,775.2 1768.5,775.2 1770.5,774.9 1772.5,773.8 1774.5,772.9 1776.5,774.3 1778.5,769.4 1780.5,773.4 1782.5,769.8 1784.5,767.5 1786.5,768.7 1788.5,768.4 1790.5,764.4 1792.5,765.6 1794.5,765.9 1796.5,765.3 1798.5,763.7 1800.5,761.8 1802.5,763.1 1804.5,766.4 1806.5,762.1 1808.5,768.3 1810.5,764.5 1812.5,765.2 1814.5,765.6 1816.5,767.8 1818.5,769.2 1820.5,768.9 1822.5,774.8 1824.5,775.2 1826.5,775.7 1828.5,774.9 1830.5,777.8 1832.5,779.6 1834.5,782.3 1836.5,782.2 1838.5,781.8 1840.5,783.9 1842.5,784.4 1844.5,784.9 1846.5,786 1848.5,783.2 1850.5,781.2 1852.5,783.8 1854.5,781.9 1856.5,776.8 1858.5,777.3 1860.5,772.9 1862.5,771.8 1864.5,768.6 1866.5,762.7 1868.5,760.1 1870.5,758.3 1872.5,753.7 1874.5,751.3 1876.5,749.4 1878.5,748.4 1880.5,746.8 1882.5,744.5 1884.5,743.9 1886.5,744.8 1888.5,742.5 1890.5,740.7 1892.5,737.3 1894.5,735.2 1896.5,732.4 1898.5,731.2 1900.5,728.8 1902.5,731.5 1904.5,733.1 1906.5,736.5 1908.5,742.2 1910.5,748.3 1912.5,759.2 1914.5,767.2 1916.5,776.1 1918.5,782.2 1920.5,788 1922.5,795 1924.5,796.5 1926.5,799.8 1928.5,805.9 1930.5,807.4 1932.5,808.7 1934.5,811.4 1936.5,810.4 1938.5,811.5 1940.5,812.3 1942.5,810.5 1944.5,813.1 1946.5,813.8 1948.5,813.2 1950.5,812.5 1952.5,812.7 1954.5,810.9 1956.5,813.1 1958.5,816.5 1960.5,816.5 1962.5,814.8 1964.5,814.1 1966.5,817 1968.5,817.1 1970.5,816.5 1972.5,814.9"/></defs>
<use href="#dp32" fill="none" stroke="#cdcdcd" stroke-width="5.2" stroke-linecap="round" stroke-dasharray="0 2.6"/>
<use href="#dp32" fill="none" stroke="#ededed" stroke-width="2.6" stroke-linecap="round" stroke-dasharray="0 2.6"/>
<path d="M1441.5,794 1453.6,794.3 1465.6,794.6 1477.7,794.9 1489.7,795.2 1501.8,795.6 1513.8,795.9 1525.9,796.2 1537.9,796.5 1550,796.9 1562,797.3 1574.1,797.6 1586.1,798 1598.2,798.4 1610.2,798.8 1622.2,799.2 1634.3,799.7 1646.3,800.1 1658.4,800.6 1670.4,801.1 1682.5,801.6 1694.5,802.1 1706.6,802.7 1718.6,803.2 1730.7,803.8 1742.7,804.4 1754.8,805 1766.8,805.7 1778.8,806.3 1790.9,807 1802.9,807.6 1815,808.3 1827,809 1839.1,809.8 1851.1,810.5 1863.2,811.2 1875.2,812 1887.3,812.8 1899.3,813.5 1911.4,814.3 1923.4,815.1 1935.4,815.9 1947.5,816.7 1959.5,817.5 1971.6,818.3 1974.6,818.5" fill="none" stroke="#222" stroke-width="1.4" stroke-linejoin="round" />
<path d="M1730.7,803.6 1733.7,803.7 1736.7,803.8 1739.7,804 1742.7,804.1 1745.7,804.3 1748.7,804.4 1751.7,804.5 1754.8,804.7 1757.8,804.8 1760.8,805 1763.8,805.1 1766.8,805.2 1769.8,805.4 1772.8,805.5 1775.8,805.7 1778.8,805.8 1781.9,805.9 1784.9,806.1 1787.9,806.2 1790.9,806.3 1793.9,806.4 1796.9,806.6 1799.9,806.7 1802.9,806.8 1806,806.9 1809,807 1812,807.1 1815,807.1 1818,807.1 1821,807.1 1824,807 1827,806.8 1830,806.5 1833.1,806 1836.1,805.2 1839.1,804.1 1842.1,802.6 1845.1,800.6 1848.1,798 1851.1,794.8 1854.1,791.1 1857.1,786.7 1860.2,781.9 1863.2,776.6 1866.2,771.3 1869.2,766.1 1872.2,761.3 1875.2,757.4 1878.2,754.6 1881.2,753.4 1884.3,753.7 1887.3,755.7 1890.3,759.1 1893.3,763.5 1896.3,768.8 1899.3,774.4 1902.3,780.2 1905.3,785.7 1908.3,790.9 1911.4,795.5 1914.4,799.6 1917.4,803 1920.4,805.8 1923.4,808.1 1926.4,809.9 1929.4,811.3 1932.4,812.4 1935.4,813.3 1938.5,814 1941.5,814.5 1944.5,815 1947.5,815.4 1950.5,815.7 1953.5,816 1956.5,816.3 1959.5,816.6 1962.6,816.9 1965.6,817.1 1968.6,817.4 1971.6,817.6 1974.6,817.9" fill="none" stroke="#3a3a3a" stroke-width="0.9" stroke-linejoin="round" />
<path d="M1661.4,800.5 1664.4,800.6 1667.4,800.7 1670.4,800.8 1673.4,800.9 1676.5,801 1679.5,801.2 1682.5,801.3 1685.5,801.4 1688.5,801.5 1691.5,801.6 1694.5,801.7 1697.5,801.8 1700.5,801.9 1703.6,802.1 1706.6,802.2 1709.6,802.3 1712.6,802.4 1715.6,802.4 1718.6,802.5 1721.6,802.6 1724.6,802.6 1727.7,802.6 1730.7,802.6 1733.7,802.5 1736.7,802.3 1739.7,802.1 1742.7,801.8 1745.7,801.4 1748.7,800.8 1751.7,800 1754.8,799.1 1757.8,798 1760.8,796.7 1763.8,795.2 1766.8,793.4 1769.8,791.4 1772.8,789.3 1775.8,786.9 1778.8,784.4 1781.9,781.9 1784.9,779.3 1787.9,776.8 1790.9,774.5 1793.9,772.4 1796.9,770.6 1799.9,769.3 1802.9,768.4 1806,768.1 1809,768.3 1812,769.1 1815,770.5 1818,772.3 1821,774.5 1824,777 1827,779.8 1830,782.6 1833.1,785.5 1836.1,788.4 1839.1,791.2 1842.1,793.8 1845.1,796.3 1848.1,798.6 1851.1,800.6 1854.1,802.5 1857.1,804.1 1860.2,805.5 1863.2,806.7 1866.2,807.7 1869.2,808.6 1872.2,809.3 1875.2,810 1878.2,810.5 1881.2,811 1884.3,811.4 1887.3,811.7 1890.3,812.1 1893.3,812.4 1896.3,812.6 1899.3,812.9 1902.3,813.1 1905.3,813.4 1908.3,813.6 1911.4,813.8 1914.4,814.1 1917.4,814.3 1920.4,814.5 1923.4,814.7 1926.4,814.9 1929.4,815.2 1932.4,815.4 1935.4,815.6 1938.5,815.8 1941.5,816 1944.5,816.2 1947.5,816.4 1950.5,816.6 1953.5,816.8" fill="none" stroke="#3a3a3a" stroke-width="0.9" stroke-linejoin="round" />
<path d="M1667.4,800.7 1670.4,800.8 1673.4,800.9 1676.5,801 1679.5,801.1 1682.5,801.2 1685.5,801.2 1688.5,801.3 1691.5,801.3 1694.5,801.3 1697.5,801.2 1700.5,801 1703.6,800.8 1706.6,800.5 1709.6,800.1 1712.6,799.6 1715.6,799 1718.6,798.2 1721.6,797.4 1724.6,796.4 1727.7,795.3 1730.7,794.1 1733.7,792.8 1736.7,791.6 1739.7,790.4 1742.7,789.2 1745.7,788.3 1748.7,787.5 1751.7,787 1754.8,786.7 1757.8,786.8 1760.8,787.3 1763.8,788 1766.8,789 1769.8,790.2 1772.8,791.6 1775.8,793.1 1778.8,794.7 1781.9,796.2 1784.9,797.7 1787.9,799.2 1790.9,800.5 1793.9,801.8 1796.9,802.9 1799.9,803.9 1802.9,804.7 1806,805.5 1809,806.1 1812,806.7 1815,807.1 1818,807.6 1821,807.9 1824,808.2 1827,808.5 1830,808.8 1833.1,809 1836.1,809.2 1839.1,809.5 1842.1,809.7 1845.1,809.9 1848.1,810.1" fill="none" stroke="#3a3a3a" stroke-width="0.9" stroke-linejoin="round" />
<path d="M1507.8,795.5 1510.8,795.5 1513.8,795.6 1516.8,795.7 1519.9,795.7 1522.9,795.8 1525.9,795.9 1528.9,795.9 1531.9,796 1534.9,796 1537.9,796.1 1540.9,796.1 1543.9,796.1 1547,796.1 1550,796 1553,796 1556,795.8 1559,795.5 1562,795.1 1565,794.6 1568,793.8 1571,792.8 1574.1,791.5 1577.1,790 1580.1,788.1 1583.1,785.9 1586.1,783.6 1589.1,781.1 1592.1,778.7 1595.1,776.4 1598.2,774.4 1601.2,773 1604.2,772.2 1607.2,772.3 1610.2,773 1613.2,774.5 1616.2,776.6 1619.2,779 1622.2,781.7 1625.3,784.3 1628.3,786.9 1631.3,789.3 1634.3,791.5 1637.3,793.3 1640.3,794.9 1643.3,796.2 1646.3,797.2 1649.3,798 1652.4,798.6 1655.4,799.1 1658.4,799.5 1661.4,799.9 1664.4,800.1 1667.4,800.3 1670.4,800.5 1673.4,800.7 1676.5,800.9 1679.5,801.1 1682.5,801.2 1685.5,801.4 1688.5,801.5 1691.5,801.7 1694.5,801.8 1697.5,802 1700.5,802.2 1703.6,802.3" fill="none" stroke="#3a3a3a" stroke-width="0.9" stroke-linejoin="round" />
<path d="M1441.5,793.7 1444.6,793.7 1447.6,793.8 1450.6,793.8 1453.6,793.8 1456.6,793.8 1459.6,793.7 1462.6,793.7 1465.6,793.5 1468.7,793.3 1471.7,793.1 1474.7,792.8 1477.7,792.4 1480.7,791.9 1483.7,791.3 1486.7,790.5 1489.7,789.7 1492.7,788.8 1495.8,787.7 1498.8,786.6 1501.8,785.4 1504.8,784.1 1507.8,782.9 1510.8,781.7 1513.8,780.6 1516.8,779.6 1519.9,778.8 1522.9,778.2 1525.9,777.9 1528.9,777.9 1531.9,778.2 1534.9,778.8 1537.9,779.6 1540.9,780.6 1543.9,781.8 1547,783.1 1550,784.5 1553,785.9 1556,787.3 1559,788.7 1562,790 1565,791.2 1568,792.2 1571,793.2 1574.1,794.1 1577.1,794.8 1580.1,795.5 1583.1,796 1586.1,796.5 1589.1,796.9 1592.1,797.2 1595.1,797.5 1598.2,797.7 1601.2,797.9 1604.2,798.1 1607.2,798.3 1610.2,798.5 1613.2,798.6 1616.2,798.7 1619.2,798.9 1622.2,799" fill="none" stroke="#3a3a3a" stroke-width="0.9" stroke-linejoin="round" />
<path d="M1441.5,792.7 1444.6,792.4 1447.6,792.1 1450.6,791.8 1453.6,791.4 1456.6,791 1459.6,790.5 1462.6,790 1465.6,789.6 1468.7,789.1 1471.7,788.7 1474.7,788.3 1477.7,788.1 1480.7,787.9 1483.7,787.9 1486.7,788.1 1489.7,788.3 1492.7,788.7 1495.8,789.2 1498.8,789.7 1501.8,790.3 1504.8,791 1507.8,791.6 1510.8,792.2 1513.8,792.8 1516.8,793.4 1519.9,793.9 1522.9,794.4 1525.9,794.8 1528.9,795.1 1531.9,795.5 1534.9,795.7 1537.9,796 1540.9,796.2 1543.9,796.4 1547,796.5 1550,796.7" fill="none" stroke="#3a3a3a" stroke-width="0.9" stroke-linejoin="round" />
<path d="M1441.5,792.2 1444.6,791.9 1447.6,791.5 1450.6,791.1 1453.6,790.7 1456.6,790.1 1459.6,789.5 1462.6,788.9 1465.6,788.2 1468.7,787.5 1471.7,786.7 1474.7,786 1477.7,785.2 1480.7,784.5 1483.7,783.8 1486.7,783.1 1489.7,782.4 1492.7,781.8 1495.8,781.1 1498.8,780.4 1501.8,779.7 1504.8,779 1507.8,778.3 1510.8,777.6 1513.8,777 1516.8,776.5 1519.9,776.1 1522.9,775.9 1525.9,775.9 1528.9,776.2 1531.9,776.6 1534.9,777.3 1537.9,778.3 1540.9,779.3 1543.9,780.5 1547,781.8 1550,783.1 1553,784.4 1556,785.5 1559,786.6 1562,787.4 1565,787.9 1568,788.1 1571,788 1574.1,787.4 1577.1,786.5 1580.1,785.1 1583.1,783.4 1586.1,781.4 1589.1,779.2 1592.1,776.9 1595.1,774.7 1598.2,772.8 1601.2,771.3 1604.2,770.3 1607.2,770 1610.2,770.1 1613.2,770.4 1616.2,770.7 1619.2,770.8 1622.2,770.3 1625.3,769.2 1628.3,767.8 1631.3,766.5 1634.3,765.7 1637.3,766.2 1640.3,768.3 1643.3,771.8 1646.3,776.2 1649.3,781 1652.4,785.5 1655.4,789.4 1658.4,792.6 1661.4,794.9 1664.4,796.6 1667.4,797.7 1670.4,798.5 1673.4,799 1676.5,799.3 1679.5,799.5 1682.5,799.7 1685.5,799.8 1688.5,799.9 1691.5,800 1694.5,800 1697.5,799.9 1700.5,799.8 1703.6,799.6 1706.6,799.3 1709.6,798.9 1712.6,798.3 1715.6,797.7 1718.6,796.9 1721.6,795.9 1724.6,794.8 1727.7,793.6 1730.7,792.2 1733.7,790.7 1736.7,789.2 1739.7,787.6 1742.7,786 1745.7,784.4 1748.7,782.9 1751.7,781.5 1754.8,780.2 1757.8,779 1760.8,778 1763.8,777 1766.8,776.1 1769.8,775.1 1772.8,774.2 1775.8,773.1 1778.8,772 1781.9,770.8 1784.9,769.6 1787.9,768.4 1790.9,767.2 1793.9,766.1 1796.9,765.2 1799.9,764.6 1802.9,764.4 1806,764.5 1809,765.2 1812,766.3 1815,767.8 1818,769.7 1821,771.9 1824,774.2 1827,776.7 1830,779.1 1833.1,781.3 1836.1,783.3 1839.1,784.8 1842.1,785.8 1845.1,786 1848.1,785.5 1851.1,784.2 1854.1,782.1 1857.1,779.1 1860.2,775.4 1863.2,771.1 1866.2,766.5 1869.2,761.8 1872.2,757.3 1875.2,753.4 1878.2,750.1 1881.2,747.6 1884.3,745.7 1887.3,743.8 1890.3,741.5 1893.3,738.7 1896.3,735.6 1899.3,733.1 1902.3,732.8 1905.3,736.1 1908.3,743.6 1911.4,754.5 1914.4,766.8 1917.4,778.7 1920.4,788.9 1923.4,797 1926.4,802.8 1929.4,806.8 1932.4,809.4 1935.4,811.1 1938.5,812.3 1941.5,813.1 1944.5,813.7 1947.5,814.3 1950.5,814.7 1953.5,815.1 1956.5,815.5 1959.5,815.8 1962.6,816.1 1965.6,816.5 1968.6,816.7 1971.6,817 1974.6,817.3" fill="none" stroke="#3a3a3a" stroke-width="1.5" stroke-linejoin="round" />
<text x="1447.8" y="774.3" font-size="24.5" text-anchor="start" fill="#000" >360 s</text>
<path d="M1790.9,895 1793.9,895.2 1796.9,895.3 1799.9,895.5 1802.9,895.7 1806,895.8 1809,896 1812,896.2 1815,896.3 1818,896.5 1821,896.7 1824,896.8 1827,897 1830,897.2 1833.1,897.3 1836.1,897.5 1839.1,897.7 1842.1,897.8 1845.1,898 1848.1,898.1 1851.1,898.3 1854.1,898.4 1857.1,898.6 1860.2,898.7 1863.2,898.8 1866.2,898.9 1869.2,898.9 1872.2,898.8 1875.2,898.6 1878.2,897.9 1881.2,896.7 1884.3,894.4 1887.3,890.7 1890.3,885.2 1893.3,878.2 1896.3,870.2 1899.3,862.5 1902.3,856.7 1905.3,854.7 1908.3,857.2 1911.4,863.4 1914.4,871.6 1917.4,880 1920.4,887.4 1923.4,893.1 1926.4,897.2 1929.4,899.9 1932.4,901.6 1935.4,902.6 1938.5,903.2 1941.5,903.7 1944.5,904 1947.5,904.4 1950.5,904.7 1953.5,904.9 1956.5,905.2 1959.5,905.4 1962.6,905.7 1965.6,905.9 1968.6,906.2 1971.6,906.4 1974.6,906.6 1974.6,906.9 1790.9,895.1Z" fill="url(#fGrn)"/>
<path d="M1540.9,884.3 1543.9,884.4 1547,884.5 1550,884.5 1553,884.6 1556,884.7 1559,884.8 1562,884.9 1565,885 1568,885 1571,885.1 1574.1,885.2 1577.1,885.3 1580.1,885.4 1583.1,885.4 1586.1,885.5 1589.1,885.6 1592.1,885.6 1595.1,885.6 1598.2,885.6 1601.2,885.6 1604.2,885.4 1607.2,885.1 1610.2,884.5 1613.2,883.4 1616.2,881.9 1619.2,879.6 1622.2,876.7 1625.3,873.2 1628.3,869.4 1631.3,865.9 1634.3,863.2 1637.3,862 1640.3,862.6 1643.3,864.9 1646.3,868.3 1649.3,872.3 1652.4,876.2 1655.4,879.7 1658.4,882.5 1661.4,884.6 1664.4,886.1 1667.4,887.2 1670.4,887.8 1673.4,888.3 1676.5,888.6 1679.5,888.9 1682.5,889.1 1685.5,889.3 1688.5,889.5 1691.5,889.7 1694.5,889.8 1697.5,890 1700.5,890.2 1703.6,890.3 1706.6,890.5 1709.6,890.6 1712.6,890.8 1715.6,891 1718.6,891.1 1721.6,891.3 1724.6,891.4 1727.7,891.6 1730.7,891.7 1733.7,891.9 1733.7,892 1540.9,884.4Z" fill="url(#fGrn)"/>
<defs><path id="dp33" d="M1442.5,876.7 1444.5,877.5 1446.5,878.6 1448.5,876.9 1450.5,875.9 1452.5,874.9 1454.5,877.8 1456.5,876.2 1458.5,875.2 1460.5,874.3 1462.5,871.9 1464.5,875 1466.5,873.1 1468.5,873.9 1470.5,875.6 1472.5,872.5 1474.5,872.4 1476.5,873.4 1478.5,871.3 1480.5,871.3 1482.5,869.1 1484.5,869 1486.5,867.6 1488.5,870.8 1490.5,870.7 1492.5,867.9 1494.5,868 1496.5,867.2 1498.5,871.1 1500.5,868.3 1502.5,866.3 1504.5,867 1506.5,867.5 1508.5,863.8 1510.5,865.6 1512.5,865.2 1514.5,864 1516.5,864.8 1518.5,865.1 1520.5,863.2 1522.5,862.6 1524.5,864.3 1526.5,863.4 1528.5,863.9 1530.5,866.3 1532.5,864.5 1534.5,864.3 1536.5,863.1 1538.5,866.1 1540.5,866.8 1542.5,867.9 1544.5,868.7 1546.5,869.7 1548.5,869.9 1550.5,870.6 1552.5,872 1554.5,871 1556.5,871.4 1558.5,872 1560.5,874.1 1562.5,872 1564.5,874.1 1566.5,874.7 1568.5,875.5 1570.5,873.5 1572.5,874.8 1574.5,874.3 1576.5,872.9 1578.5,873 1580.5,871.7 1582.5,869.3 1584.5,869.1 1586.5,867 1588.5,869.5 1590.5,865.1 1592.5,863 1594.5,860.5 1596.5,861.2 1598.5,860.6 1600.5,859.1 1602.5,856.4 1604.5,856.4 1606.5,856.1 1608.5,857.8 1610.5,856.5 1612.5,857.8 1614.5,860.6 1616.5,855.7 1618.5,858 1620.5,858.1 1622.5,855.7 1624.5,858.6 1626.5,855.9 1628.5,855.9 1630.5,855.3 1632.5,855.8 1634.5,852.6 1636.5,852.8 1638.5,852.8 1640.5,854.5 1642.5,860.9 1644.5,860.4 1646.5,861.6 1648.5,868 1650.5,872.6 1652.5,871.6 1654.5,875.5 1656.5,875.9 1658.5,876.9 1660.5,881.1 1662.5,880.9 1664.5,881.9 1666.5,884.4 1668.5,885.5 1670.5,885.1 1672.5,887.5 1674.5,885.1 1676.5,885.7 1678.5,887.6 1680.5,889.6 1682.5,889.4 1684.5,888 1686.5,886.9 1688.5,884.9 1690.5,888.9 1692.5,886.8 1694.5,890.1 1696.5,886.9 1698.5,884.1 1700.5,888.3 1702.5,886.8 1704.5,885.7 1706.5,886.5 1708.5,886 1710.5,886.1 1712.5,882.8 1714.5,885 1716.5,885.1 1718.5,882.2 1720.5,885.1 1722.5,882.5 1724.5,879.1 1726.5,883.4 1728.5,879.8 1730.5,879.6 1732.5,878.3 1734.5,880.3 1736.5,876.7 1738.5,874.6 1740.5,873.7 1742.5,874.4 1744.5,873.4 1746.5,870.6 1748.5,871.9 1750.5,868.7 1752.5,869 1754.5,868.7 1756.5,867.6 1758.5,866.9 1760.5,866.2 1762.5,864.5 1764.5,864.9 1766.5,864.4 1768.5,861.6 1770.5,860.8 1772.5,862.6 1774.5,861.5 1776.5,861.1 1778.5,861.2 1780.5,859.9 1782.5,857.8 1784.5,858.6 1786.5,856 1788.5,858.6 1790.5,856.9 1792.5,854.8 1794.5,853.2 1796.5,854.2 1798.5,852.9 1800.5,851.7 1802.5,853.4 1804.5,852.8 1806.5,854.1 1808.5,853.1 1810.5,856.7 1812.5,857.2 1814.5,853.6 1816.5,854.1 1818.5,856.9 1820.5,861.8 1822.5,862.1 1824.5,862.9 1826.5,864.7 1828.5,864.2 1830.5,867.7 1832.5,867.5 1834.5,870.5 1836.5,870.9 1838.5,871.7 1840.5,872.4 1842.5,874.5 1844.5,876.5 1846.5,871.3 1848.5,874.2 1850.5,871.8 1852.5,873.3 1854.5,871.2 1856.5,866.6 1858.5,865.6 1860.5,865 1862.5,862.6 1864.5,856.5 1866.5,852.9 1868.5,851.7 1870.5,850.3 1872.5,846.9 1874.5,843.5 1876.5,841.5 1878.5,839.6 1880.5,837.3 1882.5,834.5 1884.5,835.6 1886.5,834 1888.5,833.3 1890.5,830.5 1892.5,828 1894.5,827.8 1896.5,826 1898.5,825.6 1900.5,820.3 1902.5,821.8 1904.5,824 1906.5,831 1908.5,830.3 1910.5,841.7 1912.5,847 1914.5,854.6 1916.5,865 1918.5,872.1 1920.5,872.9 1922.5,881 1924.5,887.1 1926.5,889.9 1928.5,894.8 1930.5,894.1 1932.5,896.5 1934.5,895 1936.5,899.7 1938.5,899.7 1940.5,901.2 1942.5,899.7 1944.5,903.6 1946.5,900.5 1948.5,904.1 1950.5,904.5 1952.5,901 1954.5,902.8 1956.5,901.8 1958.5,900.5 1960.5,904 1962.5,903.4 1964.5,905.5 1966.5,906 1968.5,901.6 1970.5,903.7 1972.5,904.9"/></defs>
<use href="#dp33" fill="none" stroke="#cdcdcd" stroke-width="5.2" stroke-linecap="round" stroke-dasharray="0 2.6"/>
<use href="#dp33" fill="none" stroke="#ededed" stroke-width="2.6" stroke-linecap="round" stroke-dasharray="0 2.6"/>
<path d="M1441.5,881.6 1453.6,881.9 1465.6,882.2 1477.7,882.6 1489.7,882.9 1501.8,883.2 1513.8,883.6 1525.9,883.9 1537.9,884.3 1550,884.7 1562,885 1574.1,885.4 1586.1,885.8 1598.2,886.2 1610.2,886.7 1622.2,887.1 1634.3,887.6 1646.3,888 1658.4,888.5 1670.4,889 1682.5,889.6 1694.5,890.1 1706.6,890.7 1718.6,891.3 1730.7,891.9 1742.7,892.5 1754.8,893.1 1766.8,893.7 1778.8,894.4 1790.9,895.1 1802.9,895.8 1815,896.5 1827,897.2 1839.1,898 1851.1,898.7 1863.2,899.5 1875.2,900.2 1887.3,901 1899.3,901.8 1911.4,902.6 1923.4,903.4 1935.4,904.2 1947.5,905.1 1959.5,905.9 1971.6,906.7 1974.6,906.9" fill="none" stroke="#222" stroke-width="1.4" stroke-linejoin="round" />
<path d="M1733.7,891.8 1736.7,891.9 1739.7,892 1742.7,892.2 1745.7,892.3 1748.7,892.5 1751.7,892.6 1754.8,892.8 1757.8,892.9 1760.8,893.1 1763.8,893.2 1766.8,893.3 1769.8,893.5 1772.8,893.6 1775.8,893.8 1778.8,893.9 1781.9,894 1784.9,894.2 1787.9,894.3 1790.9,894.5 1793.9,894.6 1796.9,894.7 1799.9,894.8 1802.9,895 1806,895.1 1809,895.2 1812,895.3 1815,895.3 1818,895.3 1821,895.3 1824,895.2 1827,895.1 1830,894.7 1833.1,894.2 1836.1,893.5 1839.1,892.4 1842.1,891 1845.1,889 1848.1,886.6 1851.1,883.5 1854.1,879.9 1857.1,875.6 1860.2,870.9 1863.2,865.9 1866.2,860.7 1869.2,855.6 1872.2,851 1875.2,847.2 1878.2,844.6 1881.2,843.4 1884.3,843.7 1887.3,845.6 1890.3,848.9 1893.3,853.3 1896.3,858.4 1899.3,863.9 1902.3,869.5 1905.3,874.8 1908.3,879.9 1911.4,884.4 1914.4,888.3 1917.4,891.6 1920.4,894.4 1923.4,896.6 1926.4,898.4 1929.4,899.8 1932.4,900.8 1935.4,901.7 1938.5,902.4 1941.5,902.9 1944.5,903.4 1947.5,903.8 1950.5,904.1 1953.5,904.4 1956.5,904.7 1959.5,905 1962.6,905.3 1965.6,905.5 1968.6,905.8 1971.6,906 1974.6,906.3" fill="none" stroke="#3a3a3a" stroke-width="0.9" stroke-linejoin="round" />
<path d="M1661.4,888.4 1664.4,888.5 1667.4,888.7 1670.4,888.8 1673.4,888.9 1676.5,889 1679.5,889.1 1682.5,889.2 1685.5,889.4 1688.5,889.5 1691.5,889.6 1694.5,889.7 1697.5,889.8 1700.5,890 1703.6,890.1 1706.6,890.2 1709.6,890.3 1712.6,890.4 1715.6,890.5 1718.6,890.5 1721.6,890.6 1724.6,890.7 1727.7,890.7 1730.7,890.6 1733.7,890.6 1736.7,890.4 1739.7,890.2 1742.7,889.9 1745.7,889.5 1748.7,889 1751.7,888.3 1754.8,887.4 1757.8,886.3 1760.8,885 1763.8,883.6 1766.8,881.9 1769.8,880 1772.8,877.9 1775.8,875.6 1778.8,873.2 1781.9,870.7 1784.9,868.3 1787.9,865.8 1790.9,863.6 1793.9,861.5 1796.9,859.8 1799.9,858.5 1802.9,857.7 1806,857.4 1809,857.6 1812,858.4 1815,859.8 1818,861.5 1821,863.7 1824,866.1 1827,868.8 1830,871.6 1833.1,874.4 1836.1,877.2 1839.1,879.9 1842.1,882.5 1845.1,884.9 1848.1,887.1 1851.1,889.1 1854.1,890.9 1857.1,892.5 1860.2,893.9 1863.2,895 1866.2,896 1869.2,896.9 1872.2,897.6 1875.2,898.3 1878.2,898.8 1881.2,899.3 1884.3,899.7 1887.3,900 1890.3,900.4 1893.3,900.7 1896.3,900.9 1899.3,901.2 1902.3,901.4 1905.3,901.7 1908.3,901.9 1911.4,902.2 1914.4,902.4 1917.4,902.6 1920.4,902.8 1923.4,903.1 1926.4,903.3 1929.4,903.5 1932.4,903.7 1935.4,903.9 1938.5,904.1 1941.5,904.4 1944.5,904.6 1947.5,904.8 1950.5,905" fill="none" stroke="#3a3a3a" stroke-width="0.9" stroke-linejoin="round" />
<path d="M1667.4,888.7 1670.4,888.8 1673.4,888.9 1676.5,889 1679.5,889.1 1682.5,889.2 1685.5,889.2 1688.5,889.3 1691.5,889.3 1694.5,889.3 1697.5,889.2 1700.5,889.1 1703.6,888.9 1706.6,888.6 1709.6,888.2 1712.6,887.7 1715.6,887.1 1718.6,886.4 1721.6,885.6 1724.6,884.6 1727.7,883.5 1730.7,882.4 1733.7,881.2 1736.7,880 1739.7,878.8 1742.7,877.7 1745.7,876.8 1748.7,876.1 1751.7,875.6 1754.8,875.4 1757.8,875.5 1760.8,875.9 1763.8,876.6 1766.8,877.6 1769.8,878.8 1772.8,880.1 1775.8,881.6 1778.8,883.1 1781.9,884.6 1784.9,886.1 1787.9,887.5 1790.9,888.9 1793.9,890.1 1796.9,891.1 1799.9,892.1 1802.9,893 1806,893.7 1809,894.3 1812,894.9 1815,895.3 1818,895.8 1821,896.1 1824,896.4 1827,896.7 1830,897 1833.1,897.2 1836.1,897.4 1839.1,897.7 1842.1,897.9 1845.1,898.1" fill="none" stroke="#3a3a3a" stroke-width="0.9" stroke-linejoin="round" />
<path d="M1510.8,883.3 1513.8,883.3 1516.8,883.4 1519.9,883.5 1522.9,883.5 1525.9,883.6 1528.9,883.7 1531.9,883.7 1534.9,883.8 1537.9,883.8 1540.9,883.9 1543.9,883.9 1547,883.9 1550,883.8 1553,883.8 1556,883.6 1559,883.4 1562,883 1565,882.5 1568,881.7 1571,880.7 1574.1,879.5 1577.1,878 1580.1,876.2 1583.1,874.1 1586.1,871.8 1589.1,869.5 1592.1,867.1 1595.1,864.9 1598.2,863 1601.2,861.6 1604.2,860.9 1607.2,860.9 1610.2,861.7 1613.2,863.1 1616.2,865.1 1619.2,867.5 1622.2,870.1 1625.3,872.7 1628.3,875.2 1631.3,877.5 1634.3,879.6 1637.3,881.4 1640.3,882.9 1643.3,884.2 1646.3,885.2 1649.3,886 1652.4,886.6 1655.4,887.1 1658.4,887.5 1661.4,887.8 1664.4,888.1 1667.4,888.3 1670.4,888.5 1673.4,888.7 1676.5,888.9 1679.5,889 1682.5,889.2 1685.5,889.4 1688.5,889.5 1691.5,889.7 1694.5,889.8 1697.5,890 1700.5,890.1" fill="none" stroke="#3a3a3a" stroke-width="0.9" stroke-linejoin="round" />
<path d="M1441.5,881.3 1444.6,881.4 1447.6,881.4 1450.6,881.4 1453.6,881.4 1456.6,881.4 1459.6,881.4 1462.6,881.3 1465.6,881.2 1468.7,881 1471.7,880.8 1474.7,880.5 1477.7,880.1 1480.7,879.6 1483.7,879 1486.7,878.3 1489.7,877.5 1492.7,876.6 1495.8,875.6 1498.8,874.5 1501.8,873.4 1504.8,872.2 1507.8,871 1510.8,869.8 1513.8,868.7 1516.8,867.8 1519.9,867 1522.9,866.5 1525.9,866.2 1528.9,866.2 1531.9,866.5 1534.9,867 1537.9,867.8 1540.9,868.8 1543.9,870 1547,871.3 1550,872.7 1553,874 1556,875.4 1559,876.7 1562,878 1565,879.1 1568,880.2 1571,881.1 1574.1,882 1577.1,882.7 1580.1,883.3 1583.1,883.9 1586.1,884.3 1589.1,884.7 1592.1,885.1 1595.1,885.3 1598.2,885.6 1601.2,885.8 1604.2,886 1607.2,886.2 1610.2,886.3 1613.2,886.5 1616.2,886.6 1619.2,886.7 1622.2,886.9" fill="none" stroke="#3a3a3a" stroke-width="0.9" stroke-linejoin="round" />
<path d="M1441.5,880.3 1444.6,880.1 1447.6,879.8 1450.6,879.5 1453.6,879.1 1456.6,878.7 1459.6,878.3 1462.6,877.8 1465.6,877.3 1468.7,876.9 1471.7,876.5 1474.7,876.2 1477.7,875.9 1480.7,875.8 1483.7,875.8 1486.7,875.9 1489.7,876.2 1492.7,876.6 1495.8,877 1498.8,877.6 1501.8,878.2 1504.8,878.8 1507.8,879.4 1510.8,880 1513.8,880.6 1516.8,881.2 1519.9,881.7 1522.9,882.1 1525.9,882.6 1528.9,882.9 1531.9,883.2 1534.9,883.5 1537.9,883.7 1540.9,883.9 1543.9,884.1 1547,884.3 1550,884.4" fill="none" stroke="#3a3a3a" stroke-width="0.9" stroke-linejoin="round" />
<path d="M1441.5,879.8 1444.6,879.5 1447.6,879.2 1450.6,878.8 1453.6,878.4 1456.6,877.9 1459.6,877.3 1462.6,876.7 1465.6,876 1468.7,875.3 1471.7,874.6 1474.7,873.9 1477.7,873.2 1480.7,872.5 1483.7,871.8 1486.7,871.1 1489.7,870.5 1492.7,869.9 1495.8,869.2 1498.8,868.5 1501.8,867.9 1504.8,867.2 1507.8,866.5 1510.8,865.9 1513.8,865.3 1516.8,864.8 1519.9,864.4 1522.9,864.2 1525.9,864.3 1528.9,864.5 1531.9,865 1534.9,865.6 1537.9,866.5 1540.9,867.6 1543.9,868.8 1547,870 1550,871.3 1553,872.5 1556,873.7 1559,874.6 1562,875.4 1565,875.9 1568,876.2 1571,876 1574.1,875.5 1577.1,874.6 1580.1,873.3 1583.1,871.6 1586.1,869.7 1589.1,867.6 1592.1,865.4 1595.1,863.2 1598.2,861.4 1601.2,859.9 1604.2,859 1607.2,858.7 1610.2,858.7 1613.2,859.1 1616.2,859.4 1619.2,859.5 1622.2,859 1625.3,858 1628.3,856.6 1631.3,855.3 1634.3,854.6 1637.3,855.1 1640.3,857.1 1643.3,860.5 1646.3,864.8 1649.3,869.4 1652.4,873.8 1655.4,877.7 1658.4,880.7 1661.4,883 1664.4,884.6 1667.4,885.8 1670.4,886.5 1673.4,887 1676.5,887.3 1679.5,887.5 1682.5,887.7 1685.5,887.9 1688.5,888 1691.5,888 1694.5,888 1697.5,888 1700.5,887.8 1703.6,887.7 1706.6,887.4 1709.6,887 1712.6,886.5 1715.6,885.8 1718.6,885.1 1721.6,884.1 1724.6,883.1 1727.7,881.9 1730.7,880.6 1733.7,879.2 1736.7,877.7 1739.7,876.1 1742.7,874.6 1745.7,873.1 1748.7,871.6 1751.7,870.3 1754.8,869 1757.8,867.9 1760.8,866.9 1763.8,865.9 1766.8,865 1769.8,864.1 1772.8,863.2 1775.8,862.2 1778.8,861.1 1781.9,860 1784.9,858.8 1787.9,857.6 1790.9,856.5 1793.9,855.4 1796.9,854.6 1799.9,854 1802.9,853.8 1806,854 1809,854.6 1812,855.7 1815,857.1 1818,859 1821,861.1 1824,863.4 1827,865.8 1830,868.2 1833.1,870.4 1836.1,872.2 1839.1,873.7 1842.1,874.7 1845.1,874.9 1848.1,874.5 1851.1,873.2 1854.1,871.1 1857.1,868.2 1860.2,864.6 1863.2,860.5 1866.2,856 1869.2,851.5 1872.2,847.2 1875.2,843.4 1878.2,840.2 1881.2,837.8 1884.3,835.9 1887.3,834.1 1890.3,831.9 1893.3,829.1 1896.3,826.1 1899.3,823.8 1902.3,823.4 1905.3,826.6 1908.3,834 1911.4,844.6 1914.4,856.5 1917.4,868 1920.4,878 1923.4,885.8 1926.4,891.5 1929.4,895.4 1932.4,897.9 1935.4,899.6 1938.5,900.7 1941.5,901.6 1944.5,902.2 1947.5,902.7 1950.5,903.1 1953.5,903.5 1956.5,903.9 1959.5,904.3 1962.6,904.6 1965.6,904.9 1968.6,905.2 1971.6,905.5 1974.6,905.7" fill="none" stroke="#3a3a3a" stroke-width="1.5" stroke-linejoin="round" />
<text x="1447.8" y="860.6" font-size="24.5" text-anchor="start" fill="#000" >240 s</text>
<path d="M1799.9,974.4 1802.9,974.6 1806,974.7 1809,974.9 1812,975 1815,975.2 1818,975.3 1821,975.4 1824,975.6 1827,975.7 1830,975.9 1833.1,976 1836.1,976.1 1839.1,976.3 1842.1,976.4 1845.1,976.5 1848.1,976.6 1851.1,976.8 1854.1,976.9 1857.1,977 1860.2,977.1 1863.2,977.2 1866.2,977.2 1869.2,977.3 1872.2,977.2 1875.2,977 1878.2,976.4 1881.2,975.3 1884.3,973.4 1887.3,970.2 1890.3,965.5 1893.3,959.5 1896.3,952.6 1899.3,946 1902.3,941 1905.3,939.3 1908.3,941.4 1911.4,946.8 1914.4,953.8 1917.4,961 1920.4,967.3 1923.4,972.3 1926.4,975.8 1929.4,978.1 1932.4,979.5 1935.4,980.3 1938.5,980.9 1941.5,981.3 1944.5,981.6 1947.5,981.9 1950.5,982.1 1953.5,982.3 1956.5,982.6 1959.5,982.8 1962.6,983 1965.6,983.2 1968.6,983.4 1971.6,983.6 1974.6,983.8 1974.6,984 1799.9,974.5Z" fill="url(#fGrn)"/>
<path d="M1550,965.4 1553,965.4 1556,965.5 1559,965.6 1562,965.7 1565,965.7 1568,965.8 1571,965.9 1574.1,965.9 1577.1,966 1580.1,966 1583.1,966.1 1586.1,966.1 1589.1,966.2 1592.1,966.2 1595.1,966.3 1598.2,966.3 1601.2,966.2 1604.2,966.1 1607.2,965.8 1610.2,965.2 1613.2,964.4 1616.2,963 1619.2,961.1 1622.2,958.5 1625.3,955.5 1628.3,952.3 1631.3,949.3 1634.3,947 1637.3,945.9 1640.3,946.4 1643.3,948.4 1646.3,951.3 1649.3,954.7 1652.4,958.1 1655.4,961 1658.4,963.5 1661.4,965.3 1664.4,966.6 1667.4,967.5 1670.4,968.1 1673.4,968.4 1676.5,968.7 1679.5,968.9 1682.5,969.1 1685.5,969.3 1688.5,969.4 1691.5,969.6 1694.5,969.7 1697.5,969.9 1700.5,970 1703.6,970.1 1706.6,970.3 1709.6,970.4 1712.6,970.5 1715.6,970.7 1718.6,970.8 1721.6,970.9 1724.6,971.1 1727.7,971.2 1727.7,971.3 1550,965.5Z" fill="url(#fGrn)"/>
<defs><path id="dp34" d="M1442.5,958.4 1444.5,959.7 1446.5,961.5 1448.5,957.2 1450.5,960.4 1452.5,958.3 1454.5,960.3 1456.5,958.1 1458.5,958.1 1460.5,958.5 1462.5,956.8 1464.5,957.1 1466.5,956.5 1468.5,958.3 1470.5,956.4 1472.5,953.3 1474.5,955.6 1476.5,955 1478.5,954.3 1480.5,955.7 1482.5,954.9 1484.5,951 1486.5,954.5 1488.5,951.7 1490.5,951.3 1492.5,950.8 1494.5,950.9 1496.5,951.8 1498.5,948.7 1500.5,949.8 1502.5,948.5 1504.5,948.8 1506.5,948.1 1508.5,949.1 1510.5,949 1512.5,946.2 1514.5,947.6 1516.5,944.8 1518.5,946.9 1520.5,947.6 1522.5,946.2 1524.5,949.8 1526.5,947.2 1528.5,945.6 1530.5,947.4 1532.5,946.2 1534.5,948.3 1536.5,947.9 1538.5,948.7 1540.5,945.6 1542.5,948.8 1544.5,951.6 1546.5,952.3 1548.5,953.1 1550.5,953.1 1552.5,954.9 1554.5,955.4 1556.5,955.5 1558.5,956.9 1560.5,957.1 1562.5,955.6 1564.5,957.3 1566.5,958 1568.5,956.5 1570.5,954 1572.5,956.1 1574.5,956.5 1576.5,952.1 1578.5,952.9 1580.5,952.5 1582.5,955.4 1584.5,953.2 1586.5,950.5 1588.5,951 1590.5,948.9 1592.5,945.1 1594.5,945.4 1596.5,946.2 1598.5,943.5 1600.5,946.4 1602.5,941.7 1604.5,941.4 1606.5,941.4 1608.5,941.8 1610.5,941.8 1612.5,943.8 1614.5,945.1 1616.5,942.1 1618.5,940.3 1620.5,941.7 1622.5,942 1624.5,943.7 1626.5,941.6 1628.5,940 1630.5,942.9 1632.5,937 1634.5,936.6 1636.5,940.5 1638.5,940.1 1640.5,940.6 1642.5,940.7 1644.5,945.3 1646.5,947.7 1648.5,949 1650.5,952.7 1652.5,952.9 1654.5,958.7 1656.5,957.5 1658.5,962.1 1660.5,960.8 1662.5,961.8 1664.5,963.8 1666.5,963.5 1668.5,966.2 1670.5,964.3 1672.5,966.1 1674.5,967.1 1676.5,967.5 1678.5,967.7 1680.5,966.2 1682.5,969.4 1684.5,966.5 1686.5,965.9 1688.5,967.2 1690.5,969.5 1692.5,964.6 1694.5,966.2 1696.5,968.9 1698.5,966.9 1700.5,964.9 1702.5,967.5 1704.5,967.3 1706.5,966 1708.5,964.2 1710.5,965.4 1712.5,964.6 1714.5,967 1716.5,963.2 1718.5,961.7 1720.5,964.2 1722.5,962.8 1724.5,964.4 1726.5,958.4 1728.5,960.9 1730.5,961.8 1732.5,959.3 1734.5,959.2 1736.5,956.9 1738.5,959.4 1740.5,954.4 1742.5,955.3 1744.5,954.2 1746.5,953.4 1748.5,953.7 1750.5,951.7 1752.5,951.3 1754.5,951.2 1756.5,950.2 1758.5,950.6 1760.5,947.4 1762.5,950.5 1764.5,945.2 1766.5,944.7 1768.5,945.6 1770.5,944.4 1772.5,946.4 1774.5,945.8 1776.5,945.8 1778.5,945.2 1780.5,944.1 1782.5,946.8 1784.5,940.9 1786.5,941.2 1788.5,940.1 1790.5,941.6 1792.5,939.1 1794.5,938 1796.5,936.9 1798.5,938 1800.5,936.4 1802.5,938.6 1804.5,938.5 1806.5,938 1808.5,938.9 1810.5,939.3 1812.5,941.3 1814.5,939.7 1816.5,940.2 1818.5,942.1 1820.5,943.1 1822.5,945.7 1824.5,945.7 1826.5,946.1 1828.5,948.7 1830.5,951 1832.5,950.1 1834.5,953.8 1836.5,955.9 1838.5,953.4 1840.5,954.4 1842.5,954.7 1844.5,952.7 1846.5,955.3 1848.5,952.5 1850.5,953.7 1852.5,954.1 1854.5,954.8 1856.5,951.3 1858.5,948.5 1860.5,947.6 1862.5,944.1 1864.5,940.7 1866.5,940.4 1868.5,935.4 1870.5,934.9 1872.5,933.5 1874.5,928.8 1876.5,926.7 1878.5,923.2 1880.5,924.2 1882.5,922.7 1884.5,923.1 1886.5,921.2 1888.5,919 1890.5,918.3 1892.5,917.5 1894.5,913.6 1896.5,913.5 1898.5,911.8 1900.5,911.7 1902.5,913 1904.5,914.6 1906.5,913.9 1908.5,919.6 1910.5,929.4 1912.5,935.6 1914.5,939.5 1916.5,945.2 1918.5,953.3 1920.5,958 1922.5,962.1 1924.5,966.1 1926.5,972.1 1928.5,972.6 1930.5,976.1 1932.5,975.6 1934.5,975.8 1936.5,979.7 1938.5,979.1 1940.5,978.6 1942.5,980.2 1944.5,978.6 1946.5,977.9 1948.5,978.2 1950.5,978.4 1952.5,979.1 1954.5,980 1956.5,981.4 1958.5,981.1 1960.5,979.6 1962.5,979.8 1964.5,977.9 1966.5,983.6 1968.5,980.2 1970.5,983.1 1972.5,980.4"/></defs>
<use href="#dp34" fill="none" stroke="#cdcdcd" stroke-width="5.2" stroke-linecap="round" stroke-dasharray="0 2.6"/>
<use href="#dp34" fill="none" stroke="#ededed" stroke-width="2.6" stroke-linecap="round" stroke-dasharray="0 2.6"/>
<path d="M1441.5,963 1453.6,963.3 1465.6,963.5 1477.7,963.8 1489.7,964.1 1501.8,964.3 1513.8,964.6 1525.9,964.9 1537.9,965.2 1550,965.5 1562,965.8 1574.1,966.1 1586.1,966.4 1598.2,966.8 1610.2,967.1 1622.2,967.5 1634.3,967.9 1646.3,968.3 1658.4,968.7 1670.4,969.1 1682.5,969.5 1694.5,970 1706.6,970.4 1718.6,970.9 1730.7,971.4 1742.7,971.9 1754.8,972.5 1766.8,973 1778.8,973.5 1790.9,974.1 1802.9,974.7 1815,975.3 1827,975.9 1839.1,976.5 1851.1,977.1 1863.2,977.8 1875.2,978.4 1887.3,979.1 1899.3,979.7 1911.4,980.4 1923.4,981.1 1935.4,981.8 1947.5,982.5 1959.5,983.1 1971.6,983.8 1974.6,984" fill="none" stroke="#222" stroke-width="1.4" stroke-linejoin="round" />
<path d="M1742.7,971.7 1745.7,971.8 1748.7,971.9 1751.7,972 1754.8,972.2 1757.8,972.3 1760.8,972.4 1763.8,972.5 1766.8,972.6 1769.8,972.8 1772.8,972.9 1775.8,973 1778.8,973.1 1781.9,973.2 1784.9,973.3 1787.9,973.5 1790.9,973.6 1793.9,973.7 1796.9,973.8 1799.9,973.9 1802.9,974 1806,974.1 1809,974.2 1812,974.2 1815,974.3 1818,974.3 1821,974.3 1824,974.2 1827,974 1830,973.8 1833.1,973.3 1836.1,972.7 1839.1,971.8 1842.1,970.5 1845.1,968.8 1848.1,966.7 1851.1,964.1 1854.1,961 1857.1,957.3 1860.2,953.3 1863.2,948.9 1866.2,944.5 1869.2,940.1 1872.2,936.2 1875.2,932.9 1878.2,930.6 1881.2,929.6 1884.3,929.9 1887.3,931.5 1890.3,934.3 1893.3,938.1 1896.3,942.5 1899.3,947.2 1902.3,952 1905.3,956.6 1908.3,960.9 1911.4,964.7 1914.4,968.1 1917.4,971 1920.4,973.3 1923.4,975.2 1926.4,976.7 1929.4,977.9 1932.4,978.9 1935.4,979.6 1938.5,980.2 1941.5,980.6 1944.5,981 1947.5,981.3 1950.5,981.6 1953.5,981.9 1956.5,982.1 1959.5,982.4 1962.6,982.6 1965.6,982.8 1968.6,983 1971.6,983.3 1974.6,983.5" fill="none" stroke="#3a3a3a" stroke-width="0.9" stroke-linejoin="round" />
<path d="M1673.4,969 1676.5,969 1679.5,969.1 1682.5,969.2 1685.5,969.3 1688.5,969.4 1691.5,969.5 1694.5,969.6 1697.5,969.7 1700.5,969.8 1703.6,969.9 1706.6,970 1709.6,970.1 1712.6,970.2 1715.6,970.2 1718.6,970.3 1721.6,970.4 1724.6,970.4 1727.7,970.4 1730.7,970.4 1733.7,970.3 1736.7,970.2 1739.7,970 1742.7,969.7 1745.7,969.4 1748.7,968.9 1751.7,968.3 1754.8,967.5 1757.8,966.6 1760.8,965.5 1763.8,964.3 1766.8,962.8 1769.8,961.1 1772.8,959.3 1775.8,957.4 1778.8,955.3 1781.9,953.2 1784.9,951.1 1787.9,949 1790.9,947.1 1793.9,945.3 1796.9,943.8 1799.9,942.7 1802.9,942 1806,941.7 1809,941.9 1812,942.6 1815,943.7 1818,945.3 1821,947.1 1824,949.2 1827,951.5 1830,953.9 1833.1,956.3 1836.1,958.7 1839.1,961 1842.1,963.3 1845.1,965.3 1848.1,967.2 1851.1,968.9 1854.1,970.4 1857.1,971.8 1860.2,973 1863.2,974 1866.2,974.8 1869.2,975.6 1872.2,976.2 1875.2,976.7 1878.2,977.2 1881.2,977.6 1884.3,977.9 1887.3,978.2 1890.3,978.5 1893.3,978.8 1896.3,979 1899.3,979.2 1902.3,979.4 1905.3,979.6 1908.3,979.8 1911.4,980 1914.4,980.2 1917.4,980.4 1920.4,980.6 1923.4,980.8 1926.4,981 1929.4,981.1 1932.4,981.3 1935.4,981.5 1938.5,981.7 1941.5,981.9" fill="none" stroke="#3a3a3a" stroke-width="0.9" stroke-linejoin="round" />
<path d="M1673.4,969 1676.5,969 1679.5,969.1 1682.5,969.2 1685.5,969.2 1688.5,969.3 1691.5,969.3 1694.5,969.2 1697.5,969.2 1700.5,969.1 1703.6,968.9 1706.6,968.6 1709.6,968.3 1712.6,967.9 1715.6,967.4 1718.6,966.8 1721.6,966 1724.6,965.2 1727.7,964.3 1730.7,963.3 1733.7,962.3 1736.7,961.2 1739.7,960.2 1742.7,959.3 1745.7,958.5 1748.7,957.8 1751.7,957.4 1754.8,957.2 1757.8,957.3 1760.8,957.7 1763.8,958.3 1766.8,959.1 1769.8,960.1 1772.8,961.3 1775.8,962.5 1778.8,963.8 1781.9,965.1 1784.9,966.4 1787.9,967.6 1790.9,968.8 1793.9,969.8 1796.9,970.7 1799.9,971.5 1802.9,972.3 1806,972.9 1809,973.4 1812,973.9 1815,974.3 1818,974.6 1821,974.9 1824,975.2 1827,975.5 1830,975.7 1833.1,975.9 1836.1,976.1 1839.1,976.3 1842.1,976.4" fill="none" stroke="#3a3a3a" stroke-width="0.9" stroke-linejoin="round" />
<path d="M1516.8,964.4 1519.9,964.5 1522.9,964.5 1525.9,964.6 1528.9,964.6 1531.9,964.7 1534.9,964.7 1537.9,964.8 1540.9,964.8 1543.9,964.8 1547,964.8 1550,964.8 1553,964.7 1556,964.6 1559,964.4 1562,964 1565,963.6 1568,962.9 1571,962.1 1574.1,961 1577.1,959.7 1580.1,958.2 1583.1,956.4 1586.1,954.4 1589.1,952.4 1592.1,950.3 1595.1,948.4 1598.2,946.8 1601.2,945.6 1604.2,945 1607.2,945 1610.2,945.7 1613.2,946.9 1616.2,948.6 1619.2,950.7 1622.2,952.8 1625.3,955.1 1628.3,957.2 1631.3,959.2 1634.3,961 1637.3,962.6 1640.3,963.9 1643.3,965 1646.3,965.8 1649.3,966.5 1652.4,967 1655.4,967.4 1658.4,967.8 1661.4,968 1664.4,968.3 1667.4,968.5 1670.4,968.6 1673.4,968.8 1676.5,968.9 1679.5,969.1 1682.5,969.2 1685.5,969.3 1688.5,969.5 1691.5,969.6 1694.5,969.7" fill="none" stroke="#3a3a3a" stroke-width="0.9" stroke-linejoin="round" />
<path d="M1441.5,962.7 1444.6,962.8 1447.6,962.8 1450.6,962.8 1453.6,962.8 1456.6,962.8 1459.6,962.8 1462.6,962.7 1465.6,962.6 1468.7,962.5 1471.7,962.3 1474.7,962 1477.7,961.7 1480.7,961.3 1483.7,960.7 1486.7,960.1 1489.7,959.5 1492.7,958.7 1495.8,957.8 1498.8,956.8 1501.8,955.8 1504.8,954.8 1507.8,953.8 1510.8,952.8 1513.8,951.9 1516.8,951 1519.9,950.4 1522.9,949.9 1525.9,949.7 1528.9,949.7 1531.9,949.9 1534.9,950.4 1537.9,951.1 1540.9,951.9 1543.9,952.9 1547,954 1550,955.2 1553,956.4 1556,957.5 1559,958.7 1562,959.7 1565,960.7 1568,961.6 1571,962.4 1574.1,963.1 1577.1,963.8 1580.1,964.3 1583.1,964.8 1586.1,965.2 1589.1,965.5 1592.1,965.8 1595.1,966 1598.2,966.2 1601.2,966.4 1604.2,966.5 1607.2,966.7 1610.2,966.8 1613.2,966.9 1616.2,967.1" fill="none" stroke="#3a3a3a" stroke-width="0.9" stroke-linejoin="round" />
<path d="M1441.5,961.9 1444.6,961.7 1447.6,961.5 1450.6,961.2 1453.6,960.8 1456.6,960.5 1459.6,960.1 1462.6,959.7 1465.6,959.3 1468.7,958.9 1471.7,958.6 1474.7,958.3 1477.7,958.1 1480.7,958 1483.7,958 1486.7,958.1 1489.7,958.3 1492.7,958.6 1495.8,959 1498.8,959.5 1501.8,960 1504.8,960.5 1507.8,961 1510.8,961.6 1513.8,962.1 1516.8,962.5 1519.9,963 1522.9,963.4 1525.9,963.7 1528.9,964 1531.9,964.3 1534.9,964.5 1537.9,964.7 1540.9,964.9 1543.9,965 1547,965.2" fill="none" stroke="#3a3a3a" stroke-width="0.9" stroke-linejoin="round" />
<path d="M1441.5,961.5 1444.6,961.2 1447.6,961 1450.6,960.6 1453.6,960.2 1456.6,959.8 1459.6,959.3 1462.6,958.8 1465.6,958.2 1468.7,957.6 1471.7,957 1474.7,956.3 1477.7,955.7 1480.7,955.1 1483.7,954.5 1486.7,954 1489.7,953.4 1492.7,952.8 1495.8,952.3 1498.8,951.7 1501.8,951.1 1504.8,950.6 1507.8,950 1510.8,949.4 1513.8,948.9 1516.8,948.5 1519.9,948.2 1522.9,948 1525.9,948 1528.9,948.2 1531.9,948.6 1534.9,949.2 1537.9,949.9 1540.9,950.8 1543.9,951.9 1547,952.9 1550,954 1553,955.1 1556,956 1559,956.9 1562,957.5 1565,958 1568,958.2 1571,958 1574.1,957.6 1577.1,956.8 1580.1,955.7 1583.1,954.3 1586.1,952.6 1589.1,950.7 1592.1,948.8 1595.1,947 1598.2,945.4 1601.2,944.2 1604.2,943.4 1607.2,943.1 1610.2,943.2 1613.2,943.5 1616.2,943.7 1619.2,943.7 1622.2,943.3 1625.3,942.5 1628.3,941.3 1631.3,940.2 1634.3,939.6 1637.3,940 1640.3,941.7 1643.3,944.6 1646.3,948.3 1649.3,952.3 1652.4,956.1 1655.4,959.3 1658.4,962 1661.4,963.9 1664.4,965.3 1667.4,966.3 1670.4,966.9 1673.4,967.3 1676.5,967.6 1679.5,967.8 1682.5,967.9 1685.5,968 1688.5,968.1 1691.5,968.2 1694.5,968.2 1697.5,968.1 1700.5,968 1703.6,967.8 1706.6,967.6 1709.6,967.3 1712.6,966.8 1715.6,966.3 1718.6,965.6 1721.6,964.8 1724.6,963.9 1727.7,962.9 1730.7,961.7 1733.7,960.5 1736.7,959.2 1739.7,957.9 1742.7,956.6 1745.7,955.3 1748.7,954 1751.7,952.9 1754.8,951.8 1757.8,950.8 1760.8,949.9 1763.8,949.1 1766.8,948.3 1769.8,947.6 1772.8,946.8 1775.8,945.9 1778.8,945 1781.9,944 1784.9,943 1787.9,941.9 1790.9,940.9 1793.9,940.1 1796.9,939.3 1799.9,938.8 1802.9,938.6 1806,938.8 1809,939.3 1812,940.2 1815,941.5 1818,943.1 1821,944.9 1824,946.9 1827,948.9 1830,950.9 1833.1,952.8 1836.1,954.4 1839.1,955.7 1842.1,956.5 1845.1,956.7 1848.1,956.3 1851.1,955.3 1854.1,953.4 1857.1,951 1860.2,947.9 1863.2,944.3 1866.2,940.5 1869.2,936.6 1872.2,932.9 1875.2,929.6 1878.2,926.9 1881.2,924.8 1884.3,923.2 1887.3,921.6 1890.3,919.7 1893.3,917.4 1896.3,914.8 1899.3,912.7 1902.3,912.4 1905.3,915.2 1908.3,921.5 1911.4,930.6 1914.4,940.8 1917.4,950.7 1920.4,959.3 1923.4,966 1926.4,970.8 1929.4,974.2 1932.4,976.3 1935.4,977.8 1938.5,978.8 1941.5,979.5 1944.5,980 1947.5,980.4 1950.5,980.8 1953.5,981.1 1956.5,981.5 1959.5,981.7 1962.6,982 1965.6,982.3 1968.6,982.5 1971.6,982.8 1974.6,983" fill="none" stroke="#3a3a3a" stroke-width="1.5" stroke-linejoin="round" />
<text x="1447.8" y="946.9" font-size="24.5" text-anchor="start" fill="#000" >120 s</text>
<path d="M1854.1,1051.2 1857.1,1051.3 1860.2,1051.3 1863.2,1051.4 1866.2,1051.4 1869.2,1051.5 1872.2,1051.5 1875.2,1051.4 1878.2,1051.3 1881.2,1051.1 1884.3,1050.6 1887.3,1049.8 1890.3,1048.6 1893.3,1047.1 1896.3,1045.3 1899.3,1043.6 1902.3,1042.4 1905.3,1042 1908.3,1042.6 1911.4,1044 1914.4,1045.8 1917.4,1047.7 1920.4,1049.4 1923.4,1050.7 1926.4,1051.6 1929.4,1052.2 1932.4,1052.6 1935.4,1052.9 1938.5,1053.1 1941.5,1053.2 1944.5,1053.3 1947.5,1053.4 1950.5,1053.5 1953.5,1053.6 1956.5,1053.7 1956.5,1053.8 1854.1,1051.3Z" fill="url(#fGrn)"/>
<path d="M1595.1,1046.3 1598.2,1046.3 1601.2,1046.4 1604.2,1046.3 1607.2,1046.3 1610.2,1046.2 1613.2,1046 1616.2,1045.6 1619.2,1045.2 1622.2,1044.5 1625.3,1043.8 1628.3,1043 1631.3,1042.2 1634.3,1041.6 1637.3,1041.4 1640.3,1041.5 1643.3,1042.1 1646.3,1042.8 1649.3,1043.8 1652.4,1044.6 1655.4,1045.4 1658.4,1046.1 1661.4,1046.6 1664.4,1046.9 1667.4,1047.2 1670.4,1047.4 1673.4,1047.5 1676.5,1047.6 1679.5,1047.7 1682.5,1047.7 1682.5,1047.8 1595.1,1046.4Z" fill="url(#fGrn)"/>
<defs><path id="dp35" d="M1442.5,1040.6 1444.5,1042.1 1446.5,1042.7 1448.5,1039.9 1450.5,1041.8 1452.5,1046.1 1454.5,1040.4 1456.5,1041.5 1458.5,1042.5 1460.5,1039.1 1462.5,1042 1464.5,1043.5 1466.5,1041.7 1468.5,1040.2 1470.5,1041.9 1472.5,1040.5 1474.5,1041.9 1476.5,1041.6 1478.5,1041.3 1480.5,1040.1 1482.5,1043.4 1484.5,1041.6 1486.5,1042.1 1488.5,1041.4 1490.5,1040.6 1492.5,1041.7 1494.5,1041.1 1496.5,1041.2 1498.5,1041 1500.5,1040.1 1502.5,1040.8 1504.5,1040.9 1506.5,1041.8 1508.5,1039.3 1510.5,1041.8 1512.5,1036.7 1514.5,1038.6 1516.5,1040 1518.5,1039.1 1520.5,1040.6 1522.5,1036.9 1524.5,1037.8 1526.5,1037.6 1528.5,1039.9 1530.5,1042.1 1532.5,1038.4 1534.5,1039.4 1536.5,1038.8 1538.5,1041.7 1540.5,1041.5 1542.5,1041.8 1544.5,1039.9 1546.5,1040.8 1548.5,1040.5 1550.5,1040.8 1552.5,1041.4 1554.5,1042.6 1556.5,1039.7 1558.5,1044.5 1560.5,1042.8 1562.5,1045.5 1564.5,1044.7 1566.5,1043.1 1568.5,1043.5 1570.5,1044.3 1572.5,1041.6 1574.5,1044.3 1576.5,1042.7 1578.5,1042.8 1580.5,1041.5 1582.5,1042 1584.5,1040.6 1586.5,1040.1 1588.5,1041.7 1590.5,1042.2 1592.5,1041 1594.5,1038.3 1596.5,1039.7 1598.5,1038.9 1600.5,1039.3 1602.5,1038.4 1604.5,1038.5 1606.5,1039.7 1608.5,1038.8 1610.5,1039.4 1612.5,1038.8 1614.5,1038.2 1616.5,1039 1618.5,1037.4 1620.5,1040 1622.5,1039.4 1624.5,1039.1 1626.5,1040.6 1628.5,1037.5 1630.5,1040.4 1632.5,1039.9 1634.5,1039 1636.5,1037.3 1638.5,1039.4 1640.5,1038.6 1642.5,1038.7 1644.5,1040.6 1646.5,1041.5 1648.5,1040.6 1650.5,1042.4 1652.5,1048.1 1654.5,1042.2 1656.5,1044.9 1658.5,1044.3 1660.5,1044.1 1662.5,1046 1664.5,1043.4 1666.5,1043.1 1668.5,1045.9 1670.5,1046.3 1672.5,1045.5 1674.5,1047.7 1676.5,1045.7 1678.5,1046.6 1680.5,1044.1 1682.5,1048.5 1684.5,1045.7 1686.5,1046.3 1688.5,1047.1 1690.5,1045.5 1692.5,1047 1694.5,1046.6 1696.5,1048.1 1698.5,1045 1700.5,1046.4 1702.5,1046.4 1704.5,1045.6 1706.5,1044.9 1708.5,1046.8 1710.5,1044.1 1712.5,1044.4 1714.5,1046 1716.5,1046 1718.5,1044.8 1720.5,1045.1 1722.5,1044.1 1724.5,1046.4 1726.5,1045.8 1728.5,1047.7 1730.5,1044.1 1732.5,1045.8 1734.5,1044.2 1736.5,1044.3 1738.5,1042.3 1740.5,1047.9 1742.5,1044.8 1744.5,1044.6 1746.5,1043.6 1748.5,1041.6 1750.5,1041 1752.5,1041 1754.5,1043.5 1756.5,1041.3 1758.5,1042.2 1760.5,1042.4 1762.5,1042.1 1764.5,1041.2 1766.5,1041.2 1768.5,1041.9 1770.5,1041.6 1772.5,1040 1774.5,1042.8 1776.5,1042.5 1778.5,1042.2 1780.5,1041.7 1782.5,1040.3 1784.5,1043 1786.5,1039.7 1788.5,1039.8 1790.5,1039.4 1792.5,1041.4 1794.5,1040.5 1796.5,1038.7 1798.5,1039.7 1800.5,1039.1 1802.5,1041.4 1804.5,1041.3 1806.5,1039.5 1808.5,1040.2 1810.5,1040.5 1812.5,1041.6 1814.5,1041.6 1816.5,1041.4 1818.5,1041.6 1820.5,1041.3 1822.5,1041 1824.5,1043.1 1826.5,1044.4 1828.5,1045.6 1830.5,1043 1832.5,1044.4 1834.5,1043.3 1836.5,1044.3 1838.5,1043.5 1840.5,1044.7 1842.5,1043.9 1844.5,1044.8 1846.5,1045.8 1848.5,1043.4 1850.5,1043.9 1852.5,1043.4 1854.5,1044.9 1856.5,1043.8 1858.5,1042.9 1860.5,1042.5 1862.5,1043.1 1864.5,1044.2 1866.5,1040.3 1868.5,1040.8 1870.5,1039.7 1872.5,1037.6 1874.5,1036.5 1876.5,1037.1 1878.5,1036.8 1880.5,1036.9 1882.5,1036.1 1884.5,1035.2 1886.5,1038.4 1888.5,1033 1890.5,1033.6 1892.5,1037.1 1894.5,1035.5 1896.5,1034 1898.5,1033.1 1900.5,1036.7 1902.5,1034.5 1904.5,1033.5 1906.5,1035.8 1908.5,1039.1 1910.5,1038.7 1912.5,1040.1 1914.5,1042 1916.5,1044.2 1918.5,1044 1920.5,1046.4 1922.5,1048.6 1924.5,1052.3 1926.5,1047.6 1928.5,1050 1930.5,1049 1932.5,1055.1 1934.5,1049.7 1936.5,1050.1 1938.5,1052.8 1940.5,1053.1 1942.5,1049.9 1944.5,1054.3 1946.5,1053 1948.5,1053.2 1950.5,1052.2 1952.5,1050.1 1954.5,1056.1 1956.5,1051.1 1958.5,1052.1 1960.5,1051.8 1962.5,1053.9 1964.5,1051.7 1966.5,1051.7 1968.5,1053.5 1970.5,1053.6 1972.5,1052.8"/></defs>
<use href="#dp35" fill="none" stroke="#cdcdcd" stroke-width="5.2" stroke-linecap="round" stroke-dasharray="0 2.6"/>
<use href="#dp35" fill="none" stroke="#ededed" stroke-width="2.6" stroke-linecap="round" stroke-dasharray="0 2.6"/>
<path d="M1441.5,1044.4 1453.6,1044.6 1465.6,1044.7 1477.7,1044.9 1489.7,1045 1501.8,1045.2 1513.8,1045.3 1525.9,1045.5 1537.9,1045.6 1550,1045.8 1562,1046 1574.1,1046.1 1586.1,1046.3 1598.2,1046.5 1610.2,1046.7 1622.2,1046.8 1634.3,1047 1646.3,1047.2 1658.4,1047.4 1670.4,1047.6 1682.5,1047.8 1694.5,1048.1 1706.6,1048.3 1718.6,1048.5 1730.7,1048.7 1742.7,1049 1754.8,1049.2 1766.8,1049.4 1778.8,1049.7 1790.9,1049.9 1802.9,1050.2 1815,1050.5 1827,1050.7 1839.1,1051 1851.1,1051.3 1863.2,1051.5 1875.2,1051.8 1887.3,1052.1 1899.3,1052.4 1911.4,1052.7 1923.4,1053 1935.4,1053.3 1947.5,1053.5 1959.5,1053.8 1971.6,1054.1 1974.6,1054.2" fill="none" stroke="#222" stroke-width="1.4" stroke-linejoin="round" />
<path d="M1812,1050.2 1815,1050.2 1818,1050.2 1821,1050.3 1824,1050.3 1827,1050.2 1830,1050.2 1833.1,1050.1 1836.1,1050 1839.1,1049.8 1842.1,1049.5 1845.1,1049.1 1848.1,1048.5 1851.1,1047.9 1854.1,1047.1 1857.1,1046.2 1860.2,1045.2 1863.2,1044.1 1866.2,1043 1869.2,1041.9 1872.2,1040.9 1875.2,1040 1878.2,1039.5 1881.2,1039.2 1884.3,1039.3 1887.3,1039.8 1890.3,1040.5 1893.3,1041.5 1896.3,1042.7 1899.3,1044 1902.3,1045.2 1905.3,1046.4 1908.3,1047.6 1911.4,1048.6 1914.4,1049.5 1917.4,1050.3 1920.4,1050.9 1923.4,1051.4 1926.4,1051.9 1929.4,1052.2 1932.4,1052.5 1935.4,1052.7 1938.5,1052.9 1941.5,1053 1944.5,1053.1 1947.5,1053.3 1950.5,1053.4 1953.5,1053.5" fill="none" stroke="#3a3a3a" stroke-width="0.9" stroke-linejoin="round" />
<path d="M1727.7,1048.4 1730.7,1048.5 1733.7,1048.5 1736.7,1048.5 1739.7,1048.4 1742.7,1048.4 1745.7,1048.3 1748.7,1048.2 1751.7,1048.1 1754.8,1047.9 1757.8,1047.7 1760.8,1047.5 1763.8,1047.2 1766.8,1046.8 1769.8,1046.4 1772.8,1046 1775.8,1045.5 1778.8,1045 1781.9,1044.4 1784.9,1043.9 1787.9,1043.4 1790.9,1042.9 1793.9,1042.5 1796.9,1042.2 1799.9,1041.9 1802.9,1041.7 1806,1041.7 1809,1041.8 1812,1042 1815,1042.3 1818,1042.7 1821,1043.2 1824,1043.8 1827,1044.4 1830,1045.1 1833.1,1045.7 1836.1,1046.4 1839.1,1047 1842.1,1047.6 1845.1,1048.1 1848.1,1048.7 1851.1,1049.1 1854.1,1049.6 1857.1,1049.9 1860.2,1050.3 1863.2,1050.6 1866.2,1050.8 1869.2,1051 1872.2,1051.2 1875.2,1051.4 1878.2,1051.5 1881.2,1051.7 1884.3,1051.8 1887.3,1051.9" fill="none" stroke="#3a3a3a" stroke-width="0.9" stroke-linejoin="round" />
<path d="M1697.5,1047.9 1700.5,1047.9 1703.6,1047.8 1706.6,1047.8 1709.6,1047.7 1712.6,1047.7 1715.6,1047.6 1718.6,1047.4 1721.6,1047.3 1724.6,1047.1 1727.7,1046.9 1730.7,1046.6 1733.7,1046.4 1736.7,1046.1 1739.7,1045.9 1742.7,1045.7 1745.7,1045.5 1748.7,1045.4 1751.7,1045.3 1754.8,1045.3 1757.8,1045.3 1760.8,1045.4 1763.8,1045.6 1766.8,1045.8 1769.8,1046.1 1772.8,1046.5 1775.8,1046.8 1778.8,1047.2 1781.9,1047.5 1784.9,1047.9 1787.9,1048.2 1790.9,1048.6 1793.9,1048.8 1796.9,1049.1 1799.9,1049.4 1802.9,1049.6 1806,1049.8 1809,1049.9 1812,1050.1 1815,1050.2 1818,1050.3" fill="none" stroke="#3a3a3a" stroke-width="0.9" stroke-linejoin="round" />
<path d="M1553,1045.6 1556,1045.6 1559,1045.6 1562,1045.5 1565,1045.4 1568,1045.3 1571,1045.1 1574.1,1044.8 1577.1,1044.5 1580.1,1044.1 1583.1,1043.7 1586.1,1043.2 1589.1,1042.7 1592.1,1042.2 1595.1,1041.7 1598.2,1041.3 1601.2,1041 1604.2,1040.9 1607.2,1040.9 1610.2,1041.1 1613.2,1041.5 1616.2,1041.9 1619.2,1042.5 1622.2,1043.1 1625.3,1043.7 1628.3,1044.2 1631.3,1044.8 1634.3,1045.3 1637.3,1045.7 1640.3,1046.1 1643.3,1046.4 1646.3,1046.6 1649.3,1046.8 1652.4,1047 1655.4,1047.1 1658.4,1047.2" fill="none" stroke="#3a3a3a" stroke-width="0.9" stroke-linejoin="round" />
<path d="M1465.6,1044.5 1468.7,1044.5 1471.7,1044.4 1474.7,1044.4 1477.7,1044.3 1480.7,1044.2 1483.7,1044.1 1486.7,1044 1489.7,1043.8 1492.7,1043.6 1495.8,1043.4 1498.8,1043.2 1501.8,1043 1504.8,1042.7 1507.8,1042.5 1510.8,1042.2 1513.8,1042 1516.8,1041.8 1519.9,1041.7 1522.9,1041.6 1525.9,1041.5 1528.9,1041.6 1531.9,1041.6 1534.9,1041.8 1537.9,1042 1540.9,1042.2 1543.9,1042.5 1547,1042.8 1550,1043.1 1553,1043.5 1556,1043.8 1559,1044.1 1562,1044.4 1565,1044.7 1568,1044.9 1571,1045.2 1574.1,1045.4 1577.1,1045.5 1580.1,1045.7 1583.1,1045.8 1586.1,1046 1589.1,1046.1 1592.1,1046.2" fill="none" stroke="#3a3a3a" stroke-width="0.9" stroke-linejoin="round" />
<path d="M1441.5,1044.1 1444.6,1044.1 1447.6,1044 1450.6,1044 1453.6,1043.9 1456.6,1043.9 1459.6,1043.8 1462.6,1043.7 1465.6,1043.6 1468.7,1043.5 1471.7,1043.5 1474.7,1043.4 1477.7,1043.4 1480.7,1043.4 1483.7,1043.4 1486.7,1043.4 1489.7,1043.5 1492.7,1043.6 1495.8,1043.7 1498.8,1043.9 1501.8,1044 1504.8,1044.2 1507.8,1044.3 1510.8,1044.5 1513.8,1044.7 1516.8,1044.8 1519.9,1044.9 1522.9,1045.1 1525.9,1045.2 1528.9,1045.3" fill="none" stroke="#3a3a3a" stroke-width="0.9" stroke-linejoin="round" />
<path d="M1441.5,1044 1444.6,1044 1447.6,1043.9 1450.6,1043.8 1453.6,1043.8 1456.6,1043.7 1459.6,1043.6 1462.6,1043.4 1465.6,1043.3 1468.7,1043.2 1471.7,1043 1474.7,1042.9 1477.7,1042.8 1480.7,1042.6 1483.7,1042.5 1486.7,1042.4 1489.7,1042.2 1492.7,1042.1 1495.8,1042 1498.8,1041.9 1501.8,1041.7 1504.8,1041.6 1507.8,1041.5 1510.8,1041.4 1513.8,1041.3 1516.8,1041.2 1519.9,1041.1 1522.9,1041.1 1525.9,1041.1 1528.9,1041.2 1531.9,1041.3 1534.9,1041.5 1537.9,1041.7 1540.9,1041.9 1543.9,1042.2 1547,1042.5 1550,1042.8 1553,1043.1 1556,1043.4 1559,1043.6 1562,1043.8 1565,1044 1568,1044 1571,1044 1574.1,1043.9 1577.1,1043.7 1580.1,1043.5 1583.1,1043.1 1586.1,1042.7 1589.1,1042.3 1592.1,1041.8 1595.1,1041.3 1598.2,1041 1601.2,1040.7 1604.2,1040.5 1607.2,1040.4 1610.2,1040.5 1613.2,1040.6 1616.2,1040.7 1619.2,1040.7 1622.2,1040.6 1625.3,1040.4 1628.3,1040.1 1631.3,1039.8 1634.3,1039.7 1637.3,1039.8 1640.3,1040.3 1643.3,1041.1 1646.3,1042.1 1649.3,1043.1 1652.4,1044.1 1655.4,1045 1658.4,1045.7 1661.4,1046.2 1664.4,1046.6 1667.4,1046.9 1670.4,1047.1 1673.4,1047.2 1676.5,1047.3 1679.5,1047.4 1682.5,1047.4 1685.5,1047.5 1688.5,1047.5 1691.5,1047.6 1694.5,1047.6 1697.5,1047.6 1700.5,1047.6 1703.6,1047.6 1706.6,1047.5 1709.6,1047.5 1712.6,1047.4 1715.6,1047.3 1718.6,1047.1 1721.6,1046.9 1724.6,1046.7 1727.7,1046.5 1730.7,1046.2 1733.7,1045.9 1736.7,1045.6 1739.7,1045.3 1742.7,1045 1745.7,1044.7 1748.7,1044.4 1751.7,1044.1 1754.8,1043.8 1757.8,1043.6 1760.8,1043.4 1763.8,1043.2 1766.8,1043.1 1769.8,1042.9 1772.8,1042.7 1775.8,1042.5 1778.8,1042.3 1781.9,1042.1 1784.9,1041.8 1787.9,1041.6 1790.9,1041.4 1793.9,1041.2 1796.9,1041 1799.9,1040.9 1802.9,1040.9 1806,1040.9 1809,1041.1 1812,1041.4 1815,1041.7 1818,1042.1 1821,1042.6 1824,1043.2 1827,1043.7 1830,1044.3 1833.1,1044.8 1836.1,1045.3 1839.1,1045.6 1842.1,1045.8 1845.1,1045.9 1848.1,1045.9 1851.1,1045.6 1854.1,1045.2 1857.1,1044.5 1860.2,1043.8 1863.2,1042.9 1866.2,1041.9 1869.2,1040.9 1872.2,1040 1875.2,1039.2 1878.2,1038.5 1881.2,1038 1884.3,1037.6 1887.3,1037.2 1890.3,1036.8 1893.3,1036.2 1896.3,1035.5 1899.3,1035 1902.3,1035 1905.3,1035.7 1908.3,1037.4 1911.4,1039.8 1914.4,1042.4 1917.4,1045 1920.4,1047.3 1923.4,1049 1926.4,1050.3 1929.4,1051.2 1932.4,1051.8 1935.4,1052.2 1938.5,1052.5 1941.5,1052.7 1944.5,1052.9 1947.5,1053 1950.5,1053.1 1953.5,1053.3 1956.5,1053.4 1959.5,1053.5 1962.6,1053.6 1965.6,1053.7 1968.6,1053.8 1971.6,1053.9 1974.6,1053.9" fill="none" stroke="#3a3a3a" stroke-width="1.5" stroke-linejoin="round" />
<text x="1447.8" y="1031.2" font-size="24.5" text-anchor="start" fill="#000" >0 s</text>
<rect x="1443.1" y="625.6" width="531.9" height="434.2" fill="none" stroke="#000" stroke-width="1.8"/>
<line x1="1517.7" y1="1059.8" x2="1517.7" y2="1066.8" stroke="#000" stroke-width="1.8" />
<text x="1517.7" y="1088.6" font-size="27.3" text-anchor="middle" fill="#000" >880</text>
<line x1="1670" y1="1059.8" x2="1670" y2="1066.8" stroke="#000" stroke-width="1.8" />
<text x="1670" y="1088.6" font-size="27.3" text-anchor="middle" fill="#000" >870</text>
<line x1="1822.3" y1="1059.8" x2="1822.3" y2="1066.8" stroke="#000" stroke-width="1.8" />
<text x="1822.3" y="1088.6" font-size="27.3" text-anchor="middle" fill="#000" >860</text>
<line x1="1974.6" y1="1059.8" x2="1974.6" y2="1066.8" stroke="#000" stroke-width="1.8" />
<text x="1974.6" y="1088.6" font-size="27.3" text-anchor="middle" fill="#000" >850</text>
<line x1="1441.55" y1="1059.8" x2="1441.55" y2="1064.1" stroke="#000" stroke-width="1.8" />
<line x1="1593.85" y1="1059.8" x2="1593.85" y2="1064.1" stroke="#000" stroke-width="1.8" />
<line x1="1746.15" y1="1059.8" x2="1746.15" y2="1064.1" stroke="#000" stroke-width="1.8" />
<line x1="1898.45" y1="1059.8" x2="1898.45" y2="1064.1" stroke="#000" stroke-width="1.8" />
<line x1="1615.2" y1="625.6" x2="1615.2" y2="1059.8" stroke="#000" stroke-width="1.5" stroke-dasharray="4.2 3"/>
<line x1="1640.5" y1="625.6" x2="1640.5" y2="1059.8" stroke="#000" stroke-width="1.5" stroke-dasharray="4.2 3"/>
<line x1="1881.3" y1="625.6" x2="1881.3" y2="1059.8" stroke="#000" stroke-width="1.5" stroke-dasharray="4.2 3"/>
<line x1="1902.8" y1="625.6" x2="1902.8" y2="1059.8" stroke="#000" stroke-width="1.5" stroke-dasharray="4.2 3"/>
<text x="1447.6" y="656.8" font-size="29.6">Ni <tspan font-style="italic">2p</tspan></text>
<text x="1560.4" y="653.9" font-size="27.5">Ni<tspan font-size="18.5" dy="-11.5">3+</tspan></text>
<text x="1648.4" y="653.9" font-size="27.5">Ni<tspan font-size="18.5" dy="-11.5">2+</tspan></text>
<text x="1825.1" y="653.9" font-size="27.5">Ni<tspan font-size="18.5" dy="-11.5">3+</tspan></text>
<text x="1920.7" y="653.9" font-size="27.5">Ni<tspan font-size="18.5" dy="-11.5">2+</tspan></text>
<line x1="1609.7" y1="694" x2="1577.2" y2="663.1" stroke="#000" stroke-width="1.1" marker-end="url(#ah2)"/>
<line x1="1648" y1="697.5" x2="1667" y2="663.1" stroke="#000" stroke-width="1.1" marker-end="url(#ah2)"/>
<line x1="1874.9" y1="693.3" x2="1849.1" y2="660.8" stroke="#000" stroke-width="1.1" marker-end="url(#ah2)"/>
<line x1="1912.2" y1="690.2" x2="1938" y2="659.6" stroke="#000" stroke-width="1.1" marker-end="url(#ah2)"/>
<text x="1708.9" y="1133" font-size="34.7" text-anchor="middle" fill="#000" >Binding Energy (eV)</text>
<text transform="translate(1427.0,842.8) rotate(-90)" font-size="35" text-anchor="middle">Intensity (arb.u.)</text>
<text x="1342.9" y="629.7" font-size="40" text-anchor="start" fill="#000" >f</text>
</svg></body></html>
